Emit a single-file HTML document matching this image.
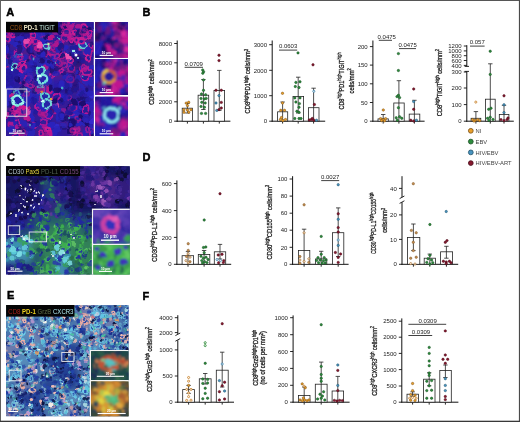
<!DOCTYPE html><html><head><meta charset="utf-8"><title>Figure</title><style>html,body{margin:0;padding:0;background:#fff}svg{display:block}.ta{fill:#361e98;opacity:0.8}.tb{fill:#58208c;opacity:0.8}.tc{fill:#2a34b4;opacity:0.8}.td{fill:#2a20ac;opacity:0.8}.te{fill:#1e1064;opacity:0.8}.tf{fill:#20127a;opacity:0.65}.tg{fill:#2c1c98;stroke:#c81c94;stroke-width:1.9;opacity:0.85}.th{fill:#2a24bc;opacity:0.65}.ti{fill:#2a22b4;opacity:0.65}.tj{fill:#1c1070;opacity:1.0}.tk{fill:#2a22b4;opacity:1.0}.tl{fill:#1c1070;opacity:0.65}.tm{fill:#2a22b4;opacity:0.85}.tn{fill:#b81888;opacity:0.85}.to{fill:#2a24bc;opacity:0.85}.tp{fill:#a81890;opacity:0.85}.tq{fill:#20127a;opacity:0.85}.tr{fill:#1c1070;opacity:0.85}.ts{fill:#241a9c;opacity:0.85}.tt{fill:#241a9c;opacity:1.0}.tu{fill:#2a24bc;opacity:1.0}.tv{fill:#b81890;opacity:0.85}.tw{fill:#2c1c98;stroke:#b8189a;stroke-width:1.8;opacity:0.85}.tx{fill:#2c1c98;stroke:#b8189a;stroke-width:1.8;opacity:1.0}.ty{fill:#a81890;opacity:0.65}.tz{fill:#2a30b0;stroke:#60d4d0;stroke-width:1.6;opacity:1.0}.taa{fill:#a81890;opacity:1.0}.tab{fill:#241a9c;opacity:0.65}.tac{fill:#2c1c98;stroke:#b8189a;stroke-width:1.8;opacity:0.65}.tad{fill:#2c1c98;stroke:#c81c94;stroke-width:1.9;opacity:0.65}.tae{fill:#20127a;opacity:1.0}.taf{fill:#342cd0;opacity:1.0}.tag{fill:#241888;opacity:0.85}.tah{fill:#1a0e58;opacity:0.65}.tai{fill:#ec50b0;opacity:1.0}.taj{fill:#1a0e58;opacity:0.85}.tak{fill:#2c1c98;stroke:#c81c94;stroke-width:1.9;opacity:1.0}.tal{fill:#ec50b0;opacity:0.85}.tam{fill:none;stroke:#b01890;stroke-width:1.7;opacity:0.85}.tan{fill:#342cd0;opacity:0.65}.tao{fill:#2a30b0;stroke:#60d4d0;stroke-width:1.6;opacity:0.65}.tap{fill:#342cd0;opacity:0.85}.taq{fill:#241888;opacity:0.65}.tar{fill:none;stroke:#b01890;stroke-width:1.7;opacity:1.0}.tas{fill:#b81890;opacity:1.0}.tat{fill:#b81888;opacity:0.65}.tau{fill:#2420a8;stroke:#a01890;stroke-width:1.6;opacity:0.85}.tav{fill:#b81890;opacity:0.65}.taw{fill:#2420a8;stroke:#a01890;stroke-width:1.6;opacity:0.65}.tax{fill:#b81888;opacity:1.0}.tay{fill:none;stroke:#b01890;stroke-width:1.7;opacity:0.65}.taz{fill:#1a0e58;opacity:1.0}.tba{fill:#481078;opacity:0.85}.tbb{fill:#2420a8;stroke:#a01890;stroke-width:1.6;opacity:1.0}.tbc{fill:#241888;opacity:1.0}.tbd{fill:#1e1058;opacity:0.8}.tbe{fill:#281ea4;opacity:0.8}.tbf{fill:#901c8c;opacity:0.8}.tbg{fill:#600c50;opacity:0.65}.tbh{fill:#701880;opacity:1.0}.tbi{fill:#1a1060;opacity:0.85}.tbj{fill:#dc2aa0;opacity:0.65}.tbk{fill:#dc2aa0;opacity:1.0}.tbl{fill:#2a24b8;opacity:1.0}.tbm{fill:#2a24b8;opacity:0.85}.tbn{fill:#c01890;opacity:1.0}.tbo{fill:#c01890;opacity:0.65}.tbp{fill:#2a1a90;opacity:0.65}.tbq{fill:#2a24b8;opacity:0.65}.tbr{fill:#1a1060;opacity:1.0}.tbs{fill:#2a1a90;opacity:1.0}.tbt{fill:#701880;opacity:0.65}.tbu{fill:#701880;opacity:0.85}.tbv{fill:#1a1060;opacity:0.65}.tbw{fill:#c01890;opacity:0.85}.tbx{fill:#600c50;opacity:0.85}.tby{fill:#dc2aa0;opacity:0.85}.tbz{fill:#2a1a90;opacity:0.85}.tca{fill:#901880;opacity:1.0}.tcb{fill:#901880;opacity:0.65}.tcc{fill:#901880;opacity:0.85}.tcd{fill:#5028b0;opacity:1.0}.tce{fill:#5028b0;opacity:0.65}.tcf{fill:#181258;opacity:0.8}.tcg{fill:#34207e;opacity:0.8}.tch{fill:#1c1668;opacity:0.8}.tci{fill:#24487c;opacity:0.8}.tcj{fill:#202088;opacity:0.8}.tck{fill:#52298e;opacity:0.8}.tcl{fill:#286a68;opacity:0.8}.tcm{fill:#389850;opacity:0.8}.tcn{fill:#48a8b8;opacity:0.8}.tco{fill:#221a78;opacity:1.0}.tcp{fill:#2430a0;stroke:#48b858;stroke-width:1.3;opacity:0.85}.tcq{fill:#2428a0;opacity:1.0}.tcr{fill:#7038a8;opacity:0.65}.tcs{fill:#30805a;opacity:1.0}.tct{fill:#2230a0;opacity:0.85}.tcu{fill:#2a2088;opacity:0.85}.tcv{fill:#201870;opacity:1.0}.tcw{fill:#1c2a80;opacity:0.85}.tcx{fill:#0c0a34;opacity:0.85}.tcy{fill:#2428a0;opacity:0.85}.tcz{fill:#32208c;opacity:1.0}.tda{fill:#0c0a34;opacity:1.0}.tdb{fill:#6834a0;opacity:1.0}.tdc{fill:#3cac50;opacity:0.85}.tdd{fill:#2428a0;opacity:0.65}.tde{fill:#2a7850;opacity:1.0}.tdf{fill:#2224a0;opacity:1.0}.tdg{fill:#161050;opacity:1.0}.tdh{fill:#2838a8;opacity:0.65}.tdi{fill:#32208c;opacity:0.85}.tdj{fill:#32208c;opacity:0.65}.tdk{fill:#3890b0;opacity:0.85}.tdl{fill:#2a7048;opacity:0.85}.tdm{fill:#221a78;opacity:0.85}.tdn{fill:#161050;opacity:0.85}.tdo{fill:#2230a0;opacity:1.0}.tdp{fill:#3cac50;opacity:1.0}.tdq{fill:#201870;opacity:0.85}.tdr{fill:#3cac50;opacity:0.65}.tds{fill:#2a7850;opacity:0.65}.tdt{fill:#1c2a80;opacity:0.65}.tdu{fill:#1c1a80;opacity:0.65}.tdv{fill:#2224a0;opacity:0.85}.tdw{fill:#2a2088;opacity:0.65}.tdx{fill:#60c464;opacity:0.85}.tdy{fill:#2430a0;stroke:#48b858;stroke-width:1.3;opacity:0.65}.tdz{fill:#60c464;opacity:1.0}.tea{fill:#245070;opacity:1.0}.teb{fill:#245070;opacity:0.85}.tec{fill:#2a7048;opacity:1.0}.ted{fill:#4a2c98;opacity:0.85}.tee{fill:#2430a0;stroke:#48b858;stroke-width:1.3;opacity:1.0}.tef{fill:#2a7850;opacity:0.85}.teg{fill:#161050;opacity:0.65}.teh{fill:#2a7048;opacity:0.65}.tei{fill:#2224a0;opacity:0.65}.tej{fill:#f0e8d0}.tek{fill:#201870;opacity:0.65}.tel{fill:#2230a0;stroke:#3ca850;stroke-width:1.3;opacity:0.65}.tem{fill:#0c0a34;opacity:0.65}.ten{fill:#a860c0;opacity:0.85}.teo{fill:#2230a0;opacity:0.65}.tep{fill:#4a2c98;opacity:0.65}.teq{fill:#221a78;opacity:0.65}.ter{fill:#6834a0;opacity:0.85}.tes{fill:#2a2088;opacity:1.0}.tet{fill:#1c2a80;opacity:1.0}.teu{fill:#4a2c98;opacity:1.0}.tev{fill:#3890b0;opacity:0.65}.tew{fill:#1c5060;opacity:0.85}.tex{fill:#ffffff}.tey{fill:#245070;opacity:0.65}.tez{fill:#1c1a80;opacity:1.0}.tfa{fill:#2230a0;stroke:#3ca850;stroke-width:1.3;opacity:1.0}.tfb{fill:#30805a;opacity:0.85}.tfc{fill:#38a060;opacity:1.0}.tfd{fill:#2230a0;stroke:#3ca850;stroke-width:1.3;opacity:0.85}.tfe{fill:#1c5060;opacity:0.65}.tff{fill:#1c5060;opacity:1.0}.tfg{fill:#8444b0;opacity:0.85}.tfh{fill:#30805a;opacity:0.65}.tfi{fill:#2a3c98;opacity:0.65}.tfj{fill:#38a060;opacity:0.85}.tfk{fill:#1c1a80;opacity:0.85}.tfl{fill:#2a3c98;opacity:0.85}.tfm{fill:#58c8d8;opacity:1.0}.tfn{fill:#6834a0;opacity:0.65}.tfo{fill:#60c464;opacity:0.65}.tfp{fill:#2838a8;opacity:1.0}.tfq{fill:#38a060;opacity:0.65}.tfr{fill:#58c8d8;opacity:0.65}.tfs{fill:#58c8d8;opacity:0.85}.tft{fill:#8444b0;opacity:0.65}.tfu{fill:#7038a8;opacity:1.0}.tfv{fill:#2838a8;opacity:0.85}.tfw{fill:#a860c0;opacity:0.65}.tfx{fill:#80e0e0;opacity:1.0}.tfy{fill:#3890b0;opacity:1.0}.tfz{fill:#8444b0;opacity:1.0}.tga{fill:#2a3c98;opacity:1.0}.tgb{fill:#7038a8;opacity:0.85}.tgc{fill:#5c42b4;opacity:0.8}.tgd{fill:#4632a8;opacity:0.8}.tge{fill:#38806c;opacity:0.8}.tgf{fill:#4632a8;opacity:1.0}.tgg{fill:#6a48b8;opacity:0.85}.tgh{fill:#5a3cb4;opacity:0.65}.tgi{fill:#4632a8;opacity:0.85}.tgj{fill:#3050a0;opacity:0.65}.tgk{fill:#4632a8;opacity:0.65}.tgl{fill:#5a40b4;opacity:0.85}.tgm{fill:#5a40b4;opacity:0.65}.tgn{fill:#6a48b8;opacity:1.0}.tgo{fill:#5a3cb4;opacity:0.85}.tgp{fill:#38a050;opacity:1.0}.tgq{fill:#3428a0;opacity:1.0}.tgr{fill:#5a3cb4;opacity:1.0}.tgs{fill:#3428a0;opacity:0.85}.tgt{fill:#3050a0;opacity:1.0}.tgu{fill:#5a40b4;opacity:1.0}.tgv{fill:#6a48b8;opacity:0.65}.tgw{fill:#38a050;opacity:0.65}.tgx{fill:#3428a0;opacity:0.65}.tgy{fill:#38a050;opacity:0.85}.tgz{fill:#3050a0;opacity:0.85}.tha{fill:#46a854;opacity:0.8}.thb{fill:#60c860;opacity:1.0}.thc{fill:#60c860;opacity:0.65}.thd{fill:#2a7050;opacity:0.85}.the{fill:#48b450;opacity:1.0}.thf{fill:#48b450;opacity:0.65}.thg{fill:#48b450;opacity:0.85}.thh{fill:#60c860;opacity:0.85}.thi{fill:#2a7050;opacity:0.65}.thj{fill:#2a7050;opacity:1.0}.thk{fill:#3c9c4c;opacity:0.85}.thl{fill:#3c9c4c;opacity:1.0}.thm{fill:#3c9c4c;opacity:0.65}.thn{fill:#5080b0;opacity:0.8}.tho{fill:#8088b0;opacity:0.8}.thp{fill:#64a0c4;opacity:0.8}.thq{fill:#223c90;opacity:0.8}.thr{fill:#1c3088;opacity:1.0}.ths{fill:#1c3088;opacity:0.85}.tht{fill:#1a34a0;opacity:0.85}.thu{fill:#ecbcb4;opacity:0.65}.thv{fill:#2a50b0;stroke:#70cce8;stroke-width:1.3;opacity:0.65}.thw{fill:#a4d4e0;opacity:0.85}.thx{fill:#1c3088;opacity:0.65}.thy{fill:#5cb4d0;opacity:1.0}.thz{fill:#2444a8;opacity:0.85}.tia{fill:#dcc8c0;opacity:0.85}.tib{fill:#5cb4d0;opacity:0.65}.tic{fill:#a4d4e0;opacity:0.65}.tid{fill:#5cb4d0;opacity:0.85}.tie{fill:#0c1844;opacity:1.0}.tif{fill:#3858b0;stroke:#ecb0a8;stroke-width:1.3;opacity:0.85}.tig{fill:#a4d4e0;opacity:1.0}.tih{fill:#2a48a8;stroke:#6cbcd8;stroke-width:1.3;opacity:0.85}.tii{fill:#b898d0;opacity:0.85}.tij{fill:#e4a8a0;opacity:0.85}.tik{fill:#e4a8a0;opacity:0.65}.til{fill:#b898d0;opacity:1.0}.tim{fill:#1a34a0;opacity:1.0}.tin{fill:#2a48a8;stroke:#6cbcd8;stroke-width:1.3;opacity:0.65}.tio{fill:#1a34a0;opacity:0.65}.tip{fill:#48b8a0;opacity:0.65}.tiq{fill:#2a48a8;stroke:#6cbcd8;stroke-width:1.3;opacity:1.0}.tir{fill:#0c1844;opacity:0.65}.tis{fill:#f4ece8;opacity:0.85}.tit{fill:#60c4e4;opacity:1.0}.tiu{fill:#58b8d8;opacity:1.0}.tiv{fill:#ecbcb4;opacity:0.85}.tiw{fill:#ecbcb4;opacity:1.0}.tix{fill:#2444a8;opacity:1.0}.tiy{fill:#2444a8;opacity:0.65}.tiz{fill:#e49c5c;opacity:1.0}.tja{fill:#0c1844;opacity:0.85}.tjb{fill:#e4a8a0;opacity:1.0}.tjc{fill:#f4f4ec;opacity:1.0}.tjd{fill:#2a50b0;stroke:#70cce8;stroke-width:1.3;opacity:1.0}.tje{fill:#3050a8;stroke:#ecb0a8;stroke-width:1.3;opacity:0.85}.tjf{fill:#3858b0;stroke:#ecb0a8;stroke-width:1.3;opacity:1.0}.tjg{fill:#3050a8;stroke:#ecb0a8;stroke-width:1.3;opacity:0.65}.tjh{fill:#2a50b0;stroke:#70cce8;stroke-width:1.3;opacity:0.85}.tji{fill:#60c4e4;opacity:0.65}.tjj{fill:#ecb8b0;opacity:0.85}.tjk{fill:#b898d0;opacity:0.65}.tjl{fill:#98dce8;opacity:1.0}.tjm{fill:#f4f4ec;opacity:0.65}.tjn{fill:#142068;opacity:0.85}.tjo{fill:#142068;opacity:1.0}.tjp{fill:#4cc4a4;opacity:0.85}.tjq{fill:#58b8d8;opacity:0.65}.tjr{fill:#142068;opacity:0.65}.tjs{fill:#3858b0;stroke:#ecb0a8;stroke-width:1.3;opacity:0.65}.tjt{fill:#48b8a0;opacity:1.0}.tju{fill:#dcc8c0;opacity:0.65}.tjv{fill:#e49c5c;opacity:0.65}.tjw{fill:#c47080;opacity:0.65}.tjx{fill:#e49c5c;opacity:0.85}.tjy{fill:#98dce8;opacity:0.85}.tjz{fill:#48b8a0;opacity:0.85}.tka{fill:#58b8d8;opacity:0.85}.tkb{fill:#ecb8b0;opacity:0.65}.tkc{fill:#48b0d0;opacity:0.65}.tkd{fill:#4cc4a4;opacity:0.65}.tke{fill:#c47080;opacity:0.85}.tkf{fill:#60c4e4;opacity:0.85}.tkg{fill:#48b0d0;opacity:0.85}.tkh{fill:#ecb8b0;opacity:1.0}.tki{fill:#c47080;opacity:1.0}.tkj{fill:#f4f4ec;opacity:0.85}.tkk{fill:#3050a8;stroke:#ecb0a8;stroke-width:1.3;opacity:1.0}.tkl{fill:#f4ece8;opacity:1.0}.tkm{fill:#dcc8c0;opacity:1.0}.tkn{fill:#48b0d0;opacity:1.0}.tko{fill:#98dce8;opacity:0.65}.tkp{fill:#f4ece8;opacity:0.65}.tkq{fill:#4cc4a4;opacity:1.0}.tkr{fill:#1e4448;opacity:0.8}.tks{fill:#a05838;opacity:0.8}.tkt{fill:#50b0a8;opacity:0.8}.tku{fill:#386850;opacity:0.8}.tkv{fill:#1c2c58;opacity:1.0}.tkw{fill:#1c4848;opacity:1.0}.tkx{fill:#245050;opacity:0.65}.tky{fill:#a04030;opacity:1.0}.tkz{fill:#2c5c48;opacity:1.0}.tla{fill:#1c2c58;opacity:0.85}.tlb{fill:#3c6c4c;opacity:1.0}.tlc{fill:#1c4848;opacity:0.65}.tld{fill:#c85030;opacity:0.85}.tle{fill:#306050;opacity:1.0}.tlf{fill:#c85030;opacity:1.0}.tlg{fill:#e08050;opacity:0.65}.tlh{fill:#1c4848;opacity:0.85}.tli{fill:#c85030;opacity:0.65}.tlj{fill:#e08050;opacity:1.0}.tlk{fill:#68c890;opacity:0.85}.tll{fill:#50c0c0;opacity:0.85}.tlm{fill:#68c890;opacity:0.65}.tln{fill:#50c0c0;opacity:0.65}.tlo{fill:#e08050;opacity:0.85}.tlp{fill:#50c0c0;opacity:1.0}.tlq{fill:#3c6c4c;opacity:0.85}.tlr{fill:#68c890;opacity:1.0}.tls{fill:#245050;opacity:1.0}.tlt{fill:#1c2c58;opacity:0.65}.tlu{fill:#3890a0;opacity:0.85}.tlv{fill:#306050;opacity:0.65}.tlw{fill:#a04030;opacity:0.65}.tlx{fill:#285858;opacity:1.0}.tly{fill:#3c6c4c;opacity:0.65}.tlz{fill:#2c5c48;opacity:0.85}.tma{fill:#306050;opacity:0.85}.tmb{fill:#245050;opacity:0.85}.tmc{fill:#a04030;opacity:0.85}.tmd{fill:#285858;opacity:0.85}.tme{fill:#2c5c48;opacity:0.65}.tmf{fill:#444838;opacity:0.8}.tmg{fill:#c08030;opacity:0.8}.tmh{fill:#d8c840;opacity:0.8}.tmi{fill:#58b878;opacity:0.8}.tmj{fill:#b0c850;opacity:0.85}.tmk{fill:#e0a840;opacity:1.0}.tml{fill:#2c4058;opacity:1.0}.tmm{fill:#d08830;opacity:0.85}.tmn{fill:#a86030;opacity:0.85}.tmo{fill:#d08830;opacity:1.0}.tmp{fill:#2c4058;opacity:0.85}.tmq{fill:#e8d840;opacity:0.65}.tmr{fill:#a86030;opacity:0.65}.tms{fill:#d89830;opacity:0.85}.tmt{fill:#e0a840;opacity:0.65}.tmu{fill:#384838;opacity:1.0}.tmv{fill:#785830;opacity:0.85}.tmw{fill:#384838;opacity:0.65}.tmx{fill:#78d098;opacity:0.65}.tmy{fill:#788040;opacity:1.0}.tmz{fill:#d08830;opacity:0.65}.tna{fill:#2c4058;opacity:0.65}.tnb{fill:#c8c040;opacity:1.0}.tnc{fill:#48b880;opacity:1.0}.tnd{fill:#785830;opacity:0.65}.tne{fill:#e8d840;opacity:1.0}.tnf{fill:#788040;opacity:0.65}.tng{fill:#e0a840;opacity:0.85}.tnh{fill:#384838;opacity:0.85}.tni{fill:#a86030;opacity:1.0}.tnj{fill:#48b880;opacity:0.65}.tnk{fill:#e8d840;opacity:0.85}.tnl{fill:#d89830;opacity:1.0}.tnm{fill:#b0c850;opacity:0.65}.tnn{fill:#785830;opacity:1.0}.tno{fill:#b0c850;opacity:1.0}.tnp{fill:#788040;opacity:0.85}.tnq{fill:#d89830;opacity:0.65}.tnr{fill:#c8c040;opacity:0.65}.tns{fill:#78d098;opacity:1.0}.tnt{fill:#78d098;opacity:0.85}</style></head><body><svg width="520" height="422" viewBox="0 0 520 422">
<defs><filter id="cb" x="-20%" y="-20%" width="140%" height="140%"><feGaussianBlur stdDeviation="3"/></filter><filter id="blA" x="-10%" y="-10%" width="120%" height="120%"><feTurbulence type="fractalNoise" baseFrequency="0.08" numOctaves="2" seed="2" result="n"/><feDisplacementMap in="SourceGraphic" in2="n" scale="6" xChannelSelector="R" yChannelSelector="G" result="d"/><feGaussianBlur in="d" stdDeviation="0.75"/></filter><filter id="blA1" x="-10%" y="-10%" width="120%" height="120%"><feTurbulence type="fractalNoise" baseFrequency="0.12" numOctaves="2" seed="2" result="n"/><feDisplacementMap in="SourceGraphic" in2="n" scale="3" xChannelSelector="R" yChannelSelector="G" result="d"/><feGaussianBlur in="d" stdDeviation="0.8"/></filter><filter id="blA2" x="-10%" y="-10%" width="120%" height="120%"><feTurbulence type="fractalNoise" baseFrequency="0.12" numOctaves="2" seed="2" result="n"/><feDisplacementMap in="SourceGraphic" in2="n" scale="3" xChannelSelector="R" yChannelSelector="G" result="d"/><feGaussianBlur in="d" stdDeviation="0.8"/></filter><filter id="blA3" x="-10%" y="-10%" width="120%" height="120%"><feTurbulence type="fractalNoise" baseFrequency="0.12" numOctaves="2" seed="2" result="n"/><feDisplacementMap in="SourceGraphic" in2="n" scale="3" xChannelSelector="R" yChannelSelector="G" result="d"/><feGaussianBlur in="d" stdDeviation="0.8"/></filter><filter id="blC" x="-10%" y="-10%" width="120%" height="120%"><feTurbulence type="fractalNoise" baseFrequency="0.09" numOctaves="2" seed="5" result="n"/><feDisplacementMap in="SourceGraphic" in2="n" scale="5" xChannelSelector="R" yChannelSelector="G" result="d"/><feGaussianBlur in="d" stdDeviation="0.65"/></filter><filter id="blC1" x="-10%" y="-10%" width="120%" height="120%"><feTurbulence type="fractalNoise" baseFrequency="0.09" numOctaves="2" seed="2" result="n"/><feDisplacementMap in="SourceGraphic" in2="n" scale="5" xChannelSelector="R" yChannelSelector="G" result="d"/><feGaussianBlur in="d" stdDeviation="1.0"/></filter><filter id="blC2" x="-10%" y="-10%" width="120%" height="120%"><feTurbulence type="fractalNoise" baseFrequency="0.09" numOctaves="2" seed="2" result="n"/><feDisplacementMap in="SourceGraphic" in2="n" scale="5" xChannelSelector="R" yChannelSelector="G" result="d"/><feGaussianBlur in="d" stdDeviation="0.8"/></filter><filter id="blE" x="-10%" y="-10%" width="120%" height="120%"><feTurbulence type="fractalNoise" baseFrequency="0.1" numOctaves="2" seed="9" result="n"/><feDisplacementMap in="SourceGraphic" in2="n" scale="5" xChannelSelector="R" yChannelSelector="G" result="d"/><feGaussianBlur in="d" stdDeviation="0.62"/></filter><filter id="blE1" x="-10%" y="-10%" width="120%" height="120%"><feTurbulence type="fractalNoise" baseFrequency="0.09" numOctaves="2" seed="2" result="n"/><feDisplacementMap in="SourceGraphic" in2="n" scale="5" xChannelSelector="R" yChannelSelector="G" result="d"/><feGaussianBlur in="d" stdDeviation="1.0"/></filter><filter id="blE2" x="-10%" y="-10%" width="120%" height="120%"><feTurbulence type="fractalNoise" baseFrequency="0.09" numOctaves="2" seed="2" result="n"/><feDisplacementMap in="SourceGraphic" in2="n" scale="5" xChannelSelector="R" yChannelSelector="G" result="d"/><feGaussianBlur in="d" stdDeviation="1.0"/></filter></defs>
<rect x="0" y="0" width="520" height="422" fill="#fff"/>
<text x="6.3" y="15.8" font-size="11" font-family="Liberation Sans, Arial, sans-serif" text-anchor="start" fill="#000" font-weight="bold" stroke="#000" stroke-width="0.45">A</text>
<text x="142.6" y="15.8" font-size="11" font-family="Liberation Sans, Arial, sans-serif" text-anchor="start" fill="#000" font-weight="bold" stroke="#000" stroke-width="0.45">B</text>
<text x="6.9" y="160.5" font-size="11" font-family="Liberation Sans, Arial, sans-serif" text-anchor="start" fill="#000" font-weight="bold" stroke="#000" stroke-width="0.45">C</text>
<text x="142.6" y="161.2" font-size="11" font-family="Liberation Sans, Arial, sans-serif" text-anchor="start" fill="#000" font-weight="bold" stroke="#000" stroke-width="0.45">D</text>
<text x="6.9" y="298.7" font-size="11" font-family="Liberation Sans, Arial, sans-serif" text-anchor="start" fill="#000" font-weight="bold" stroke="#000" stroke-width="0.45">E</text>
<text x="142.6" y="299.8" font-size="11" font-family="Liberation Sans, Arial, sans-serif" text-anchor="start" fill="#000" font-weight="bold" stroke="#000" stroke-width="0.45">F</text>
<clipPath id="cpA"><rect x="6" y="22" width="87.6" height="114"/></clipPath>
<g clip-path="url(#cpA)"><rect x="6" y="22" width="87.6" height="114" fill="#261c94"/>
<g filter="url(#cb)">
<rect x="-2" y="14" width="103.6" height="130" fill="#261c94"/>
<rect class="ta" x="-2" y="14" width="19.4" height="19.9"/>
<rect class="ta" x="16.4" y="14" width="11.9" height="19.9"/>
<rect class="ta" x="27.4" y="14" width="11.9" height="19.9"/>
<rect class="ta" x="38.3" y="14" width="11.9" height="19.9"/>
<rect class="ta" x="49.3" y="14" width="11.9" height="19.9"/>
<rect class="tb" x="60.2" y="14" width="11.9" height="19.9"/>
<rect class="tb" x="71.2" y="14" width="11.9" height="19.9"/>
<rect class="ta" x="82.1" y="14" width="19.4" height="19.9"/>
<rect class="tb" x="-2" y="32.9" width="19.4" height="12.4"/>
<rect class="ta" x="16.4" y="32.9" width="11.9" height="12.4"/>
<rect class="tb" x="27.4" y="32.9" width="11.9" height="12.4"/>
<rect class="tc" x="38.3" y="32.9" width="11.9" height="12.4"/>
<rect class="ta" x="49.3" y="32.9" width="11.9" height="12.4"/>
<rect class="tb" x="60.2" y="32.9" width="11.9" height="12.4"/>
<rect class="tb" x="71.2" y="32.9" width="11.9" height="12.4"/>
<rect class="tb" x="82.1" y="32.9" width="19.4" height="12.4"/>
<rect class="ta" x="-2" y="44.3" width="19.4" height="12.4"/>
<rect class="tb" x="16.4" y="44.3" width="11.9" height="12.4"/>
<rect class="tb" x="27.4" y="44.3" width="11.9" height="12.4"/>
<rect class="tc" x="38.3" y="44.3" width="11.9" height="12.4"/>
<rect class="tb" x="49.3" y="44.3" width="11.9" height="12.4"/>
<rect class="ta" x="60.2" y="44.3" width="11.9" height="12.4"/>
<rect class="tc" x="71.2" y="44.3" width="11.9" height="12.4"/>
<rect class="tb" x="82.1" y="44.3" width="19.4" height="12.4"/>
<rect class="tc" x="-2" y="55.7" width="19.4" height="12.4"/>
<rect class="tb" x="16.4" y="55.7" width="11.9" height="12.4"/>
<rect class="td" x="27.4" y="55.7" width="11.9" height="12.4"/>
<rect class="tc" x="38.3" y="55.7" width="11.9" height="12.4"/>
<rect class="td" x="49.3" y="55.7" width="11.9" height="12.4"/>
<rect class="tb" x="60.2" y="55.7" width="11.9" height="12.4"/>
<rect class="te" x="71.2" y="55.7" width="11.9" height="12.4"/>
<rect class="ta" x="82.1" y="55.7" width="19.4" height="12.4"/>
<rect class="td" x="-2" y="67.1" width="19.4" height="12.4"/>
<rect class="td" x="16.4" y="67.1" width="11.9" height="12.4"/>
<rect class="ta" x="27.4" y="67.1" width="11.9" height="12.4"/>
<rect class="tc" x="38.3" y="67.1" width="11.9" height="12.4"/>
<rect class="tb" x="49.3" y="67.1" width="11.9" height="12.4"/>
<rect class="tb" x="60.2" y="67.1" width="11.9" height="12.4"/>
<rect class="tb" x="71.2" y="67.1" width="11.9" height="12.4"/>
<rect class="tb" x="82.1" y="67.1" width="19.4" height="12.4"/>
<rect class="td" x="-2" y="78.5" width="19.4" height="12.4"/>
<rect class="ta" x="16.4" y="78.5" width="11.9" height="12.4"/>
<rect class="tb" x="27.4" y="78.5" width="11.9" height="12.4"/>
<rect class="tc" x="38.3" y="78.5" width="11.9" height="12.4"/>
<rect class="td" x="49.3" y="78.5" width="11.9" height="12.4"/>
<rect class="td" x="60.2" y="78.5" width="11.9" height="12.4"/>
<rect class="tb" x="71.2" y="78.5" width="11.9" height="12.4"/>
<rect class="ta" x="82.1" y="78.5" width="19.4" height="12.4"/>
<rect class="tc" x="-2" y="89.9" width="19.4" height="12.4"/>
<rect class="tc" x="16.4" y="89.9" width="11.9" height="12.4"/>
<rect class="td" x="27.4" y="89.9" width="11.9" height="12.4"/>
<rect class="tc" x="38.3" y="89.9" width="11.9" height="12.4"/>
<rect class="ta" x="49.3" y="89.9" width="11.9" height="12.4"/>
<rect class="ta" x="60.2" y="89.9" width="11.9" height="12.4"/>
<rect class="ta" x="71.2" y="89.9" width="11.9" height="12.4"/>
<rect class="td" x="82.1" y="89.9" width="19.4" height="12.4"/>
<rect class="tb" x="-2" y="101.3" width="19.4" height="12.4"/>
<rect class="tb" x="16.4" y="101.3" width="11.9" height="12.4"/>
<rect class="ta" x="27.4" y="101.3" width="11.9" height="12.4"/>
<rect class="tc" x="38.3" y="101.3" width="11.9" height="12.4"/>
<rect class="tb" x="49.3" y="101.3" width="11.9" height="12.4"/>
<rect class="ta" x="60.2" y="101.3" width="11.9" height="12.4"/>
<rect class="td" x="71.2" y="101.3" width="11.9" height="12.4"/>
<rect class="ta" x="82.1" y="101.3" width="19.4" height="12.4"/>
<rect class="ta" x="-2" y="112.7" width="19.4" height="12.4"/>
<rect class="tb" x="16.4" y="112.7" width="11.9" height="12.4"/>
<rect class="ta" x="27.4" y="112.7" width="11.9" height="12.4"/>
<rect class="ta" x="38.3" y="112.7" width="11.9" height="12.4"/>
<rect class="ta" x="49.3" y="112.7" width="11.9" height="12.4"/>
<rect class="tb" x="60.2" y="112.7" width="11.9" height="12.4"/>
<rect class="td" x="71.2" y="112.7" width="11.9" height="12.4"/>
<rect class="td" x="82.1" y="112.7" width="19.4" height="12.4"/>
<rect class="ta" x="-2" y="124.1" width="19.4" height="19.9"/>
<rect class="tb" x="16.4" y="124.1" width="11.9" height="19.9"/>
<rect class="ta" x="27.4" y="124.1" width="11.9" height="19.9"/>
<rect class="tb" x="38.3" y="124.1" width="11.9" height="19.9"/>
<rect class="td" x="49.3" y="124.1" width="11.9" height="19.9"/>
<rect class="ta" x="60.2" y="124.1" width="11.9" height="19.9"/>
<rect class="tb" x="71.2" y="124.1" width="11.9" height="19.9"/>
<rect class="ta" x="82.1" y="124.1" width="19.4" height="19.9"/>
</g>
<g filter="url(#blA)">
<circle class="tf" cx="71.4" cy="41.8" r="3"/>
<circle class="tg" cx="72.6" cy="116.9" r="3.2"/>
<circle class="tf" cx="61.1" cy="63.7" r="2.1"/>
<circle class="th" cx="73.6" cy="119.3" r="2.6"/>
<circle class="ti" cx="81.7" cy="34" r="3"/>
<circle class="tj" cx="81.2" cy="122.6" r="2.3"/>
<circle class="tk" cx="83.6" cy="133.3" r="2.9"/>
<circle class="tl" cx="85.3" cy="101.6" r="2.9"/>
<circle class="tf" cx="27.9" cy="135.1" r="1.9"/>
<circle class="tm" cx="83" cy="90.9" r="2.5"/>
<circle class="tn" cx="7.1" cy="66.7" r="2"/>
<circle class="to" cx="61.1" cy="109.1" r="2.3"/>
<circle class="tp" cx="15.8" cy="38.4" r="2.5"/>
<circle class="tm" cx="23.4" cy="112.2" r="2.3"/>
<circle class="tq" cx="63.3" cy="58.5" r="2.1"/>
<circle class="tr" cx="82.2" cy="110.7" r="2.4"/>
<circle class="tr" cx="87" cy="125.3" r="3.6"/>
<circle class="ts" cx="49.3" cy="119.9" r="1.9"/>
<circle class="tt" cx="62.1" cy="111.9" r="3.2"/>
<circle class="tm" cx="81.3" cy="78.4" r="2.2"/>
<circle class="tr" cx="69.7" cy="91" r="1.9"/>
<circle class="tm" cx="70.8" cy="20.4" r="3.6"/>
<circle class="tt" cx="33.6" cy="123.1" r="2.9"/>
<circle class="tk" cx="68" cy="66" r="2.7"/>
<circle class="tu" cx="74.6" cy="55.5" r="3.1"/>
<circle class="tv" cx="89.3" cy="68.1" r="3.3"/>
<circle class="tt" cx="22.4" cy="91.4" r="1.9"/>
<circle class="tt" cx="18.3" cy="32.6" r="2.4"/>
<circle class="tw" cx="35.4" cy="124.9" r="3"/>
<circle class="tq" cx="71.9" cy="126.2" r="2.3"/>
<circle class="tx" cx="92.5" cy="133.6" r="3.7"/>
<circle class="tx" cx="17.5" cy="53.3" r="3.4"/>
<circle class="tu" cx="53" cy="89.8" r="3.2"/>
<circle class="ty" cx="86.7" cy="79.6" r="2"/>
<circle class="tr" cx="48.2" cy="124.6" r="3.5"/>
<circle class="tn" cx="41.9" cy="74.3" r="1.8"/>
<circle class="tu" cx="78.5" cy="102.7" r="2.3"/>
<circle class="th" cx="58.9" cy="38.9" r="1.9"/>
<circle class="ti" cx="60.9" cy="28.5" r="2.6"/>
<circle class="to" cx="18.4" cy="93.3" r="3.7"/>
<circle class="tu" cx="52.4" cy="88.4" r="2.6"/>
<circle class="tf" cx="56" cy="67.1" r="2"/>
<circle class="tz" cx="26.7" cy="89.8" r="3.2"/>
<circle class="tl" cx="40.3" cy="105.6" r="2"/>
<circle class="tr" cx="33.5" cy="123.5" r="3.3"/>
<circle class="ts" cx="19.8" cy="38" r="2"/>
<circle class="tj" cx="87.9" cy="29.8" r="2.1"/>
<circle class="tl" cx="15.8" cy="26.9" r="3.6"/>
<circle class="tl" cx="63.6" cy="128.5" r="2.4"/>
<circle class="taa" cx="54" cy="111.9" r="2.4"/>
<circle class="tt" cx="25.3" cy="25.1" r="3"/>
<circle class="tf" cx="72.2" cy="77.4" r="2.7"/>
<circle class="ts" cx="60.2" cy="89.5" r="2.5"/>
<circle class="to" cx="29.1" cy="79.6" r="3.2"/>
<circle class="tq" cx="26.9" cy="109.2" r="2.9"/>
<circle class="tt" cx="12.3" cy="125.6" r="3.8"/>
<circle class="tr" cx="85.5" cy="111.6" r="3.2"/>
<circle class="tab" cx="61.5" cy="90.6" r="2.5"/>
<circle class="tac" cx="43.9" cy="125.1" r="3.1"/>
<circle class="tac" cx="8.5" cy="57.1" r="2.6"/>
<circle class="ts" cx="9" cy="129.9" r="2.3"/>
<circle class="tg" cx="83.4" cy="75.2" r="3.2"/>
<circle class="tj" cx="81.9" cy="47.3" r="2.4"/>
<circle class="tu" cx="45.3" cy="41.6" r="3.9"/>
<circle class="tj" cx="38.7" cy="32.3" r="3.2"/>
<circle class="ti" cx="27.4" cy="116" r="2.6"/>
<circle class="tac" cx="90.8" cy="129.5" r="2.8"/>
<circle class="tab" cx="50.8" cy="134.3" r="2.3"/>
<circle class="tu" cx="51.5" cy="125.7" r="3.9"/>
<circle class="tu" cx="42.5" cy="52.5" r="2"/>
<circle class="tl" cx="9.8" cy="61.8" r="2.8"/>
<circle class="tad" cx="39.5" cy="50.8" r="3.1"/>
<circle class="tt" cx="11.1" cy="32.7" r="3.1"/>
<circle class="tr" cx="29.4" cy="21.6" r="2.7"/>
<circle class="tk" cx="37.8" cy="32.7" r="3.9"/>
<circle class="to" cx="61.6" cy="33.3" r="3.2"/>
<circle class="tt" cx="23.1" cy="67.8" r="3.9"/>
<circle class="tm" cx="94.5" cy="71.6" r="2.4"/>
<circle class="tae" cx="23" cy="131" r="3"/>
<circle class="taf" cx="74.3" cy="117.9" r="3.6"/>
<circle class="tr" cx="34.4" cy="66.3" r="2.5"/>
<circle class="tt" cx="46.2" cy="33.3" r="2.3"/>
<circle class="tu" cx="42.2" cy="100.1" r="3.7"/>
<circle class="to" cx="39.9" cy="80.4" r="3.6"/>
<circle class="tad" cx="50.2" cy="105.5" r="3.8"/>
<circle class="ts" cx="71.2" cy="113.4" r="2.5"/>
<circle class="tk" cx="57.7" cy="110.7" r="3.4"/>
<circle class="th" cx="4.5" cy="116.8" r="2.7"/>
<circle class="ts" cx="38.1" cy="55.3" r="2.6"/>
<circle class="tag" cx="73" cy="63.2" r="3.5"/>
<circle class="tg" cx="51.5" cy="57.3" r="3.7"/>
<circle class="tm" cx="78.6" cy="79.4" r="3.4"/>
<circle class="tu" cx="13.1" cy="69.5" r="2"/>
<circle class="to" cx="19.2" cy="102.2" r="3.7"/>
<circle class="tad" cx="70.7" cy="21.7" r="3.6"/>
<circle class="tl" cx="85.6" cy="28.6" r="2.3"/>
<circle class="tab" cx="38.6" cy="33.4" r="3.3"/>
<circle class="tu" cx="57.9" cy="117" r="3.2"/>
<circle class="tab" cx="72.6" cy="107.6" r="2.3"/>
<circle class="tk" cx="79.7" cy="32" r="2.8"/>
<circle class="tab" cx="89.9" cy="85" r="2.6"/>
<circle class="tt" cx="13" cy="33.8" r="3"/>
<circle class="ts" cx="39.8" cy="92.4" r="2.5"/>
<circle class="tr" cx="24.9" cy="86" r="2.8"/>
<circle class="th" cx="57.8" cy="115.4" r="2.7"/>
<circle class="tk" cx="93.6" cy="65.9" r="2.8"/>
<circle class="to" cx="41.8" cy="65.2" r="2.6"/>
<circle class="ts" cx="19.7" cy="21.4" r="1.9"/>
<circle class="to" cx="92.4" cy="118.9" r="2.9"/>
<circle class="to" cx="16.1" cy="44.8" r="3.8"/>
<circle class="ti" cx="26.6" cy="107.1" r="2"/>
<circle class="tu" cx="62.3" cy="46.5" r="1.9"/>
<circle class="th" cx="17.1" cy="97" r="3.7"/>
<circle class="tx" cx="17.6" cy="124.4" r="3"/>
<circle class="tk" cx="69.2" cy="121.2" r="2"/>
<circle class="tm" cx="22.5" cy="44" r="2.2"/>
<circle class="tr" cx="31.2" cy="55.3" r="3.3"/>
<circle class="to" cx="22.6" cy="95.9" r="2.5"/>
<circle class="th" cx="51.2" cy="123.9" r="2.1"/>
<circle class="tk" cx="85.8" cy="36.3" r="3.5"/>
<circle class="th" cx="13.4" cy="115.2" r="3.3"/>
<circle class="th" cx="30.9" cy="96.2" r="2.5"/>
<circle class="th" cx="23.1" cy="74.6" r="3"/>
<circle class="to" cx="20.9" cy="73.5" r="2"/>
<circle class="tah" cx="79" cy="61" r="1.8"/>
<circle class="tab" cx="40.1" cy="113.3" r="3.7"/>
<circle class="tu" cx="32.6" cy="62.9" r="3.3"/>
<circle class="tu" cx="29.5" cy="79.2" r="2.4"/>
<circle class="tu" cx="69.2" cy="132.1" r="3.4"/>
<circle class="tai" cx="18.9" cy="47.9" r="2.2"/>
<circle class="tad" cx="64.8" cy="37.6" r="3.8"/>
<circle class="th" cx="88" cy="103.9" r="3.8"/>
<circle class="tw" cx="71.4" cy="131.8" r="2.9"/>
<circle class="tl" cx="62" cy="28.3" r="1.9"/>
<circle class="tr" cx="19.3" cy="67.2" r="2.3"/>
<circle class="tj" cx="62.2" cy="26.7" r="3.7"/>
<circle class="ts" cx="50.8" cy="63" r="2.2"/>
<circle class="taj" cx="73.5" cy="55.9" r="3"/>
<circle class="tl" cx="38.6" cy="29.2" r="3.2"/>
<circle class="tv" cx="27.2" cy="109.1" r="3.5"/>
<circle class="tab" cx="84.7" cy="104.3" r="3.2"/>
<circle class="tk" cx="20.9" cy="59.6" r="3.8"/>
<circle class="tu" cx="92.7" cy="104.4" r="2.9"/>
<circle class="tt" cx="67.8" cy="81.1" r="2"/>
<circle class="tad" cx="20.3" cy="134.8" r="2.4"/>
<circle class="tk" cx="8.2" cy="34.6" r="2.5"/>
<circle class="to" cx="14.6" cy="119.6" r="2.1"/>
<circle class="th" cx="59.4" cy="40.9" r="2.6"/>
<circle class="tm" cx="77.6" cy="32.3" r="2.8"/>
<circle class="tu" cx="7.2" cy="98.1" r="3.8"/>
<circle class="tz" cx="38.5" cy="91" r="3.8"/>
<circle class="th" cx="48.9" cy="27.4" r="2.9"/>
<circle class="to" cx="28.8" cy="99.4" r="2.9"/>
<circle class="tad" cx="72.9" cy="119" r="3.9"/>
<circle class="tl" cx="60.4" cy="33" r="2.1"/>
<circle class="tab" cx="60.6" cy="88.1" r="2.5"/>
<circle class="tl" cx="39.6" cy="77.1" r="1.9"/>
<circle class="tl" cx="18" cy="42.1" r="3.7"/>
<circle class="to" cx="38.7" cy="54.6" r="2.4"/>
<circle class="to" cx="28.8" cy="123.3" r="3.6"/>
<circle class="th" cx="80" cy="93" r="2"/>
<circle class="tm" cx="42.5" cy="128.1" r="2"/>
<circle class="tae" cx="38.2" cy="52" r="2.7"/>
<circle class="tf" cx="71.3" cy="76.5" r="3.7"/>
<circle class="tt" cx="49.8" cy="68.5" r="2.7"/>
<circle class="tt" cx="28.6" cy="118.5" r="2.4"/>
<circle class="ts" cx="38.9" cy="44.9" r="3.4"/>
<circle class="tm" cx="9.2" cy="101.7" r="2.8"/>
<circle class="tac" cx="39.8" cy="112.8" r="2.1"/>
<circle class="tak" cx="83.6" cy="26.5" r="2.3"/>
<circle class="th" cx="38.3" cy="31.3" r="3"/>
<circle class="tab" cx="49.5" cy="116.6" r="1.8"/>
<circle class="tu" cx="76.2" cy="89.2" r="1.8"/>
<circle class="th" cx="63.8" cy="125" r="3.1"/>
<circle class="th" cx="85.5" cy="112.6" r="3.7"/>
<circle class="tu" cx="37.2" cy="77.5" r="3.6"/>
<circle class="tal" cx="56.5" cy="105.8" r="3.6"/>
<circle class="th" cx="41.4" cy="100.9" r="2"/>
<circle class="ti" cx="21.5" cy="48.2" r="3.4"/>
<circle class="tq" cx="12.1" cy="111.7" r="3.6"/>
<circle class="tam" cx="51.4" cy="104.2" r="2.3"/>
<circle class="tq" cx="70.6" cy="69.5" r="2.9"/>
<circle class="tab" cx="59.8" cy="91.4" r="3.3"/>
<circle class="tan" cx="84.3" cy="101.2" r="3.9"/>
<circle class="tf" cx="30.3" cy="50" r="3.5"/>
<circle class="to" cx="64.2" cy="110.5" r="1.9"/>
<circle class="tw" cx="42.4" cy="24.9" r="3.1"/>
<circle class="tu" cx="11.6" cy="68.2" r="2.1"/>
<circle class="to" cx="55.3" cy="97.6" r="3"/>
<circle class="tl" cx="51.3" cy="110.3" r="3"/>
<circle class="to" cx="55.5" cy="60.4" r="2.4"/>
<circle class="tm" cx="71.3" cy="21.6" r="2.5"/>
<circle class="tm" cx="20.5" cy="109.4" r="3"/>
<circle class="tr" cx="30.6" cy="25.3" r="3.9"/>
<circle class="tq" cx="52.7" cy="47.1" r="3.8"/>
<circle class="tab" cx="64.4" cy="96.5" r="3.3"/>
<circle class="tg" cx="86.3" cy="52.2" r="2"/>
<circle class="tr" cx="27.9" cy="60.7" r="2.1"/>
<circle class="tr" cx="71.8" cy="123" r="3.6"/>
<circle class="ti" cx="62.6" cy="29.5" r="1.9"/>
<circle class="tad" cx="93.9" cy="53.2" r="2.8"/>
<circle class="tab" cx="41.4" cy="57.3" r="3.3"/>
<circle class="to" cx="77.7" cy="116.5" r="3.5"/>
<circle class="tao" cx="41.7" cy="71.3" r="2.3"/>
<circle class="tu" cx="9.7" cy="103.4" r="2.9"/>
<circle class="tam" cx="78.6" cy="136.8" r="2.8"/>
<circle class="ts" cx="30.4" cy="24.2" r="3.9"/>
<circle class="tan" cx="80.8" cy="106.6" r="3.2"/>
<circle class="tr" cx="55.6" cy="26.4" r="3.1"/>
<circle class="tr" cx="36" cy="89" r="2.8"/>
<circle class="th" cx="42.3" cy="92.8" r="3.9"/>
<circle class="tf" cx="78.4" cy="73.2" r="2.9"/>
<circle class="tu" cx="55.3" cy="32" r="2.5"/>
<circle class="tae" cx="27.9" cy="85.4" r="3"/>
<circle class="to" cx="26.3" cy="124.1" r="3.6"/>
<circle class="tad" cx="19.5" cy="134" r="2.9"/>
<circle class="tap" cx="57.4" cy="126.4" r="3"/>
<circle class="tq" cx="74.5" cy="125.2" r="2.6"/>
<circle class="tt" cx="84.6" cy="99.4" r="2.1"/>
<circle class="ti" cx="59.3" cy="117.7" r="3.9"/>
<circle class="tx" cx="47.9" cy="114" r="3.6"/>
<circle class="tab" cx="59.6" cy="82.6" r="1.8"/>
<circle class="th" cx="84.5" cy="100.9" r="3"/>
<circle class="tm" cx="30.7" cy="50" r="2.9"/>
<circle class="tae" cx="67" cy="118.3" r="3.1"/>
<circle class="taq" cx="70.2" cy="59.5" r="3.6"/>
<circle class="tp" cx="56.4" cy="98.2" r="2.6"/>
<circle class="tt" cx="82.4" cy="93.3" r="2.1"/>
<circle class="to" cx="27.9" cy="45.2" r="3.8"/>
<circle class="tu" cx="35.1" cy="99.1" r="2.3"/>
<circle class="tab" cx="10.8" cy="72.3" r="3"/>
<circle class="tw" cx="30.2" cy="123.3" r="3.6"/>
<circle class="th" cx="50.3" cy="124.6" r="3.5"/>
<circle class="to" cx="69.2" cy="90.1" r="2"/>
<circle class="to" cx="58.1" cy="130.1" r="3.3"/>
<circle class="to" cx="69.7" cy="84.9" r="2.7"/>
<circle class="tu" cx="66.8" cy="47.6" r="2.8"/>
<circle class="tr" cx="57.1" cy="89.9" r="3.3"/>
<circle class="taa" cx="80.6" cy="102" r="2.1"/>
<circle class="tj" cx="70.6" cy="107.1" r="3.7"/>
<circle class="th" cx="63.5" cy="111.9" r="1.8"/>
<circle class="tt" cx="9.5" cy="78" r="3.7"/>
<circle class="taf" cx="91.9" cy="96.5" r="3"/>
<circle class="tam" cx="91.1" cy="48.4" r="2.9"/>
<circle class="ty" cx="64.4" cy="110.2" r="3.3"/>
<circle class="tq" cx="44" cy="134.7" r="2.4"/>
<circle class="tk" cx="12.3" cy="38.8" r="3.6"/>
<circle class="tx" cx="38.6" cy="105.5" r="2.6"/>
<circle class="tab" cx="57.4" cy="36.2" r="3.4"/>
<circle class="tar" cx="29.8" cy="43.1" r="2.5"/>
<circle class="tu" cx="92.1" cy="66.4" r="3"/>
<circle class="tas" cx="50.2" cy="134.3" r="3.3"/>
<circle class="ti" cx="38" cy="85.9" r="2.5"/>
<circle class="th" cx="50.9" cy="45.4" r="2.9"/>
<circle class="ts" cx="62.5" cy="84.8" r="3.3"/>
<circle class="th" cx="14.3" cy="124.7" r="2.2"/>
<circle class="tad" cx="39" cy="89.4" r="3.4"/>
<circle class="to" cx="41.4" cy="32.1" r="2.5"/>
<circle class="to" cx="82.9" cy="125" r="2.2"/>
<circle class="tr" cx="68.5" cy="90.7" r="3.7"/>
<circle class="tab" cx="15.5" cy="85.7" r="1.9"/>
<circle class="tao" cx="18.5" cy="55.5" r="2.8"/>
<circle class="tat" cx="42.5" cy="99.2" r="3.6"/>
<circle class="tf" cx="23.4" cy="135.4" r="3.6"/>
<circle class="tu" cx="75.2" cy="111.6" r="2.5"/>
<circle class="tx" cx="12.8" cy="33.9" r="3.5"/>
<circle class="th" cx="42.2" cy="119.4" r="2.8"/>
<circle class="tar" cx="37.7" cy="49.3" r="1.9"/>
<circle class="tf" cx="75.9" cy="83" r="3.6"/>
<circle class="tu" cx="78.5" cy="123.8" r="3.2"/>
<circle class="tl" cx="7.4" cy="48.3" r="2.5"/>
<circle class="tg" cx="40.2" cy="43.6" r="1.8"/>
<circle class="tr" cx="17.1" cy="36.4" r="2"/>
<circle class="tl" cx="6.2" cy="113" r="3.5"/>
<circle class="tak" cx="53.1" cy="73.1" r="2.8"/>
<circle class="taf" cx="92.8" cy="120.6" r="2.7"/>
<circle class="ts" cx="73.2" cy="57.8" r="2.3"/>
<circle class="tu" cx="40.4" cy="32.2" r="2.2"/>
<circle class="tab" cx="11.6" cy="60.9" r="3.2"/>
<circle class="tu" cx="27.5" cy="84.2" r="3.2"/>
<circle class="tm" cx="79.4" cy="77.9" r="1.8"/>
<circle class="to" cx="37" cy="93.9" r="2.7"/>
<circle class="tr" cx="71.7" cy="123.1" r="2.4"/>
<circle class="to" cx="86.3" cy="82.2" r="3.6"/>
<circle class="tm" cx="83.8" cy="43.5" r="2.5"/>
<circle class="tae" cx="75.2" cy="34.4" r="2.7"/>
<circle class="to" cx="49.6" cy="37.2" r="3.6"/>
<circle class="tk" cx="49.9" cy="79.1" r="2.5"/>
<circle class="tj" cx="14.3" cy="92.5" r="2.3"/>
<circle class="tam" cx="65.6" cy="32.2" r="3.6"/>
<circle class="tt" cx="50" cy="112.7" r="2.5"/>
<circle class="tau" cx="78.2" cy="119.7" r="2.2"/>
<circle class="th" cx="37.6" cy="137.7" r="2.7"/>
<circle class="tj" cx="92.7" cy="135.1" r="3.1"/>
<circle class="tam" cx="59.8" cy="42.5" r="3.5"/>
<circle class="tt" cx="10.4" cy="76.4" r="2.6"/>
<circle class="tg" cx="28.6" cy="43.8" r="3.4"/>
<circle class="tac" cx="69.6" cy="97.7" r="2.4"/>
<circle class="tu" cx="35" cy="29.7" r="3.1"/>
<circle class="tn" cx="46.6" cy="90.4" r="2"/>
<circle class="tak" cx="22.8" cy="63" r="2.3"/>
<circle class="to" cx="92.9" cy="82.5" r="3.8"/>
<circle class="tav" cx="16" cy="114.1" r="3.7"/>
<circle class="to" cx="90.4" cy="131.2" r="2.2"/>
<circle class="ts" cx="93.9" cy="55.2" r="2.4"/>
<circle class="taw" cx="26.4" cy="94.8" r="2.9"/>
<circle class="tx" cx="56.2" cy="20.8" r="2.2"/>
<circle class="tg" cx="27.7" cy="35.7" r="2.1"/>
<circle class="tg" cx="12.7" cy="35.6" r="1.8"/>
<circle class="tak" cx="74.9" cy="32.9" r="2"/>
<circle class="tad" cx="71.3" cy="31.8" r="1.9"/>
<circle class="th" cx="11" cy="53.9" r="2.5"/>
<circle class="tae" cx="62" cy="56.8" r="3.4"/>
<circle class="tk" cx="28.9" cy="80" r="2"/>
<circle class="tk" cx="21.6" cy="56.6" r="2.2"/>
<circle class="tad" cx="61.5" cy="32.1" r="2.2"/>
<circle class="tx" cx="16.1" cy="136" r="3.5"/>
<circle class="tk" cx="65.6" cy="75.7" r="3.1"/>
<circle class="tab" cx="88.5" cy="100.7" r="2.4"/>
<circle class="tax" cx="43.8" cy="34.6" r="1.9"/>
<circle class="ti" cx="17.9" cy="56" r="3.7"/>
<circle class="tf" cx="25.4" cy="113.7" r="2.4"/>
<circle class="th" cx="48.3" cy="91.2" r="2.7"/>
<circle class="tt" cx="27.3" cy="74.8" r="2.8"/>
<circle class="tab" cx="68.2" cy="96" r="3.6"/>
<circle class="tad" cx="31.3" cy="85.2" r="2.6"/>
<circle class="tae" cx="85.1" cy="34.8" r="2.9"/>
<circle class="tl" cx="25.5" cy="25.2" r="3.9"/>
<circle class="tae" cx="63" cy="118.1" r="2.8"/>
<circle class="tk" cx="91.5" cy="79.7" r="2.5"/>
<circle class="ts" cx="81.3" cy="54.8" r="1.9"/>
<circle class="tae" cx="12.2" cy="105.3" r="2.7"/>
<circle class="tad" cx="75.5" cy="130.7" r="1.8"/>
<circle class="tg" cx="40.7" cy="134.8" r="2.4"/>
<circle class="ts" cx="9.7" cy="85.6" r="3.2"/>
<circle class="ts" cx="61" cy="115.3" r="3.7"/>
<circle class="tx" cx="39.9" cy="33.6" r="2.8"/>
<circle class="ty" cx="26.8" cy="84.3" r="2.6"/>
<circle class="th" cx="63.5" cy="52.7" r="2.1"/>
<circle class="tu" cx="16.8" cy="45.7" r="3"/>
<circle class="tm" cx="19.8" cy="67.2" r="3.3"/>
<circle class="ts" cx="88.4" cy="59.1" r="2.3"/>
<circle class="ts" cx="79.8" cy="50.9" r="2"/>
<circle class="ty" cx="54.7" cy="31.5" r="3.8"/>
<circle class="tay" cx="11.4" cy="109.2" r="2"/>
<circle class="tk" cx="76.8" cy="73.4" r="1.8"/>
<circle class="taz" cx="76" cy="55.9" r="3"/>
<circle class="tr" cx="21.2" cy="89.9" r="3.5"/>
<circle class="tas" cx="83.5" cy="34.4" r="2.9"/>
<circle class="tak" cx="88.4" cy="57.8" r="2.7"/>
<circle class="tn" cx="48" cy="54.8" r="3.5"/>
<circle class="tu" cx="31.5" cy="117.8" r="2.2"/>
<circle class="tt" cx="88.5" cy="23.8" r="2"/>
<circle class="tz" cx="44" cy="96.9" r="1.8"/>
<circle class="tt" cx="61.1" cy="100.3" r="3.9"/>
<circle class="tx" cx="86.4" cy="77.6" r="3.8"/>
<circle class="ti" cx="54.3" cy="57.7" r="2.4"/>
<circle class="tu" cx="74.7" cy="51.8" r="2.8"/>
<circle class="ti" cx="33.3" cy="36.9" r="3.2"/>
<circle class="th" cx="46.9" cy="65.4" r="2.8"/>
<circle class="tm" cx="26.9" cy="135.6" r="3.3"/>
<circle class="th" cx="39.3" cy="37.6" r="2.9"/>
<circle class="to" cx="29.5" cy="131.4" r="3.9"/>
<circle class="tp" cx="59.4" cy="48.2" r="3.4"/>
<circle class="tk" cx="82" cy="87.4" r="2"/>
<circle class="tt" cx="49" cy="56.9" r="1.9"/>
<circle class="to" cx="37.7" cy="34.5" r="3.6"/>
<circle class="tt" cx="32.7" cy="69.6" r="2.6"/>
<circle class="tad" cx="70.6" cy="68.2" r="3.6"/>
<circle class="tw" cx="22.5" cy="26" r="3"/>
<circle class="tak" cx="71.3" cy="39.6" r="1.8"/>
<circle class="tf" cx="61.7" cy="113.8" r="2.2"/>
<circle class="tq" cx="71.2" cy="129.6" r="1.8"/>
<circle class="tu" cx="39.3" cy="29.3" r="2.8"/>
<circle class="to" cx="42" cy="32.6" r="3.1"/>
<circle class="tay" cx="22.6" cy="132.3" r="3"/>
<circle class="tk" cx="12" cy="43.2" r="3.6"/>
<circle class="tu" cx="24.9" cy="103.4" r="3.9"/>
<circle class="to" cx="39.9" cy="104.3" r="2.9"/>
<circle class="tau" cx="31.4" cy="57.9" r="2.9"/>
<circle class="tr" cx="87.5" cy="30.7" r="2.3"/>
<circle class="to" cx="61" cy="98" r="2.2"/>
<circle class="tk" cx="82.3" cy="41.9" r="2.5"/>
<circle class="tj" cx="47" cy="36.1" r="2.8"/>
<circle class="tab" cx="26.6" cy="25.8" r="2.4"/>
<circle class="tr" cx="43.9" cy="53" r="3.5"/>
<circle class="ts" cx="43.3" cy="98.5" r="2.6"/>
<circle class="tak" cx="87.8" cy="35.7" r="3.3"/>
<circle class="tr" cx="82.7" cy="97.6" r="2.2"/>
<circle class="to" cx="89.9" cy="124.7" r="1.9"/>
<circle class="tu" cx="5.6" cy="50" r="3.5"/>
<circle class="tab" cx="31.8" cy="61.9" r="2.7"/>
<circle class="tg" cx="19.6" cy="67.8" r="2.9"/>
<circle class="tl" cx="8.9" cy="56.2" r="2.8"/>
<circle class="tu" cx="42.5" cy="55.1" r="3.1"/>
<circle class="tba" cx="77.2" cy="56" r="3"/>
<circle class="th" cx="30.4" cy="71" r="2.2"/>
<circle class="tac" cx="7.7" cy="28.4" r="3.1"/>
<circle class="ti" cx="71.2" cy="89.4" r="1.9"/>
<circle class="tax" cx="50.7" cy="37.4" r="3"/>
<circle class="ti" cx="59.7" cy="27.1" r="2.9"/>
<circle class="tbb" cx="72.5" cy="107.5" r="3.2"/>
<circle class="tav" cx="18.4" cy="109" r="3.9"/>
<circle class="tu" cx="7.5" cy="69.3" r="3.1"/>
<circle class="tg" cx="46.8" cy="130.9" r="2.2"/>
<circle class="tt" cx="34.2" cy="100.7" r="3.1"/>
<circle class="tl" cx="14.3" cy="124.1" r="2.6"/>
<circle class="tae" cx="16.9" cy="32.4" r="3.7"/>
<circle class="tab" cx="40.3" cy="108.8" r="2.1"/>
<circle class="tg" cx="17.9" cy="108.6" r="2.2"/>
<circle class="to" cx="29.8" cy="115" r="3"/>
<circle class="th" cx="47.4" cy="114.2" r="2.7"/>
<circle class="tt" cx="29.3" cy="78.9" r="3.8"/>
<circle class="tam" cx="45.9" cy="129" r="2.3"/>
<circle class="tab" cx="11.3" cy="53" r="2.6"/>
<circle class="tab" cx="27.6" cy="127.2" r="3.3"/>
<circle class="tbc" cx="78.2" cy="58.4" r="3.1"/>
<circle class="tm" cx="68.1" cy="62.2" r="3"/>
<circle class="tag" cx="81.5" cy="60.2" r="2.7"/>
<circle class="tv" cx="81.6" cy="69.8" r="2.7"/>
<circle class="tl" cx="25" cy="34.1" r="3.9"/>
<circle class="to" cx="60.7" cy="95.5" r="1.8"/>
<circle class="tad" cx="27.8" cy="78.6" r="3.3"/>
<circle class="th" cx="88.3" cy="68.8" r="1.9"/>
<circle class="th" cx="49.3" cy="109.3" r="1.9"/>
<circle class="tae" cx="28.2" cy="120.3" r="2.3"/>
<circle class="tl" cx="16.1" cy="66.9" r="2.7"/>
<circle class="th" cx="33.2" cy="63.1" r="3.7"/>
<circle class="tq" cx="91.6" cy="71.8" r="3.4"/>
<circle class="tak" cx="48.5" cy="130.6" r="1.8"/>
<circle class="tae" cx="83.8" cy="28.6" r="2.1"/>
<circle class="tm" cx="56.6" cy="108.9" r="3.4"/>
<circle class="tl" cx="70.3" cy="113.4" r="2"/>
<circle class="th" cx="28.8" cy="113.3" r="3.2"/>
<circle class="to" cx="94.3" cy="106.4" r="3.5"/>
<circle class="tax" cx="49.4" cy="89.7" r="3.6"/>
<circle class="tad" cx="62.9" cy="64.9" r="2.4"/>
<circle class="tu" cx="9.5" cy="89" r="3.6"/>
<circle class="tab" cx="45.1" cy="59.9" r="3.1"/>
<circle class="tae" cx="52.5" cy="70.7" r="3.6"/>
<circle class="tk" cx="26.8" cy="100.7" r="3.5"/>
<circle class="tv" cx="78.9" cy="26.7" r="2.8"/>
<circle class="tab" cx="18.2" cy="99.6" r="2.9"/>
<circle class="tl" cx="59.4" cy="65.4" r="2"/>
<circle class="th" cx="44.4" cy="100" r="3.8"/>
<circle class="tl" cx="10.6" cy="103.5" r="3.6"/>
<circle class="tac" cx="44.4" cy="113" r="2"/>
<circle class="to" cx="14.4" cy="125.6" r="3.9"/>
<circle class="to" cx="49.1" cy="81.1" r="2.4"/>
<circle class="ti" cx="71.2" cy="67" r="2.7"/>
<circle class="tay" cx="71.1" cy="37.7" r="1.9"/>
<circle class="tab" cx="21.5" cy="68.9" r="3.2"/>
<circle class="tad" cx="52.2" cy="75.7" r="2.2"/>
<circle class="tt" cx="50.1" cy="44.4" r="3.7"/>
<circle class="tas" cx="50.7" cy="102.9" r="2.7"/>
<circle class="tt" cx="14.8" cy="89.5" r="2.2"/>
<circle class="tak" cx="28" cy="45.5" r="2.5"/>
<circle class="tg" cx="19.5" cy="56.9" r="2"/>
<circle class="tab" cx="18.4" cy="82.1" r="3.5"/>
<circle class="tam" cx="63.2" cy="56.2" r="3.5"/>
<circle class="tax" cx="40" cy="72.7" r="3.3"/>
<circle class="tt" cx="35.7" cy="112.5" r="2.8"/>
<circle class="tm" cx="88.3" cy="43.9" r="2"/>
<circle class="tae" cx="79.5" cy="33.4" r="3.2"/>
<circle class="tak" cx="79.7" cy="45.5" r="3.4"/>
<circle class="tal" cx="27.2" cy="42.3" r="2.9"/>
<circle class="tad" cx="51.4" cy="46.1" r="2.9"/>
<circle class="tu" cx="81.6" cy="68.8" r="2"/>
<circle class="tv" cx="12.9" cy="114.4" r="2.3"/>
<circle class="tg" cx="69.5" cy="60" r="3"/>
<circle class="tr" cx="87.2" cy="125" r="2.8"/>
<circle class="tj" cx="36.4" cy="77.7" r="2.3"/>
<circle class="tw" cx="38.8" cy="108.2" r="1.8"/>
<circle class="tk" cx="23.7" cy="123.3" r="3"/>
<circle class="ti" cx="79.2" cy="86.9" r="2.8"/>
<circle class="tg" cx="90.9" cy="45.8" r="2.2"/>
<circle class="to" cx="51.2" cy="66.7" r="2"/>
<circle class="tr" cx="86.7" cy="99.7" r="2.6"/>
<circle class="tj" cx="80.4" cy="117.4" r="2.1"/>
<circle class="tt" cx="9.9" cy="80.3" r="2.2"/>
<circle class="to" cx="54.2" cy="136.2" r="2.1"/>
<circle class="th" cx="68.7" cy="52.7" r="1.9"/>
<circle class="to" cx="21.4" cy="26.4" r="3.1"/>
<circle class="tl" cx="51.4" cy="61.3" r="2.5"/>
<circle class="tj" cx="82.2" cy="103.4" r="3.3"/>
<circle class="th" cx="31.7" cy="111.7" r="2.2"/>
<circle class="tj" cx="94.6" cy="28.9" r="1.9"/>
<circle class="ts" cx="41.3" cy="73.1" r="2.7"/>
<circle class="tv" cx="5.8" cy="114.6" r="3.9"/>
<circle class="tay" cx="5.3" cy="34.9" r="3.7"/>
<circle class="th" cx="64.5" cy="97.6" r="3.5"/>
<circle class="tac" cx="6.5" cy="34" r="1.8"/>
<circle class="tay" cx="74.8" cy="130" r="3"/>
<circle class="tr" cx="61" cy="100.2" r="2.4"/>
<circle class="th" cx="18.6" cy="103.2" r="3"/>
<circle class="tak" cx="32.2" cy="36.1" r="2.8"/>
<circle class="tao" cx="39.7" cy="86.6" r="2"/>
<circle class="tad" cx="67.6" cy="35" r="2.2"/>
<circle class="ts" cx="34.8" cy="63.8" r="1.9"/>
<circle class="tt" cx="17.7" cy="70.7" r="3.1"/>
<circle class="tab" cx="84.5" cy="77.6" r="2.5"/>
<circle class="to" cx="12.6" cy="120.3" r="2.7"/>
<circle class="tad" cx="40.1" cy="77.3" r="2.3"/>
<circle class="tz" cx="82.5" cy="44.8" r="3.6"/>
<circle class="tg" cx="18" cy="115.2" r="2.4"/>
<circle class="tg" cx="87" cy="71.3" r="3.8"/>
<circle class="tg" cx="15.9" cy="108.4" r="2.8"/>
<circle class="tq" cx="82.9" cy="34.7" r="2.8"/>
<circle class="tau" cx="58.8" cy="62" r="2.7"/>
<circle class="ts" cx="26.1" cy="36.1" r="3.2"/>
<circle class="th" cx="86.1" cy="119.7" r="2.9"/>
<circle class="to" cx="38.6" cy="30.4" r="3.8"/>
<circle class="th" cx="29.2" cy="76.7" r="3.2"/>
<circle class="tn" cx="37.4" cy="43.8" r="1.9"/>
<circle class="tf" cx="63.4" cy="72.6" r="2.9"/>
<circle class="tf" cx="72.9" cy="66.4" r="2"/>
<circle class="tap" cx="16.8" cy="91.8" r="2.9"/>
<circle class="tl" cx="18.4" cy="129.8" r="3.2"/>
<circle class="tk" cx="18.5" cy="38.8" r="2.8"/>
<circle class="th" cx="87.8" cy="99.9" r="2.6"/>
<circle class="tl" cx="34.2" cy="92.9" r="2.1"/>
<circle class="tm" cx="62" cy="117.4" r="2"/>
<circle class="tw" cx="43.4" cy="122.2" r="3.6"/>
<circle class="tj" cx="70.8" cy="126.2" r="3.1"/>
<circle class="tm" cx="62" cy="69.1" r="2.1"/>
<circle class="tr" cx="60" cy="51.2" r="2"/>
<circle class="taa" cx="10.5" cy="123.9" r="2.9"/>
<circle class="tv" cx="15.8" cy="127.1" r="2.2"/>
<circle class="tx" cx="55.9" cy="97.4" r="3.6"/>
<circle class="tab" cx="58.2" cy="37.5" r="1.9"/>
<circle class="tt" cx="37.5" cy="124" r="3.6"/>
<circle class="ts" cx="11.4" cy="24.1" r="3.4"/>
<circle class="tl" cx="87.9" cy="30.6" r="3"/>
<circle class="tab" cx="74.3" cy="54.2" r="2.4"/>
<circle class="to" cx="9.8" cy="128.6" r="3.3"/>
<circle class="tab" cx="71.1" cy="109" r="3.4"/>
<circle class="th" cx="86.9" cy="91.3" r="2.8"/>
<circle class="tam" cx="84.3" cy="68" r="2.3"/>
<circle class="tn" cx="44.7" cy="67.1" r="2.9"/>
<circle class="to" cx="91.6" cy="114.3" r="2.8"/>
<circle class="tg" cx="7.2" cy="40.1" r="2.8"/>
<circle class="tt" cx="75.2" cy="102.5" r="3"/>
<circle class="to" cx="15.2" cy="29.1" r="1.9"/>
<circle class="tab" cx="37.6" cy="83" r="2.9"/>
<circle class="tak" cx="81.8" cy="40.8" r="2.8"/>
<circle class="tal" cx="26.8" cy="111.6" r="3.9"/>
<circle class="tay" cx="16.2" cy="60.9" r="2.2"/>
<circle class="tj" cx="69.2" cy="131.9" r="3.2"/>
<circle class="th" cx="92.6" cy="108.8" r="3.6"/>
<circle class="tj" cx="13.5" cy="65.5" r="1.9"/>
<circle class="tk" cx="70.8" cy="124.5" r="2.1"/>
<circle class="tu" cx="49.8" cy="80.7" r="3.2"/>
<circle class="tar" cx="19.8" cy="65.7" r="2.3"/>
<circle class="to" cx="29.4" cy="89.9" r="2.3"/>
<circle class="tad" cx="23.9" cy="111.1" r="3.8"/>
<circle class="tx" cx="85.8" cy="109.6" r="3.8"/>
<circle class="to" cx="90.9" cy="125.3" r="2"/>
<circle class="th" cx="16.1" cy="59.4" r="3"/>
<circle class="tu" cx="48" cy="62.7" r="3.7"/>
<circle class="tu" cx="61.3" cy="115.9" r="2.9"/>
<circle class="ti" cx="28.4" cy="80.8" r="2.4"/>
<circle class="tt" cx="37.9" cy="77.4" r="1.9"/>
<circle class="tat" cx="38.9" cy="91.7" r="3.4"/>
<circle class="ts" cx="69" cy="112.2" r="2.9"/>
<circle class="tr" cx="24.2" cy="82" r="2.5"/>
<circle class="tv" cx="56.1" cy="43.6" r="2.7"/>
<circle class="tg" cx="60.4" cy="70.1" r="2.1"/>
<circle class="tj" cx="61" cy="30.6" r="3.7"/>
<circle class="tr" cx="48.8" cy="61.8" r="2.1"/>
<circle class="th" cx="7.7" cy="90.2" r="2.3"/>
<circle class="tak" cx="24.5" cy="68.7" r="2.9"/>
<circle class="tr" cx="79.1" cy="98.4" r="1.8"/>
<circle class="tj" cx="54.7" cy="101.1" r="2.8"/>
<circle class="tac" cx="87.1" cy="130.1" r="2.3"/>
<circle class="tt" cx="66.5" cy="85.9" r="3.2"/>
<circle class="to" cx="51.9" cy="124.6" r="3.6"/>
<circle class="ty" cx="19.7" cy="82.6" r="2.1"/>
<circle class="tar" cx="64.6" cy="34.5" r="2"/>
<circle class="tm" cx="55.6" cy="72" r="3.1"/>
<circle class="tt" cx="71.3" cy="91.7" r="2.8"/>
<circle class="tg" cx="35.5" cy="42.5" r="2.6"/>
<circle class="tad" cx="66.7" cy="32.4" r="3.5"/>
<circle class="tu" cx="55.3" cy="57" r="2.9"/>
<circle class="tr" cx="41.8" cy="60.6" r="3.2"/>
<circle class="tt" cx="94.8" cy="26.4" r="3"/>
<circle class="ts" cx="82.7" cy="61.9" r="2.3"/>
<circle class="tu" cx="90.3" cy="93.9" r="3.3"/>
<circle class="tar" cx="70" cy="77.4" r="2"/>
<circle class="to" cx="27.1" cy="72.1" r="2.7"/>
<circle class="tad" cx="72.6" cy="130.4" r="2.2"/>
<circle class="tx" cx="88.9" cy="34.6" r="2.3"/>
<circle class="tao" cx="16.5" cy="94.6" r="3.5"/>
<circle class="tr" cx="74.1" cy="122.1" r="2.8"/>
<circle class="tt" cx="74.6" cy="48.4" r="3.9"/>
<circle class="tv" cx="71.1" cy="26.6" r="3.6"/>
<circle class="tu" cx="60.6" cy="44.8" r="2.6"/>
<circle class="taw" cx="70.7" cy="79.4" r="3.1"/>
<circle class="ts" cx="31.7" cy="100.5" r="2.1"/>
<circle class="tam" cx="54.5" cy="47.7" r="3.2"/>
<circle class="tf" cx="75.4" cy="87.9" r="3.6"/>
<circle class="tq" cx="19.4" cy="48.6" r="3.1"/>
<circle class="tat" cx="45.7" cy="89.1" r="2.1"/>
<circle class="tay" cx="83.4" cy="32.2" r="3.1"/>
<circle class="tk" cx="24" cy="56.9" r="2.7"/>
<circle class="tr" cx="86.4" cy="89.7" r="2.2"/>
<circle class="tai" cx="68.2" cy="57.6" r="2.9"/>
<circle class="tai" cx="40.4" cy="45.5" r="3"/>
<circle class="to" cx="21.5" cy="38.9" r="3"/>
<circle class="tav" cx="44.6" cy="136.7" r="2.9"/>
<circle class="tad" cx="85.8" cy="37.2" r="2.6"/>
<circle class="ts" cx="8" cy="71.2" r="3.4"/>
<circle class="tk" cx="57.7" cy="48.6" r="3.7"/>
<circle class="tad" cx="57.1" cy="55.2" r="2.4"/>
<circle class="tj" cx="51.2" cy="87.2" r="2.6"/>
<circle class="to" cx="91.7" cy="65.2" r="2.1"/>
<circle class="tj" cx="74.2" cy="102.2" r="3.4"/>
<circle class="tm" cx="93" cy="79.7" r="3.1"/>
<circle class="tu" cx="7.2" cy="102.2" r="2"/>
<circle class="tu" cx="32.4" cy="31" r="2.4"/>
<circle class="tan" cx="18.1" cy="79.1" r="3.3"/>
<circle class="tl" cx="60.2" cy="45.9" r="3.9"/>
<circle class="tu" cx="55.3" cy="132.6" r="3.2"/>
<circle class="tq" cx="92.1" cy="44" r="2.6"/>
<circle class="tu" cx="62.1" cy="83.8" r="3.6"/>
<circle class="tu" cx="32.2" cy="124.3" r="3.6"/>
<circle class="ti" cx="55.7" cy="106.8" r="3.6"/>
<circle class="tl" cx="89" cy="113.7" r="2.1"/>
<circle class="tat" cx="41.2" cy="114.3" r="3.8"/>
<circle class="tu" cx="43.7" cy="106.8" r="3.4"/>
<circle class="tk" cx="87.5" cy="50.2" r="3.6"/>
<circle class="to" cx="66.7" cy="48.8" r="2.6"/>
<circle class="tas" cx="27.2" cy="117.8" r="2.7"/>
<circle class="tt" cx="29.7" cy="122.6" r="2.1"/>
<circle class="tam" cx="64.6" cy="26.1" r="2.4"/>
<circle class="tj" cx="16.9" cy="79.7" r="3.6"/>
<circle class="tg" cx="77" cy="40" r="2.5"/>
<circle class="ts" cx="11.4" cy="118" r="3.7"/>
<circle class="tf" cx="28.8" cy="50.3" r="2.7"/>
<circle class="tab" cx="15.1" cy="76.6" r="3.2"/>
<circle class="ti" cx="69.7" cy="77.4" r="3.6"/>
<circle cx="17.5" cy="100.5" r="5.0" fill="#2424a8" stroke="#78e4dc" stroke-width="2.6" opacity="1" stroke-dasharray="9 2 6 1.5" stroke-linecap="round"/><circle cx="17.5" cy="100.5" r="5.0" fill="none" stroke="#d8ffff" stroke-width="0.7" opacity="1" stroke-dasharray="6 4" stroke-linecap="round"/><circle cx="12.5" cy="107" r="2.2" fill="#d01890" opacity="1"/><circle cx="23" cy="108" r="2.4" fill="#d01890" opacity="1"/><circle cx="12" cy="95" r="2" fill="#c01888" opacity="1"/><circle cx="40.5" cy="71.5" r="3.8" fill="#2424a8" stroke="#6cdcd4" stroke-width="2.0" opacity="0.95" stroke-dasharray="6 3 4 2.5" stroke-linecap="round"/><circle cx="43" cy="80" r="4.2" fill="#2424a8" stroke="#84ece4" stroke-width="2.3" opacity="0.95" stroke-dasharray="7 2.5 5 3" stroke-linecap="round"/><circle cx="39.5" cy="76" r="1.6" fill="#d8ffff" opacity="1"/><circle cx="37.5" cy="68" r="1.5" fill="#60e0d8" opacity="1"/><circle cx="45" cy="84" r="1.5" fill="#60e0d8" opacity="1"/><circle cx="44.5" cy="96" r="3.6" fill="#2424a8" stroke="#64d8d4" stroke-width="1.9" opacity="0.95" stroke-dasharray="5 3 6 2.5" stroke-linecap="round"/><circle cx="48" cy="104.5" r="4.2" fill="#2424a8" stroke="#74e4dc" stroke-width="2.1" opacity="0.95" stroke-dasharray="8 3 4 2.5" stroke-linecap="round"/><circle cx="43" cy="101" r="1.4" fill="#d0fff8" opacity="1"/><circle cx="51" cy="99" r="1.3" fill="#e0a040" opacity="1"/><circle cx="40.5" cy="93" r="1.3" fill="#d08040" opacity="1"/><circle cx="47" cy="47" r="2.8" fill="none" stroke="#70e0d8" stroke-width="1.4" opacity="0.9"/><circle cx="49.5" cy="44" r="1.2" fill="#c0f0a0" opacity="1"/><circle cx="76" cy="54" r="1.5" fill="#ffffff" opacity="1"/><circle cx="74" cy="51" r="1.2" fill="#a0f0e8" opacity="1"/><circle cx="78" cy="57" r="1.1" fill="#d0fff0" opacity="1"/><circle cx="15" cy="65" r="2.6" fill="none" stroke="#60d8d8" stroke-width="1.3" opacity="0.9"/><circle cx="13" cy="69" r="1.2" fill="#c0fff0" opacity="1"/><circle cx="33" cy="60" r="1.4" fill="#50c8c8" opacity="0.8"/><circle cx="58" cy="38" r="1.2" fill="#50c8c8" opacity="0.8"/><circle cx="62" cy="88" r="1.5" fill="#50d0d0" opacity="0.8"/><circle cx="84" cy="77" r="1.3" fill="#60d0d0" opacity="0.7"/><circle cx="56" cy="62" r="1.2" fill="#40c0c8" opacity="0.7"/><circle cx="70" cy="118" r="1.3" fill="#40c0c8" opacity="0.6"/><circle cx="28" cy="124" r="1.2" fill="#60d0d0" opacity="0.6"/>
</g></g>
<rect x="6" y="21.8" width="52.1" height="10.6" fill="#050505"/>
<text x="9.9" y="30.0" font-size="6.6" font-family="Liberation Sans, Arial, sans-serif" text-anchor="start" fill="#fff" font-weight="normal" transform="translate(9.9,0) scale(0.92,1) translate(-9.9,0)"><tspan fill="#9a5418">CD8</tspan> <tspan fill="#f4ecc8" font-weight="bold">PD-1</tspan> <tspan fill="#c8ece0">TIGIT</tspan></text>
<rect x="6.6" y="89" width="20.2" height="27.2" fill="none" stroke="#eee" stroke-width="0.9"/>
<line x1="9.0" y1="133.2" x2="24.7" y2="133.2" stroke="#fff" stroke-width="1.1"/>
<text x="17.0" y="131.8" font-size="3.2" font-family="Liberation Sans, Arial, sans-serif" text-anchor="middle" fill="#fff" font-weight="bold" >10 µm</text>
<clipPath id="cpA1"><rect x="95.2" y="22" width="32.8" height="35.8"/></clipPath>
<g clip-path="url(#cpA1)"><rect x="95.2" y="22" width="32.8" height="35.8" fill="#2a1f9a"/>
<g filter="url(#cb)">
<rect x="87.2" y="14" width="48.8" height="51.8" fill="#2a1f9a"/>
<rect class="tbd" x="87.2" y="14" width="14" height="14.5"/>
<rect class="tbe" x="100.2" y="14" width="6.5" height="14.5"/>
<rect class="tbe" x="105.6" y="14" width="6.5" height="14.5"/>
<rect class="tbf" x="111.1" y="14" width="6.5" height="14.5"/>
<rect class="tbd" x="116.6" y="14" width="6.5" height="14.5"/>
<rect class="tbe" x="122" y="14" width="14" height="14.5"/>
<rect class="tbe" x="87.2" y="27.5" width="14" height="7"/>
<rect class="tbe" x="100.2" y="27.5" width="6.5" height="7"/>
<rect class="tbe" x="105.6" y="27.5" width="6.5" height="7"/>
<rect class="tbe" x="111.1" y="27.5" width="6.5" height="7"/>
<rect class="tbf" x="116.6" y="27.5" width="6.5" height="7"/>
<rect class="tbf" x="122" y="27.5" width="14" height="7"/>
<rect class="tbd" x="87.2" y="33.4" width="14" height="7"/>
<rect class="tbe" x="100.2" y="33.4" width="6.5" height="7"/>
<rect class="tbd" x="105.6" y="33.4" width="6.5" height="7"/>
<rect class="tbf" x="111.1" y="33.4" width="6.5" height="7"/>
<rect class="tbf" x="116.6" y="33.4" width="6.5" height="7"/>
<rect class="tbf" x="122" y="33.4" width="14" height="7"/>
<rect class="tbe" x="87.2" y="39.4" width="14" height="7"/>
<rect class="tbe" x="100.2" y="39.4" width="6.5" height="7"/>
<rect class="tbe" x="105.6" y="39.4" width="6.5" height="7"/>
<rect class="tbd" x="111.1" y="39.4" width="6.5" height="7"/>
<rect class="tbf" x="116.6" y="39.4" width="6.5" height="7"/>
<rect class="tbf" x="122" y="39.4" width="14" height="7"/>
<rect class="tbe" x="87.2" y="45.4" width="14" height="7"/>
<rect class="tbe" x="100.2" y="45.4" width="6.5" height="7"/>
<rect class="tbf" x="105.6" y="45.4" width="6.5" height="7"/>
<rect class="tbe" x="111.1" y="45.4" width="6.5" height="7"/>
<rect class="tbd" x="116.6" y="45.4" width="6.5" height="7"/>
<rect class="tbf" x="122" y="45.4" width="14" height="7"/>
<rect class="tbe" x="87.2" y="51.3" width="14" height="14.5"/>
<rect class="tbe" x="100.2" y="51.3" width="6.5" height="14.5"/>
<rect class="tbd" x="105.6" y="51.3" width="6.5" height="14.5"/>
<rect class="tbf" x="111.1" y="51.3" width="6.5" height="14.5"/>
<rect class="tbf" x="116.6" y="51.3" width="6.5" height="14.5"/>
<rect class="tbf" x="122" y="51.3" width="14" height="14.5"/>
</g>
<g filter="url(#blA1)">
<circle class="ts" cx="100.1" cy="45.9" r="3.2"/>
<circle class="to" cx="115.1" cy="31.6" r="3.4"/>
<circle class="tj" cx="102.3" cy="38.3" r="2"/>
<circle class="tr" cx="103.1" cy="40.1" r="2.8"/>
<circle class="tbg" cx="98.1" cy="39.7" r="3.4"/>
<circle class="tt" cx="94.8" cy="52.1" r="3.5"/>
<circle class="tbh" cx="128.4" cy="29.5" r="2.1"/>
<circle class="tab" cx="109.7" cy="33.1" r="3.1"/>
<circle class="tbi" cx="97.8" cy="37.4" r="2.7"/>
<circle class="tab" cx="110.9" cy="23.9" r="1.8"/>
<circle class="tl" cx="115" cy="45.8" r="2.6"/>
<circle class="tbj" cx="116.8" cy="46" r="3.5"/>
<circle class="to" cx="102" cy="23.9" r="2.1"/>
<circle class="ts" cx="111.1" cy="25.7" r="3.1"/>
<circle class="to" cx="96.6" cy="46" r="2.2"/>
<circle class="ts" cx="101.2" cy="31.9" r="2.4"/>
<circle class="tbk" cx="124.9" cy="36.1" r="3.5"/>
<circle class="tbh" cx="120.6" cy="29.8" r="1.8"/>
<circle class="tbk" cx="113.2" cy="23.9" r="3.2"/>
<circle class="ts" cx="104.2" cy="55.3" r="2"/>
<circle class="tbl" cx="126.4" cy="33.7" r="2"/>
<circle class="tbj" cx="127.5" cy="39.7" r="2.5"/>
<circle class="to" cx="111.1" cy="30.7" r="1.9"/>
<circle class="tbm" cx="119.7" cy="35.8" r="3.4"/>
<circle class="tu" cx="122.9" cy="24" r="2.6"/>
<circle class="ts" cx="117.8" cy="47.1" r="2.9"/>
<circle class="tbg" cx="95.9" cy="23.3" r="3.2"/>
<circle class="tbn" cx="124.3" cy="57.3" r="2.4"/>
<circle class="tbn" cx="123.9" cy="39.4" r="3.5"/>
<circle class="tu" cx="109.5" cy="31.9" r="3.2"/>
<circle class="th" cx="101.4" cy="40.4" r="1.9"/>
<circle class="tbk" cx="125.1" cy="48.6" r="2"/>
<circle class="tbo" cx="119.6" cy="28.3" r="2.7"/>
<circle class="tbp" cx="112.8" cy="44.2" r="2.1"/>
<circle class="tbq" cx="125.6" cy="46.2" r="3.3"/>
<circle class="tbn" cx="117.9" cy="38.5" r="3.3"/>
<circle class="th" cx="97.3" cy="58.5" r="3.5"/>
<circle class="tu" cx="101.3" cy="50.1" r="2.7"/>
<circle class="tbr" cx="97" cy="27.8" r="2"/>
<circle class="tbs" cx="122.8" cy="21.4" r="2.4"/>
<circle class="tu" cx="104.5" cy="31.6" r="2.8"/>
<circle class="ts" cx="98.3" cy="46" r="3.2"/>
<circle class="tbo" cx="123.3" cy="33.5" r="3.3"/>
<circle class="tbo" cx="105.8" cy="46.3" r="3"/>
<circle class="tbt" cx="128.4" cy="51.5" r="3.1"/>
<circle class="th" cx="105.3" cy="28.6" r="2.1"/>
<circle class="tbn" cx="121.5" cy="39.9" r="2.6"/>
<circle class="tbu" cx="111.2" cy="54.7" r="3.5"/>
<circle class="to" cx="105.2" cy="55" r="3"/>
<circle class="tbo" cx="113.9" cy="53.5" r="3.2"/>
<circle class="tu" cx="95.4" cy="43.9" r="2.2"/>
<circle class="tbm" cx="122.2" cy="51" r="2"/>
<circle class="tt" cx="117.7" cy="30.8" r="2.5"/>
<circle class="ts" cx="101.8" cy="29.3" r="3"/>
<circle class="ts" cx="99.4" cy="45.2" r="3.1"/>
<circle class="tbp" cx="106.1" cy="56.3" r="3.1"/>
<circle class="tbo" cx="124.8" cy="28.8" r="3.6"/>
<circle class="tbm" cx="121.8" cy="48.9" r="2.1"/>
<circle class="tab" cx="106.8" cy="55.2" r="1.8"/>
<circle class="tbv" cx="116.5" cy="49.4" r="3.4"/>
<circle class="tbh" cx="107.1" cy="28.4" r="2.4"/>
<circle class="tbo" cx="123.2" cy="39.1" r="3.2"/>
<circle class="tbu" cx="125.9" cy="29.1" r="2.7"/>
<circle class="ts" cx="101.3" cy="47.2" r="2"/>
<circle class="tbs" cx="111.2" cy="57.8" r="2.6"/>
<circle class="to" cx="116.4" cy="45.9" r="3.4"/>
<circle class="tl" cx="102" cy="46.3" r="2.4"/>
<circle class="tbp" cx="108.7" cy="38.3" r="3.4"/>
<circle class="tbo" cx="128.7" cy="56.9" r="3.5"/>
<circle class="tr" cx="112" cy="45.3" r="2.1"/>
<circle class="tbv" cx="120.6" cy="48.1" r="3.3"/>
<circle class="th" cx="100" cy="44.8" r="3.4"/>
<circle class="tbg" cx="119.2" cy="21.5" r="1.9"/>
<circle class="tbw" cx="122.5" cy="55.6" r="3"/>
<circle class="tbi" cx="111.8" cy="34.1" r="2.8"/>
<circle class="tbj" cx="124.8" cy="41.8" r="3.2"/>
<circle class="tbt" cx="108.4" cy="47" r="1.8"/>
<circle class="to" cx="102" cy="37.2" r="2.3"/>
<circle class="tbk" cx="126.5" cy="49.7" r="2.7"/>
<circle class="tl" cx="117.5" cy="33.7" r="3"/>
<circle class="tbk" cx="117.3" cy="37.9" r="3.4"/>
<circle class="to" cx="100.2" cy="48.3" r="3.2"/>
<circle class="tbw" cx="128.2" cy="31.3" r="3.4"/>
<circle class="tbr" cx="105.9" cy="54.1" r="3"/>
<circle class="tbt" cx="120.2" cy="38.2" r="2.3"/>
<circle class="tj" cx="105.6" cy="42.4" r="2.7"/>
<circle class="tbo" cx="112.1" cy="51.2" r="2.8"/>
<circle class="tbx" cx="96.3" cy="34.2" r="2.3"/>
<circle class="tbr" cx="116.3" cy="40.4" r="1.9"/>
<circle class="tu" cx="95.8" cy="53.2" r="3.2"/>
<circle class="tbj" cx="111.8" cy="37.8" r="2.1"/>
<circle class="tbr" cx="116.9" cy="26.4" r="3.2"/>
<circle class="tby" cx="123.1" cy="33.4" r="3.3"/>
<circle class="tbz" cx="107.5" cy="33.1" r="2.8"/>
<circle class="tl" cx="109.2" cy="39.9" r="3.2"/>
<circle class="tbh" cx="105.2" cy="56.1" r="3.4"/>
<circle class="to" cx="103.7" cy="26.4" r="3.5"/>
<circle class="tj" cx="97.2" cy="58.6" r="3.5"/>
<circle class="tr" cx="99.3" cy="32.2" r="2.5"/>
<circle class="th" cx="111.1" cy="24.8" r="2.7"/>
<circle class="tbu" cx="116.6" cy="33.9" r="3.6"/>
<circle class="tbs" cx="114.9" cy="44.1" r="3.4"/>
<circle class="tbv" cx="113" cy="42.6" r="3.1"/>
<circle class="tt" cx="111.3" cy="34.3" r="3"/>
<circle class="tbq" cx="116.6" cy="39.2" r="1.8"/>
<circle class="ts" cx="127.8" cy="28.7" r="2.7"/>
<circle class="tbz" cx="109.1" cy="36.3" r="1.9"/>
<circle class="tbs" cx="98.8" cy="26.9" r="3.5"/>
<circle class="tbv" cx="117.7" cy="51.3" r="2.7"/>
<circle class="tr" cx="105.5" cy="42.5" r="2.1"/>
<circle class="tbt" cx="122.6" cy="26.8" r="2.9"/>
<circle class="tbo" cx="126.3" cy="40.5" r="3.5"/>
<circle class="ts" cx="98" cy="31.3" r="1.9"/>
<circle class="tbt" cx="120.6" cy="51.8" r="3.1"/>
<circle class="tbw" cx="115.2" cy="28.5" r="2.2"/>
<circle class="tj" cx="123.7" cy="24.8" r="2"/>
<circle class="th" cx="99.5" cy="52.1" r="2.6"/>
<circle class="tbv" cx="98.8" cy="36.5" r="3.2"/>
<circle class="tbn" cx="107.9" cy="47.5" r="2.9"/>
<circle class="tbu" cx="120.8" cy="42.9" r="1.9"/>
<circle class="tbw" cx="120.8" cy="58.1" r="3.1"/>
<circle class="tj" cx="104.4" cy="32.8" r="2.4"/>
<circle class="tbu" cx="104.1" cy="38.4" r="3"/>
<circle class="th" cx="100.8" cy="25.9" r="1.8"/>
<circle class="tab" cx="106.4" cy="40.2" r="2.5"/>
<circle class="tby" cx="115" cy="52.8" r="2"/>
<circle class="tbv" cx="106.8" cy="53.3" r="2.9"/>
<circle class="tbg" cx="94.6" cy="24.7" r="3"/>
<circle class="tbp" cx="118.9" cy="51.2" r="3"/>
<circle class="tbu" cx="122.4" cy="48.1" r="2.3"/>
<circle class="tbh" cx="113.2" cy="25.8" r="2.4"/>
<circle class="tbu" cx="108.3" cy="31.9" r="2.7"/>
<circle class="tj" cx="108.7" cy="39.3" r="2.5"/>
<circle class="tbh" cx="116.5" cy="45.5" r="2.8"/>
<circle class="th" cx="102.5" cy="50.9" r="2.3"/>
<circle class="tbw" cx="120.2" cy="29.4" r="2.7"/>
<circle class="tu" cx="94.6" cy="44.6" r="2.1"/>
<circle class="tj" cx="103.9" cy="48.4" r="3"/>
<circle class="tbu" cx="100.3" cy="29.1" r="3.1"/>
<circle class="tbt" cx="121.3" cy="58.1" r="2.9"/>
<circle class="tbw" cx="109.2" cy="50.7" r="2"/>
<circle class="tbo" cx="116.3" cy="24" r="2.6"/>
<circle class="th" cx="103" cy="29.9" r="2.1"/>
<circle class="tbr" cx="121.1" cy="28.8" r="1.9"/>
</g></g>
<line x1="99.6" y1="55.4" x2="113.2" y2="55.4" stroke="#fff" stroke-width="1.1"/>
<text x="106.4" y="54.0" font-size="3.2" font-family="Liberation Sans, Arial, sans-serif" text-anchor="middle" fill="#fff" font-weight="bold" >10 µm</text>
<clipPath id="cpA2"><rect x="95.2" y="59" width="32.8" height="36"/></clipPath>
<g clip-path="url(#cpA2)"><rect x="95.2" y="59" width="32.8" height="36" fill="#2a1f9a"/>
<g filter="url(#cb)">
<rect x="87.2" y="51" width="48.8" height="52" fill="#2a1f9a"/>
<rect class="tbe" x="87.2" y="51" width="14" height="14.5"/>
<rect class="tbe" x="100.2" y="51" width="6.5" height="14.5"/>
<rect class="tbf" x="105.6" y="51" width="6.5" height="14.5"/>
<rect class="tbf" x="111.1" y="51" width="6.5" height="14.5"/>
<rect class="tbe" x="116.6" y="51" width="6.5" height="14.5"/>
<rect class="tbe" x="122" y="51" width="14" height="14.5"/>
<rect class="tbe" x="87.2" y="64.5" width="14" height="7"/>
<rect class="tbe" x="100.2" y="64.5" width="6.5" height="7"/>
<rect class="tbe" x="105.6" y="64.5" width="6.5" height="7"/>
<rect class="tbf" x="111.1" y="64.5" width="6.5" height="7"/>
<rect class="tbf" x="116.6" y="64.5" width="6.5" height="7"/>
<rect class="tbf" x="122" y="64.5" width="14" height="7"/>
<rect class="tbe" x="87.2" y="70.5" width="14" height="7"/>
<rect class="tbe" x="100.2" y="70.5" width="6.5" height="7"/>
<rect class="tbe" x="105.6" y="70.5" width="6.5" height="7"/>
<rect class="tbe" x="111.1" y="70.5" width="6.5" height="7"/>
<rect class="tbf" x="116.6" y="70.5" width="6.5" height="7"/>
<rect class="tbf" x="122" y="70.5" width="14" height="7"/>
<rect class="tbe" x="87.2" y="76.5" width="14" height="7"/>
<rect class="tbe" x="100.2" y="76.5" width="6.5" height="7"/>
<rect class="tbe" x="105.6" y="76.5" width="6.5" height="7"/>
<rect class="tbf" x="111.1" y="76.5" width="6.5" height="7"/>
<rect class="tbf" x="116.6" y="76.5" width="6.5" height="7"/>
<rect class="tbf" x="122" y="76.5" width="14" height="7"/>
<rect class="tbe" x="87.2" y="82.5" width="14" height="7"/>
<rect class="tbf" x="100.2" y="82.5" width="6.5" height="7"/>
<rect class="tbe" x="105.6" y="82.5" width="6.5" height="7"/>
<rect class="tbf" x="111.1" y="82.5" width="6.5" height="7"/>
<rect class="tbf" x="116.6" y="82.5" width="6.5" height="7"/>
<rect class="tbe" x="122" y="82.5" width="14" height="7"/>
<rect class="tbe" x="87.2" y="88.5" width="14" height="14.5"/>
<rect class="tbe" x="100.2" y="88.5" width="6.5" height="14.5"/>
<rect class="tbf" x="105.6" y="88.5" width="6.5" height="14.5"/>
<rect class="tbf" x="111.1" y="88.5" width="6.5" height="14.5"/>
<rect class="tbf" x="116.6" y="88.5" width="6.5" height="14.5"/>
<rect class="tbe" x="122" y="88.5" width="14" height="14.5"/>
</g>
<g filter="url(#blA2)">
<circle class="tbw" cx="114.5" cy="90.8" r="2.9"/>
<circle class="tt" cx="100" cy="64.5" r="2.3"/>
<circle class="tj" cx="123.2" cy="93.4" r="3.2"/>
<circle class="ts" cx="95.9" cy="89.8" r="2.1"/>
<circle class="tr" cx="98.5" cy="65.6" r="2.4"/>
<circle class="tbw" cx="115.2" cy="89.7" r="3.6"/>
<circle class="tbn" cx="128.5" cy="69.6" r="3"/>
<circle class="tj" cx="107" cy="69.9" r="2.4"/>
<circle class="tbn" cx="122.5" cy="69.6" r="2.5"/>
<circle class="tbo" cx="117.4" cy="69" r="1.9"/>
<circle class="tu" cx="116.1" cy="77.2" r="3.5"/>
<circle class="tbn" cx="126.9" cy="83.1" r="1.8"/>
<circle class="tbl" cx="115.2" cy="77.1" r="3.5"/>
<circle class="tbt" cx="121.4" cy="88.7" r="3.4"/>
<circle class="tbn" cx="112.2" cy="79.5" r="3.6"/>
<circle class="th" cx="128.4" cy="60.4" r="2.6"/>
<circle class="tl" cx="124.1" cy="92.9" r="2"/>
<circle class="tj" cx="110.8" cy="71.5" r="2.4"/>
<circle class="tu" cx="104.3" cy="69.6" r="3.3"/>
<circle class="tbn" cx="107.2" cy="94.2" r="2.9"/>
<circle class="tbn" cx="116.7" cy="81.3" r="2.6"/>
<circle class="tl" cx="104.8" cy="64" r="3.2"/>
<circle class="tu" cx="126.5" cy="87.3" r="3.6"/>
<circle class="tab" cx="105.8" cy="85.5" r="3.3"/>
<circle class="tbu" cx="128.1" cy="76.9" r="2"/>
<circle class="tbn" cx="105.1" cy="85.3" r="2.8"/>
<circle class="tbk" cx="109.8" cy="60" r="2.4"/>
<circle class="to" cx="117" cy="76.8" r="2.3"/>
<circle class="tt" cx="97" cy="65.2" r="2.9"/>
<circle class="tbw" cx="111.3" cy="68.2" r="2.7"/>
<circle class="tr" cx="111.1" cy="73.8" r="3.4"/>
<circle class="tbm" cx="113.3" cy="89.5" r="2.6"/>
<circle class="to" cx="115" cy="75.4" r="3.2"/>
<circle class="tab" cx="98.4" cy="87.2" r="2.9"/>
<circle class="tt" cx="103.8" cy="78.2" r="2.5"/>
<circle class="tca" cx="100.5" cy="95.1" r="3"/>
<circle class="tl" cx="125.8" cy="89.7" r="2.1"/>
<circle class="th" cx="98.5" cy="75.1" r="3"/>
<circle class="tj" cx="101.4" cy="73.4" r="2.3"/>
<circle class="ts" cx="100.1" cy="70.3" r="1.9"/>
<circle class="tbw" cx="104.4" cy="83.5" r="3"/>
<circle class="tbt" cx="123.2" cy="72.7" r="3.3"/>
<circle class="tu" cx="99.9" cy="76.2" r="2.9"/>
<circle class="ts" cx="116.4" cy="59.1" r="2.4"/>
<circle class="tbq" cx="119" cy="72.2" r="3.5"/>
<circle class="to" cx="107.3" cy="71.4" r="3.3"/>
<circle class="tbo" cx="111.6" cy="62.2" r="3"/>
<circle class="tbj" cx="114.8" cy="71.2" r="2.1"/>
<circle class="tbw" cx="120" cy="90" r="2.1"/>
<circle class="th" cx="97.1" cy="81" r="3.3"/>
<circle class="ts" cx="118.2" cy="61.8" r="2.1"/>
<circle class="tcb" cx="115.2" cy="76.1" r="2"/>
<circle class="tbn" cx="118.1" cy="76.1" r="2.4"/>
<circle class="tbn" cx="117.1" cy="94.5" r="2.5"/>
<circle class="tbh" cx="116.4" cy="95.2" r="2.8"/>
<circle class="tbj" cx="116.4" cy="62.1" r="3.1"/>
<circle class="tu" cx="95.1" cy="92.1" r="2.2"/>
<circle class="tbn" cx="116.4" cy="81.9" r="3.2"/>
<circle class="tu" cx="95.1" cy="82.3" r="2.4"/>
<circle class="tcc" cx="118.6" cy="62.1" r="3.5"/>
<circle class="tcc" cx="105.5" cy="65.2" r="3.4"/>
<circle class="tbm" cx="116.5" cy="58.8" r="3.4"/>
<circle class="tab" cx="97.8" cy="86.6" r="3.5"/>
<circle class="tbo" cx="109.8" cy="88.2" r="2.8"/>
<circle class="th" cx="104.1" cy="93.2" r="2.2"/>
<circle class="ts" cx="111.6" cy="83.4" r="3"/>
<circle class="tbj" cx="120.8" cy="86.5" r="3.5"/>
<circle class="tt" cx="109.4" cy="78.8" r="3"/>
<circle class="th" cx="124.4" cy="62.8" r="2.5"/>
<circle class="tl" cx="104.3" cy="66.2" r="3"/>
<circle class="tbq" cx="117" cy="74.8" r="2.1"/>
<circle class="tcb" cx="111.1" cy="74.6" r="3.3"/>
<circle class="tcc" cx="103.4" cy="78" r="3.5"/>
<circle class="to" cx="109.1" cy="89.9" r="2.1"/>
<circle class="ts" cx="106.9" cy="82.8" r="2.3"/>
<circle class="th" cx="104.7" cy="74.9" r="2"/>
<circle class="tbo" cx="120.3" cy="89.9" r="2.8"/>
<circle class="tbw" cx="112.2" cy="92.4" r="3.4"/>
<circle class="tr" cx="98.2" cy="83.8" r="2.5"/>
<circle class="tl" cx="98.4" cy="63.6" r="3"/>
<circle class="tbn" cx="114.9" cy="83" r="3"/>
<circle class="to" cx="100.4" cy="64.6" r="3.5"/>
<circle class="tr" cx="127.8" cy="95" r="2.5"/>
<circle class="tbk" cx="123.3" cy="71.1" r="3.5"/>
<circle class="ts" cx="106.8" cy="73.1" r="2.8"/>
<circle class="tbo" cx="115.6" cy="67.2" r="3.1"/>
<circle class="tbn" cx="125.6" cy="79.1" r="2.3"/>
<circle class="ts" cx="101.2" cy="89.9" r="3.2"/>
<circle class="tbt" cx="125.1" cy="69.7" r="2.1"/>
<circle class="tbl" cx="117.4" cy="78.3" r="2.4"/>
<circle class="tbt" cx="121.3" cy="69.1" r="2.5"/>
<circle class="tt" cx="123.1" cy="89.7" r="3.5"/>
<circle class="tby" cx="115.2" cy="61" r="2.3"/>
<circle class="tab" cx="100.1" cy="63.8" r="2.8"/>
<circle class="to" cx="107.5" cy="77.3" r="3.1"/>
<circle class="th" cx="99.1" cy="69.7" r="2.7"/>
<circle class="tcb" cx="128.5" cy="89.3" r="3"/>
<circle class="tbu" cx="126.1" cy="73.7" r="2.8"/>
<circle class="tbn" cx="119.2" cy="84.9" r="2.5"/>
<circle class="th" cx="111.9" cy="72.1" r="1.9"/>
<circle class="tbu" cx="120.2" cy="64.1" r="2.5"/>
<circle class="tt" cx="106.4" cy="73.2" r="3.4"/>
<circle class="tl" cx="99.7" cy="77.9" r="3"/>
<circle class="tr" cx="103" cy="66.3" r="1.9"/>
<circle class="tbw" cx="121.2" cy="82.6" r="2"/>
<circle class="to" cx="105.8" cy="60.7" r="3.2"/>
<circle class="tu" cx="108.4" cy="71.3" r="2"/>
<circle class="tbw" cx="111" cy="86.3" r="3.2"/>
<circle class="th" cx="100.8" cy="70.2" r="1.8"/>
<circle class="tbt" cx="121.8" cy="76.1" r="2"/>
<circle class="tab" cx="102.4" cy="90.9" r="2.8"/>
<circle class="tbn" cx="121.8" cy="73.9" r="3.6"/>
<circle class="tbt" cx="120" cy="64.2" r="2.8"/>
<circle class="tj" cx="109.3" cy="78.1" r="2.4"/>
<circle class="tca" cx="98.2" cy="94" r="2"/>
<circle class="tbw" cx="118.9" cy="83.2" r="3.5"/>
<circle class="tab" cx="124.4" cy="92.5" r="2.2"/>
<circle class="ts" cx="106.9" cy="81.8" r="2"/>
<circle class="tbl" cx="108" cy="59.8" r="3.3"/>
<circle class="tbo" cx="126.2" cy="77.2" r="1.8"/>
<circle class="th" cx="101.9" cy="81.5" r="2.8"/>
<circle class="tbq" cx="123.5" cy="77.8" r="3.2"/>
<circle class="th" cx="97.8" cy="81" r="1.8"/>
<circle class="tbm" cx="121.6" cy="91.3" r="2.6"/>
<circle class="tbn" cx="105.4" cy="64.2" r="2.4"/>
<circle class="tbm" cx="102.5" cy="84.9" r="2.5"/>
<circle class="tt" cx="126.2" cy="61.7" r="2.1"/>
<circle class="tby" cx="112.6" cy="89.3" r="3.4"/>
<circle class="tl" cx="104" cy="59.7" r="2.4"/>
<circle class="tbh" cx="116" cy="68.1" r="3.2"/>
<circle class="tl" cx="97" cy="82" r="3.2"/>
<circle class="tbt" cx="123.3" cy="67.3" r="3"/>
<circle class="tab" cx="117.6" cy="63.4" r="3.1"/>
<circle class="tl" cx="105.9" cy="91.4" r="3"/>
<circle class="tu" cx="95.1" cy="79.6" r="3.6"/>
<circle class="tbw" cx="115.4" cy="82.6" r="2.3"/>
<circle class="to" cx="102.4" cy="75.5" r="3"/>
<circle class="tl" cx="103.5" cy="63.1" r="3.2"/>
<circle class="tj" cx="108.7" cy="87.1" r="3.3"/>
<circle class="tbt" cx="111.2" cy="61.4" r="2.5"/>
<circle class="tr" cx="126" cy="62.5" r="2.5"/>
<circle class="tbo" cx="116.1" cy="88.5" r="2.8"/>
<circle class="tbn" cx="108.1" cy="90.8" r="2.3"/>
<circle class="tbu" cx="100.1" cy="84.6" r="3"/>
<circle cx="109" cy="76.5" r="6.2" fill="#261c98" stroke="#d89030" stroke-width="3.0" opacity="1"/><path d="M109 70.3 A6.2 6.2 0 0 1 114.8 79" fill="none" stroke="#cc5440" stroke-width="3.0"/><path d="M103.2 74 A6.2 6.2 0 0 1 108 70.4" fill="none" stroke="#e8c040" stroke-width="2.6"/><circle cx="104.5" cy="82.5" r="1.8" fill="#70d0b0" opacity="0.9"/>
</g></g>
<line x1="99.6" y1="92.6" x2="113.2" y2="92.6" stroke="#fff" stroke-width="1.1"/>
<text x="106.4" y="91.2" font-size="3.2" font-family="Liberation Sans, Arial, sans-serif" text-anchor="middle" fill="#fff" font-weight="bold" >10 µm</text>
<clipPath id="cpA3"><rect x="95.2" y="96.8" width="32.8" height="39.2"/></clipPath>
<g clip-path="url(#cpA3)"><rect x="95.2" y="96.8" width="32.8" height="39.2" fill="#2a1f9a"/>
<g filter="url(#cb)">
<rect x="87.2" y="88.8" width="48.8" height="55.2" fill="#2a1f9a"/>
<rect class="tbe" x="87.2" y="88.8" width="14" height="15"/>
<rect class="tbe" x="100.2" y="88.8" width="6.5" height="15"/>
<rect class="tbe" x="105.6" y="88.8" width="6.5" height="15"/>
<rect class="tbe" x="111.1" y="88.8" width="6.5" height="15"/>
<rect class="tbf" x="116.6" y="88.8" width="6.5" height="15"/>
<rect class="tbf" x="122" y="88.8" width="14" height="15"/>
<rect class="tbf" x="87.2" y="102.8" width="14" height="7.5"/>
<rect class="tbe" x="100.2" y="102.8" width="6.5" height="7.5"/>
<rect class="tbe" x="105.6" y="102.8" width="6.5" height="7.5"/>
<rect class="tbe" x="111.1" y="102.8" width="6.5" height="7.5"/>
<rect class="tbe" x="116.6" y="102.8" width="6.5" height="7.5"/>
<rect class="tbf" x="122" y="102.8" width="14" height="7.5"/>
<rect class="tbf" x="87.2" y="109.4" width="14" height="7.5"/>
<rect class="tbe" x="100.2" y="109.4" width="6.5" height="7.5"/>
<rect class="tbe" x="105.6" y="109.4" width="6.5" height="7.5"/>
<rect class="tbe" x="111.1" y="109.4" width="6.5" height="7.5"/>
<rect class="tbe" x="116.6" y="109.4" width="6.5" height="7.5"/>
<rect class="tbe" x="122" y="109.4" width="14" height="7.5"/>
<rect class="tbf" x="87.2" y="115.9" width="14" height="7.5"/>
<rect class="tbf" x="100.2" y="115.9" width="6.5" height="7.5"/>
<rect class="tbe" x="105.6" y="115.9" width="6.5" height="7.5"/>
<rect class="tbe" x="111.1" y="115.9" width="6.5" height="7.5"/>
<rect class="tbe" x="116.6" y="115.9" width="6.5" height="7.5"/>
<rect class="tbf" x="122" y="115.9" width="14" height="7.5"/>
<rect class="tbe" x="87.2" y="122.4" width="14" height="7.5"/>
<rect class="tbf" x="100.2" y="122.4" width="6.5" height="7.5"/>
<rect class="tbe" x="105.6" y="122.4" width="6.5" height="7.5"/>
<rect class="tbe" x="111.1" y="122.4" width="6.5" height="7.5"/>
<rect class="tbf" x="116.6" y="122.4" width="6.5" height="7.5"/>
<rect class="tbf" x="122" y="122.4" width="14" height="7.5"/>
<rect class="tbe" x="87.2" y="129" width="14" height="15"/>
<rect class="tbe" x="100.2" y="129" width="6.5" height="15"/>
<rect class="tbe" x="105.6" y="129" width="6.5" height="15"/>
<rect class="tbf" x="111.1" y="129" width="6.5" height="15"/>
<rect class="tbf" x="116.6" y="129" width="6.5" height="15"/>
<rect class="tbf" x="122" y="129" width="14" height="15"/>
</g>
<g filter="url(#blA3)">
<circle class="tcd" cx="107.7" cy="106.5" r="2.9"/>
<circle class="tu" cx="117.5" cy="111.8" r="2.3"/>
<circle class="tl" cx="116.5" cy="110.4" r="2.3"/>
<circle class="ts" cx="110.4" cy="109.1" r="2.6"/>
<circle class="tt" cx="112.1" cy="118.6" r="1.9"/>
<circle class="tbt" cx="126.7" cy="117.4" r="2.7"/>
<circle class="tbo" cx="121.7" cy="97.1" r="2.5"/>
<circle class="tcd" cx="107.7" cy="130.1" r="3.1"/>
<circle class="tbt" cx="116.5" cy="132" r="3.2"/>
<circle class="th" cx="120" cy="110.9" r="2.1"/>
<circle class="to" cx="110.9" cy="99.7" r="2"/>
<circle class="to" cx="106.8" cy="136.8" r="1.9"/>
<circle class="tbn" cx="119.5" cy="135.3" r="2.2"/>
<circle class="tab" cx="107.7" cy="98.8" r="3.2"/>
<circle class="tbo" cx="100.3" cy="110.1" r="2.6"/>
<circle class="th" cx="108.5" cy="134.5" r="2"/>
<circle class="ts" cx="111.7" cy="97.9" r="3.4"/>
<circle class="tl" cx="94.8" cy="130.1" r="3"/>
<circle class="tbn" cx="113.5" cy="135" r="3.2"/>
<circle class="tab" cx="111.8" cy="116.7" r="3.1"/>
<circle class="tbh" cx="124.5" cy="123.2" r="1.9"/>
<circle class="to" cx="117.9" cy="125.8" r="2.1"/>
<circle class="tby" cx="126.2" cy="126.4" r="3.2"/>
<circle class="tbl" cx="124" cy="106.8" r="3.2"/>
<circle class="tbt" cx="115.9" cy="135.6" r="2.6"/>
<circle class="tbo" cx="127.2" cy="103.6" r="2.9"/>
<circle class="to" cx="109.9" cy="124.4" r="3.5"/>
<circle class="th" cx="126.2" cy="112.3" r="1.9"/>
<circle class="th" cx="117.7" cy="107.9" r="2.8"/>
<circle class="to" cx="110.2" cy="121.3" r="1.9"/>
<circle class="th" cx="121.9" cy="108.5" r="3.1"/>
<circle class="tbt" cx="119.2" cy="98.9" r="3.5"/>
<circle class="ts" cx="112.3" cy="96.8" r="3.2"/>
<circle class="tbo" cx="95.1" cy="105.3" r="3.3"/>
<circle class="tab" cx="110" cy="124.5" r="2.5"/>
<circle class="tce" cx="113.6" cy="105.8" r="3.1"/>
<circle class="tbw" cx="117.3" cy="101.4" r="3.3"/>
<circle class="tbu" cx="96.7" cy="115.7" r="2.2"/>
<circle class="tbo" cx="125.5" cy="106.8" r="2.6"/>
<circle class="tab" cx="114.7" cy="124.7" r="3.3"/>
<circle class="tt" cx="98.5" cy="96.3" r="1.9"/>
<circle class="tj" cx="95" cy="99.4" r="2"/>
<circle class="tab" cx="112.3" cy="110.5" r="2.2"/>
<circle class="th" cx="101.3" cy="136.7" r="3.3"/>
<circle class="tu" cx="122.1" cy="104.1" r="2.3"/>
<circle class="tbw" cx="120.7" cy="129.3" r="2.3"/>
<circle class="th" cx="101.1" cy="123.6" r="3.1"/>
<circle class="tbh" cx="118.7" cy="130.8" r="2.9"/>
<circle class="tu" cx="118.4" cy="120.2" r="1.9"/>
<circle class="ts" cx="117" cy="117.3" r="3.1"/>
<circle class="tbw" cx="100.6" cy="121.1" r="2.2"/>
<circle class="tbt" cx="127.3" cy="123.9" r="3"/>
<circle class="tu" cx="105.9" cy="98.3" r="2"/>
<circle class="tbt" cx="95.2" cy="106.5" r="2.7"/>
<circle class="tbn" cx="95.7" cy="117.7" r="2.5"/>
<circle class="tu" cx="116.1" cy="106.4" r="3.2"/>
<circle class="to" cx="104.6" cy="136.3" r="1.9"/>
<circle class="tab" cx="104.9" cy="117.3" r="2.6"/>
<circle class="tbo" cx="98.7" cy="103.6" r="2.4"/>
<circle class="tbu" cx="114.1" cy="131.7" r="2.1"/>
<circle class="tby" cx="101.6" cy="124.2" r="2.1"/>
<circle class="ts" cx="116.1" cy="125.5" r="2.7"/>
<circle class="tj" cx="107.8" cy="107.8" r="2"/>
<circle class="tt" cx="127.5" cy="112.6" r="3.3"/>
<circle class="tbw" cx="100.5" cy="122.4" r="2.9"/>
<circle class="ts" cx="101.1" cy="127.7" r="3.1"/>
<circle class="th" cx="98.5" cy="103.5" r="2"/>
<circle class="ts" cx="97.2" cy="130.4" r="2.4"/>
<circle class="tt" cx="122.9" cy="114.2" r="2.2"/>
<circle class="tt" cx="119.8" cy="117.2" r="2.2"/>
<circle class="tt" cx="105.9" cy="98.4" r="2.4"/>
<circle class="tbu" cx="121.8" cy="119.3" r="3.5"/>
<circle class="tbo" cx="122.1" cy="104" r="2"/>
<circle class="tr" cx="105.8" cy="126.2" r="2.8"/>
<circle class="tbl" cx="127.8" cy="103.9" r="3.1"/>
<circle class="tu" cx="104.4" cy="112" r="2"/>
<circle class="tbu" cx="116.8" cy="129.9" r="2.8"/>
<circle class="tab" cx="117.2" cy="116.2" r="3.1"/>
<circle class="tbw" cx="128.5" cy="131.8" r="2.6"/>
<circle class="tbj" cx="97.1" cy="119.5" r="2.2"/>
<circle class="tbk" cx="99.8" cy="116.6" r="2.9"/>
<circle class="tbj" cx="95.8" cy="111.2" r="3.3"/>
<circle class="tbo" cx="125.4" cy="123.5" r="3.3"/>
<circle class="th" cx="102" cy="107.8" r="3.3"/>
<circle class="tj" cx="109.8" cy="121.7" r="2.1"/>
<circle class="tr" cx="96.7" cy="97.1" r="1.9"/>
<circle class="tl" cx="101.1" cy="100.8" r="2.5"/>
<circle class="tbn" cx="119.1" cy="98.2" r="2.6"/>
<circle class="tbt" cx="99.3" cy="116.3" r="2.3"/>
<circle class="tbt" cx="116.5" cy="128" r="2.7"/>
<circle class="tbn" cx="121.1" cy="136.3" r="3.1"/>
<circle class="tbk" cx="123.4" cy="135.8" r="3.2"/>
<circle class="tbj" cx="123.1" cy="104.2" r="2"/>
<circle class="tab" cx="98.1" cy="133.4" r="2.2"/>
<circle class="th" cx="101.7" cy="136" r="2.9"/>
<circle class="tt" cx="111" cy="107.4" r="3"/>
<circle class="tbt" cx="101.3" cy="122.6" r="2.5"/>
<circle class="tab" cx="110.9" cy="117.3" r="3.4"/>
<circle class="tbo" cx="127.4" cy="99.2" r="2"/>
<circle class="tbo" cx="105.9" cy="124.3" r="3"/>
<circle class="tt" cx="102.4" cy="104.2" r="2.7"/>
<circle class="tr" cx="116.8" cy="117.4" r="2.2"/>
<circle class="tt" cx="120.7" cy="117.1" r="2.4"/>
<circle class="to" cx="108.3" cy="124.3" r="3.1"/>
<circle class="ts" cx="126.2" cy="116.4" r="1.9"/>
<circle class="tbn" cx="123.5" cy="122.9" r="2.7"/>
<circle class="tt" cx="116.1" cy="126.2" r="2.4"/>
<circle class="th" cx="104" cy="99.7" r="3.2"/>
<circle class="tj" cx="117.5" cy="99.8" r="1.9"/>
<circle class="to" cx="97.8" cy="130.5" r="3.5"/>
<circle class="tbu" cx="128.4" cy="129" r="2"/>
<circle class="tbm" cx="106.2" cy="122.1" r="3.2"/>
<circle class="tr" cx="118.6" cy="107" r="1.9"/>
<circle class="tu" cx="115.6" cy="119.6" r="3.2"/>
<circle class="tbl" cx="102" cy="117.4" r="2.8"/>
<circle class="tt" cx="114.3" cy="118.7" r="3"/>
<circle class="tbl" cx="123" cy="135.3" r="3.3"/>
<circle class="tbt" cx="126.7" cy="129.1" r="2"/>
<circle class="tu" cx="102.9" cy="110.7" r="2"/>
<circle class="ts" cx="103.9" cy="101.1" r="2.8"/>
<circle class="to" cx="112.2" cy="109.8" r="1.9"/>
<circle class="to" cx="108.3" cy="104" r="2.8"/>
<circle class="tu" cx="109.4" cy="122.3" r="3"/>
<circle class="tt" cx="108.7" cy="104" r="2.4"/>
<circle class="tj" cx="105.6" cy="110.7" r="3.3"/>
<circle class="tab" cx="106.6" cy="112.3" r="3.6"/>
<circle class="tbl" cx="100.9" cy="121.6" r="1.9"/>
<circle class="th" cx="96.6" cy="129.1" r="3.2"/>
<circle class="th" cx="98.2" cy="136.9" r="2.4"/>
<circle class="th" cx="102.4" cy="131.9" r="2.3"/>
<circle class="tr" cx="116.5" cy="109.6" r="1.9"/>
<circle class="tab" cx="121" cy="109.3" r="3.3"/>
<circle class="tu" cx="123.9" cy="110.7" r="2.2"/>
<circle class="ts" cx="114.9" cy="101.6" r="3.1"/>
<circle class="tbn" cx="95.8" cy="110.4" r="3"/>
<circle class="tce" cx="109" cy="111.4" r="2"/>
<circle class="th" cx="108.8" cy="136.2" r="2.9"/>
<circle class="tbl" cx="106.1" cy="128.8" r="3.4"/>
<circle class="tr" cx="110.7" cy="115.8" r="3"/>
<circle class="tbn" cx="116.3" cy="99.4" r="2.8"/>
<circle class="tbt" cx="112.8" cy="131.5" r="2"/>
<circle class="tbo" cx="120.8" cy="125.6" r="3.3"/>
<circle class="tr" cx="119.6" cy="116.4" r="2.2"/>
<circle class="ts" cx="105.6" cy="104.1" r="3.1"/>
<circle cx="111.5" cy="115" r="7.2" fill="#2a24b0" stroke="#70e0e8" stroke-width="2.8" opacity="1"/><circle cx="111.5" cy="115" r="7.2" fill="none" stroke="#d0ffff" stroke-width="0.8" opacity="1"/><circle cx="104" cy="108" r="1.8" fill="#60c8d8" opacity="0.8"/><circle cx="119.5" cy="108.5" r="1.6" fill="#90e8f0" opacity="0.9"/>
</g></g>
<line x1="99.6" y1="133.8" x2="113.2" y2="133.8" stroke="#fff" stroke-width="1.1"/>
<text x="106.4" y="132.4" font-size="3.2" font-family="Liberation Sans, Arial, sans-serif" text-anchor="middle" fill="#fff" font-weight="bold" >10 µm</text>
<clipPath id="cpC"><rect x="6.1" y="166.2" width="123.7" height="108.4"/></clipPath>
<g clip-path="url(#cpC)"><rect x="6.1" y="166.2" width="123.7" height="108.4" fill="#201a78"/>
<g filter="url(#cb)">
<rect x="-1.9000000000000004" y="158.2" width="139.7" height="124.4" fill="#201a78"/>
<rect class="tcf" x="-1.9" y="158.2" width="20.9" height="20.5"/>
<rect class="tcf" x="18" y="158.2" width="13.4" height="20.5"/>
<rect class="tcf" x="30.3" y="158.2" width="13.4" height="20.5"/>
<rect class="tcf" x="42.7" y="158.2" width="13.4" height="20.5"/>
<rect class="tcf" x="55.1" y="158.2" width="13.4" height="20.5"/>
<rect class="tcf" x="67.5" y="158.2" width="13.4" height="20.5"/>
<rect class="tcg" x="79.8" y="158.2" width="13.4" height="20.5"/>
<rect class="tcg" x="92.2" y="158.2" width="13.4" height="20.5"/>
<rect class="tcf" x="104.6" y="158.2" width="13.4" height="20.5"/>
<rect class="tcf" x="116.9" y="158.2" width="20.9" height="20.5"/>
<rect class="tcf" x="-1.9" y="177.7" width="20.9" height="13"/>
<rect class="tch" x="18" y="177.7" width="13.4" height="13"/>
<rect class="tch" x="30.3" y="177.7" width="13.4" height="13"/>
<rect class="tci" x="42.7" y="177.7" width="13.4" height="13"/>
<rect class="tcj" x="55.1" y="177.7" width="13.4" height="13"/>
<rect class="tcf" x="67.5" y="177.7" width="13.4" height="13"/>
<rect class="tcg" x="79.8" y="177.7" width="13.4" height="13"/>
<rect class="tck" x="92.2" y="177.7" width="13.4" height="13"/>
<rect class="tck" x="104.6" y="177.7" width="13.4" height="13"/>
<rect class="tcg" x="116.9" y="177.7" width="20.9" height="13"/>
<rect class="tcf" x="-1.9" y="189.8" width="20.9" height="13"/>
<rect class="tch" x="18" y="189.8" width="13.4" height="13"/>
<rect class="tch" x="30.3" y="189.8" width="13.4" height="13"/>
<rect class="tci" x="42.7" y="189.8" width="13.4" height="13"/>
<rect class="tcg" x="55.1" y="189.8" width="13.4" height="13"/>
<rect class="tcf" x="67.5" y="189.8" width="13.4" height="13"/>
<rect class="tcg" x="79.8" y="189.8" width="13.4" height="13"/>
<rect class="tck" x="92.2" y="189.8" width="13.4" height="13"/>
<rect class="tck" x="104.6" y="189.8" width="13.4" height="13"/>
<rect class="tcg" x="116.9" y="189.8" width="20.9" height="13"/>
<rect class="tcf" x="-1.9" y="201.8" width="20.9" height="13"/>
<rect class="tch" x="18" y="201.8" width="13.4" height="13"/>
<rect class="tcj" x="30.3" y="201.8" width="13.4" height="13"/>
<rect class="tcg" x="42.7" y="201.8" width="13.4" height="13"/>
<rect class="tci" x="55.1" y="201.8" width="13.4" height="13"/>
<rect class="tcf" x="67.5" y="201.8" width="13.4" height="13"/>
<rect class="tcf" x="79.8" y="201.8" width="13.4" height="13"/>
<rect class="tcf" x="92.2" y="201.8" width="13.4" height="13"/>
<rect class="tcg" x="104.6" y="201.8" width="13.4" height="13"/>
<rect class="tcf" x="116.9" y="201.8" width="20.9" height="13"/>
<rect class="tcj" x="-1.9" y="213.9" width="20.9" height="13"/>
<rect class="tcj" x="18" y="213.9" width="13.4" height="13"/>
<rect class="tci" x="30.3" y="213.9" width="13.4" height="13"/>
<rect class="tcl" x="42.7" y="213.9" width="13.4" height="13"/>
<rect class="tcl" x="55.1" y="213.9" width="13.4" height="13"/>
<rect class="tci" x="67.5" y="213.9" width="13.4" height="13"/>
<rect class="tci" x="79.8" y="213.9" width="13.4" height="13"/>
<rect class="tcj" x="92.2" y="213.9" width="13.4" height="13"/>
<rect class="tcf" x="104.6" y="213.9" width="13.4" height="13"/>
<rect class="tcf" x="116.9" y="213.9" width="20.9" height="13"/>
<rect class="tcj" x="-1.9" y="225.9" width="20.9" height="13"/>
<rect class="tci" x="18" y="225.9" width="13.4" height="13"/>
<rect class="tcl" x="30.3" y="225.9" width="13.4" height="13"/>
<rect class="tcm" x="42.7" y="225.9" width="13.4" height="13"/>
<rect class="tcm" x="55.1" y="225.9" width="13.4" height="13"/>
<rect class="tcm" x="67.5" y="225.9" width="13.4" height="13"/>
<rect class="tcl" x="79.8" y="225.9" width="13.4" height="13"/>
<rect class="tcl" x="92.2" y="225.9" width="13.4" height="13"/>
<rect class="tci" x="104.6" y="225.9" width="13.4" height="13"/>
<rect class="tcj" x="116.9" y="225.9" width="20.9" height="13"/>
<rect class="tcn" x="-1.9" y="238" width="20.9" height="13"/>
<rect class="tcn" x="18" y="238" width="13.4" height="13"/>
<rect class="tcm" x="30.3" y="238" width="13.4" height="13"/>
<rect class="tcm" x="42.7" y="238" width="13.4" height="13"/>
<rect class="tcm" x="55.1" y="238" width="13.4" height="13"/>
<rect class="tcm" x="67.5" y="238" width="13.4" height="13"/>
<rect class="tcm" x="79.8" y="238" width="13.4" height="13"/>
<rect class="tcm" x="92.2" y="238" width="13.4" height="13"/>
<rect class="tcl" x="104.6" y="238" width="13.4" height="13"/>
<rect class="tcm" x="116.9" y="238" width="20.9" height="13"/>
<rect class="tcn" x="-1.9" y="250" width="20.9" height="13"/>
<rect class="tcn" x="18" y="250" width="13.4" height="13"/>
<rect class="tcl" x="30.3" y="250" width="13.4" height="13"/>
<rect class="tcm" x="42.7" y="250" width="13.4" height="13"/>
<rect class="tcn" x="55.1" y="250" width="13.4" height="13"/>
<rect class="tcm" x="67.5" y="250" width="13.4" height="13"/>
<rect class="tcm" x="79.8" y="250" width="13.4" height="13"/>
<rect class="tcm" x="92.2" y="250" width="13.4" height="13"/>
<rect class="tcm" x="104.6" y="250" width="13.4" height="13"/>
<rect class="tcm" x="116.9" y="250" width="20.9" height="13"/>
<rect class="tcj" x="-1.9" y="262.1" width="20.9" height="20.5"/>
<rect class="tci" x="18" y="262.1" width="13.4" height="20.5"/>
<rect class="tcl" x="30.3" y="262.1" width="13.4" height="20.5"/>
<rect class="tcm" x="42.7" y="262.1" width="13.4" height="20.5"/>
<rect class="tcn" x="55.1" y="262.1" width="13.4" height="20.5"/>
<rect class="tcl" x="67.5" y="262.1" width="13.4" height="20.5"/>
<rect class="tcm" x="79.8" y="262.1" width="13.4" height="20.5"/>
<rect class="tcm" x="92.2" y="262.1" width="13.4" height="20.5"/>
<rect class="tcm" x="104.6" y="262.1" width="13.4" height="20.5"/>
<rect class="tcm" x="116.9" y="262.1" width="20.9" height="20.5"/>
</g>
<g filter="url(#blC)">
<circle class="tco" cx="56.8" cy="192.1" r="1.6"/>
<circle class="tcp" cx="91.1" cy="261.2" r="1.9"/>
<circle class="tcq" cx="78.8" cy="217.1" r="1.3"/>
<circle class="tcr" cx="51.2" cy="214.1" r="1.9"/>
<circle class="tcs" cx="43.6" cy="201.8" r="2"/>
<circle class="tct" cx="31.4" cy="273.1" r="2.7"/>
<circle class="tcu" cx="107.2" cy="212.6" r="1.7"/>
<circle class="tcv" cx="19.8" cy="174.6" r="1.5"/>
<circle class="tcw" cx="80.4" cy="225.8" r="2.2"/>
<circle class="tcx" cx="38.9" cy="168.8" r="1.5"/>
<circle class="tcy" cx="74.8" cy="227.9" r="2.3"/>
<circle class="tcz" cx="64.7" cy="192.8" r="2"/>
<circle class="tda" cx="31.8" cy="188.3" r="1.7"/>
<circle class="tda" cx="125.9" cy="175.4" r="2.8"/>
<circle class="tcy" cx="50.7" cy="199.5" r="2.3"/>
<circle class="tco" cx="88.5" cy="175.6" r="2.6"/>
<circle class="tdb" cx="97.3" cy="199.5" r="2.7"/>
<circle class="tcz" cx="106" cy="196.9" r="1.6"/>
<circle class="tdc" cx="85.2" cy="251.6" r="1.7"/>
<circle class="tdd" cx="88.5" cy="225.6" r="1.5"/>
<circle class="tde" cx="106.6" cy="245.3" r="2.1"/>
<circle class="tdf" cx="21.8" cy="222.6" r="1.4"/>
<circle class="tdg" cx="8.6" cy="274.8" r="1.8"/>
<circle class="tdh" cx="16.9" cy="249.5" r="1.6"/>
<circle class="tdg" cx="92.5" cy="202.7" r="2.3"/>
<circle class="tdi" cx="109.6" cy="182" r="1.3"/>
<circle class="tdj" cx="118.2" cy="201.9" r="2.7"/>
<circle class="tdk" cx="16" cy="237.6" r="2"/>
<circle class="tdl" cx="56.9" cy="227.8" r="1.5"/>
<circle class="tdm" cx="58.5" cy="199.7" r="1.3"/>
<circle class="tdn" cx="17.1" cy="202.9" r="1.4"/>
<circle class="tdo" cx="59.1" cy="226.9" r="1.4"/>
<circle class="tdd" cx="17.4" cy="237.9" r="2.7"/>
<circle class="tdp" cx="61.7" cy="243.6" r="2.3"/>
<circle class="tdq" cx="107.8" cy="217.2" r="2.2"/>
<circle class="tdr" cx="95.5" cy="266" r="2.1"/>
<circle class="tds" cx="63.1" cy="227.2" r="2.5"/>
<circle class="tcx" cx="9.1" cy="165.8" r="2.3"/>
<circle class="tdt" cx="40.9" cy="264.2" r="1.4"/>
<circle class="tdu" cx="97.6" cy="226.8" r="2.1"/>
<circle class="tdq" cx="31.9" cy="196.1" r="1.9"/>
<circle class="tdv" cx="19.3" cy="213.7" r="1.8"/>
<circle class="tcz" cx="105.2" cy="183.4" r="1.8"/>
<circle class="tdw" cx="130.8" cy="201.6" r="2.7"/>
<circle class="tdx" cx="34.6" cy="252.1" r="2.1"/>
<circle class="tdd" cx="58.8" cy="208.3" r="2.4"/>
<circle class="tdy" cx="106.6" cy="256.4" r="2"/>
<circle class="tdc" cx="94.5" cy="267.1" r="2"/>
<circle class="tdg" cx="38.1" cy="198.7" r="1.4"/>
<circle class="tdz" cx="45.5" cy="231.7" r="2.7"/>
<circle class="tea" cx="88.7" cy="213" r="1.2"/>
<circle class="tco" cx="98.6" cy="195" r="1.8"/>
<circle class="teb" cx="44.6" cy="183.1" r="2.8"/>
<circle class="tec" cx="100.7" cy="261" r="1.9"/>
<circle class="tcp" cx="72.8" cy="227.1" r="1.5"/>
<circle class="tdp" cx="65.3" cy="244.9" r="2.5"/>
<circle class="tdp" cx="41.8" cy="228.2" r="1.5"/>
<circle class="ted" cx="86.2" cy="194.2" r="1.3"/>
<circle class="tdz" cx="55.9" cy="226.7" r="2.4"/>
<circle class="tdb" cx="116.7" cy="200.4" r="1.5"/>
<circle class="tcp" cx="74.8" cy="237.5" r="2.7"/>
<circle class="tdq" cx="34" cy="164.9" r="1.3"/>
<circle class="tdo" cx="87.1" cy="236.8" r="1.4"/>
<circle class="tdc" cx="78.8" cy="253.1" r="2.6"/>
<circle class="tcp" cx="47.9" cy="260.8" r="1.9"/>
<circle class="tee" cx="76.7" cy="257.9" r="1.8"/>
<circle class="tef" cx="90.9" cy="233.2" r="2.6"/>
<circle class="teg" cx="15.6" cy="169.3" r="1.7"/>
<circle class="teg" cx="73.1" cy="202.4" r="2.4"/>
<circle class="teg" cx="41.6" cy="174.8" r="1.2"/>
<circle class="tdq" cx="115.9" cy="216" r="1.5"/>
<circle class="tcq" cx="20.3" cy="227.4" r="1.9"/>
<circle class="tdl" cx="118.4" cy="261.2" r="2.2"/>
<circle class="teh" cx="79.1" cy="258.9" r="2.5"/>
<circle class="teg" cx="18.9" cy="194.6" r="1.9"/>
<circle class="tdn" cx="120.3" cy="238.9" r="1.8"/>
<circle class="tei" cx="13.3" cy="228.4" r="2.4"/>
<circle class="tdc" cx="93.2" cy="245.6" r="1.9"/>
<circle class="tef" cx="39.2" cy="269.6" r="1.4"/>
<circle class="tej" cx="30" cy="185" r="0.9"/>
<circle class="tcu" cx="53.2" cy="166.4" r="1.7"/>
<circle class="tdg" cx="18" cy="275.9" r="2.1"/>
<circle class="tek" cx="77.2" cy="179.2" r="2.7"/>
<circle class="tcx" cx="17.8" cy="174.2" r="1.6"/>
<circle class="tdn" cx="81" cy="166.3" r="1.8"/>
<circle class="tcx" cx="78.5" cy="202.8" r="1.8"/>
<circle class="tdt" cx="77.7" cy="269.9" r="2.7"/>
<circle class="tel" cx="66.9" cy="263.9" r="2.4"/>
<circle class="tdi" cx="80.7" cy="183.9" r="1.7"/>
<circle class="tdu" cx="91.8" cy="225.7" r="2.1"/>
<circle class="tcr" cx="94.1" cy="177.5" r="2.7"/>
<circle class="tec" cx="81.7" cy="243.4" r="2.3"/>
<circle class="tdv" cx="66.9" cy="177.7" r="2.3"/>
<circle class="tdg" cx="30.7" cy="181.4" r="2.2"/>
<circle class="tek" cx="29.8" cy="213.8" r="2.1"/>
<circle class="tem" cx="20" cy="170.6" r="2.2"/>
<circle class="ten" cx="103.7" cy="201.4" r="2.8"/>
<circle class="tcx" cx="106.5" cy="167.3" r="1.7"/>
<circle class="tdl" cx="112" cy="263.4" r="2.3"/>
<circle class="teo" cx="54" cy="213.7" r="1.9"/>
<circle class="tco" cx="125.7" cy="179.4" r="1.3"/>
<circle class="tep" cx="98.9" cy="175.1" r="1.3"/>
<circle class="tds" cx="94.1" cy="231.9" r="2.3"/>
<circle class="tdy" cx="69.4" cy="241.3" r="2"/>
<circle class="tdn" cx="75" cy="177.8" r="1.8"/>
<circle class="teq" cx="116.4" cy="203.6" r="2.6"/>
<circle class="tel" cx="35.4" cy="272" r="1.8"/>
<circle class="ter" cx="93.4" cy="182.9" r="2"/>
<circle class="tdh" cx="31.9" cy="251.4" r="1.4"/>
<circle class="tes" cx="22.1" cy="188.1" r="1.3"/>
<circle class="tef" cx="42.9" cy="230" r="2.1"/>
<circle class="tec" cx="127.3" cy="257.5" r="1.8"/>
<circle class="teg" cx="70.1" cy="193.6" r="2"/>
<circle class="tec" cx="88.8" cy="275.7" r="2.7"/>
<circle class="tet" cx="41.6" cy="252.6" r="1.4"/>
<circle class="tei" cx="33.8" cy="208.5" r="2.1"/>
<circle class="teu" cx="131.3" cy="190.5" r="1.6"/>
<circle class="tev" cx="12.9" cy="245.4" r="2.2"/>
<circle class="tdq" cx="55.5" cy="170.4" r="1.7"/>
<circle class="tcz" cx="94.3" cy="167.8" r="2.1"/>
<circle class="tew" cx="31.5" cy="252.1" r="2.5"/>
<circle class="tdr" cx="91.8" cy="238.5" r="1.9"/>
<circle class="tcy" cx="69.8" cy="208.2" r="1.3"/>
<circle class="tdp" cx="80.6" cy="237.1" r="2"/>
<circle class="tdt" cx="104.7" cy="239.7" r="1.4"/>
<circle class="tdg" cx="131" cy="215.1" r="2.7"/>
<circle class="tex" cx="21.5" cy="187.8" r="1"/>
<circle class="teo" cx="119" cy="260.1" r="2.7"/>
<circle class="tct" cx="35.3" cy="275" r="2.2"/>
<circle class="tem" cx="5" cy="178" r="2.7"/>
<circle class="tea" cx="26.5" cy="238.6" r="2.2"/>
<circle class="tdt" cx="100" cy="237" r="1.3"/>
<circle class="tdr" cx="81.5" cy="241.3" r="1.6"/>
<circle class="tet" cx="32.1" cy="252.8" r="1.9"/>
<circle class="tey" cx="28.9" cy="235.9" r="2.5"/>
<circle class="tez" cx="4.7" cy="240" r="1.7"/>
<circle class="tcr" cx="108" cy="205.2" r="1.9"/>
<circle class="tcq" cx="19.3" cy="227.3" r="1.8"/>
<circle class="tcv" cx="81.5" cy="210.2" r="2"/>
<circle class="tee" cx="46.4" cy="236.2" r="2.3"/>
<circle class="tez" cx="118.5" cy="238.3" r="2.3"/>
<circle class="tem" cx="32.5" cy="213.3" r="2.3"/>
<circle class="tei" cx="117.1" cy="234.4" r="2.4"/>
<circle class="tct" cx="40.6" cy="255.2" r="1.6"/>
<circle class="tds" cx="104.7" cy="248.4" r="1.3"/>
<circle class="tdv" cx="16.1" cy="266.6" r="1.9"/>
<circle class="tdu" cx="4.6" cy="224.5" r="1.3"/>
<circle class="ted" cx="46.7" cy="202.4" r="2"/>
<circle class="tdn" cx="128.4" cy="214.8" r="1.2"/>
<circle class="tda" cx="73.2" cy="173.1" r="2.1"/>
<circle class="tei" cx="14.1" cy="213.6" r="1.7"/>
<circle class="tcq" cx="45.9" cy="191" r="2"/>
<circle class="tcq" cx="82.9" cy="221.5" r="2"/>
<circle class="tdn" cx="90.3" cy="205.9" r="1.5"/>
<circle class="teo" cx="59.9" cy="238.9" r="1.2"/>
<circle class="tdn" cx="130.4" cy="234" r="2.7"/>
<circle class="tec" cx="99.6" cy="260.2" r="2"/>
<circle class="tfa" cx="117.4" cy="236.7" r="2.4"/>
<circle class="tdf" cx="42" cy="208.4" r="2.1"/>
<circle class="teq" cx="106.8" cy="195.4" r="2.4"/>
<circle class="tee" cx="74.1" cy="234.7" r="1.8"/>
<circle class="tew" cx="53.8" cy="244" r="1.7"/>
<circle class="teo" cx="34.3" cy="264.3" r="2"/>
<circle class="teg" cx="67.7" cy="186.2" r="2.2"/>
<circle class="tct" cx="120.1" cy="250" r="1.3"/>
<circle class="tcy" cx="104.2" cy="235.4" r="1.7"/>
<circle class="tfb" cx="28.7" cy="236.9" r="2.7"/>
<circle class="tdn" cx="19.1" cy="227.8" r="2.3"/>
<circle class="ted" cx="68.1" cy="197.3" r="2.3"/>
<circle class="tdq" cx="7.3" cy="177" r="2.2"/>
<circle class="tde" cx="33.4" cy="257.9" r="1.6"/>
<circle class="tfc" cx="29.8" cy="248.8" r="1.9"/>
<circle class="tcr" cx="103.1" cy="174" r="2"/>
<circle class="tcp" cx="66.8" cy="257.3" r="2.4"/>
<circle class="tec" cx="45.4" cy="270.6" r="1.2"/>
<circle class="tcp" cx="81.8" cy="272.3" r="1.5"/>
<circle class="tdy" cx="116.9" cy="240.2" r="1.5"/>
<circle class="tem" cx="106.1" cy="171.5" r="1.8"/>
<circle class="tdi" cx="128.6" cy="195.6" r="2.6"/>
<circle class="tdg" cx="93.8" cy="208.8" r="2"/>
<circle class="tfb" cx="41.6" cy="184" r="1.7"/>
<circle class="tef" cx="42.9" cy="257.4" r="2.3"/>
<circle class="tda" cx="91.4" cy="202.1" r="1.5"/>
<circle class="tfd" cx="112.6" cy="246.8" r="1.3"/>
<circle class="tco" cx="92.9" cy="170.7" r="1.2"/>
<circle class="tek" cx="14" cy="178.2" r="1.9"/>
<circle class="tfe" cx="112.2" cy="243.1" r="1.5"/>
<circle class="tff" cx="77" cy="249.4" r="1.9"/>
<circle class="tcx" cx="121.7" cy="201.5" r="1.4"/>
<circle class="tdr" cx="104.2" cy="267.7" r="2.4"/>
<circle class="tdx" cx="123.2" cy="250.4" r="1.5"/>
<circle class="tdq" cx="71.1" cy="215.5" r="2.7"/>
<circle class="tey" cx="69.4" cy="222.9" r="1.9"/>
<circle class="tdl" cx="86.2" cy="270.8" r="1.6"/>
<circle class="tdu" cx="53.8" cy="177.9" r="1.8"/>
<circle class="teh" cx="130.8" cy="261.8" r="2.3"/>
<circle class="tfg" cx="104.9" cy="203.9" r="2.7"/>
<circle class="tdc" cx="46" cy="270.6" r="2.7"/>
<circle class="teh" cx="53.2" cy="251.1" r="1.4"/>
<circle class="teg" cx="16.5" cy="220.8" r="1.3"/>
<circle class="tdi" cx="126.8" cy="191.1" r="1.3"/>
<circle class="tfh" cx="44.8" cy="180.1" r="2.2"/>
<circle class="tdd" cx="76.6" cy="223" r="2.2"/>
<circle class="tek" cx="72.6" cy="189.5" r="1.3"/>
<circle class="tdg" cx="109.2" cy="227.4" r="2"/>
<circle class="tfi" cx="116.7" cy="228.5" r="1.7"/>
<circle class="teg" cx="79" cy="190.4" r="2.3"/>
<circle class="ted" cx="109.2" cy="215.5" r="1.8"/>
<circle class="tcv" cx="106" cy="208.4" r="1.8"/>
<circle class="tdg" cx="120.7" cy="201.2" r="2.3"/>
<circle class="tdg" cx="76.6" cy="176.6" r="2.3"/>
<circle class="teg" cx="41.4" cy="196.6" r="1.8"/>
<circle class="tcz" cx="82.7" cy="190.3" r="2.4"/>
<circle class="tco" cx="94.3" cy="180" r="1.4"/>
<circle class="tfj" cx="63.6" cy="257.3" r="1.9"/>
<circle class="tde" cx="61.7" cy="224.9" r="2.5"/>
<circle class="tej" cx="18.9" cy="195.6" r="0.8"/>
<circle class="tec" cx="89.5" cy="251.1" r="2.4"/>
<circle class="tdr" cx="83.3" cy="254.5" r="1.7"/>
<circle class="tcp" cx="69.7" cy="225.6" r="1.6"/>
<circle class="tex" cx="32" cy="205.1" r="0.7"/>
<circle class="tdy" cx="104.5" cy="262.5" r="1.6"/>
<circle class="tcx" cx="119.1" cy="226.9" r="1.3"/>
<circle class="tdt" cx="103.8" cy="248.2" r="2.1"/>
<circle class="tdy" cx="43.5" cy="241.5" r="1.8"/>
<circle class="tez" cx="22" cy="225.8" r="2.3"/>
<circle class="tda" cx="71.6" cy="194.7" r="2.3"/>
<circle class="tdu" cx="4.4" cy="231" r="1.4"/>
<circle class="tfc" cx="20.4" cy="264" r="1.7"/>
<circle class="tdg" cx="30.2" cy="165.1" r="2"/>
<circle class="tcv" cx="6" cy="195.3" r="2.1"/>
<circle class="tem" cx="69.9" cy="204.6" r="2.1"/>
<circle class="tdh" cx="26.3" cy="247.6" r="1.4"/>
<circle class="tde" cx="77.8" cy="265.1" r="1.5"/>
<circle class="tcy" cx="43.3" cy="200.6" r="2.5"/>
<circle class="tdr" cx="69.5" cy="242.7" r="2.3"/>
<circle class="tcz" cx="86.9" cy="166.1" r="1.2"/>
<circle class="tdu" cx="122.8" cy="230.2" r="2.5"/>
<circle class="teu" cx="108.6" cy="206" r="2.4"/>
<circle class="tdn" cx="34.8" cy="192.8" r="1.5"/>
<circle class="tds" cx="35.4" cy="250.3" r="2.7"/>
<circle class="teh" cx="54.1" cy="271.4" r="2"/>
<circle class="teu" cx="57.1" cy="215" r="2.2"/>
<circle class="tde" cx="43.3" cy="229" r="2"/>
<circle class="tdc" cx="93.3" cy="251.9" r="2"/>
<circle class="tdn" cx="19" cy="190.2" r="1.3"/>
<circle class="tep" cx="104.6" cy="214.6" r="1.6"/>
<circle class="tdn" cx="83.2" cy="204.5" r="2"/>
<circle class="tef" cx="104.8" cy="248.8" r="2.4"/>
<circle class="tfb" cx="89.6" cy="223.4" r="1.8"/>
<circle class="tcu" cx="71.3" cy="202.7" r="1.4"/>
<circle class="tdu" cx="66.6" cy="182.5" r="2"/>
<circle class="tfk" cx="7" cy="271.2" r="1.5"/>
<circle class="tde" cx="29" cy="224.6" r="1.7"/>
<circle class="teg" cx="74.2" cy="165" r="1.9"/>
<circle class="tcq" cx="24.4" cy="266.5" r="2.3"/>
<circle class="tec" cx="100.6" cy="250.2" r="1.5"/>
<circle class="tdi" cx="93.1" cy="193.5" r="2"/>
<circle class="tdo" cx="86.1" cy="227.8" r="1.9"/>
<circle class="tem" cx="22.6" cy="209.8" r="1.8"/>
<circle class="tdy" cx="103" cy="269" r="1.4"/>
<circle class="tdq" cx="67.1" cy="168.7" r="2.3"/>
<circle class="tfl" cx="16.4" cy="273.8" r="1.3"/>
<circle class="tdr" cx="56.2" cy="229.8" r="2.8"/>
<circle class="tdh" cx="63.1" cy="255.1" r="2"/>
<circle class="tcq" cx="43.3" cy="196.2" r="2.7"/>
<circle class="teu" cx="79.2" cy="199.7" r="1.3"/>
<circle class="tda" cx="128.2" cy="205.8" r="1.8"/>
<circle class="tfm" cx="56.7" cy="256.9" r="2.4"/>
<circle class="tfc" cx="68.3" cy="257" r="1.3"/>
<circle class="teb" cx="42.9" cy="227.9" r="1.6"/>
<circle class="tct" cx="110.9" cy="253.2" r="2"/>
<circle class="tfn" cx="100.8" cy="201.4" r="1.5"/>
<circle class="tes" cx="89.5" cy="206.2" r="2.3"/>
<circle class="tcv" cx="18.9" cy="193.5" r="1.3"/>
<circle class="tem" cx="40.3" cy="168.4" r="2.2"/>
<circle class="tep" cx="85.6" cy="185.2" r="1.7"/>
<circle class="tco" cx="54.2" cy="202.2" r="1.8"/>
<circle class="tde" cx="74.9" cy="276.3" r="1.6"/>
<circle class="tct" cx="60.5" cy="234" r="1.9"/>
<circle class="tem" cx="27.5" cy="199.7" r="2.2"/>
<circle class="tem" cx="20" cy="168.4" r="1.7"/>
<circle class="tdd" cx="31.5" cy="226.3" r="1.6"/>
<circle class="tcs" cx="43.9" cy="222.7" r="1.9"/>
<circle class="tff" cx="117.5" cy="271" r="2.3"/>
<circle class="tdy" cx="54.9" cy="252.1" r="2.5"/>
<circle class="tdp" cx="44.5" cy="245" r="1.2"/>
<circle class="tfo" cx="88.8" cy="249.2" r="1.4"/>
<circle class="tel" cx="70.8" cy="270.4" r="1.7"/>
<circle class="teo" cx="126" cy="256" r="2.4"/>
<circle class="tey" cx="116.7" cy="225.1" r="1.8"/>
<circle class="tdi" cx="106.5" cy="189.9" r="1.3"/>
<circle class="tdc" cx="115.8" cy="253.2" r="2.6"/>
<circle class="tdy" cx="117.5" cy="267.6" r="2.4"/>
<circle class="tdz" cx="48.7" cy="257.8" r="1.2"/>
<circle class="tcz" cx="110.1" cy="188.6" r="1.8"/>
<circle class="tdv" cx="65.2" cy="185.9" r="1.5"/>
<circle class="tep" cx="82.8" cy="197.4" r="1.8"/>
<circle class="tea" cx="22.6" cy="276.3" r="1.8"/>
<circle class="tdj" cx="93.5" cy="192.4" r="1.4"/>
<circle class="tfc" cx="31.5" cy="250.4" r="2.7"/>
<circle class="tel" cx="45.4" cy="215.7" r="1.6"/>
<circle class="tfp" cx="6.1" cy="246.6" r="1.9"/>
<circle class="tfa" cx="101.3" cy="235.1" r="1.5"/>
<circle class="tdg" cx="129.7" cy="203.4" r="1.7"/>
<circle class="tdb" cx="93.6" cy="184.6" r="2.1"/>
<circle class="tdm" cx="63.8" cy="197.3" r="2.8"/>
<circle class="tdx" cx="73.9" cy="244.1" r="2.3"/>
<circle class="tdr" cx="121.6" cy="264.6" r="2.1"/>
<circle class="tdq" cx="35.8" cy="187.6" r="2.7"/>
<circle class="tfq" cx="10" cy="251" r="2"/>
<circle class="teh" cx="38.8" cy="248.1" r="1.8"/>
<circle class="tee" cx="43.4" cy="246" r="2.5"/>
<circle class="tdn" cx="118.3" cy="173.3" r="2.1"/>
<circle class="tez" cx="49.1" cy="180.5" r="2.7"/>
<circle class="teu" cx="89.1" cy="186" r="1.7"/>
<circle class="teu" cx="119.6" cy="192.6" r="1.3"/>
<circle class="tcw" cx="66.5" cy="274.4" r="2.4"/>
<circle class="tdg" cx="118.6" cy="225" r="1.5"/>
<circle class="tey" cx="47.6" cy="202" r="1.7"/>
<circle class="tek" cx="101.3" cy="209" r="2.3"/>
<circle class="tcv" cx="10.8" cy="207.7" r="2.7"/>
<circle class="tdf" cx="31.9" cy="217" r="2.3"/>
<circle class="teg" cx="105.8" cy="215.6" r="1.8"/>
<circle class="tcx" cx="19.2" cy="180.1" r="2"/>
<circle class="tfr" cx="23.6" cy="252.4" r="1.5"/>
<circle class="tef" cx="36.1" cy="266.8" r="2.4"/>
<circle class="tdi" cx="45.5" cy="206.3" r="2"/>
<circle class="tdp" cx="54.9" cy="233.2" r="2.3"/>
<circle class="tdn" cx="4.6" cy="268.2" r="2.2"/>
<circle class="tfs" cx="4.7" cy="244.2" r="2.6"/>
<circle class="tcx" cx="7.4" cy="216.1" r="2.4"/>
<circle class="tdn" cx="110.3" cy="223.8" r="2.5"/>
<circle class="tdq" cx="25.5" cy="192.3" r="2.7"/>
<circle class="tfq" cx="67.1" cy="255.2" r="2"/>
<circle class="tdl" cx="93.4" cy="255.2" r="1.3"/>
<circle class="teg" cx="30" cy="200.8" r="1.9"/>
<circle class="tdq" cx="130.8" cy="171" r="2.2"/>
<circle class="tff" cx="36.2" cy="238" r="1.6"/>
<circle class="teo" cx="118.2" cy="269.8" r="1.8"/>
<circle class="tek" cx="53.9" cy="174.7" r="2.6"/>
<circle class="tcv" cx="17.8" cy="167.7" r="1.2"/>
<circle class="tdq" cx="119.5" cy="203.9" r="2.8"/>
<circle class="tdp" cx="44.9" cy="258.5" r="1.2"/>
<circle class="tei" cx="64.3" cy="180.2" r="2"/>
<circle class="ted" cx="50.2" cy="206.8" r="1.4"/>
<circle class="tfd" cx="38.5" cy="263" r="1.6"/>
<circle class="tft" cx="108.1" cy="191.7" r="1.4"/>
<circle class="tdy" cx="95.6" cy="261" r="2"/>
<circle class="tdg" cx="16.6" cy="203.7" r="1.6"/>
<circle class="tei" cx="6.3" cy="230.6" r="1.9"/>
<circle class="teh" cx="102.3" cy="261.9" r="2.2"/>
<circle class="tfu" cx="55.7" cy="202.7" r="1.6"/>
<circle class="tec" cx="130.6" cy="246.4" r="1.7"/>
<circle class="tdq" cx="45" cy="201.6" r="2.6"/>
<circle class="tes" cx="55.5" cy="171.8" r="2.5"/>
<circle class="tfc" cx="18.6" cy="245.3" r="1.5"/>
<circle class="tdj" cx="54.8" cy="195.7" r="2.7"/>
<circle class="tdu" cx="100.4" cy="224.5" r="2.1"/>
<circle class="tek" cx="34.8" cy="182.2" r="1.8"/>
<circle class="tda" cx="51.6" cy="179.9" r="2.4"/>
<circle class="tef" cx="36" cy="233.7" r="2.7"/>
<circle class="tco" cx="84.8" cy="198.2" r="2.8"/>
<circle class="tdq" cx="108.6" cy="174.7" r="2.1"/>
<circle class="tdm" cx="115.8" cy="202.4" r="1.3"/>
<circle class="tek" cx="30.1" cy="188.5" r="2.4"/>
<circle class="tdn" cx="105.4" cy="175.1" r="1.4"/>
<circle class="tfp" cx="5" cy="256.2" r="2.4"/>
<circle class="tee" cx="58.4" cy="231.8" r="2.5"/>
<circle class="tek" cx="32.5" cy="176.4" r="1.8"/>
<circle class="tew" cx="115" cy="260.8" r="1.8"/>
<circle class="tdy" cx="80" cy="247.4" r="1.3"/>
<circle class="tem" cx="67.8" cy="188.8" r="1.5"/>
<circle class="teo" cx="56.5" cy="255.8" r="2"/>
<circle class="tcq" cx="39.6" cy="219.9" r="2.3"/>
<circle class="tdy" cx="106" cy="266.2" r="1.3"/>
<circle class="tdf" cx="28.9" cy="227.2" r="2.1"/>
<circle class="tcy" cx="87.8" cy="220.6" r="1.8"/>
<circle class="tfb" cx="39.4" cy="224.3" r="1.9"/>
<circle class="tey" cx="84.3" cy="220.1" r="2.3"/>
<circle class="tdm" cx="98.6" cy="192" r="2.6"/>
<circle class="tfv" cx="10.3" cy="247.5" r="2.7"/>
<circle class="tdn" cx="32" cy="196.5" r="1.5"/>
<circle class="tez" cx="18.4" cy="234.9" r="2.2"/>
<circle class="tdi" cx="66.1" cy="198.3" r="1.9"/>
<circle class="tdg" cx="21.7" cy="218.2" r="2.1"/>
<circle class="tdg" cx="10" cy="178.9" r="1.4"/>
<circle class="tda" cx="116.7" cy="201.7" r="2.8"/>
<circle class="tfb" cx="51.7" cy="184.6" r="2.5"/>
<circle class="tdn" cx="10.7" cy="225.5" r="1.2"/>
<circle class="tcv" cx="13.6" cy="199.8" r="1.3"/>
<circle class="tey" cx="109.4" cy="230.2" r="1.3"/>
<circle class="tdq" cx="102.1" cy="209.8" r="1.7"/>
<circle class="tfv" cx="56" cy="262.8" r="2.5"/>
<circle class="tef" cx="45.1" cy="222.3" r="1.4"/>
<circle class="tcp" cx="119.3" cy="273.2" r="1.7"/>
<circle class="tda" cx="106.5" cy="215.8" r="2.1"/>
<circle class="tfs" cx="24.5" cy="253.2" r="1.6"/>
<circle class="tct" cx="86" cy="232.3" r="2"/>
<circle class="tdy" cx="95.9" cy="239.8" r="1.9"/>
<circle class="tdr" cx="83.3" cy="238.6" r="2.4"/>
<circle class="tda" cx="27.2" cy="181.6" r="1.7"/>
<circle class="tdf" cx="118.8" cy="237.2" r="1.7"/>
<circle class="tff" cx="65" cy="233" r="2.7"/>
<circle class="tda" cx="122.3" cy="172.5" r="1.4"/>
<circle class="tdq" cx="84.1" cy="203" r="2"/>
<circle class="teg" cx="17.6" cy="176.9" r="2.1"/>
<circle class="tdw" cx="8.4" cy="191.7" r="1.3"/>
<circle class="tdu" cx="47.4" cy="202.3" r="2.1"/>
<circle class="tdp" cx="116" cy="258.5" r="2.6"/>
<circle class="teh" cx="49.3" cy="251.4" r="1.9"/>
<circle class="tfm" cx="13.4" cy="252.2" r="2.2"/>
<circle class="tem" cx="61.7" cy="169.3" r="2.8"/>
<circle class="tdd" cx="16.7" cy="276.1" r="2.4"/>
<circle class="tdm" cx="111.6" cy="178.5" r="2.1"/>
<circle class="tda" cx="67.5" cy="179" r="1.4"/>
<circle class="teg" cx="58.7" cy="176.8" r="1.4"/>
<circle class="tcq" cx="110.2" cy="231.8" r="1.8"/>
<circle class="tdu" cx="29.9" cy="203.9" r="2.1"/>
<circle class="tfq" cx="20" cy="262.9" r="2.2"/>
<circle class="tds" cx="75.9" cy="266.5" r="1.8"/>
<circle class="tex" cx="29.9" cy="179.3" r="1.1"/>
<circle class="tdu" cx="24.6" cy="216.8" r="2.2"/>
<circle class="tfj" cx="20.6" cy="239.3" r="1.8"/>
<circle class="tdp" cx="92.3" cy="244.9" r="2.2"/>
<circle class="tcq" cx="47" cy="176.5" r="1.3"/>
<circle class="tdp" cx="47.8" cy="268.3" r="1.7"/>
<circle class="teg" cx="16.3" cy="269.6" r="1.9"/>
<circle class="tdl" cx="76.2" cy="262.1" r="1.6"/>
<circle class="teq" cx="108.2" cy="184.2" r="2.8"/>
<circle class="tcs" cx="72.7" cy="217.3" r="1.9"/>
<circle class="tdu" cx="105.9" cy="228.2" r="2.7"/>
<circle class="tfv" cx="61.7" cy="255.2" r="2.1"/>
<circle class="tcu" cx="35.7" cy="192.3" r="2.5"/>
<circle class="tfa" cx="39.2" cy="225.6" r="1.6"/>
<circle class="tdn" cx="68.3" cy="179.7" r="2.3"/>
<circle class="tdp" cx="56.6" cy="270.7" r="2.2"/>
<circle class="tem" cx="87.5" cy="215.8" r="1.9"/>
<circle class="tdp" cx="42.5" cy="237.3" r="2.4"/>
<circle class="tdg" cx="81.6" cy="201.4" r="2.2"/>
<circle class="tco" cx="86.8" cy="170.7" r="2.1"/>
<circle class="tfk" cx="120.3" cy="224.9" r="1.7"/>
<circle class="tda" cx="35.3" cy="181.7" r="2.3"/>
<circle class="ter" cx="103.2" cy="192.6" r="2.7"/>
<circle class="teo" cx="86.2" cy="227.9" r="2.4"/>
<circle class="tcv" cx="27.1" cy="196.5" r="1.6"/>
<circle class="tfw" cx="103.4" cy="187.7" r="1.8"/>
<circle class="tdg" cx="70.8" cy="195" r="2.3"/>
<circle class="tee" cx="129.8" cy="263.8" r="1.7"/>
<circle class="tcv" cx="11.3" cy="177.6" r="2.2"/>
<circle class="tds" cx="45" cy="223.7" r="2.6"/>
<circle class="ted" cx="117.5" cy="187.3" r="2.4"/>
<circle class="tdi" cx="127.5" cy="195.3" r="2.5"/>
<circle class="tdg" cx="7.3" cy="180.8" r="2.7"/>
<circle class="tff" cx="117.6" cy="267.1" r="2.2"/>
<circle class="tdq" cx="80.4" cy="164.5" r="2.2"/>
<circle class="teb" cx="36.9" cy="220.1" r="2.5"/>
<circle class="tcv" cx="9.5" cy="198" r="2.5"/>
<circle class="tds" cx="84" cy="234.5" r="2.2"/>
<circle class="tdr" cx="98.6" cy="239.9" r="1.8"/>
<circle class="tfk" cx="23.6" cy="266.6" r="2.7"/>
<circle class="tfi" cx="64.9" cy="177.7" r="2.1"/>
<circle class="tfr" cx="68.2" cy="248.8" r="1.9"/>
<circle class="tds" cx="43.7" cy="269.1" r="2.4"/>
<circle class="tes" cx="11.5" cy="173.2" r="1.9"/>
<circle class="teg" cx="126.5" cy="227.8" r="2.6"/>
<circle class="tdu" cx="37.3" cy="209.7" r="2.5"/>
<circle class="tem" cx="36.4" cy="179.9" r="2.4"/>
<circle class="teg" cx="124.3" cy="220.6" r="2.6"/>
<circle class="tdy" cx="74.4" cy="233.2" r="1.5"/>
<circle class="tcv" cx="52.5" cy="171.6" r="2.1"/>
<circle class="tdm" cx="92.7" cy="178.2" r="1.7"/>
<circle class="tct" cx="56.8" cy="224.7" r="1.6"/>
<circle class="tfx" cx="30.6" cy="255.6" r="2.1"/>
<circle class="tdr" cx="93.8" cy="253.2" r="1.2"/>
<circle class="tdl" cx="59" cy="248.7" r="1.9"/>
<circle class="tdu" cx="11.7" cy="275.3" r="2.7"/>
<circle class="tcp" cx="123.2" cy="238.9" r="2"/>
<circle class="tfq" cx="66.8" cy="275.2" r="1.8"/>
<circle class="teo" cx="68.2" cy="216.5" r="2.8"/>
<circle class="tek" cx="8.5" cy="185.6" r="2.4"/>
<circle class="tdj" cx="117" cy="191.8" r="2"/>
<circle class="teg" cx="35.6" cy="168.3" r="1.7"/>
<circle class="tfk" cx="27.1" cy="266.8" r="2.5"/>
<circle class="tcv" cx="69.6" cy="178" r="1.3"/>
<circle class="tfp" cx="18.6" cy="248" r="1.9"/>
<circle class="tcv" cx="104.6" cy="210.1" r="2.4"/>
<circle class="tfe" cx="68.1" cy="268.8" r="1.8"/>
<circle class="teh" cx="46" cy="244.3" r="1.6"/>
<circle class="tee" cx="95.8" cy="263.7" r="1.6"/>
<circle class="ted" cx="120.1" cy="189.2" r="1.7"/>
<circle class="teb" cx="117.8" cy="226" r="2.6"/>
<circle class="tep" cx="85.1" cy="166.2" r="1.8"/>
<circle class="tcp" cx="103.6" cy="275.4" r="2.4"/>
<circle class="tdd" cx="17.4" cy="261.2" r="2.2"/>
<circle class="tcz" cx="92.3" cy="170.5" r="2.7"/>
<circle class="tco" cx="119.3" cy="187.9" r="1.8"/>
<circle class="tem" cx="122.8" cy="228.1" r="2.1"/>
<circle class="tee" cx="116" cy="242.4" r="2.6"/>
<circle class="tep" cx="120.2" cy="188.3" r="1.6"/>
<circle class="tdy" cx="36.4" cy="239.9" r="2.3"/>
<circle class="tdm" cx="88.3" cy="178.9" r="2.6"/>
<circle class="tda" cx="22.5" cy="186.7" r="1.7"/>
<circle class="tfe" cx="127.4" cy="245.8" r="2.2"/>
<circle class="tek" cx="73.1" cy="213" r="2"/>
<circle class="tdg" cx="121.6" cy="165.9" r="2.6"/>
<circle class="tdy" cx="48.3" cy="259.4" r="2.5"/>
<circle class="tdz" cx="82.4" cy="242.8" r="1.2"/>
<circle class="tdd" cx="33.1" cy="226.7" r="1.9"/>
<circle class="tcv" cx="10.4" cy="203" r="1.5"/>
<circle class="tea" cx="24.5" cy="267.6" r="1.4"/>
<circle class="tcz" cx="130" cy="176.7" r="2.3"/>
<circle class="tcu" cx="12.8" cy="205.5" r="2.8"/>
<circle class="tdy" cx="93.8" cy="262.9" r="1.3"/>
<circle class="tdc" cx="78.7" cy="226.5" r="1.9"/>
<circle class="tdq" cx="114.4" cy="217.6" r="1.7"/>
<circle class="tel" cx="36.4" cy="232" r="1.6"/>
<circle class="tdn" cx="14.5" cy="234.2" r="1.3"/>
<circle class="tdg" cx="14.3" cy="182.1" r="2.3"/>
<circle class="tdo" cx="67.2" cy="252.2" r="1.5"/>
<circle class="tdj" cx="115.7" cy="185.6" r="1.9"/>
<circle class="tdg" cx="8.5" cy="201" r="2.7"/>
<circle class="tff" cx="95.7" cy="245.3" r="2.6"/>
<circle class="tdl" cx="98.2" cy="264.3" r="1.2"/>
<circle class="tct" cx="60.3" cy="213.9" r="1.6"/>
<circle class="tdg" cx="91.8" cy="211" r="1.2"/>
<circle class="tdy" cx="117" cy="265.4" r="2.4"/>
<circle class="tcr" cx="81.8" cy="177.7" r="2"/>
<circle class="tcv" cx="118.5" cy="211.1" r="2.2"/>
<circle class="tfe" cx="94.1" cy="230.2" r="2.6"/>
<circle class="teh" cx="78.7" cy="274" r="1.9"/>
<circle class="tet" cx="59.1" cy="212.9" r="2.4"/>
<circle class="tdu" cx="64" cy="200.9" r="2.4"/>
<circle class="tdq" cx="17" cy="192.2" r="1.6"/>
<circle class="tef" cx="46.6" cy="213.4" r="2.1"/>
<circle class="tdp" cx="76.8" cy="250.9" r="1.3"/>
<circle class="tdp" cx="128.4" cy="263.5" r="1.6"/>
<circle class="tfo" cx="52.1" cy="236" r="2.1"/>
<circle class="tcz" cx="90.1" cy="168.2" r="2"/>
<circle class="tdu" cx="82.1" cy="215.6" r="1.3"/>
<circle class="tct" cx="31.2" cy="268.7" r="1.5"/>
<circle class="tcv" cx="20.2" cy="210.5" r="1.7"/>
<circle class="tef" cx="30.6" cy="275.2" r="2.2"/>
<circle class="teg" cx="31.8" cy="202.9" r="1.5"/>
<circle class="tfe" cx="79.5" cy="263.6" r="2.1"/>
<circle class="tdu" cx="11.7" cy="267.7" r="2.5"/>
<circle class="teb" cx="19.7" cy="229.9" r="2.6"/>
<circle class="tek" cx="21.7" cy="198.2" r="1.6"/>
<circle class="tdj" cx="128.3" cy="182.3" r="2.6"/>
<circle class="tfk" cx="37.2" cy="205.4" r="1.6"/>
<circle class="tek" cx="40.9" cy="182.2" r="1.4"/>
<circle class="tfq" cx="54.3" cy="266.7" r="2.4"/>
<circle class="teo" cx="49.3" cy="258.2" r="1.9"/>
<circle class="tcx" cx="121.8" cy="179.6" r="2.1"/>
<circle class="tfk" cx="14.5" cy="214.2" r="2.6"/>
<circle class="tfq" cx="65.3" cy="264.7" r="2.5"/>
<circle class="tcp" cx="80.1" cy="251.5" r="2.1"/>
<circle class="teg" cx="27.9" cy="203.5" r="2.4"/>
<circle class="tdg" cx="29.9" cy="176.6" r="2.7"/>
<circle class="tea" cx="80.3" cy="213.7" r="1.6"/>
<circle class="teg" cx="22.4" cy="207.8" r="2.3"/>
<circle class="tfj" cx="20.3" cy="240.5" r="2.2"/>
<circle class="tde" cx="38.7" cy="233.1" r="1.8"/>
<circle class="tdp" cx="79.4" cy="245" r="1.2"/>
<circle class="tdr" cx="106.9" cy="273.5" r="2.8"/>
<circle class="teo" cx="104.6" cy="275" r="1.2"/>
<circle class="tdo" cx="75.8" cy="226.6" r="2.2"/>
<circle class="tfs" cx="18" cy="254.5" r="2.5"/>
<circle class="teg" cx="19.6" cy="204" r="1.9"/>
<circle class="tfy" cx="55.5" cy="271.5" r="1.3"/>
<circle class="tdf" cx="68.3" cy="189.1" r="2.4"/>
<circle class="tdk" cx="32.5" cy="256.5" r="2.2"/>
<circle class="tdn" cx="4.9" cy="204.9" r="1.8"/>
<circle class="tdq" cx="79.4" cy="197.4" r="2.3"/>
<circle class="tdf" cx="40.9" cy="201.8" r="2.2"/>
<circle class="tdr" cx="55.5" cy="275.8" r="2.7"/>
<circle class="tez" cx="55.7" cy="182.7" r="2.7"/>
<circle class="tdi" cx="125.2" cy="197.5" r="1.3"/>
<circle class="teu" cx="97.5" cy="172.7" r="1.5"/>
<circle class="tcp" cx="52.2" cy="239.9" r="2.4"/>
<circle class="tek" cx="49.4" cy="168.2" r="1.6"/>
<circle class="tdi" cx="96.6" cy="177.2" r="2.3"/>
<circle class="tfq" cx="22.2" cy="262.6" r="2.2"/>
<circle class="tfr" cx="56.8" cy="268.6" r="2.3"/>
<circle class="tdq" cx="120.9" cy="227.6" r="1.4"/>
<circle class="tcy" cx="41.6" cy="226.2" r="2.7"/>
<circle class="teq" cx="103" cy="189.7" r="2.2"/>
<circle class="tfh" cx="59" cy="205.5" r="2.5"/>
<circle class="tcw" cx="91.3" cy="235.2" r="1.8"/>
<circle class="tep" cx="41.8" cy="202.3" r="2.7"/>
<circle class="tdp" cx="119.9" cy="251.6" r="1.3"/>
<circle class="tcy" cx="114.5" cy="238.3" r="2.1"/>
<circle class="tcw" cx="109.8" cy="238.1" r="1.8"/>
<circle class="tfb" cx="57.2" cy="209.8" r="2.7"/>
<circle class="teo" cx="29.8" cy="253.6" r="2.7"/>
<circle class="tdj" cx="81.2" cy="189.5" r="2.6"/>
<circle class="tcv" cx="32.3" cy="216.1" r="2.5"/>
<circle class="teh" cx="123.9" cy="249.3" r="2.5"/>
<circle class="tdn" cx="78.5" cy="205.6" r="2.5"/>
<circle class="tdi" cx="109.1" cy="211.8" r="1.8"/>
<circle class="tfz" cx="113.3" cy="195.5" r="1.3"/>
<circle class="tdg" cx="43.9" cy="179.7" r="2"/>
<circle class="tdp" cx="101.9" cy="249.3" r="2.7"/>
<circle class="ted" cx="47.6" cy="205.2" r="2.1"/>
<circle class="tdf" cx="14.6" cy="234.1" r="1.2"/>
<circle class="tdm" cx="91.3" cy="179.3" r="2.7"/>
<circle class="tdj" cx="89.8" cy="191.1" r="1.2"/>
<circle class="tdn" cx="52.3" cy="167.6" r="2.6"/>
<circle class="tdu" cx="8.3" cy="235.5" r="2.7"/>
<circle class="teh" cx="86.3" cy="261.9" r="1.4"/>
<circle class="tdq" cx="18" cy="206.2" r="2.4"/>
<circle class="teo" cx="103" cy="234.7" r="2.4"/>
<circle class="tdp" cx="42.2" cy="245.9" r="2.5"/>
<circle class="tek" cx="124.9" cy="215.3" r="2.6"/>
<circle class="tei" cx="19.8" cy="228.4" r="2.7"/>
<circle class="tfc" cx="13.1" cy="259.1" r="1.3"/>
<circle class="tdy" cx="101.7" cy="263.1" r="2.1"/>
<circle class="tdg" cx="26.1" cy="216.6" r="2"/>
<circle class="tec" cx="106.1" cy="238.6" r="2.5"/>
<circle class="tdp" cx="61.9" cy="225.5" r="2.2"/>
<circle class="tda" cx="107.8" cy="215.6" r="2.5"/>
<circle class="teb" cx="56.1" cy="180.3" r="2.2"/>
<circle class="tdg" cx="118.9" cy="201.1" r="1.3"/>
<circle class="tdq" cx="17.9" cy="177.7" r="2"/>
<circle class="tga" cx="18.4" cy="224.2" r="2.2"/>
<circle class="ted" cx="91" cy="164.8" r="1.6"/>
<circle class="tdp" cx="125.8" cy="267.5" r="1.3"/>
<circle class="tdy" cx="63.4" cy="249.3" r="2"/>
<circle class="tez" cx="46.1" cy="199" r="1.5"/>
<circle class="tee" cx="108.6" cy="273.3" r="2.6"/>
<circle class="tfj" cx="67" cy="263.3" r="1.6"/>
<circle class="tct" cx="44.9" cy="243.7" r="2.3"/>
<circle class="tdn" cx="13.9" cy="211.4" r="1.4"/>
<circle class="tdl" cx="86.2" cy="241.1" r="1.3"/>
<circle class="tdg" cx="65.2" cy="167.2" r="1.8"/>
<circle class="tdq" cx="41.8" cy="173.8" r="1.6"/>
<circle class="teg" cx="61.8" cy="180" r="2.6"/>
<circle class="tek" cx="111.5" cy="171.1" r="1.2"/>
<circle class="teg" cx="96" cy="225.3" r="2.6"/>
<circle class="tfs" cx="19.4" cy="248.3" r="1.3"/>
<circle class="tcx" cx="81.5" cy="206.1" r="2.3"/>
<circle class="tdg" cx="91.3" cy="225.4" r="1.5"/>
<circle class="tdw" cx="16.9" cy="170.8" r="1.4"/>
<circle class="tcr" cx="59.9" cy="193.8" r="1.2"/>
<circle class="teb" cx="72.5" cy="226.5" r="2.5"/>
<circle class="tdn" cx="7.7" cy="178.9" r="1.8"/>
<circle class="tdx" cx="84.9" cy="250.2" r="1.8"/>
<circle class="tev" cx="10" cy="251.3" r="1.5"/>
<circle class="tem" cx="124.1" cy="214.3" r="2.5"/>
<circle class="tdv" cx="58.7" cy="177.6" r="1.9"/>
<circle class="tct" cx="29.9" cy="252.1" r="1.8"/>
<circle class="tdr" cx="82.8" cy="268.9" r="2.4"/>
<circle class="tfk" cx="20" cy="235.1" r="1.8"/>
<circle class="tfm" cx="10.4" cy="250.1" r="2.1"/>
<circle class="tfq" cx="8.9" cy="254.5" r="2.4"/>
<circle class="tda" cx="67.9" cy="188.5" r="2.6"/>
<circle class="tfv" cx="58.9" cy="263.5" r="2"/>
<circle class="tdq" cx="116.4" cy="169.3" r="2.1"/>
<circle class="tdg" cx="78.8" cy="166.6" r="2"/>
<circle class="teg" cx="26.7" cy="169.3" r="2.2"/>
<circle class="tcs" cx="50.1" cy="190.6" r="1.6"/>
<circle class="tfh" cx="94.3" cy="214.7" r="1.7"/>
<circle class="tec" cx="53.4" cy="250.8" r="1.7"/>
<circle class="tcz" cx="117.4" cy="200.7" r="1.2"/>
<circle class="teo" cx="82.4" cy="263.6" r="1.5"/>
<circle class="tec" cx="42.6" cy="249.5" r="1.3"/>
<circle class="tdy" cx="103.6" cy="256" r="2.1"/>
<circle class="tcv" cx="30.5" cy="166.6" r="1.7"/>
<circle class="tdi" cx="47.1" cy="215.4" r="2"/>
<circle class="tdz" cx="131.5" cy="275" r="2.8"/>
<circle class="tdg" cx="34.1" cy="180" r="2.1"/>
<circle class="tdp" cx="80.6" cy="260.5" r="1.7"/>
<circle class="tde" cx="78.8" cy="276" r="2.2"/>
<circle class="tcx" cx="125.9" cy="228" r="2.6"/>
<circle class="tde" cx="114.9" cy="245.5" r="1.5"/>
<circle class="tcz" cx="104.7" cy="193.7" r="1.5"/>
<circle class="tda" cx="27.5" cy="207.6" r="1.8"/>
<circle class="tdo" cx="84.5" cy="253.8" r="2.8"/>
<circle class="tdz" cx="46.4" cy="237.7" r="2.1"/>
<circle class="tek" cx="67.3" cy="178.6" r="2.3"/>
<circle class="tfd" cx="112.5" cy="240.5" r="2.7"/>
<circle class="tdw" cx="123.3" cy="168.6" r="2.3"/>
<circle class="tfj" cx="19.5" cy="239.2" r="1.4"/>
<circle class="tdn" cx="115.8" cy="168.2" r="1.5"/>
<circle class="tdg" cx="56.9" cy="177.3" r="2.3"/>
<circle class="tdg" cx="4.7" cy="177" r="1.6"/>
<circle class="tfa" cx="42.4" cy="214.1" r="1.3"/>
<circle class="tdx" cx="95.5" cy="243.4" r="2.8"/>
<circle class="tcs" cx="56.5" cy="201.8" r="1.4"/>
<circle class="tcv" cx="41.9" cy="177.6" r="1.3"/>
<circle class="tep" cx="131" cy="192.2" r="1.9"/>
<circle class="tdi" cx="98.4" cy="182.9" r="2.3"/>
<circle class="tdg" cx="70.1" cy="199.7" r="1.7"/>
<circle class="tdz" cx="86.9" cy="267.7" r="1.8"/>
<circle class="tcv" cx="117.3" cy="168.1" r="2"/>
<circle class="tcq" cx="79.6" cy="218.7" r="2.3"/>
<circle class="tdu" cx="69.2" cy="211.4" r="1.5"/>
<circle class="tfx" cx="26" cy="238.7" r="2.7"/>
<circle class="tdv" cx="105.1" cy="215.3" r="2.1"/>
<circle class="tcx" cx="117.6" cy="178.2" r="2.4"/>
<circle class="tdj" cx="69.5" cy="188.5" r="2.6"/>
<circle class="tew" cx="115.1" cy="258.5" r="2.8"/>
<circle class="tdy" cx="69" cy="232.4" r="1.9"/>
<circle class="tdu" cx="30.7" cy="207" r="2.8"/>
<circle class="tcp" cx="49.4" cy="273.3" r="2.4"/>
<circle class="tcx" cx="5.3" cy="165" r="2.2"/>
<circle class="tdw" cx="15.2" cy="196.6" r="1.5"/>
<circle class="tdz" cx="101.4" cy="263" r="2.2"/>
<circle class="teo" cx="31.3" cy="230.9" r="1.4"/>
<circle class="tdw" cx="36.4" cy="194.6" r="1.8"/>
<circle class="tct" cx="110.7" cy="254.4" r="1.8"/>
<circle class="ted" cx="106" cy="202.9" r="2"/>
<circle class="tfk" cx="73.4" cy="218.5" r="2.8"/>
<circle class="tdp" cx="129.9" cy="249.5" r="1.5"/>
<circle class="tde" cx="39.9" cy="262" r="1.3"/>
<circle class="tdj" cx="88.5" cy="187.8" r="1.7"/>
<circle class="tfg" cx="101.6" cy="188.5" r="1.4"/>
<circle class="teg" cx="30.8" cy="201.4" r="2.2"/>
<circle class="tff" cx="105.3" cy="274.6" r="1.8"/>
<circle class="tey" cx="103.4" cy="236.6" r="2.4"/>
<circle class="tfp" cx="12.2" cy="242" r="2"/>
<circle class="tfk" cx="29.5" cy="269.1" r="2.8"/>
<circle class="tfe" cx="84.9" cy="254.3" r="2"/>
<circle class="tdl" cx="118.5" cy="247.9" r="2.3"/>
<circle class="tfu" cx="129.1" cy="198.6" r="2.5"/>
<circle class="tcy" cx="21.3" cy="229.1" r="1.5"/>
<circle class="tfm" cx="66.2" cy="260.7" r="2"/>
<circle class="tdi" cx="81.1" cy="179" r="2.7"/>
<circle class="tff" cx="47.9" cy="250.7" r="2.4"/>
<circle class="tcx" cx="31.4" cy="191.2" r="1.9"/>
<circle class="tfb" cx="52.8" cy="196.6" r="2.7"/>
<circle class="tfo" cx="98.7" cy="250.9" r="2.5"/>
<circle class="tdj" cx="114.3" cy="208.7" r="2.4"/>
<circle class="tdo" cx="48.3" cy="220" r="2.2"/>
<circle class="tcs" cx="30.9" cy="220" r="1.3"/>
<circle class="tfp" cx="60.6" cy="258.6" r="2.4"/>
<circle class="tfh" cx="43.7" cy="223.3" r="2.3"/>
<circle class="ter" cx="103" cy="182.1" r="2.2"/>
<circle class="teh" cx="104.5" cy="275.1" r="1.5"/>
<circle class="ted" cx="82.8" cy="171.8" r="1.9"/>
<circle class="tdv" cx="9.4" cy="221.7" r="2"/>
<circle class="tdg" cx="73.6" cy="174.6" r="2.4"/>
<circle class="tfi" cx="62.3" cy="178.8" r="1.2"/>
<circle class="tdg" cx="91.2" cy="215.3" r="1.8"/>
<circle class="tda" cx="82" cy="183.2" r="1.7"/>
<circle class="tfe" cx="69.7" cy="250.6" r="1.6"/>
<circle class="tdp" cx="42.3" cy="226.2" r="1.9"/>
<circle class="teg" cx="66.4" cy="183" r="1.3"/>
<circle class="tem" cx="81.3" cy="185.3" r="1.7"/>
<circle class="tfy" cx="67.3" cy="257" r="2.8"/>
<circle class="tff" cx="59.1" cy="230.9" r="2.4"/>
<circle class="tfi" cx="23.7" cy="213.9" r="1.6"/>
<circle class="tdi" cx="87.1" cy="201" r="2.6"/>
<circle class="tfy" cx="17.7" cy="244.7" r="2.7"/>
<circle class="tdp" cx="66.9" cy="247.7" r="2.3"/>
<circle class="tco" cx="81.9" cy="192.9" r="1.9"/>
<circle class="tdy" cx="93" cy="263.7" r="2"/>
<circle class="tfx" cx="12.9" cy="239.2" r="1.8"/>
<circle class="tdl" cx="53.8" cy="246.1" r="1.5"/>
<circle class="tdc" cx="48.2" cy="267.4" r="2.4"/>
<circle class="tcz" cx="113.3" cy="196.4" r="1.4"/>
<circle class="tfy" cx="7.9" cy="260.7" r="2"/>
<circle class="tdu" cx="118.8" cy="230.5" r="1.3"/>
<circle class="tdn" cx="29.9" cy="178.9" r="1.2"/>
<circle class="tdg" cx="104.7" cy="176.8" r="1.3"/>
<circle class="tdq" cx="75.6" cy="208.7" r="2.1"/>
<circle class="teo" cx="89.7" cy="263.7" r="2.6"/>
<circle class="tdp" cx="125.7" cy="252.3" r="2.5"/>
<circle class="teu" cx="92" cy="173.2" r="1.8"/>
<circle class="tcw" cx="99.9" cy="229" r="1.7"/>
<circle class="tdn" cx="108.2" cy="221.8" r="1.4"/>
<circle class="teg" cx="10.7" cy="177.6" r="2.7"/>
<circle class="tcp" cx="94.5" cy="240.5" r="1.8"/>
<circle class="tda" cx="82" cy="201.3" r="1.7"/>
<circle class="tez" cx="98.5" cy="213.5" r="2.3"/>
<circle class="tfo" cx="41.8" cy="271.6" r="2.5"/>
<circle class="tdn" cx="74.7" cy="176.8" r="2.7"/>
<circle class="tdo" cx="46.8" cy="227.6" r="2.6"/>
<circle class="tcv" cx="55.8" cy="178" r="2.5"/>
<circle class="teb" cx="71.6" cy="219.3" r="1.8"/>
<circle class="tek" cx="23.9" cy="179.4" r="2.1"/>
<circle class="tfe" cx="77.1" cy="236.7" r="2.6"/>
<circle class="tct" cx="62.6" cy="212.6" r="2.2"/>
<circle class="tdp" cx="75.7" cy="228.7" r="2.3"/>
<circle class="teg" cx="78.5" cy="196" r="2.6"/>
<circle class="tei" cx="96.5" cy="223.6" r="2.6"/>
<circle class="tee" cx="120.1" cy="252.2" r="1.5"/>
<circle class="tcv" cx="114.1" cy="215.5" r="2.6"/>
<circle class="teg" cx="23.3" cy="208.2" r="1.4"/>
<circle class="tfw" cx="109.3" cy="181.5" r="2.6"/>
<circle class="ted" cx="128.7" cy="191.5" r="1.9"/>
<circle class="tcp" cx="68.7" cy="245.8" r="2.1"/>
<circle class="tdg" cx="40.9" cy="179.1" r="2.7"/>
<circle class="tdn" cx="43.6" cy="210.9" r="2"/>
<circle class="tdb" cx="109.3" cy="198.6" r="2.2"/>
<circle class="tec" cx="97.3" cy="244.8" r="1.5"/>
<circle class="tdg" cx="94.3" cy="202.3" r="1.5"/>
<circle class="tep" cx="100.9" cy="169.8" r="2.2"/>
<circle class="tds" cx="84.5" cy="226.4" r="2.2"/>
<circle class="tek" cx="110.7" cy="220.9" r="2.5"/>
<circle class="tdg" cx="19.6" cy="187.9" r="1.4"/>
<circle class="tfz" cx="107.1" cy="181.1" r="1.3"/>
<circle class="tet" cx="99.2" cy="238.3" r="2.4"/>
<circle class="teg" cx="36.5" cy="200.8" r="2.7"/>
<circle class="teq" cx="88.1" cy="178.4" r="1.7"/>
<circle class="tfe" cx="97.4" cy="227.1" r="2.1"/>
<circle class="tfa" cx="42.9" cy="230.3" r="2.7"/>
<circle class="tgb" cx="113" cy="213" r="2.1"/>
<circle class="tdb" cx="105.4" cy="181.5" r="2.4"/>
<circle class="tec" cx="44.5" cy="237.2" r="1.5"/>
<circle class="tek" cx="92.6" cy="215.3" r="1.3"/>
<circle class="tdo" cx="78.9" cy="256.9" r="1.8"/>
<circle class="tfw" cx="116.2" cy="179.9" r="2.1"/>
<circle class="tej" cx="44" cy="194.1" r="1"/>
<circle class="teg" cx="91.4" cy="204.5" r="1.5"/>
<circle class="tdi" cx="87.2" cy="185.2" r="1.6"/>
<circle class="tfo" cx="44.8" cy="231.5" r="2"/>
<circle class="tdg" cx="38.4" cy="166.6" r="1.2"/>
<circle class="tff" cx="84.6" cy="233.5" r="1.5"/>
<circle class="teb" cx="53.1" cy="181.2" r="2.7"/>
<circle class="tdd" cx="67" cy="208" r="2.2"/>
<circle class="tdr" cx="131.1" cy="272.1" r="2.4"/>
<circle class="tda" cx="17" cy="190.8" r="2.2"/>
<circle class="tct" cx="47" cy="226.1" r="2.6"/>
<circle class="tea" cx="16.7" cy="266.3" r="2.8"/>
<circle class="tfp" cx="65.4" cy="271.6" r="2.3"/>
<circle class="tfq" cx="27.6" cy="254" r="2.1"/>
<circle class="teo" cx="104.6" cy="271.4" r="1.4"/>
<circle class="tfq" cx="57.9" cy="274.1" r="2.7"/>
<circle class="tda" cx="130.6" cy="222.8" r="2.8"/>
<circle class="tdv" cx="99.7" cy="222" r="2.2"/>
<circle class="tdu" cx="18.5" cy="223" r="2.4"/>
<circle class="tem" cx="28.5" cy="197.4" r="2.6"/>
<circle class="tdy" cx="41.6" cy="267.8" r="1.6"/>
<circle class="tdf" cx="128" cy="229.4" r="1.7"/>
<circle class="tdf" cx="19" cy="265.3" r="2.7"/>
<circle class="tdm" cx="94.1" cy="195.9" r="2.5"/>
<circle class="tdn" cx="66.6" cy="207.3" r="2.3"/>
<circle class="tdp" cx="111.4" cy="259.5" r="2.3"/>
<circle class="tem" cx="116.8" cy="173.7" r="1.3"/>
<circle class="tfc" cx="24.2" cy="243.5" r="2.7"/>
<circle class="tek" cx="5.6" cy="174.6" r="2.1"/>
<circle class="tdo" cx="42.2" cy="261.9" r="1.8"/>
<circle class="tfp" cx="27.2" cy="241.3" r="1.4"/>
<circle class="tdj" cx="89.5" cy="195" r="1.8"/>
<circle class="tcz" cx="88.3" cy="184.5" r="1.5"/>
<circle class="tem" cx="107.7" cy="166.2" r="1.5"/>
<circle class="tcr" cx="118.9" cy="215.4" r="2.6"/>
<circle class="tdy" cx="128.5" cy="254.8" r="2.5"/>
<circle class="teo" cx="80.7" cy="268.7" r="2.5"/>
<circle class="tdc" cx="99.5" cy="251.1" r="2.7"/>
<circle class="tdj" cx="104.9" cy="190.7" r="2.3"/>
<circle class="tdr" cx="84.7" cy="252.1" r="2.4"/>
<circle class="tfd" cx="45.7" cy="215.5" r="2.3"/>
<circle class="tez" cx="13.9" cy="225.8" r="1.5"/>
<circle class="tda" cx="10.3" cy="213.3" r="2.6"/>
<circle class="tcz" cx="46.6" cy="208.2" r="2.6"/>
<circle class="tcp" cx="119.4" cy="238.6" r="2.6"/>
<circle class="tec" cx="71.7" cy="258.8" r="2.2"/>
<circle class="tcu" cx="68.5" cy="186.3" r="2.4"/>
<circle class="tds" cx="61.1" cy="219.3" r="2"/>
<circle class="tff" cx="115.9" cy="242.9" r="2"/>
<circle class="tcv" cx="60.9" cy="174.3" r="2.5"/>
<circle class="tds" cx="48" cy="218.9" r="2"/>
<circle class="tfn" cx="95.8" cy="196.5" r="1.5"/>
<circle class="teb" cx="60.3" cy="215.7" r="2.1"/>
<circle class="teo" cx="100.4" cy="233.5" r="2"/>
<circle class="tdn" cx="119.1" cy="178.5" r="1.6"/>
<circle class="tfk" cx="54.3" cy="182.9" r="2.7"/>
<circle class="tdy" cx="60.8" cy="243.9" r="1.7"/>
<circle class="tee" cx="102.3" cy="272.3" r="2.8"/>
<circle class="tcq" cx="91.2" cy="220.3" r="2.6"/>
<circle class="tfa" cx="56.6" cy="228" r="1.5"/>
<circle class="tfm" cx="31" cy="240.8" r="2.7"/>
<circle class="tep" cx="116.7" cy="196.3" r="2.6"/>
<circle class="tek" cx="5.4" cy="190.6" r="2"/>
<circle class="tdx" cx="114.8" cy="267.4" r="1.4"/>
<circle class="tee" cx="56.5" cy="243.8" r="2.6"/>
<circle class="tey" cx="116.6" cy="230.6" r="2.5"/>
<circle class="tdr" cx="82.3" cy="243.7" r="2"/>
<circle class="tcp" cx="78.9" cy="236.9" r="1.6"/>
<circle class="teg" cx="59.4" cy="178.4" r="1.3"/>
<circle class="tff" cx="69.2" cy="236.7" r="2.4"/>
<circle class="tel" cx="67.4" cy="220.2" r="1.7"/>
<circle class="tem" cx="66.1" cy="168.6" r="2.5"/>
<circle class="tfb" cx="60.2" cy="205" r="1.3"/>
<circle class="tdv" cx="30.3" cy="226.4" r="2"/>
<circle class="tcs" cx="34" cy="215.5" r="2.4"/>
<circle class="tdz" cx="47.2" cy="236.7" r="2.2"/>
<circle class="tdu" cx="97.9" cy="225.3" r="2.2"/>
<circle class="tey" cx="28.6" cy="226.1" r="1.7"/>
<circle class="tem" cx="17.9" cy="210.2" r="1.3"/>
<circle class="ted" cx="131.5" cy="200" r="2.4"/>
<circle class="tey" cx="21.4" cy="261.6" r="2.7"/>
<circle class="tew" cx="38.7" cy="249.3" r="2.5"/>
<circle class="tcq" cx="80.8" cy="222.1" r="2"/>
<circle class="tcp" cx="47.7" cy="236.8" r="1.8"/>
<circle class="tdg" cx="32.4" cy="195.8" r="1.9"/>
<circle class="tdw" cx="16.6" cy="177.9" r="2.1"/>
<circle class="tdy" cx="61.5" cy="230.8" r="1.8"/>
<circle cx="22" cy="186" r="0.95" fill="#fff"/><circle cx="25.5" cy="188.5" r="0.95" fill="#fff"/><circle cx="28" cy="190.5" r="0.95" fill="#fff"/><circle cx="31" cy="189.5" r="0.95" fill="#fff"/><circle cx="35" cy="190.8" r="0.95" fill="#fff"/><circle cx="37.5" cy="192.8" r="0.95" fill="#fff"/><circle cx="40" cy="192" r="0.95" fill="#fff"/><circle cx="26" cy="195.5" r="0.95" fill="#fff"/><circle cx="23.5" cy="199" r="0.95" fill="#fff"/><circle cx="27" cy="201.5" r="0.95" fill="#fff"/><circle cx="21" cy="204" r="0.95" fill="#fff"/><circle cx="25" cy="207" r="0.95" fill="#fff"/><circle cx="30" cy="205.5" r="0.95" fill="#fff"/><circle cx="19" cy="210" r="0.95" fill="#fff"/><circle cx="23" cy="212.5" r="0.95" fill="#fff"/><circle cx="36" cy="196" r="0.95" fill="#fff"/><circle cx="32.5" cy="200" r="0.95" fill="#fff"/><circle cx="41" cy="199" r="0.95" fill="#fff"/><circle cx="34" cy="208" r="0.95" fill="#fff"/><circle cx="28" cy="214" r="0.95" fill="#fff"/><circle cx="38" cy="204" r="0.95" fill="#fff"/><circle cx="44" cy="195" r="0.95" fill="#fff"/><circle cx="17" cy="215" r="0.95" fill="#fff"/><circle cx="11" cy="213.5" r="0.95" fill="#fff"/><circle cx="97" cy="191" r="0.95" fill="#fff"/><circle cx="101" cy="197" r="0.95" fill="#fff"/><circle cx="95" cy="204" r="0.95" fill="#fff"/><circle cx="72" cy="236" r="0.95" fill="#fff"/><circle cx="75" cy="239" r="0.95" fill="#fff"/><circle cx="60" cy="243" r="0.95" fill="#fff"/><circle cx="52" cy="256" r="0.95" fill="#fff"/><circle cx="64" cy="253" r="0.95" fill="#fff"/><circle cx="23" cy="236" r="0.95" fill="#fff"/><circle cx="25" cy="239" r="0.95" fill="#fff"/><circle cx="58" cy="247" r="3" fill="#70d8e0" opacity="0.9"/><circle cx="62" cy="252" r="2.6" fill="#90e8e8" opacity="0.9"/><circle cx="54" cy="253" r="2.4" fill="#60c8d8" opacity="0.9"/><circle cx="66" cy="259" r="2.6" fill="#70d8e0" opacity="0.8"/><circle cx="70" cy="264" r="2.4" fill="#80e0e8" opacity="0.8"/><circle cx="13" cy="249" r="3.2" fill="#70d8e0" opacity="0.9"/><circle cx="19" cy="254" r="3" fill="#80e0e8" opacity="0.9"/><circle cx="12" cy="258" r="2.6" fill="#60c8d8" opacity="0.9"/><circle cx="24" cy="248" r="2.4" fill="#68d0e0" opacity="0.8"/><circle cx="100" cy="187" r="2.6" fill="#a860c0" opacity="0.8"/><circle cx="106" cy="191" r="2.4" fill="#9c54b8" opacity="0.8"/><circle cx="96" cy="197" r="2.2" fill="#9048b0" opacity="0.7"/><circle cx="110" cy="184" r="2" fill="#8c48b0" opacity="0.7"/>
</g></g>
<rect x="6.1" y="166.1" width="73.9" height="9.9" fill="#050505"/>
<text x="8.3" y="174.0" font-size="6.3" font-family="Liberation Sans, Arial, sans-serif" text-anchor="start" fill="#fff" font-weight="normal" textLength="70.4" lengthAdjust="spacingAndGlyphs"><tspan fill="#b8c8d0">CD30</tspan> <tspan fill="#e8d840">Pax5</tspan> <tspan fill="#506050">PD-L1</tspan> <tspan fill="#7a4a80">CD155</tspan></text>
<rect x="8.3" y="225.8" width="11.4" height="8.8" fill="none" stroke="#eee" stroke-width="0.9"/>
<rect x="29.2" y="232" width="17.4" height="9.8" fill="none" stroke="#eee" stroke-width="0.9"/>
<line x1="20.0" y1="236.0" x2="28.5" y2="239.5" stroke="#ddd" stroke-width="0.7"/>
<line x1="7.6" y1="271.2" x2="22.5" y2="271.2" stroke="#fff" stroke-width="1.1"/>
<text x="15.0" y="269.8" font-size="3.2" font-family="Liberation Sans, Arial, sans-serif" text-anchor="middle" fill="#fff" font-weight="bold" >50 µm</text>
<rect x="91.9" y="208.6" width="37.9" height="66" fill="#f4f4f4"/>
<clipPath id="cpC1"><rect x="93.3" y="209.9" width="36.5" height="33.7"/></clipPath>
<g clip-path="url(#cpC1)"><rect x="93.3" y="209.9" width="36.5" height="33.7" fill="#4030a8"/>
<g filter="url(#cb)">
<rect x="85.3" y="201.9" width="52.5" height="49.7" fill="#4030a8"/>
<rect class="tgc" x="85.3" y="201.9" width="14.6" height="13.3"/>
<rect class="tgc" x="98.9" y="201.9" width="7.1" height="13.3"/>
<rect class="tgc" x="105" y="201.9" width="7.1" height="13.3"/>
<rect class="tgc" x="111" y="201.9" width="7.1" height="13.3"/>
<rect class="tgc" x="117.1" y="201.9" width="7.1" height="13.3"/>
<rect class="tgc" x="123.2" y="201.9" width="14.6" height="13.3"/>
<rect class="tgc" x="85.3" y="214.2" width="14.6" height="5.8"/>
<rect class="tgc" x="98.9" y="214.2" width="7.1" height="5.8"/>
<rect class="tgc" x="105" y="214.2" width="7.1" height="5.8"/>
<rect class="tgc" x="111" y="214.2" width="7.1" height="5.8"/>
<rect class="tgc" x="117.1" y="214.2" width="7.1" height="5.8"/>
<rect class="tgd" x="123.2" y="214.2" width="14.6" height="5.8"/>
<rect class="tgd" x="85.3" y="219" width="14.6" height="5.8"/>
<rect class="tgc" x="98.9" y="219" width="7.1" height="5.8"/>
<rect class="tgd" x="105" y="219" width="7.1" height="5.8"/>
<rect class="tgd" x="111" y="219" width="7.1" height="5.8"/>
<rect class="tgc" x="117.1" y="219" width="7.1" height="5.8"/>
<rect class="tgd" x="123.2" y="219" width="14.6" height="5.8"/>
<rect class="tgd" x="85.3" y="223.8" width="14.6" height="5.8"/>
<rect class="tgd" x="98.9" y="223.8" width="7.1" height="5.8"/>
<rect class="tgd" x="105" y="223.8" width="7.1" height="5.8"/>
<rect class="tgd" x="111" y="223.8" width="7.1" height="5.8"/>
<rect class="tgd" x="117.1" y="223.8" width="7.1" height="5.8"/>
<rect class="tgd" x="123.2" y="223.8" width="14.6" height="5.8"/>
<rect class="tgd" x="85.3" y="228.7" width="14.6" height="5.8"/>
<rect class="tgd" x="98.9" y="228.7" width="7.1" height="5.8"/>
<rect class="tgd" x="105" y="228.7" width="7.1" height="5.8"/>
<rect class="tgd" x="111" y="228.7" width="7.1" height="5.8"/>
<rect class="tgd" x="117.1" y="228.7" width="7.1" height="5.8"/>
<rect class="tgd" x="123.2" y="228.7" width="14.6" height="5.8"/>
<rect class="tgd" x="85.3" y="233.5" width="14.6" height="5.8"/>
<rect class="tge" x="98.9" y="233.5" width="7.1" height="5.8"/>
<rect class="tgd" x="105" y="233.5" width="7.1" height="5.8"/>
<rect class="tgd" x="111" y="233.5" width="7.1" height="5.8"/>
<rect class="tgd" x="117.1" y="233.5" width="7.1" height="5.8"/>
<rect class="tge" x="123.2" y="233.5" width="14.6" height="5.8"/>
<rect class="tge" x="85.3" y="238.3" width="14.6" height="13.3"/>
<rect class="tge" x="98.9" y="238.3" width="7.1" height="13.3"/>
<rect class="tge" x="105" y="238.3" width="7.1" height="13.3"/>
<rect class="tgd" x="111" y="238.3" width="7.1" height="13.3"/>
<rect class="tge" x="117.1" y="238.3" width="7.1" height="13.3"/>
<rect class="tge" x="123.2" y="238.3" width="14.6" height="13.3"/>
</g>
<g filter="url(#blC1)">
<circle class="tgf" cx="114.7" cy="242.1" r="2"/>
<circle class="tgg" cx="96.1" cy="213.3" r="2"/>
<circle class="tgh" cx="106.9" cy="224.6" r="2.9"/>
<circle class="tgi" cx="111.1" cy="236.5" r="2.3"/>
<circle class="tgf" cx="126.7" cy="237.5" r="3.4"/>
<circle class="tgj" cx="92.6" cy="242.8" r="3.3"/>
<circle class="tgk" cx="117.8" cy="241.1" r="2.8"/>
<circle class="tgl" cx="111.4" cy="212.6" r="2.9"/>
<circle class="tgk" cx="101.8" cy="225.6" r="2.5"/>
<circle class="tgi" cx="112.1" cy="234.2" r="2"/>
<circle class="tgf" cx="94.6" cy="240.2" r="2.5"/>
<circle class="tgk" cx="97.6" cy="231.4" r="2.2"/>
<circle class="tgf" cx="99.1" cy="225.7" r="2"/>
<circle class="tgk" cx="117.5" cy="227.7" r="2.3"/>
<circle class="tgf" cx="107.9" cy="222.2" r="2.2"/>
<circle class="tgf" cx="117.7" cy="231.8" r="2.7"/>
<circle class="tgi" cx="98.6" cy="209.6" r="2.6"/>
<circle class="tgh" cx="114.2" cy="241.8" r="2.9"/>
<circle class="tgm" cx="104.4" cy="224.1" r="1.9"/>
<circle class="tgn" cx="105.9" cy="218.3" r="2.8"/>
<circle class="tgo" cx="113.8" cy="223.7" r="2.5"/>
<circle class="tgp" cx="123.3" cy="242.8" r="2.1"/>
<circle class="tgh" cx="101.5" cy="226.7" r="3.3"/>
<circle class="tgq" cx="123.2" cy="224.3" r="1.9"/>
<circle class="tgq" cx="98.6" cy="226.1" r="3.2"/>
<circle class="tgh" cx="103.1" cy="229.5" r="2.5"/>
<circle class="tgn" cx="96.8" cy="220.1" r="2.4"/>
<circle class="tgi" cx="109.7" cy="232.5" r="2.7"/>
<circle class="tgr" cx="108.1" cy="229" r="3.3"/>
<circle class="tgi" cx="110.8" cy="218.8" r="2.8"/>
<circle class="tgo" cx="124" cy="233.7" r="1.9"/>
<circle class="tgi" cx="124.1" cy="218.5" r="2.1"/>
<circle class="tgf" cx="108.8" cy="229.3" r="2.8"/>
<circle class="tgp" cx="124.4" cy="244" r="2.9"/>
<circle class="tgi" cx="129.1" cy="220.2" r="2.9"/>
<circle class="tgi" cx="94" cy="219.8" r="2.9"/>
<circle class="tgq" cx="113.7" cy="224.2" r="2.6"/>
<circle class="tgl" cx="112" cy="214" r="2.2"/>
<circle class="tgs" cx="103.8" cy="231.5" r="2.1"/>
<circle class="tgn" cx="104.8" cy="209.3" r="1.9"/>
<circle class="tgt" cx="108.1" cy="242.3" r="2.3"/>
<circle class="tgo" cx="116.9" cy="226.9" r="3.4"/>
<circle class="tgu" cx="114.3" cy="212.6" r="3"/>
<circle class="tgt" cx="123.3" cy="240.3" r="3.3"/>
<circle class="tgf" cx="124.2" cy="236.8" r="2.5"/>
<circle class="tgv" cx="96.2" cy="213.2" r="3.2"/>
<circle class="tgw" cx="99.1" cy="235.4" r="2.3"/>
<circle class="tgx" cx="105.5" cy="224.9" r="2"/>
<circle class="tgk" cx="116.8" cy="210.9" r="2.3"/>
<circle class="tgs" cx="111.6" cy="222.2" r="3"/>
<circle class="tgl" cx="109.6" cy="209.7" r="3.1"/>
<circle class="tgf" cx="124" cy="228.9" r="3.2"/>
<circle class="tgy" cx="108.5" cy="242.2" r="2.2"/>
<circle class="tgf" cx="115.7" cy="222.7" r="2.3"/>
<circle class="tgp" cx="98.8" cy="240.3" r="2.4"/>
<circle class="tgk" cx="93.4" cy="226.6" r="2.4"/>
<circle class="tgu" cx="129.9" cy="210.2" r="3.2"/>
<circle class="tgq" cx="124.4" cy="229.6" r="2.4"/>
<circle class="tgj" cx="120" cy="242.8" r="2"/>
<circle class="tgu" cx="114.1" cy="214.3" r="2.7"/>
<circle class="tgu" cx="106" cy="209.9" r="2"/>
<circle class="tgy" cx="100.8" cy="237.8" r="3.2"/>
<circle class="tgf" cx="111.6" cy="221.5" r="2.4"/>
<circle class="tgw" cx="102.8" cy="240.4" r="2.4"/>
<circle class="tgz" cx="124.9" cy="241.1" r="2.8"/>
<circle class="tgu" cx="106.9" cy="217.2" r="3.2"/>
<circle class="tgl" cx="111.4" cy="211.6" r="2.2"/>
<circle class="tgf" cx="121.6" cy="222.7" r="2"/>
<circle class="tgh" cx="117.3" cy="234.4" r="3"/>
<circle class="tgl" cx="121.4" cy="222.4" r="2.3"/>
<circle class="tgv" cx="103.2" cy="218.2" r="1.9"/>
<circle class="tgv" cx="124.6" cy="219.6" r="2.6"/>
<circle class="tgk" cx="110.2" cy="233.4" r="3.2"/>
<circle class="tgi" cx="114.6" cy="212.9" r="2.6"/>
<circle class="tgl" cx="120" cy="217.9" r="2.5"/>
<circle class="tgv" cx="101.6" cy="211.8" r="2.6"/>
<circle class="tgn" cx="117.2" cy="215.4" r="3"/>
<circle class="tgk" cx="98.5" cy="236.2" r="2"/>
<circle class="tgm" cx="128.2" cy="213.5" r="3.2"/>
<circle class="tgq" cx="97.2" cy="234.3" r="3.2"/>
<circle class="tgr" cx="111.2" cy="224.2" r="3.3"/>
<circle class="tgi" cx="123.3" cy="223.7" r="2.5"/>
<circle class="tgk" cx="108.2" cy="217.8" r="2.2"/>
<circle class="tgs" cx="109.2" cy="222.5" r="2.8"/>
<circle class="tgi" cx="99.5" cy="237.1" r="1.8"/>
<circle class="tgf" cx="103.6" cy="229.8" r="1.9"/>
<circle class="tgf" cx="120.6" cy="238.5" r="3.2"/>
<circle class="tgq" cx="122.8" cy="235.3" r="2.2"/>
<circle class="tgo" cx="124.3" cy="238.1" r="2.8"/>
<circle class="tgl" cx="103.7" cy="219.8" r="1.8"/>
<circle class="tgi" cx="111.2" cy="227.7" r="1.8"/>
<circle class="tgx" cx="96.7" cy="218.9" r="2.4"/>
<circle class="tgr" cx="95.9" cy="222.1" r="3.1"/>
<circle class="tgk" cx="102.9" cy="215.3" r="2.7"/>
<circle class="tgk" cx="127.9" cy="212" r="3"/>
<circle class="tgt" cx="92.4" cy="242.1" r="3.2"/>
<circle class="tgf" cx="126.7" cy="226.2" r="2.7"/>
<circle class="tgm" cx="120.7" cy="210.7" r="2.4"/>
<circle class="tgk" cx="127.7" cy="227.1" r="2.8"/>
<circle class="tgz" cx="110.6" cy="242" r="1.9"/>
<circle class="tgi" cx="121.3" cy="236.7" r="2.8"/>
<circle class="tgp" cx="110.8" cy="242.9" r="2.6"/>
<circle class="tgg" cx="119.3" cy="214.8" r="3.1"/>
<circle class="tgf" cx="111.6" cy="229.4" r="3.3"/>
<circle class="tgf" cx="99.5" cy="234" r="3.3"/>
<circle class="tgh" cx="112" cy="241.8" r="3.2"/>
<circle class="tgo" cx="117.7" cy="231.7" r="2.6"/>
<circle class="tgk" cx="116.9" cy="211.2" r="3.1"/>
<circle class="tgf" cx="130.2" cy="224" r="3.3"/>
<circle class="tgq" cx="94.3" cy="226.9" r="2.6"/>
<circle class="tgx" cx="123.6" cy="220.4" r="3.4"/>
<circle class="tgk" cx="112.9" cy="226.8" r="1.9"/>
<circle class="tgv" cx="96.9" cy="210.4" r="3.1"/>
<circle class="tgf" cx="110.4" cy="234.7" r="3.4"/>
<circle class="tgg" cx="122.9" cy="212.3" r="2.4"/>
<circle class="tgf" cx="104.8" cy="224" r="1.8"/>
<circle class="tgu" cx="103.9" cy="214.9" r="2.3"/>
<circle class="tgt" cx="93.2" cy="244" r="2.2"/>
<circle class="tgl" cx="124.4" cy="212.1" r="2.7"/>
<circle class="tgi" cx="112.2" cy="237.1" r="1.9"/>
<circle class="tgs" cx="122.7" cy="228.8" r="2.3"/>
<circle class="tgj" cx="105.8" cy="239.4" r="2.5"/>
<circle class="tgo" cx="95.8" cy="233.6" r="3.4"/>
<circle class="tgf" cx="102.1" cy="226.9" r="2.1"/>
<circle class="tgn" cx="98.4" cy="216.6" r="3.2"/>
<circle class="tgu" cx="120" cy="217.9" r="3.1"/>
<circle class="tgx" cx="115.1" cy="229.9" r="3.4"/>
<circle class="tgh" cx="125.6" cy="234.2" r="2.5"/>
<circle class="tgi" cx="102.9" cy="238" r="3.3"/>
<circle class="tgl" cx="112.4" cy="217.4" r="1.9"/>
<circle class="tgh" cx="128.7" cy="219.4" r="1.9"/>
<circle class="tgk" cx="101.5" cy="226.9" r="3.3"/>
<circle class="tgg" cx="108.6" cy="214.2" r="1.8"/>
<circle class="tgw" cx="127.5" cy="238.1" r="3.1"/>
<circle class="tgk" cx="126.1" cy="240" r="2.9"/>
<circle class="tgf" cx="127.9" cy="219.1" r="2.7"/>
<circle class="tgm" cx="124.2" cy="219.1" r="3.1"/>
<circle class="tgi" cx="101.9" cy="240.8" r="2.8"/>
<circle class="tgf" cx="109.5" cy="232.6" r="2.6"/>
<circle class="tgq" cx="98" cy="220.5" r="2.6"/>
<circle class="tgk" cx="111.9" cy="235.9" r="1.9"/>
<circle class="tgk" cx="125.6" cy="218.6" r="2"/>
<circle class="tgf" cx="130.5" cy="217.3" r="3.1"/>
<circle class="tgf" cx="111.3" cy="229.5" r="3.3"/>
<circle class="tgj" cx="124.1" cy="242.9" r="2.8"/>
<circle class="tgv" cx="108.4" cy="214.3" r="2.5"/>
<circle class="tgi" cx="130.7" cy="229.1" r="2.9"/>
<circle class="tgl" cx="124.2" cy="222.6" r="2.8"/>
<circle class="tgk" cx="99.4" cy="238" r="1.9"/>
<circle class="tgp" cx="128.3" cy="237.4" r="3.3"/>
<circle class="tgx" cx="94.7" cy="221" r="3.2"/>
<circle class="tgv" cx="97.6" cy="210.1" r="2.1"/>
<circle class="tgk" cx="120.2" cy="233.8" r="1.9"/>
<circle class="tgf" cx="98" cy="219.6" r="3.2"/>
<circle class="tgo" cx="94.2" cy="239.1" r="3.2"/>
<circle class="tgk" cx="102.7" cy="230.9" r="2.1"/>
<circle class="tgs" cx="129.8" cy="231.2" r="2.5"/>
<circle class="tgk" cx="103.3" cy="224.9" r="3"/>
<circle class="tgk" cx="112.9" cy="212.2" r="2.6"/>
<circle class="tgo" cx="127.9" cy="222.8" r="2.6"/>
<circle class="tgi" cx="99.3" cy="224.1" r="2.7"/>
<circle class="tgf" cx="110.9" cy="232.2" r="2.6"/>
<circle class="tgx" cx="114.6" cy="241.9" r="1.9"/>
<circle class="tgk" cx="117.3" cy="229.5" r="3.1"/>
<circle class="tgx" cx="120.9" cy="224.7" r="3.2"/>
<circle class="tgx" cx="105" cy="234.1" r="2.9"/>
<circle class="tgi" cx="94.1" cy="230.8" r="2.8"/>
<circle class="tgx" cx="107.2" cy="219.2" r="2.9"/>
<circle cx="110.5" cy="224.5" r="7.6" fill="#3230bc" stroke="#c840a4" stroke-width="5.0" opacity="1"/><circle cx="115" cy="218.5" r="3.2" fill="#e460b8" opacity="0.85"/><circle cx="111" cy="217" r="2.6" fill="#dc54b0" opacity="0.8"/><circle cx="117.5" cy="225" r="2.6" fill="#d850ac" opacity="0.8"/>
</g></g>
<line x1="101.0" y1="240.2" x2="119.0" y2="240.2" stroke="#fff" stroke-width="1.4"/>
<text x="110.0" y="238.2" font-size="4.6" font-family="Liberation Sans, Arial, sans-serif" text-anchor="middle" fill="#fff" font-weight="bold" >10 µm</text>
<clipPath id="cpC2"><rect x="93.3" y="245" width="36.5" height="29.6"/></clipPath>
<g clip-path="url(#cpC2)"><rect x="93.3" y="245" width="36.5" height="29.6" fill="#3a9050"/>
<g filter="url(#cb)">
<rect x="85.3" y="237" width="52.5" height="45.6" fill="#3a9050"/>
<rect class="tha" x="85.3" y="237" width="14.6" height="14.4"/>
<rect class="tha" x="98.9" y="237" width="7.1" height="14.4"/>
<rect class="tha" x="105" y="237" width="7.1" height="14.4"/>
<rect class="tha" x="111" y="237" width="7.1" height="14.4"/>
<rect class="tha" x="117.1" y="237" width="7.1" height="14.4"/>
<rect class="tha" x="123.2" y="237" width="14.6" height="14.4"/>
<rect class="tha" x="85.3" y="250.4" width="14.6" height="6.9"/>
<rect class="tha" x="98.9" y="250.4" width="7.1" height="6.9"/>
<rect class="tha" x="105" y="250.4" width="7.1" height="6.9"/>
<rect class="tha" x="111" y="250.4" width="7.1" height="6.9"/>
<rect class="tha" x="117.1" y="250.4" width="7.1" height="6.9"/>
<rect class="tha" x="123.2" y="250.4" width="14.6" height="6.9"/>
<rect class="tha" x="85.3" y="256.3" width="14.6" height="6.9"/>
<rect class="tha" x="98.9" y="256.3" width="7.1" height="6.9"/>
<rect class="tha" x="105" y="256.3" width="7.1" height="6.9"/>
<rect class="tha" x="111" y="256.3" width="7.1" height="6.9"/>
<rect class="tha" x="117.1" y="256.3" width="7.1" height="6.9"/>
<rect class="tha" x="123.2" y="256.3" width="14.6" height="6.9"/>
<rect class="tha" x="85.3" y="262.3" width="14.6" height="6.9"/>
<rect class="tha" x="98.9" y="262.3" width="7.1" height="6.9"/>
<rect class="tha" x="105" y="262.3" width="7.1" height="6.9"/>
<rect class="tha" x="111" y="262.3" width="7.1" height="6.9"/>
<rect class="tha" x="117.1" y="262.3" width="7.1" height="6.9"/>
<rect class="tha" x="123.2" y="262.3" width="14.6" height="6.9"/>
<rect class="tha" x="85.3" y="268.2" width="14.6" height="14.4"/>
<rect class="tha" x="98.9" y="268.2" width="7.1" height="14.4"/>
<rect class="tha" x="105" y="268.2" width="7.1" height="14.4"/>
<rect class="tha" x="111" y="268.2" width="7.1" height="14.4"/>
<rect class="tha" x="117.1" y="268.2" width="7.1" height="14.4"/>
<rect class="tha" x="123.2" y="268.2" width="14.6" height="14.4"/>
</g>
<g filter="url(#blC2)">
<circle class="thb" cx="98.3" cy="271.5" r="2.6"/>
<circle class="thc" cx="106.9" cy="268.4" r="2.1"/>
<circle class="thd" cx="113.7" cy="270.1" r="2.5"/>
<circle class="the" cx="104.5" cy="263.1" r="3.1"/>
<circle class="thf" cx="95.5" cy="268.6" r="2.3"/>
<circle class="thg" cx="98.8" cy="267.4" r="3.2"/>
<circle class="the" cx="106.1" cy="253.1" r="2.6"/>
<circle class="thf" cx="117.2" cy="265.9" r="2.6"/>
<circle class="thh" cx="99.7" cy="267.8" r="2.6"/>
<circle class="the" cx="110.7" cy="267.4" r="2.9"/>
<circle class="thc" cx="118.5" cy="271.1" r="2.1"/>
<circle class="thi" cx="97.7" cy="250.8" r="2.1"/>
<circle class="thc" cx="102" cy="259.1" r="2.8"/>
<circle class="thf" cx="111.9" cy="258.2" r="3.2"/>
<circle class="thd" cx="124.4" cy="268.3" r="2.1"/>
<circle class="thj" cx="123" cy="258.7" r="2.8"/>
<circle class="thb" cx="107.9" cy="268.3" r="2.1"/>
<circle class="the" cx="112.2" cy="250.7" r="2.8"/>
<circle class="thi" cx="117.8" cy="266.7" r="2"/>
<circle class="the" cx="93.4" cy="257.3" r="2.6"/>
<circle class="the" cx="126.2" cy="257.4" r="3"/>
<circle class="thd" cx="129.1" cy="247" r="2"/>
<circle class="thf" cx="111.4" cy="253.2" r="2.3"/>
<circle class="thg" cx="126.1" cy="270.9" r="2.4"/>
<circle class="thi" cx="94.4" cy="249.4" r="3"/>
<circle class="thg" cx="117.3" cy="272.6" r="2.8"/>
<circle class="thb" cx="110.9" cy="248.6" r="2.1"/>
<circle class="thf" cx="100.2" cy="267" r="3"/>
<circle class="thb" cx="128" cy="254.7" r="3.2"/>
<circle class="thh" cx="112" cy="261.4" r="2.4"/>
<circle class="thg" cx="128.5" cy="265.8" r="2.7"/>
<circle class="thi" cx="97.8" cy="261.5" r="2.6"/>
<circle class="thh" cx="124" cy="250.4" r="3.1"/>
<circle class="thk" cx="99" cy="244.8" r="3"/>
<circle class="thl" cx="105.6" cy="254.1" r="2.5"/>
<circle class="the" cx="93.6" cy="250.4" r="2"/>
<circle class="thc" cx="109.7" cy="263.3" r="2.7"/>
<circle class="thd" cx="127.5" cy="247.4" r="2.4"/>
<circle class="thm" cx="124.1" cy="248.1" r="1.9"/>
<circle class="thf" cx="114.2" cy="250.1" r="2.2"/>
<circle class="thg" cx="104.1" cy="275.2" r="2.8"/>
<circle class="thf" cx="128.2" cy="250.6" r="2.6"/>
<circle class="thb" cx="125.6" cy="274.2" r="2.7"/>
<circle class="thm" cx="101.1" cy="261.1" r="2.8"/>
<circle class="thf" cx="119.4" cy="269.1" r="2.7"/>
<circle class="thf" cx="98.7" cy="264.9" r="3.1"/>
<circle class="thj" cx="110.1" cy="265.3" r="2.7"/>
<circle class="the" cx="127.5" cy="270.2" r="2.3"/>
<circle class="thm" cx="123.6" cy="262.1" r="2.4"/>
<circle class="thb" cx="120.2" cy="270.1" r="1.9"/>
<circle class="thg" cx="128.4" cy="260.8" r="2.3"/>
<circle class="thd" cx="107.2" cy="273.9" r="2.8"/>
<circle class="thb" cx="98.6" cy="272.3" r="2.1"/>
<circle class="the" cx="95.5" cy="250.3" r="2.3"/>
<circle class="the" cx="125.1" cy="267.8" r="2.9"/>
<circle class="the" cx="105.6" cy="262.2" r="2.8"/>
<circle class="thb" cx="106" cy="245.7" r="2.2"/>
<circle class="thh" cx="120" cy="251.2" r="3.1"/>
<circle class="thc" cx="110.1" cy="245.1" r="2.7"/>
<circle class="thf" cx="128.1" cy="268.2" r="2.8"/>
<circle class="the" cx="122.4" cy="256.4" r="3.1"/>
<circle class="the" cx="120.5" cy="262.4" r="2.8"/>
<circle class="thb" cx="117.9" cy="263.6" r="1.9"/>
<circle class="the" cx="99.4" cy="269" r="2.2"/>
<circle class="thm" cx="122.2" cy="251.6" r="2.7"/>
<circle class="thg" cx="104.8" cy="259.9" r="3"/>
<circle class="thf" cx="95.9" cy="257.7" r="1.9"/>
<circle class="thk" cx="104.6" cy="260" r="3"/>
<circle class="thk" cx="96.8" cy="265" r="2.6"/>
<circle class="thc" cx="106.8" cy="251" r="2.6"/>
<circle class="thg" cx="123" cy="250.8" r="2.5"/>
<circle class="thg" cx="104.9" cy="271" r="2.1"/>
<circle class="the" cx="115.4" cy="249.7" r="2.7"/>
<circle class="thg" cx="105.6" cy="269.3" r="3.2"/>
<circle class="the" cx="121.1" cy="251" r="2.4"/>
<circle class="thf" cx="124.6" cy="245" r="2.2"/>
<circle class="thh" cx="98.5" cy="265.7" r="2.9"/>
<circle class="thf" cx="108.7" cy="252.1" r="2.3"/>
<circle class="the" cx="110" cy="270.3" r="2.5"/>
<circle class="thd" cx="115.1" cy="264.1" r="3.1"/>
<circle class="thh" cx="126.7" cy="251.6" r="2.5"/>
<circle class="thj" cx="121.3" cy="269.1" r="2.9"/>
<circle class="thc" cx="117.5" cy="261.4" r="2.4"/>
<circle class="thd" cx="105.2" cy="266" r="1.8"/>
<circle class="thf" cx="106.9" cy="250.7" r="1.8"/>
<circle class="thl" cx="102" cy="248.8" r="2.4"/>
<circle class="thk" cx="114.3" cy="262.1" r="2.1"/>
<circle class="thf" cx="117" cy="261.5" r="2.2"/>
<circle class="thj" cx="95.9" cy="266" r="2.8"/>
<circle class="the" cx="111.7" cy="275.2" r="2"/>
<circle class="thi" cx="115.6" cy="256.4" r="2.2"/>
<circle class="thc" cx="93.1" cy="255.9" r="1.8"/>
<circle class="the" cx="111.5" cy="258.6" r="2.9"/>
<circle class="thk" cx="98.8" cy="251.9" r="2.1"/>
<circle class="thf" cx="99.7" cy="253.7" r="2.3"/>
<circle class="thh" cx="106.3" cy="250.4" r="2"/>
<circle class="thk" cx="119.7" cy="263.5" r="2.4"/>
<circle class="thg" cx="110.2" cy="251.3" r="2"/>
<circle class="thk" cx="96.4" cy="261.9" r="2.3"/>
<circle class="thm" cx="98.2" cy="256.7" r="3.1"/>
<circle class="thg" cx="118.2" cy="257.4" r="2"/>
<circle class="thk" cx="104.4" cy="251.4" r="2.2"/>
<circle class="thi" cx="115.9" cy="261.4" r="2.9"/>
<circle class="thh" cx="118.1" cy="250.8" r="2.2"/>
<circle class="thg" cx="115.7" cy="245.3" r="3"/>
<circle class="thl" cx="105.6" cy="248.3" r="2.7"/>
<circle class="thg" cx="118.5" cy="268.2" r="2.3"/>
<circle class="thj" cx="99.8" cy="256.9" r="3.1"/>
<circle class="thl" cx="127.2" cy="266.5" r="2.8"/>
<circle class="thc" cx="93.3" cy="270.6" r="2.7"/>
<circle class="thc" cx="129" cy="270.7" r="2.5"/>
<circle class="the" cx="121.2" cy="255.6" r="2.8"/>
<circle class="thf" cx="109.6" cy="263.7" r="2.4"/>
<circle class="thm" cx="104.5" cy="274.4" r="2.6"/>
<circle class="thh" cx="124.1" cy="257.3" r="1.9"/>
<circle class="thg" cx="117.5" cy="261" r="3"/>
<circle class="thf" cx="114.8" cy="263" r="3"/>
<circle class="thf" cx="105.8" cy="257.4" r="2.4"/>
<circle class="thl" cx="101" cy="245" r="2.9"/>
<circle class="thg" cx="98.3" cy="244.3" r="2.8"/>
<ellipse cx="103" cy="254" rx="4" ry="3.2" fill="#3230b8" opacity="0.95"/><ellipse cx="103" cy="254" rx="2.2" ry="1.8" fill="#4a34c0" opacity="0.9"/><ellipse cx="117.5" cy="252" rx="3.6" ry="3" fill="#3230b8" opacity="0.95"/><ellipse cx="117.5" cy="252" rx="2.0" ry="1.7" fill="#4a34c0" opacity="0.9"/><ellipse cx="110.5" cy="263.5" rx="3.8" ry="3.2" fill="#3230b8" opacity="0.95"/><ellipse cx="110.5" cy="263.5" rx="2.1" ry="1.8" fill="#4a34c0" opacity="0.9"/><ellipse cx="124" cy="262" rx="3.4" ry="3.6" fill="#3230b8" opacity="0.95"/><ellipse cx="124" cy="262" rx="1.9" ry="2.0" fill="#4a34c0" opacity="0.9"/><ellipse cx="98.5" cy="267.5" rx="3" ry="2.6" fill="#3230b8" opacity="0.95"/><ellipse cx="98.5" cy="267.5" rx="1.7" ry="1.4" fill="#4a34c0" opacity="0.9"/><ellipse cx="125" cy="248.5" rx="2.6" ry="2.2" fill="#3230b8" opacity="0.95"/><ellipse cx="125" cy="248.5" rx="1.4" ry="1.2" fill="#4a34c0" opacity="0.9"/><ellipse cx="97" cy="248" rx="2.4" ry="2" fill="#3230b8" opacity="0.95"/><ellipse cx="97" cy="248" rx="1.3" ry="1.1" fill="#4a34c0" opacity="0.9"/>
</g></g>
<line x1="99.0" y1="271.4" x2="112.0" y2="271.4" stroke="#fff" stroke-width="1.1"/>
<text x="105.5" y="270.0" font-size="3.2" font-family="Liberation Sans, Arial, sans-serif" text-anchor="middle" fill="#fff" font-weight="bold" >10 µm</text>
<clipPath id="cpE"><rect x="6.1" y="305.2" width="122.4" height="111"/></clipPath>
<g clip-path="url(#cpE)"><rect x="6.1" y="305.2" width="122.4" height="111" fill="#243c98"/>
<g filter="url(#cb)">
<rect x="-1.9000000000000004" y="297.2" width="138.4" height="127" fill="#243c98"/>
<rect class="thn" x="-1.9" y="297.2" width="20.7" height="20.8"/>
<rect class="thn" x="17.8" y="297.2" width="13.2" height="20.8"/>
<rect class="thn" x="30.1" y="297.2" width="13.2" height="20.8"/>
<rect class="thn" x="42.3" y="297.2" width="13.2" height="20.8"/>
<rect class="thn" x="54.6" y="297.2" width="13.2" height="20.8"/>
<rect class="thn" x="66.8" y="297.2" width="13.2" height="20.8"/>
<rect class="tho" x="79" y="297.2" width="13.2" height="20.8"/>
<rect class="thp" x="91.3" y="297.2" width="13.2" height="20.8"/>
<rect class="thn" x="103.5" y="297.2" width="13.2" height="20.8"/>
<rect class="thn" x="115.8" y="297.2" width="20.7" height="20.8"/>
<rect class="thp" x="-1.9" y="317" width="20.7" height="13.3"/>
<rect class="tho" x="17.8" y="317" width="13.2" height="13.3"/>
<rect class="thn" x="30.1" y="317" width="13.2" height="13.3"/>
<rect class="thp" x="42.3" y="317" width="13.2" height="13.3"/>
<rect class="thn" x="54.6" y="317" width="13.2" height="13.3"/>
<rect class="thn" x="66.8" y="317" width="13.2" height="13.3"/>
<rect class="tho" x="79" y="317" width="13.2" height="13.3"/>
<rect class="thp" x="91.3" y="317" width="13.2" height="13.3"/>
<rect class="tho" x="103.5" y="317" width="13.2" height="13.3"/>
<rect class="thn" x="115.8" y="317" width="20.7" height="13.3"/>
<rect class="thn" x="-1.9" y="329.4" width="20.7" height="13.3"/>
<rect class="thp" x="17.8" y="329.4" width="13.2" height="13.3"/>
<rect class="tho" x="30.1" y="329.4" width="13.2" height="13.3"/>
<rect class="thn" x="42.3" y="329.4" width="13.2" height="13.3"/>
<rect class="thn" x="54.6" y="329.4" width="13.2" height="13.3"/>
<rect class="thp" x="66.8" y="329.4" width="13.2" height="13.3"/>
<rect class="thn" x="79" y="329.4" width="13.2" height="13.3"/>
<rect class="tho" x="91.3" y="329.4" width="13.2" height="13.3"/>
<rect class="thn" x="103.5" y="329.4" width="13.2" height="13.3"/>
<rect class="thn" x="115.8" y="329.4" width="20.7" height="13.3"/>
<rect class="tho" x="-1.9" y="341.7" width="20.7" height="13.3"/>
<rect class="thn" x="17.8" y="341.7" width="13.2" height="13.3"/>
<rect class="thp" x="30.1" y="341.7" width="13.2" height="13.3"/>
<rect class="thn" x="42.3" y="341.7" width="13.2" height="13.3"/>
<rect class="thn" x="54.6" y="341.7" width="13.2" height="13.3"/>
<rect class="thq" x="66.8" y="341.7" width="13.2" height="13.3"/>
<rect class="thn" x="79" y="341.7" width="13.2" height="13.3"/>
<rect class="thp" x="91.3" y="341.7" width="13.2" height="13.3"/>
<rect class="thn" x="103.5" y="341.7" width="13.2" height="13.3"/>
<rect class="thn" x="115.8" y="341.7" width="20.7" height="13.3"/>
<rect class="thn" x="-1.9" y="354" width="20.7" height="13.3"/>
<rect class="thp" x="17.8" y="354" width="13.2" height="13.3"/>
<rect class="thn" x="30.1" y="354" width="13.2" height="13.3"/>
<rect class="thq" x="42.3" y="354" width="13.2" height="13.3"/>
<rect class="thq" x="54.6" y="354" width="13.2" height="13.3"/>
<rect class="thn" x="66.8" y="354" width="13.2" height="13.3"/>
<rect class="thn" x="79" y="354" width="13.2" height="13.3"/>
<rect class="tho" x="91.3" y="354" width="13.2" height="13.3"/>
<rect class="thn" x="103.5" y="354" width="13.2" height="13.3"/>
<rect class="thn" x="115.8" y="354" width="20.7" height="13.3"/>
<rect class="thp" x="-1.9" y="366.4" width="20.7" height="13.3"/>
<rect class="thn" x="17.8" y="366.4" width="13.2" height="13.3"/>
<rect class="thn" x="30.1" y="366.4" width="13.2" height="13.3"/>
<rect class="thn" x="42.3" y="366.4" width="13.2" height="13.3"/>
<rect class="thq" x="54.6" y="366.4" width="13.2" height="13.3"/>
<rect class="thq" x="66.8" y="366.4" width="13.2" height="13.3"/>
<rect class="thn" x="79" y="366.4" width="13.2" height="13.3"/>
<rect class="thn" x="91.3" y="366.4" width="13.2" height="13.3"/>
<rect class="thn" x="103.5" y="366.4" width="13.2" height="13.3"/>
<rect class="thn" x="115.8" y="366.4" width="20.7" height="13.3"/>
<rect class="thn" x="-1.9" y="378.7" width="20.7" height="13.3"/>
<rect class="tho" x="17.8" y="378.7" width="13.2" height="13.3"/>
<rect class="thn" x="30.1" y="378.7" width="13.2" height="13.3"/>
<rect class="thq" x="42.3" y="378.7" width="13.2" height="13.3"/>
<rect class="thn" x="54.6" y="378.7" width="13.2" height="13.3"/>
<rect class="thq" x="66.8" y="378.7" width="13.2" height="13.3"/>
<rect class="thp" x="79" y="378.7" width="13.2" height="13.3"/>
<rect class="thn" x="91.3" y="378.7" width="13.2" height="13.3"/>
<rect class="thn" x="103.5" y="378.7" width="13.2" height="13.3"/>
<rect class="thn" x="115.8" y="378.7" width="20.7" height="13.3"/>
<rect class="thn" x="-1.9" y="391" width="20.7" height="13.3"/>
<rect class="thq" x="17.8" y="391" width="13.2" height="13.3"/>
<rect class="thq" x="30.1" y="391" width="13.2" height="13.3"/>
<rect class="thn" x="42.3" y="391" width="13.2" height="13.3"/>
<rect class="thn" x="54.6" y="391" width="13.2" height="13.3"/>
<rect class="thp" x="66.8" y="391" width="13.2" height="13.3"/>
<rect class="thn" x="79" y="391" width="13.2" height="13.3"/>
<rect class="thn" x="91.3" y="391" width="13.2" height="13.3"/>
<rect class="thn" x="103.5" y="391" width="13.2" height="13.3"/>
<rect class="thn" x="115.8" y="391" width="20.7" height="13.3"/>
<rect class="tho" x="-1.9" y="403.4" width="20.7" height="20.8"/>
<rect class="thn" x="17.8" y="403.4" width="13.2" height="20.8"/>
<rect class="thq" x="30.1" y="403.4" width="13.2" height="20.8"/>
<rect class="thn" x="42.3" y="403.4" width="13.2" height="20.8"/>
<rect class="thp" x="54.6" y="403.4" width="13.2" height="20.8"/>
<rect class="tho" x="66.8" y="403.4" width="13.2" height="20.8"/>
<rect class="thn" x="79" y="403.4" width="13.2" height="20.8"/>
<rect class="thn" x="91.3" y="403.4" width="13.2" height="20.8"/>
<rect class="thn" x="103.5" y="403.4" width="13.2" height="20.8"/>
<rect class="thn" x="115.8" y="403.4" width="20.7" height="20.8"/>
</g>
<g filter="url(#blE)">
<circle class="thr" cx="48.7" cy="342.2" r="2"/>
<circle class="ths" cx="113.9" cy="308.8" r="1.3"/>
<circle class="tht" cx="108.9" cy="402.1" r="1.5"/>
<circle class="thu" cx="113.4" cy="313.5" r="1.6"/>
<circle class="thv" cx="11.1" cy="325.1" r="1.7"/>
<circle class="thw" cx="17.1" cy="311.6" r="1.2"/>
<circle class="thx" cx="105" cy="417" r="1.5"/>
<circle class="tht" cx="56.3" cy="392" r="1.6"/>
<circle class="thy" cx="116.4" cy="381.2" r="1.2"/>
<circle class="thz" cx="66.9" cy="391.3" r="1.8"/>
<circle class="ths" cx="80.9" cy="381.3" r="1.7"/>
<circle class="thw" cx="116.8" cy="334.7" r="1.1"/>
<circle class="tia" cx="94.9" cy="363" r="2"/>
<circle class="tib" cx="10" cy="393.3" r="1.5"/>
<circle class="tic" cx="58" cy="318.8" r="1.1"/>
<circle class="tid" cx="54.9" cy="391.9" r="1.1"/>
<circle class="thr" cx="13.6" cy="351.1" r="1.5"/>
<circle class="tie" cx="98.9" cy="304.4" r="1.1"/>
<circle class="tie" cx="27" cy="376.9" r="2.1"/>
<circle class="tif" cx="90.7" cy="376.8" r="2"/>
<circle class="tig" cx="69" cy="355.5" r="1.2"/>
<circle class="tih" cx="94.1" cy="411" r="1.7"/>
<circle class="tii" cx="88.1" cy="396.2" r="1.3"/>
<circle class="thz" cx="127.6" cy="350.4" r="1.5"/>
<circle class="tij" cx="33.8" cy="343.9" r="1.7"/>
<circle class="tik" cx="16.7" cy="379.4" r="0.9"/>
<circle class="til" cx="94.7" cy="389.5" r="1.4"/>
<circle class="tim" cx="41.5" cy="316.9" r="2"/>
<circle class="tin" cx="115.2" cy="342.3" r="1.5"/>
<circle class="tio" cx="121.2" cy="307.6" r="1.2"/>
<circle class="tip" cx="55.2" cy="305.3" r="1.1"/>
<circle class="tiq" cx="105.2" cy="316.1" r="1.9"/>
<circle class="tid" cx="88.7" cy="354.6" r="2"/>
<circle class="tir" cx="103.2" cy="319.1" r="1.2"/>
<circle class="tie" cx="120.4" cy="314.2" r="1.6"/>
<circle class="thz" cx="77.6" cy="384" r="1.6"/>
<circle class="tis" cx="52.6" cy="313.1" r="1.7"/>
<circle class="tit" cx="23.2" cy="353.2" r="1.5"/>
<circle class="tiq" cx="101" cy="389.7" r="1.4"/>
<circle class="tie" cx="108.6" cy="341.5" r="1.3"/>
<circle class="tic" cx="5.6" cy="340.6" r="1.5"/>
<circle class="tiu" cx="26.1" cy="392.6" r="2"/>
<circle class="thx" cx="45.3" cy="354.6" r="1.5"/>
<circle class="thy" cx="122.7" cy="381.8" r="1.1"/>
<circle class="tiv" cx="7.3" cy="365.6" r="2.1"/>
<circle class="tiw" cx="43.1" cy="303.8" r="1.6"/>
<circle class="ths" cx="14.1" cy="411.1" r="1.5"/>
<circle class="tiv" cx="30" cy="350" r="1.8"/>
<circle class="thx" cx="20.5" cy="318.7" r="1.8"/>
<circle class="tiq" cx="34.7" cy="312.7" r="1"/>
<circle class="thv" cx="78.7" cy="390.5" r="1.5"/>
<circle class="thx" cx="69.1" cy="349.2" r="1.1"/>
<circle class="tix" cx="42.5" cy="338.2" r="1.6"/>
<circle class="thu" cx="106.9" cy="411.1" r="2.1"/>
<circle class="tih" cx="106.2" cy="379.3" r="1.5"/>
<circle class="tit" cx="90.7" cy="352.8" r="1.1"/>
<circle class="tiy" cx="126.7" cy="325.9" r="1.6"/>
<circle class="tie" cx="79.5" cy="392.8" r="2"/>
<circle class="tiz" cx="54.7" cy="343.4" r="2"/>
<circle class="tja" cx="34.8" cy="348.2" r="1.8"/>
<circle class="tii" cx="115.9" cy="386.6" r="1.8"/>
<circle class="tjb" cx="18.1" cy="324.1" r="1.3"/>
<circle class="tiy" cx="17.8" cy="372.4" r="1.6"/>
<circle class="tiy" cx="97.8" cy="405.4" r="1.9"/>
<circle class="tja" cx="115.7" cy="385.2" r="1.5"/>
<circle class="tiy" cx="11.6" cy="412.7" r="2.1"/>
<circle class="tij" cx="113.1" cy="330.3" r="1.9"/>
<circle class="thr" cx="12.4" cy="362.1" r="1.9"/>
<circle class="thz" cx="67.2" cy="416.5" r="0.9"/>
<circle class="tit" cx="21.2" cy="368.4" r="1.2"/>
<circle class="tix" cx="65.3" cy="383.1" r="2.1"/>
<circle class="thr" cx="92.4" cy="384.4" r="1.2"/>
<circle class="tjc" cx="38.7" cy="349.3" r="1.5"/>
<circle class="tik" cx="103.6" cy="338.1" r="2"/>
<circle class="tjd" cx="95" cy="329" r="1.9"/>
<circle class="tjb" cx="27.1" cy="323.6" r="0.9"/>
<circle class="tis" cx="31.3" cy="411.7" r="1.2"/>
<circle class="thz" cx="15.7" cy="331.2" r="1.1"/>
<circle class="tiq" cx="104.2" cy="415.4" r="1.1"/>
<circle class="tje" cx="112.8" cy="316.1" r="1.4"/>
<circle class="thy" cx="124.4" cy="360" r="2"/>
<circle class="tjf" cx="60.5" cy="390.5" r="1.1"/>
<circle class="tiq" cx="66.6" cy="320.4" r="1.6"/>
<circle class="tjg" cx="98.2" cy="339.7" r="1"/>
<circle class="tjh" cx="11" cy="330.8" r="1.2"/>
<circle class="tji" cx="27.7" cy="368.1" r="1.8"/>
<circle class="thy" cx="63.2" cy="393.2" r="1.3"/>
<circle class="tjj" cx="23.8" cy="355.2" r="1.1"/>
<circle class="tiv" cx="126.5" cy="341.7" r="1.9"/>
<circle class="tjh" cx="90.6" cy="345.2" r="1.7"/>
<circle class="tib" cx="55.4" cy="343.9" r="1.9"/>
<circle class="tiq" cx="19" cy="385.6" r="1.3"/>
<circle class="thz" cx="67.1" cy="334.2" r="1.3"/>
<circle class="tjk" cx="89.7" cy="397.3" r="1"/>
<circle class="tjk" cx="35.6" cy="324.9" r="1.1"/>
<circle class="tht" cx="117.7" cy="402.3" r="1.3"/>
<circle class="thx" cx="24.7" cy="400.2" r="1.5"/>
<circle class="tjl" cx="27.2" cy="329" r="1.8"/>
<circle class="tjm" cx="53.8" cy="416.8" r="1.8"/>
<circle class="tjn" cx="61" cy="373.1" r="1.8"/>
<circle class="tif" cx="117.7" cy="353.4" r="1.4"/>
<circle class="thx" cx="53.1" cy="366" r="1.8"/>
<circle class="tjg" cx="17.9" cy="391.2" r="1.6"/>
<circle class="thr" cx="120.8" cy="365.9" r="1.3"/>
<circle class="tiq" cx="74.3" cy="331.6" r="1.1"/>
<circle class="tjf" cx="63.2" cy="396.4" r="2"/>
<circle class="tiy" cx="116" cy="332.3" r="1.3"/>
<circle class="tix" cx="84.7" cy="415" r="1.2"/>
<circle class="tjo" cx="34.6" cy="397.7" r="1.3"/>
<circle class="tiy" cx="43.4" cy="401" r="1"/>
<circle class="tic" cx="51.2" cy="374.9" r="1.1"/>
<circle class="tig" cx="92.2" cy="410.8" r="1.7"/>
<circle class="tid" cx="112.6" cy="373.9" r="1.8"/>
<circle class="tio" cx="114.9" cy="404" r="1.9"/>
<circle class="tiw" cx="118" cy="367.6" r="1.4"/>
<circle class="tir" cx="67.8" cy="318.5" r="1.4"/>
<circle class="thx" cx="56.1" cy="344.4" r="1.4"/>
<circle class="tht" cx="48.1" cy="390.7" r="1.9"/>
<circle class="tja" cx="110.3" cy="374.9" r="1.8"/>
<circle class="tix" cx="99.5" cy="319" r="1.6"/>
<circle class="tiy" cx="70.3" cy="387.5" r="1.2"/>
<circle class="tih" cx="103.4" cy="317" r="1.8"/>
<circle class="ths" cx="121.1" cy="388.5" r="0.9"/>
<circle class="tin" cx="54" cy="333" r="1.2"/>
<circle class="tjd" cx="55.9" cy="403.1" r="1.9"/>
<circle class="tij" cx="104.3" cy="319.7" r="2"/>
<circle class="tja" cx="50.8" cy="377.8" r="1.2"/>
<circle class="tit" cx="22.9" cy="339.8" r="1.8"/>
<circle class="tir" cx="59.2" cy="403.3" r="0.9"/>
<circle class="tjp" cx="71.4" cy="340.1" r="1.5"/>
<circle class="tjd" cx="81.3" cy="391" r="1.5"/>
<circle class="tjq" cx="38.6" cy="343.4" r="1.1"/>
<circle class="tib" cx="46" cy="333.8" r="1"/>
<circle class="tin" cx="116.3" cy="384.4" r="1.4"/>
<circle class="tjr" cx="68.7" cy="365.5" r="1.3"/>
<circle class="tjg" cx="16.3" cy="407.6" r="1.5"/>
<circle class="thr" cx="73.8" cy="361.7" r="1.8"/>
<circle class="tis" cx="22.6" cy="311.2" r="2.1"/>
<circle class="tiy" cx="69.4" cy="353.6" r="1.7"/>
<circle class="tix" cx="9.7" cy="344.9" r="1.7"/>
<circle class="tie" cx="60.1" cy="410.9" r="2"/>
<circle class="tjs" cx="47.4" cy="348.8" r="1"/>
<circle class="tiy" cx="19.5" cy="414.8" r="0.9"/>
<circle class="tit" cx="71.1" cy="393.1" r="1.1"/>
<circle class="thz" cx="118.5" cy="390.5" r="1.2"/>
<circle class="tja" cx="66.5" cy="355.9" r="1.4"/>
<circle class="tir" cx="115.3" cy="393.8" r="1.9"/>
<circle class="thu" cx="129.4" cy="403.7" r="1.9"/>
<circle class="ths" cx="78.2" cy="417.8" r="0.9"/>
<circle class="tiy" cx="112.2" cy="346.4" r="1.9"/>
<circle class="tix" cx="121.9" cy="332.4" r="1.3"/>
<circle class="thw" cx="108.7" cy="362.9" r="1.5"/>
<circle class="tiy" cx="66.7" cy="362.4" r="1.5"/>
<circle class="tjt" cx="117.9" cy="409.3" r="1.3"/>
<circle class="tju" cx="68.1" cy="416.5" r="1.6"/>
<circle class="ths" cx="118.5" cy="335.2" r="1.4"/>
<circle class="tja" cx="27.4" cy="406.4" r="1.1"/>
<circle class="tjk" cx="47.6" cy="346.7" r="2"/>
<circle class="tik" cx="22.7" cy="382.5" r="1.8"/>
<circle class="tif" cx="57.6" cy="389.6" r="1.7"/>
<circle class="thr" cx="110.7" cy="332.4" r="1.7"/>
<circle class="thy" cx="65.6" cy="404.4" r="2"/>
<circle class="tie" cx="112.2" cy="366.4" r="1.9"/>
<circle class="tjj" cx="105.7" cy="350.2" r="1"/>
<circle class="tjo" cx="55.4" cy="370.3" r="2"/>
<circle class="til" cx="123.7" cy="374" r="2"/>
<circle class="tit" cx="100.3" cy="342" r="1.3"/>
<circle class="tiy" cx="96.3" cy="367.8" r="1.5"/>
<circle class="tie" cx="123.6" cy="348.6" r="1.4"/>
<circle class="tix" cx="83.5" cy="320.1" r="1.1"/>
<circle class="tjv" cx="17.3" cy="409.9" r="1.7"/>
<circle class="tic" cx="65.5" cy="400.9" r="1.7"/>
<circle class="tjd" cx="69.7" cy="328.8" r="1.8"/>
<circle class="tjr" cx="36.1" cy="404" r="1.3"/>
<circle class="tit" cx="60.2" cy="413.5" r="1.3"/>
<circle class="tix" cx="70.3" cy="361.4" r="1.6"/>
<circle class="thu" cx="7.7" cy="360" r="1.9"/>
<circle class="tim" cx="58.3" cy="332.6" r="1.4"/>
<circle class="tjw" cx="97.6" cy="328.8" r="1.6"/>
<circle class="tja" cx="88.2" cy="397.8" r="1.8"/>
<circle class="tiy" cx="12.6" cy="384.6" r="1.2"/>
<circle class="tic" cx="115.7" cy="379.6" r="1.1"/>
<circle class="thx" cx="71.6" cy="379.7" r="1.8"/>
<circle class="tir" cx="28.6" cy="341.7" r="1"/>
<circle class="tix" cx="62" cy="354.8" r="2"/>
<circle class="thy" cx="65.6" cy="360.4" r="1.3"/>
<circle class="tig" cx="65.3" cy="318.1" r="2"/>
<circle class="tjx" cx="28.3" cy="366.8" r="1.9"/>
<circle class="tjb" cx="96.2" cy="359.3" r="1.7"/>
<circle class="tix" cx="113.5" cy="318.1" r="1.6"/>
<circle class="tiy" cx="103" cy="366" r="1.3"/>
<circle class="tjy" cx="91.6" cy="325.7" r="0.9"/>
<circle class="tiy" cx="62.8" cy="348.9" r="0.9"/>
<circle class="tie" cx="44.1" cy="315.7" r="1.8"/>
<circle class="thz" cx="66.7" cy="306.9" r="1.5"/>
<circle class="thz" cx="94" cy="317.2" r="1.7"/>
<circle class="tjv" cx="69.8" cy="320" r="1.8"/>
<circle class="tjz" cx="55.5" cy="376.2" r="1.9"/>
<circle class="tiy" cx="68.9" cy="328.2" r="1.1"/>
<circle class="tka" cx="19.3" cy="341.4" r="1"/>
<circle class="tix" cx="84.7" cy="375" r="1.8"/>
<circle class="tkb" cx="78.4" cy="390" r="1.2"/>
<circle class="tjo" cx="57.6" cy="372.6" r="1.8"/>
<circle class="tif" cx="103.3" cy="381.2" r="1.6"/>
<circle class="tio" cx="100.8" cy="417.8" r="1.6"/>
<circle class="tis" cx="35.7" cy="370.5" r="1.9"/>
<circle class="tix" cx="94.5" cy="397.6" r="1.4"/>
<circle class="thy" cx="128" cy="345.6" r="2"/>
<circle class="tjv" cx="34.5" cy="389.8" r="1.6"/>
<circle class="ths" cx="126.5" cy="348.6" r="1.6"/>
<circle class="tit" cx="5.6" cy="328.5" r="1.8"/>
<circle class="tix" cx="104.5" cy="377" r="1.5"/>
<circle class="tin" cx="116.9" cy="357.6" r="2.1"/>
<circle class="tix" cx="71.5" cy="414" r="1.7"/>
<circle class="tib" cx="83.7" cy="376.3" r="1.6"/>
<circle class="tim" cx="48.2" cy="406.5" r="1.6"/>
<circle class="tij" cx="16.4" cy="407.6" r="1"/>
<circle class="thx" cx="103" cy="369.9" r="1.4"/>
<circle class="tjh" cx="96.6" cy="323.1" r="1.7"/>
<circle class="thu" cx="31.5" cy="343.7" r="1.2"/>
<circle class="thu" cx="47" cy="330.1" r="1.5"/>
<circle class="tia" cx="14.5" cy="406.6" r="1.2"/>
<circle class="tjb" cx="111.2" cy="330.7" r="1.3"/>
<circle class="tkc" cx="31.5" cy="404.3" r="1"/>
<circle class="tjl" cx="5.5" cy="330" r="1.6"/>
<circle class="tjr" cx="54.4" cy="357.1" r="1.9"/>
<circle class="tig" cx="122.4" cy="370.9" r="1.3"/>
<circle class="tid" cx="49.8" cy="402.3" r="1.3"/>
<circle class="tip" cx="99.1" cy="384.1" r="1.7"/>
<circle class="tjf" cx="100.1" cy="383.9" r="1.8"/>
<circle class="tiy" cx="18.1" cy="406.5" r="1.8"/>
<circle class="tim" cx="51.9" cy="400.9" r="1.9"/>
<circle class="til" cx="41.5" cy="366.5" r="1.9"/>
<circle class="tid" cx="119.3" cy="346.1" r="1.7"/>
<circle class="tie" cx="43.1" cy="410.2" r="1.4"/>
<circle class="tic" cx="117.4" cy="366.7" r="1.7"/>
<circle class="ths" cx="105.3" cy="370.3" r="1.4"/>
<circle class="tin" cx="101.1" cy="406.7" r="1.9"/>
<circle class="thy" cx="68.8" cy="342.8" r="1.4"/>
<circle class="thy" cx="18.7" cy="405" r="1.2"/>
<circle class="tid" cx="58.4" cy="391.9" r="1.1"/>
<circle class="tjk" cx="25.9" cy="368.9" r="2"/>
<circle class="thz" cx="27" cy="377.4" r="1.4"/>
<circle class="tii" cx="103.4" cy="400.1" r="1.6"/>
<circle class="tig" cx="117.6" cy="309.2" r="1"/>
<circle class="til" cx="16.8" cy="355.1" r="1.8"/>
<circle class="tja" cx="90.6" cy="341.2" r="1.2"/>
<circle class="thz" cx="66.6" cy="342.7" r="1.8"/>
<circle class="tiy" cx="54.2" cy="383.2" r="1.8"/>
<circle class="tjl" cx="18.8" cy="361.6" r="1.9"/>
<circle class="tik" cx="94.8" cy="341.5" r="1.9"/>
<circle class="tjr" cx="52" cy="364.7" r="1.6"/>
<circle class="tjq" cx="34" cy="340.3" r="2"/>
<circle class="tif" cx="128.2" cy="335.8" r="1.9"/>
<circle class="tii" cx="47.8" cy="399.9" r="1.3"/>
<circle class="thy" cx="50.1" cy="355.9" r="1.8"/>
<circle class="tkd" cx="104.4" cy="316.8" r="2"/>
<circle class="tja" cx="129.2" cy="349" r="1.1"/>
<circle class="tiy" cx="106.7" cy="393" r="1.1"/>
<circle class="tja" cx="90.9" cy="395.6" r="1.8"/>
<circle class="tiy" cx="43.1" cy="392.4" r="2"/>
<circle class="tig" cx="106.7" cy="384.2" r="1"/>
<circle class="ths" cx="43.5" cy="392.9" r="1.2"/>
<circle class="tir" cx="33.9" cy="326.6" r="1.9"/>
<circle class="tix" cx="80.6" cy="384.9" r="1.5"/>
<circle class="tja" cx="43.7" cy="402.2" r="1.2"/>
<circle class="tiy" cx="7.4" cy="391.5" r="1.6"/>
<circle class="tiv" cx="116.2" cy="380.4" r="1.8"/>
<circle class="thx" cx="42.2" cy="383.5" r="1.2"/>
<circle class="tjz" cx="104.4" cy="372.6" r="2"/>
<circle class="tii" cx="61.8" cy="319" r="1.8"/>
<circle class="tir" cx="91.1" cy="415.2" r="1.9"/>
<circle class="thy" cx="9.3" cy="311.1" r="1.9"/>
<circle class="tio" cx="38.2" cy="363.5" r="1.1"/>
<circle class="tjy" cx="66.5" cy="411.4" r="1.8"/>
<circle class="thy" cx="99.3" cy="404.4" r="1.3"/>
<circle class="tjm" cx="85.5" cy="382.4" r="2"/>
<circle class="tin" cx="6.9" cy="318.2" r="1.4"/>
<circle class="tji" cx="17" cy="323.8" r="1.6"/>
<circle class="thw" cx="43.9" cy="390" r="1"/>
<circle class="tja" cx="122.3" cy="384.7" r="1.2"/>
<circle class="tin" cx="56.9" cy="412.3" r="1.8"/>
<circle class="tke" cx="4.9" cy="344" r="1"/>
<circle class="tja" cx="38.1" cy="354.6" r="1.4"/>
<circle class="tid" cx="10.2" cy="362.1" r="1"/>
<circle class="tkf" cx="92.3" cy="318.4" r="1.7"/>
<circle class="tig" cx="52" cy="413" r="1.5"/>
<circle class="tix" cx="74.8" cy="379.5" r="1.9"/>
<circle class="tiu" cx="80.9" cy="306.2" r="2.1"/>
<circle class="thr" cx="66.1" cy="375.9" r="1.1"/>
<circle class="tid" cx="75" cy="367.4" r="1.3"/>
<circle class="tic" cx="68.2" cy="328.6" r="1"/>
<circle class="tib" cx="5.1" cy="307.5" r="1.4"/>
<circle class="thr" cx="109.2" cy="400.2" r="1.7"/>
<circle class="tix" cx="95.9" cy="358.8" r="1.8"/>
<circle class="tix" cx="29.5" cy="398.7" r="1"/>
<circle class="tjn" cx="80.7" cy="389.4" r="1.6"/>
<circle class="tiy" cx="53.7" cy="407.2" r="2"/>
<circle class="thx" cx="41.1" cy="365.1" r="1.5"/>
<circle class="tkg" cx="66.6" cy="351" r="1.4"/>
<circle class="tkc" cx="55.6" cy="379.9" r="1"/>
<circle class="tid" cx="117.9" cy="376.4" r="1.7"/>
<circle class="tix" cx="80" cy="341.1" r="1.1"/>
<circle class="tiw" cx="104.1" cy="394" r="1.2"/>
<circle class="tht" cx="19.9" cy="390.7" r="1"/>
<circle class="thv" cx="95.4" cy="314.1" r="1.5"/>
<circle class="tjv" cx="61.7" cy="387" r="2.1"/>
<circle class="tin" cx="62.5" cy="334.2" r="1.7"/>
<circle class="tkd" cx="55.4" cy="403.3" r="1.6"/>
<circle class="tib" cx="82.6" cy="417.2" r="0.9"/>
<circle class="tjm" cx="66.5" cy="403.4" r="1"/>
<circle class="thz" cx="46.6" cy="345" r="1.5"/>
<circle class="thu" cx="31.6" cy="375.1" r="1.4"/>
<circle class="ths" cx="34.7" cy="328.6" r="1.1"/>
<circle class="tib" cx="68.6" cy="311.3" r="1.3"/>
<circle class="thy" cx="50.6" cy="353.5" r="1.5"/>
<circle class="thz" cx="79.2" cy="357" r="1.9"/>
<circle class="tjk" cx="19.6" cy="399.4" r="1.1"/>
<circle class="tih" cx="44.5" cy="318.4" r="2.1"/>
<circle class="tie" cx="19" cy="406" r="1"/>
<circle class="tia" cx="105.3" cy="337.1" r="1.2"/>
<circle class="tix" cx="103.4" cy="309.7" r="1.1"/>
<circle class="tic" cx="102.6" cy="394.6" r="2"/>
<circle class="tid" cx="55.6" cy="344.9" r="1.5"/>
<circle class="thz" cx="58.6" cy="317.5" r="1.2"/>
<circle class="tim" cx="36.1" cy="368.1" r="1"/>
<circle class="tjc" cx="44.2" cy="321.9" r="1.6"/>
<circle class="tix" cx="33.8" cy="360.5" r="1"/>
<circle class="tid" cx="82.7" cy="336.5" r="1.4"/>
<circle class="thz" cx="69.9" cy="352.6" r="1.9"/>
<circle class="thv" cx="83.4" cy="379" r="1.2"/>
<circle class="tji" cx="75.4" cy="391.1" r="1.1"/>
<circle class="thx" cx="21.5" cy="392.9" r="1"/>
<circle class="tim" cx="7.8" cy="402.7" r="1"/>
<circle class="thx" cx="43.9" cy="377.8" r="1.8"/>
<circle class="tib" cx="41.5" cy="307.1" r="1.2"/>
<circle class="tif" cx="124.3" cy="399.7" r="1.3"/>
<circle class="tiq" cx="32.8" cy="316.9" r="1.7"/>
<circle class="tiy" cx="107.3" cy="328.3" r="1"/>
<circle class="tix" cx="76.5" cy="327.6" r="1.7"/>
<circle class="thr" cx="37.1" cy="393.5" r="1.8"/>
<circle class="tie" cx="91.4" cy="338.2" r="1.3"/>
<circle class="tio" cx="4.5" cy="331" r="1.7"/>
<circle class="tir" cx="92.3" cy="414.8" r="1.5"/>
<circle class="tie" cx="16.2" cy="364.7" r="2"/>
<circle class="tin" cx="67.1" cy="344.6" r="1.8"/>
<circle class="tit" cx="19.4" cy="328.6" r="1"/>
<circle class="tie" cx="105.8" cy="411.5" r="1.4"/>
<circle class="tiy" cx="80.2" cy="342.3" r="1.9"/>
<circle class="tkg" cx="68.3" cy="365" r="2"/>
<circle class="tiy" cx="107.5" cy="362.4" r="2"/>
<circle class="tim" cx="81.2" cy="328.8" r="1.7"/>
<circle class="thx" cx="39.9" cy="407.6" r="1.9"/>
<circle class="tht" cx="36.1" cy="305.1" r="1.7"/>
<circle class="tig" cx="11.5" cy="332.7" r="1.2"/>
<circle class="thr" cx="43.6" cy="318.3" r="2"/>
<circle class="thz" cx="69.4" cy="327.1" r="1.2"/>
<circle class="tir" cx="78.2" cy="351.1" r="1.2"/>
<circle class="thz" cx="77.7" cy="307" r="0.9"/>
<circle class="tim" cx="91.7" cy="394.8" r="1.1"/>
<circle class="tjd" cx="91.2" cy="393.1" r="2"/>
<circle class="tih" cx="49.9" cy="403" r="2"/>
<circle class="thz" cx="89.8" cy="402.5" r="1.7"/>
<circle class="tiy" cx="52.6" cy="311.8" r="1.9"/>
<circle class="thw" cx="83.4" cy="396.5" r="1.4"/>
<circle class="tis" cx="128.7" cy="381" r="1.8"/>
<circle class="tjl" cx="62" cy="413" r="1.2"/>
<circle class="tis" cx="6.9" cy="314.4" r="1.5"/>
<circle class="tix" cx="27.7" cy="348.8" r="1.2"/>
<circle class="tih" cx="55.5" cy="397.5" r="1.9"/>
<circle class="tit" cx="5.9" cy="367.6" r="1.6"/>
<circle class="tjr" cx="33.8" cy="391.7" r="1.6"/>
<circle class="ths" cx="121.7" cy="411.6" r="1.5"/>
<circle class="tjd" cx="71.1" cy="333.4" r="1.2"/>
<circle class="tin" cx="53.9" cy="347.4" r="1.4"/>
<circle class="tid" cx="44.3" cy="370" r="1.4"/>
<circle class="tir" cx="110.4" cy="408.6" r="1.4"/>
<circle class="tja" cx="52.7" cy="328.3" r="1.9"/>
<circle class="thv" cx="55.3" cy="416.5" r="0.9"/>
<circle class="thr" cx="55.7" cy="368.5" r="1.3"/>
<circle class="thr" cx="80.9" cy="342.7" r="2"/>
<circle class="tiy" cx="54.1" cy="391.7" r="1.6"/>
<circle class="thx" cx="11.4" cy="413" r="1.6"/>
<circle class="tie" cx="61" cy="368.8" r="1.1"/>
<circle class="tii" cx="123.8" cy="405.4" r="1.6"/>
<circle class="tkh" cx="77.7" cy="389.3" r="1.7"/>
<circle class="tjg" cx="89.6" cy="306.3" r="1.8"/>
<circle class="tjt" cx="102.9" cy="354.3" r="1.7"/>
<circle class="tii" cx="79.2" cy="368.2" r="2"/>
<circle class="tib" cx="79.7" cy="390.6" r="1.5"/>
<circle class="tiy" cx="35.5" cy="353" r="0.9"/>
<circle class="tif" cx="109.7" cy="316" r="1.3"/>
<circle class="tiw" cx="116.9" cy="318.8" r="1.7"/>
<circle class="tki" cx="93.4" cy="316.4" r="1.6"/>
<circle class="tiq" cx="57.2" cy="347.5" r="1.9"/>
<circle class="tir" cx="126.8" cy="361.3" r="1.6"/>
<circle class="tjd" cx="32.9" cy="346.3" r="0.9"/>
<circle class="tjo" cx="36.2" cy="404.5" r="1.1"/>
<circle class="tis" cx="75" cy="319.3" r="1.2"/>
<circle class="thr" cx="75.7" cy="359.4" r="0.9"/>
<circle class="tic" cx="105.9" cy="376.5" r="1.2"/>
<circle class="tie" cx="114.5" cy="361.5" r="0.9"/>
<circle class="tjl" cx="93.8" cy="307.6" r="1.6"/>
<circle class="tjt" cx="67.7" cy="385.1" r="1.8"/>
<circle class="tiu" cx="72.2" cy="402.7" r="1.8"/>
<circle class="tix" cx="74.5" cy="392.7" r="1.3"/>
<circle class="tir" cx="55.3" cy="332.5" r="2"/>
<circle class="thx" cx="129.5" cy="318.5" r="1.2"/>
<circle class="tim" cx="56.9" cy="393.4" r="1.5"/>
<circle class="tjr" cx="55.7" cy="363.1" r="2"/>
<circle class="tjq" cx="10.5" cy="343.5" r="1.9"/>
<circle class="thr" cx="67" cy="378.3" r="1.5"/>
<circle class="thx" cx="61.5" cy="379.6" r="1.8"/>
<circle class="tjg" cx="23.7" cy="327" r="1"/>
<circle class="tjb" cx="21.5" cy="386.4" r="1.6"/>
<circle class="tjx" cx="123.5" cy="340.9" r="1.3"/>
<circle class="tiy" cx="54.3" cy="375.5" r="1.4"/>
<circle class="tju" cx="44.5" cy="331.9" r="2.1"/>
<circle class="thr" cx="73.6" cy="356" r="1.2"/>
<circle class="tiy" cx="38.1" cy="335" r="1.6"/>
<circle class="tkb" cx="32.7" cy="344.6" r="1.3"/>
<circle class="tix" cx="91.5" cy="335.3" r="1.6"/>
<circle class="tie" cx="127.8" cy="361.7" r="1.1"/>
<circle class="tiq" cx="118" cy="313.8" r="1.6"/>
<circle class="tix" cx="31.4" cy="329.2" r="1.5"/>
<circle class="tiw" cx="42.1" cy="308.3" r="2"/>
<circle class="tix" cx="54.3" cy="367.2" r="1"/>
<circle class="tit" cx="23.5" cy="331.3" r="1.1"/>
<circle class="tic" cx="13.7" cy="317.5" r="1.4"/>
<circle class="tii" cx="65.7" cy="315.8" r="2.1"/>
<circle class="tja" cx="65.9" cy="342.4" r="1.7"/>
<circle class="tir" cx="70.8" cy="380.7" r="1.6"/>
<circle class="tis" cx="12.2" cy="331.4" r="1.5"/>
<circle class="tif" cx="29.1" cy="323" r="1"/>
<circle class="tif" cx="90.7" cy="402.7" r="1.2"/>
<circle class="thy" cx="33.4" cy="383.3" r="1"/>
<circle class="tiw" cx="119.2" cy="384.3" r="1.6"/>
<circle class="tis" cx="60.9" cy="304" r="1.8"/>
<circle class="tjm" cx="94.9" cy="342" r="1.7"/>
<circle class="tjb" cx="94.6" cy="364.2" r="2.1"/>
<circle class="tih" cx="41.9" cy="379.6" r="1.9"/>
<circle class="tit" cx="37.5" cy="345.9" r="1.1"/>
<circle class="tjo" cx="62.7" cy="363.3" r="1.8"/>
<circle class="tib" cx="129.5" cy="335.7" r="1.2"/>
<circle class="tij" cx="21.4" cy="386.7" r="1.3"/>
<circle class="tja" cx="32.1" cy="409.3" r="1.7"/>
<circle class="tio" cx="109.8" cy="307.5" r="1.1"/>
<circle class="tim" cx="56.4" cy="348.2" r="0.9"/>
<circle class="thx" cx="83.8" cy="316.8" r="1.7"/>
<circle class="tja" cx="80.2" cy="370" r="0.9"/>
<circle class="tid" cx="102.1" cy="406.9" r="1.3"/>
<circle class="tix" cx="32.1" cy="366.5" r="1"/>
<circle class="til" cx="41.8" cy="354.5" r="1"/>
<circle class="tib" cx="90.9" cy="403.4" r="1.1"/>
<circle class="thr" cx="43.2" cy="369.8" r="1.1"/>
<circle class="tix" cx="114.1" cy="351.5" r="2"/>
<circle class="tja" cx="74.7" cy="327.2" r="1.9"/>
<circle class="tjf" cx="110.8" cy="341.4" r="1.7"/>
<circle class="tke" cx="9.4" cy="413.7" r="1.1"/>
<circle class="tin" cx="19.5" cy="332.5" r="1.5"/>
<circle class="tjb" cx="30.4" cy="342.9" r="1.3"/>
<circle class="tiu" cx="80.7" cy="316.7" r="1.6"/>
<circle class="tjr" cx="31.5" cy="392.9" r="1.5"/>
<circle class="tkf" cx="6.9" cy="380.7" r="1.8"/>
<circle class="tkj" cx="79.2" cy="398.9" r="0.9"/>
<circle class="tin" cx="38.6" cy="307.8" r="1.4"/>
<circle class="thx" cx="81.4" cy="326.8" r="1.2"/>
<circle class="tio" cx="70.7" cy="326.9" r="1"/>
<circle class="tiy" cx="124.3" cy="397.9" r="1.3"/>
<circle class="thy" cx="120.1" cy="398.4" r="1.4"/>
<circle class="tkk" cx="17.3" cy="346.1" r="1.4"/>
<circle class="tjf" cx="79.1" cy="325.9" r="1.8"/>
<circle class="thy" cx="25.8" cy="317" r="1.5"/>
<circle class="tjf" cx="104.1" cy="381.7" r="1.5"/>
<circle class="tjz" cx="82.7" cy="410.5" r="1.3"/>
<circle class="tja" cx="126.5" cy="336.8" r="1.7"/>
<circle class="tiq" cx="119.7" cy="347.1" r="1"/>
<circle class="tiy" cx="75.9" cy="381.5" r="1.7"/>
<circle class="tio" cx="70.1" cy="315.6" r="1.6"/>
<circle class="tik" cx="21.6" cy="383.9" r="1"/>
<circle class="tix" cx="30.8" cy="351.2" r="1.5"/>
<circle class="tic" cx="43.9" cy="388" r="1.9"/>
<circle class="tjn" cx="42.8" cy="400.4" r="2.1"/>
<circle class="tii" cx="35.3" cy="372.8" r="1.1"/>
<circle class="thx" cx="54.9" cy="381.8" r="1.7"/>
<circle class="thz" cx="67.9" cy="311.7" r="1.9"/>
<circle class="tjm" cx="85" cy="377.4" r="2"/>
<circle class="tiy" cx="17.2" cy="364.1" r="1"/>
<circle class="tin" cx="111.7" cy="415" r="1.3"/>
<circle class="tjb" cx="85.5" cy="324.4" r="1.6"/>
<circle class="tic" cx="114.6" cy="348.5" r="1.5"/>
<circle class="til" cx="8.8" cy="392.6" r="1.8"/>
<circle class="til" cx="80.1" cy="341.8" r="1.2"/>
<circle class="tjv" cx="7.7" cy="388.6" r="1.9"/>
<circle class="thx" cx="80.2" cy="392.7" r="1.7"/>
<circle class="tjo" cx="19.6" cy="395.2" r="2.1"/>
<circle class="tkf" cx="105.8" cy="321.1" r="1.6"/>
<circle class="tie" cx="65.5" cy="380.9" r="1.7"/>
<circle class="thw" cx="129.3" cy="329.2" r="1.8"/>
<circle class="tja" cx="43.3" cy="330.5" r="1.2"/>
<circle class="tkl" cx="90.4" cy="400.8" r="1.3"/>
<circle class="tib" cx="116.4" cy="340.7" r="1.7"/>
<circle class="til" cx="64" cy="400.3" r="1.3"/>
<circle class="tja" cx="64.5" cy="363" r="1.9"/>
<circle class="tjo" cx="25.2" cy="394" r="2"/>
<circle class="tim" cx="117.3" cy="351.8" r="1"/>
<circle class="tjs" cx="95" cy="376" r="1.2"/>
<circle class="thu" cx="86.1" cy="409.3" r="1.5"/>
<circle class="tie" cx="26.7" cy="383.7" r="1.5"/>
<circle class="tiv" cx="71.9" cy="354.6" r="1.2"/>
<circle class="thx" cx="29.1" cy="377.6" r="1.4"/>
<circle class="tid" cx="108.7" cy="330.8" r="1.3"/>
<circle class="tic" cx="43.9" cy="361.5" r="1"/>
<circle class="tht" cx="6.4" cy="392.9" r="1.9"/>
<circle class="tir" cx="53.8" cy="343.4" r="1.6"/>
<circle class="tja" cx="43.2" cy="303.9" r="1.9"/>
<circle class="tkj" cx="18.9" cy="327.9" r="1.5"/>
<circle class="tix" cx="115.4" cy="394.9" r="1.7"/>
<circle class="tjb" cx="74" cy="416.4" r="2"/>
<circle class="ths" cx="32.2" cy="400.3" r="2.1"/>
<circle class="tiq" cx="51.6" cy="335.3" r="1.1"/>
<circle class="tiy" cx="128.3" cy="332" r="1.8"/>
<circle class="tht" cx="17.2" cy="391.6" r="1.5"/>
<circle class="thr" cx="64.8" cy="366.1" r="1.9"/>
<circle class="tie" cx="117.3" cy="393.5" r="2.1"/>
<circle class="tiz" cx="40.7" cy="330.3" r="1.9"/>
<circle class="thv" cx="66.9" cy="331.5" r="1.7"/>
<circle class="tia" cx="89.6" cy="315" r="1.3"/>
<circle class="tib" cx="115.8" cy="323.7" r="2"/>
<circle class="thy" cx="8.3" cy="338.1" r="1.8"/>
<circle class="tix" cx="66.6" cy="350.7" r="1.7"/>
<circle class="tiy" cx="114.6" cy="406.3" r="1.1"/>
<circle class="tix" cx="129.9" cy="402.9" r="1.1"/>
<circle class="ths" cx="74.8" cy="354.9" r="1.4"/>
<circle class="tib" cx="9.8" cy="318.2" r="1.6"/>
<circle class="thr" cx="102" cy="328.4" r="1.2"/>
<circle class="tjd" cx="36.9" cy="352.1" r="2"/>
<circle class="thr" cx="78.8" cy="385.9" r="1.9"/>
<circle class="tir" cx="70.6" cy="316.1" r="1.1"/>
<circle class="tit" cx="13.3" cy="326" r="1.8"/>
<circle class="tja" cx="104.9" cy="399.3" r="2.1"/>
<circle class="tjo" cx="48.5" cy="378.9" r="0.9"/>
<circle class="tjh" cx="53.3" cy="411.8" r="1.4"/>
<circle class="tin" cx="115.3" cy="378.6" r="1.9"/>
<circle class="ths" cx="43.1" cy="362.5" r="1.3"/>
<circle class="thx" cx="20.4" cy="352" r="1.8"/>
<circle class="tjr" cx="69.2" cy="381.5" r="1.4"/>
<circle class="tix" cx="58.1" cy="392.9" r="1.8"/>
<circle class="tie" cx="44.8" cy="360.3" r="1.8"/>
<circle class="tkm" cx="86.5" cy="307.8" r="1.6"/>
<circle class="thz" cx="11.7" cy="360.8" r="2.1"/>
<circle class="tic" cx="99.8" cy="367.3" r="1"/>
<circle class="tik" cx="90.5" cy="320.1" r="2.1"/>
<circle class="tht" cx="118.1" cy="342.7" r="1.9"/>
<circle class="tii" cx="108.8" cy="365" r="1.3"/>
<circle class="tjn" cx="45.5" cy="360.9" r="1.1"/>
<circle class="tjf" cx="112.2" cy="340.9" r="1.7"/>
<circle class="tiv" cx="110.8" cy="377.3" r="0.9"/>
<circle class="thx" cx="116.6" cy="339.8" r="1.6"/>
<circle class="tig" cx="118.2" cy="374.4" r="1.7"/>
<circle class="tih" cx="90.7" cy="379.5" r="2"/>
<circle class="tix" cx="78.5" cy="320.7" r="2.1"/>
<circle class="thr" cx="41.4" cy="417.6" r="1"/>
<circle class="thy" cx="115.8" cy="356.1" r="1.2"/>
<circle class="tht" cx="110" cy="357.1" r="1.3"/>
<circle class="tid" cx="26" cy="348.7" r="1.7"/>
<circle class="tih" cx="54.6" cy="311.2" r="1.9"/>
<circle class="tim" cx="49.7" cy="404.7" r="0.9"/>
<circle class="tkl" cx="26.8" cy="349.1" r="1.5"/>
<circle class="tkn" cx="57.7" cy="366.6" r="1.3"/>
<circle class="thr" cx="65.9" cy="334.3" r="1.2"/>
<circle class="tjd" cx="27.5" cy="354.6" r="1.6"/>
<circle class="ths" cx="120.4" cy="332.6" r="1.6"/>
<circle class="tic" cx="26" cy="348.1" r="1.7"/>
<circle class="tix" cx="103.3" cy="375.8" r="1.7"/>
<circle class="thx" cx="77.6" cy="378.2" r="1"/>
<circle class="tih" cx="13.3" cy="343.6" r="1.6"/>
<circle class="tja" cx="104.8" cy="347.8" r="1"/>
<circle class="tiy" cx="80.7" cy="396.9" r="1.4"/>
<circle class="thz" cx="103.1" cy="391.2" r="2.1"/>
<circle class="tji" cx="100.7" cy="318.7" r="1.1"/>
<circle class="tjk" cx="118.4" cy="402.1" r="1.3"/>
<circle class="tir" cx="42.5" cy="330" r="1.1"/>
<circle class="tii" cx="128.8" cy="415.7" r="1.6"/>
<circle class="tif" cx="111.5" cy="414.1" r="1.4"/>
<circle class="tix" cx="76.4" cy="355.2" r="1.6"/>
<circle class="tir" cx="23.3" cy="352.2" r="1.7"/>
<circle class="tir" cx="67.3" cy="347.8" r="0.9"/>
<circle class="tja" cx="105.5" cy="304" r="1.9"/>
<circle class="tjt" cx="31.9" cy="414.1" r="1"/>
<circle class="tie" cx="39.7" cy="365" r="0.9"/>
<circle class="tip" cx="115.1" cy="398.9" r="2"/>
<circle class="tir" cx="110.6" cy="399.8" r="0.9"/>
<circle class="tjn" cx="30.9" cy="400.4" r="2"/>
<circle class="tir" cx="18.5" cy="378.6" r="1.5"/>
<circle class="tiw" cx="50.6" cy="370.9" r="0.9"/>
<circle class="tid" cx="92.6" cy="404.3" r="1.1"/>
<circle class="tie" cx="125.4" cy="321.9" r="1.5"/>
<circle class="tji" cx="95.8" cy="348.6" r="1.4"/>
<circle class="til" cx="80.8" cy="366.2" r="1.1"/>
<circle class="tkd" cx="19.5" cy="334.1" r="1.5"/>
<circle class="tis" cx="59.2" cy="313.6" r="1.3"/>
<circle class="tjb" cx="19.7" cy="405.9" r="1.7"/>
<circle class="tix" cx="124.1" cy="372.6" r="1.3"/>
<circle class="tjk" cx="79.9" cy="364.6" r="1.8"/>
<circle class="til" cx="90.6" cy="376.6" r="0.9"/>
<circle class="tib" cx="86.5" cy="369.5" r="1.7"/>
<circle class="tja" cx="105.5" cy="402.2" r="1.8"/>
<circle class="tij" cx="95.3" cy="330.6" r="2"/>
<circle class="tix" cx="34.3" cy="394.6" r="0.9"/>
<circle class="tic" cx="16.3" cy="386" r="1.4"/>
<circle class="tiy" cx="62.3" cy="353.6" r="1.5"/>
<circle class="tiw" cx="54.7" cy="393" r="1.6"/>
<circle class="tix" cx="44" cy="392.2" r="1.9"/>
<circle class="tii" cx="115.9" cy="326.1" r="2"/>
<circle class="tkf" cx="11.3" cy="378.7" r="2.1"/>
<circle class="tjn" cx="72" cy="379.9" r="1.2"/>
<circle class="tiq" cx="41.4" cy="318" r="1.3"/>
<circle class="tkf" cx="71.5" cy="329.7" r="1.6"/>
<circle class="tix" cx="108" cy="342.6" r="1.8"/>
<circle class="tij" cx="105.5" cy="356.4" r="1.1"/>
<circle class="tin" cx="16.5" cy="371.3" r="2.1"/>
<circle class="thw" cx="7.2" cy="380.4" r="1.9"/>
<circle class="tka" cx="27.4" cy="378.5" r="1.8"/>
<circle class="tko" cx="10.4" cy="370.9" r="1.4"/>
<circle class="thr" cx="99" cy="366" r="1.4"/>
<circle class="thu" cx="95.9" cy="391.1" r="1"/>
<circle class="tjh" cx="77.2" cy="333.3" r="1.1"/>
<circle class="tjx" cx="100.4" cy="371.9" r="1.6"/>
<circle class="tja" cx="53.8" cy="400.4" r="1.7"/>
<circle class="tka" cx="18.8" cy="407.5" r="1.1"/>
<circle class="tjz" cx="106.2" cy="343.4" r="1.2"/>
<circle class="thx" cx="19.3" cy="391" r="1.7"/>
<circle class="thz" cx="39.4" cy="306.3" r="1.9"/>
<circle class="tim" cx="74.6" cy="329.6" r="1.5"/>
<circle class="tko" cx="71.5" cy="400.9" r="1.6"/>
<circle class="thv" cx="46.2" cy="331.6" r="2"/>
<circle class="thx" cx="122.9" cy="317.9" r="1.4"/>
<circle class="tig" cx="41.6" cy="369.1" r="1.5"/>
<circle class="tir" cx="49.8" cy="315.8" r="2"/>
<circle class="tjx" cx="20" cy="342.2" r="1.1"/>
<circle class="tiq" cx="31.6" cy="406.4" r="1.1"/>
<circle class="ths" cx="64.6" cy="379.5" r="1.9"/>
<circle class="thz" cx="125.9" cy="362.8" r="1.7"/>
<circle class="tjy" cx="66.6" cy="399.9" r="1"/>
<circle class="tiq" cx="52.8" cy="315.2" r="1.5"/>
<circle class="tkp" cx="128.5" cy="390.9" r="1"/>
<circle class="tit" cx="27.8" cy="360.2" r="2"/>
<circle class="tih" cx="116.7" cy="351.5" r="1.2"/>
<circle class="tkf" cx="19.8" cy="321.5" r="1.2"/>
<circle class="tkp" cx="33.3" cy="384.8" r="2.1"/>
<circle class="tiv" cx="105.6" cy="377.5" r="2.1"/>
<circle class="thr" cx="30.2" cy="306.2" r="1.6"/>
<circle class="thz" cx="30.2" cy="348.4" r="1.8"/>
<circle class="thy" cx="55.5" cy="306.1" r="0.9"/>
<circle class="tkp" cx="116" cy="405" r="1.6"/>
<circle class="tix" cx="70.1" cy="359.3" r="1.8"/>
<circle class="tif" cx="18.6" cy="337.5" r="2.1"/>
<circle class="tiq" cx="24.4" cy="306.9" r="1.1"/>
<circle class="tid" cx="52.9" cy="313.8" r="1.4"/>
<circle class="tiv" cx="17.5" cy="369.4" r="1.8"/>
<circle class="tib" cx="107.3" cy="368.5" r="1.8"/>
<circle class="tin" cx="121" cy="404.4" r="1.6"/>
<circle class="ths" cx="102.3" cy="340.7" r="1.7"/>
<circle class="ths" cx="41.6" cy="354.3" r="1.2"/>
<circle class="tiy" cx="118.3" cy="375.5" r="1.9"/>
<circle class="thz" cx="31.1" cy="349.8" r="1.3"/>
<circle class="ths" cx="108.2" cy="350.1" r="2"/>
<circle class="tix" cx="70.5" cy="345.2" r="1.5"/>
<circle class="tid" cx="113.1" cy="316.7" r="1.5"/>
<circle class="tka" cx="66.2" cy="412.3" r="1.2"/>
<circle class="thv" cx="103.2" cy="315.9" r="1.5"/>
<circle class="tiy" cx="109.1" cy="390" r="1.1"/>
<circle class="tje" cx="96.5" cy="340.8" r="2.1"/>
<circle class="tio" cx="120" cy="310.1" r="1.3"/>
<circle class="tig" cx="90.3" cy="354.5" r="1.3"/>
<circle class="tim" cx="37" cy="360.5" r="1.9"/>
<circle class="ths" cx="20" cy="304.5" r="1.6"/>
<circle class="tih" cx="102.3" cy="370.4" r="2"/>
<circle class="tiy" cx="129.8" cy="364.5" r="2"/>
<circle class="tib" cx="92.9" cy="415.4" r="1.3"/>
<circle class="tki" cx="18.9" cy="320.5" r="1.1"/>
<circle class="thz" cx="49.1" cy="388.8" r="2"/>
<circle class="ths" cx="64.9" cy="366" r="1.9"/>
<circle class="tjn" cx="56" cy="368.6" r="1.6"/>
<circle class="tib" cx="44.5" cy="303.5" r="1.3"/>
<circle class="thu" cx="30.1" cy="327.1" r="1.8"/>
<circle class="ths" cx="115.4" cy="329.7" r="1.5"/>
<circle class="tji" cx="15.3" cy="318" r="1"/>
<circle class="tjr" cx="66" cy="365.9" r="1.7"/>
<circle class="thz" cx="98.7" cy="320" r="1.9"/>
<circle class="tin" cx="103" cy="368.1" r="0.9"/>
<circle class="til" cx="35.2" cy="364.8" r="1.3"/>
<circle class="tja" cx="46.7" cy="374.5" r="1.6"/>
<circle class="tiw" cx="67.8" cy="323.2" r="1.9"/>
<circle class="tkd" cx="54.8" cy="412.2" r="1.8"/>
<circle class="tjs" cx="98.6" cy="382.6" r="2.1"/>
<circle class="tjc" cx="23.1" cy="333.9" r="1.1"/>
<circle class="tiq" cx="19.8" cy="399" r="0.9"/>
<circle class="tix" cx="104.2" cy="368.3" r="1.5"/>
<circle class="tij" cx="13.5" cy="352.8" r="0.9"/>
<circle class="tio" cx="7.6" cy="358.2" r="2"/>
<circle class="tie" cx="71" cy="372.5" r="1.7"/>
<circle class="tjy" cx="103.1" cy="347.5" r="0.9"/>
<circle class="tjb" cx="89.3" cy="323.2" r="1.6"/>
<circle class="tiz" cx="119.9" cy="412.9" r="1.1"/>
<circle class="tix" cx="29.2" cy="411.9" r="1.4"/>
<circle class="thu" cx="41" cy="403.7" r="1.7"/>
<circle class="tih" cx="39.7" cy="314.8" r="1.4"/>
<circle class="tjd" cx="102.6" cy="311" r="1.8"/>
<circle class="tio" cx="6.2" cy="338.6" r="0.9"/>
<circle class="tid" cx="59.8" cy="390.7" r="1.2"/>
<circle class="tin" cx="67" cy="323.8" r="1.3"/>
<circle class="tib" cx="81.3" cy="364.8" r="1.6"/>
<circle class="tis" cx="88" cy="406.9" r="0.9"/>
<circle class="tjz" cx="10.3" cy="354.4" r="2"/>
<circle class="tji" cx="53.6" cy="322.9" r="1.1"/>
<circle class="tiy" cx="6.5" cy="354.1" r="1.9"/>
<circle class="tjq" cx="24.3" cy="316.2" r="1.9"/>
<circle class="tiq" cx="92.6" cy="386.7" r="1.1"/>
<circle class="tit" cx="22.3" cy="343.1" r="1.4"/>
<circle class="tja" cx="13.2" cy="354.6" r="2"/>
<circle class="tjr" cx="77.1" cy="386.8" r="1.5"/>
<circle class="thz" cx="33" cy="351.8" r="1.1"/>
<circle class="tir" cx="43" cy="326.5" r="1.7"/>
<circle class="thz" cx="22.4" cy="325.3" r="2"/>
<circle class="tiq" cx="106.7" cy="386.7" r="2.1"/>
<circle class="tkp" cx="111.3" cy="394.4" r="1.3"/>
<circle class="tih" cx="79.1" cy="400" r="1.6"/>
<circle class="tiw" cx="100.8" cy="378.1" r="1.6"/>
<circle class="thr" cx="56.1" cy="366.1" r="1.4"/>
<circle class="tjf" cx="34.2" cy="370.8" r="1"/>
<circle class="tid" cx="8.1" cy="378.8" r="1.6"/>
<circle class="tie" cx="128.4" cy="396.7" r="1.5"/>
<circle class="tiy" cx="55" cy="370.2" r="1.5"/>
<circle class="tib" cx="117.8" cy="365.8" r="1.9"/>
<circle class="tig" cx="8" cy="389.2" r="2"/>
<circle class="tit" cx="10" cy="379.7" r="1.8"/>
<circle class="tji" cx="29.7" cy="341.1" r="1.4"/>
<circle class="tkg" cx="46.7" cy="365.2" r="1.1"/>
<circle class="thr" cx="47.2" cy="354.4" r="1"/>
<circle class="tjf" cx="122.4" cy="336.1" r="1.9"/>
<circle class="tja" cx="8.8" cy="376.9" r="1.6"/>
<circle class="thy" cx="110.1" cy="340.6" r="1.8"/>
<circle class="tih" cx="60.8" cy="391.5" r="0.9"/>
<circle class="tie" cx="79.7" cy="377.2" r="1.7"/>
<circle class="tix" cx="68.1" cy="341" r="1.7"/>
<circle class="tja" cx="74" cy="353.9" r="2.1"/>
<circle class="tja" cx="71.5" cy="340.4" r="1.3"/>
<circle class="tjk" cx="116.8" cy="350.1" r="2.1"/>
<circle class="tin" cx="22.7" cy="309.8" r="1"/>
<circle class="thu" cx="86.1" cy="416.5" r="1.4"/>
<circle class="tja" cx="30.8" cy="394.6" r="1.2"/>
<circle class="tkq" cx="77.5" cy="403.1" r="1.2"/>
<circle class="tid" cx="92.8" cy="408.8" r="1.3"/>
<circle class="tih" cx="116.4" cy="391.3" r="1.9"/>
<circle class="til" cx="46.1" cy="397.8" r="1.6"/>
<circle class="tic" cx="128.9" cy="384.4" r="2.1"/>
<circle class="tim" cx="91.7" cy="357.1" r="1"/>
<circle class="tix" cx="73.8" cy="405.1" r="1.2"/>
<circle class="tjt" cx="115.4" cy="382" r="1.9"/>
<circle class="ths" cx="22.7" cy="408.8" r="1.9"/>
<circle class="thz" cx="6.9" cy="379" r="1.8"/>
<circle class="tju" cx="4.7" cy="344.6" r="1.2"/>
<circle class="tjb" cx="81.7" cy="322.2" r="2"/>
<circle class="tiq" cx="129.9" cy="314.3" r="1.1"/>
<circle class="tkl" cx="85.3" cy="343.9" r="1.8"/>
<circle class="tiq" cx="41.4" cy="365.2" r="1.1"/>
<circle class="tht" cx="80.3" cy="406.2" r="1.4"/>
<circle class="tiy" cx="51.7" cy="355.5" r="1"/>
<circle class="tiu" cx="97.2" cy="340.7" r="1.9"/>
<circle class="tio" cx="96.7" cy="401.6" r="1.9"/>
<circle class="tiy" cx="18.6" cy="304.9" r="0.9"/>
<circle class="tjk" cx="18.8" cy="379.6" r="1.6"/>
<circle class="tim" cx="54.8" cy="375.7" r="1.6"/>
<circle class="tjc" cx="21.6" cy="335.3" r="1.1"/>
<circle class="tiz" cx="31.6" cy="366.4" r="1.6"/>
<circle class="thr" cx="31.5" cy="309.3" r="1.2"/>
<circle class="tkf" cx="21.5" cy="360.6" r="0.9"/>
<circle class="tid" cx="30.9" cy="366" r="0.9"/>
<circle class="tin" cx="120.1" cy="328.6" r="1.9"/>
<circle class="tid" cx="57.1" cy="390.9" r="1.9"/>
<circle class="tiv" cx="19" cy="317.6" r="1.3"/>
<circle class="tja" cx="117.9" cy="330.7" r="1"/>
<circle class="tix" cx="22.5" cy="380.3" r="2"/>
<circle class="tib" cx="28.7" cy="410.3" r="1.8"/>
<circle class="tiq" cx="6.7" cy="316.5" r="2"/>
<circle class="tiq" cx="123.6" cy="316.2" r="1.7"/>
<circle class="tie" cx="43.1" cy="402.6" r="2"/>
<circle class="tjk" cx="129.9" cy="347.1" r="1.1"/>
<circle class="thw" cx="125.6" cy="405.8" r="1.6"/>
<circle class="tiy" cx="16.6" cy="327.3" r="1.9"/>
<circle class="tjb" cx="18.5" cy="331.4" r="1.8"/>
<circle class="thr" cx="39.9" cy="405.1" r="1.5"/>
<circle class="tiq" cx="61.5" cy="318.3" r="1"/>
<circle class="tjf" cx="105.4" cy="377.6" r="1.8"/>
<circle class="thr" cx="74.7" cy="408.7" r="1.5"/>
<circle class="thr" cx="55.2" cy="376" r="1.7"/>
<circle class="tju" cx="13.2" cy="352.9" r="1.3"/>
<circle class="thz" cx="101.7" cy="349.6" r="2"/>
<circle class="tiq" cx="119.3" cy="316.5" r="1.3"/>
<circle class="tit" cx="54.6" cy="417.4" r="1.1"/>
<circle class="tid" cx="93" cy="415.9" r="1.9"/>
<circle class="thy" cx="54.6" cy="348.2" r="2"/>
<circle class="tjz" cx="45.7" cy="305.9" r="1.6"/>
<circle class="tkq" cx="53.1" cy="327.8" r="1.5"/>
<circle class="tjy" cx="32.4" cy="336.6" r="1.8"/>
<circle class="thx" cx="8" cy="341.2" r="1.7"/>
<circle class="tin" cx="48.7" cy="404.4" r="1.2"/>
<circle class="tip" cx="13.1" cy="333.7" r="1.4"/>
<circle class="tid" cx="49.9" cy="411.2" r="0.9"/>
<circle class="thr" cx="41.7" cy="378.9" r="1.2"/>
<circle class="tkm" cx="103.8" cy="328.7" r="1.3"/>
<circle class="tin" cx="15.9" cy="309.8" r="1.7"/>
<circle class="tjt" cx="24.5" cy="318.5" r="1.7"/>
<circle class="tiq" cx="29.1" cy="330" r="2.1"/>
<circle class="thr" cx="29.7" cy="316.4" r="1.6"/>
<circle class="tkp" cx="55" cy="367.6" r="1.1"/>
<circle class="tjz" cx="47.3" cy="376.1" r="1.6"/>
<circle class="ths" cx="126.6" cy="317.1" r="2.1"/>
<circle class="tie" cx="32" cy="402.4" r="1.9"/>
<circle class="thu" cx="51.6" cy="328.6" r="2.1"/>
<circle class="tjk" cx="55.1" cy="346" r="1.8"/>
<circle class="tke" cx="75.9" cy="417.8" r="1.2"/>
<circle class="tko" cx="32.3" cy="360.2" r="1.3"/>
<circle class="tji" cx="44.4" cy="345.7" r="1.7"/>
<circle class="tko" cx="21.2" cy="333.5" r="1.9"/>
<circle class="tiy" cx="71.2" cy="411.4" r="1"/>
<circle class="tis" cx="14.5" cy="356.3" r="1.8"/>
<circle class="thu" cx="20.2" cy="379.9" r="1.7"/>
<circle class="tir" cx="53.7" cy="405.2" r="1"/>
<circle class="tiy" cx="53.2" cy="334.2" r="1.9"/>
<circle class="tjv" cx="44.1" cy="307" r="1.9"/>
<circle class="tja" cx="6.8" cy="304.5" r="1.8"/>
<circle class="tib" cx="31.6" cy="384.1" r="1.2"/>
<circle class="tim" cx="110.1" cy="329.8" r="1.9"/>
<circle class="tim" cx="115.5" cy="350.2" r="1"/>
<circle class="tjh" cx="79.8" cy="404.9" r="1.1"/>
<circle class="tka" cx="79.7" cy="318.6" r="1"/>
<circle class="tik" cx="105.7" cy="357.9" r="2"/>
<circle class="thr" cx="50.6" cy="380.1" r="1.6"/>
<circle class="tiy" cx="57.2" cy="381.8" r="1.5"/>
<circle class="tif" cx="44.3" cy="409.8" r="0.9"/>
<circle class="thr" cx="54.9" cy="391.6" r="1.3"/>
<circle class="tie" cx="107.7" cy="311" r="1.2"/>
<circle class="tht" cx="76.8" cy="331.6" r="1.3"/>
<circle class="tik" cx="91.7" cy="318" r="1.8"/>
<circle class="ths" cx="43.3" cy="399" r="1.5"/>
<circle class="tjk" cx="11.3" cy="389.8" r="1.9"/>
<circle class="tiy" cx="92.1" cy="334.3" r="1.7"/>
<circle class="thu" cx="108.8" cy="411.3" r="1.6"/>
<circle class="tiv" cx="95.2" cy="368.1" r="1.2"/>
<circle class="thz" cx="106.4" cy="328.2" r="1.7"/>
<circle class="tja" cx="72.6" cy="376.9" r="1.8"/>
<circle class="tjb" cx="23.3" cy="388.6" r="1.8"/>
<circle class="tix" cx="24.2" cy="375.2" r="1.2"/>
<circle class="tiv" cx="88.7" cy="355.7" r="1.6"/>
<circle class="thx" cx="71.5" cy="368.9" r="1.7"/>
<circle class="tid" cx="98.8" cy="394.5" r="1.9"/>
<circle class="thr" cx="49.5" cy="367.9" r="1.1"/>
<circle class="tjf" cx="112.2" cy="311.8" r="1.5"/>
<circle class="tiy" cx="125.7" cy="326.9" r="2.1"/>
<circle class="tjb" cx="32" cy="386" r="1.4"/>
<circle class="tka" cx="10.3" cy="410.4" r="1.1"/>
<circle class="tjo" cx="46.9" cy="379.8" r="1.6"/>
<circle class="thx" cx="111" cy="316.6" r="1.7"/>
<circle class="ths" cx="80" cy="392.3" r="0.9"/>
<circle class="thy" cx="113.9" cy="378.2" r="2.1"/>
<circle class="ths" cx="106" cy="371.2" r="1.1"/>
<circle class="tjp" cx="11.3" cy="368.3" r="1.7"/>
<circle class="tja" cx="92.6" cy="359.7" r="2.1"/>
<circle class="tji" cx="71.6" cy="400.3" r="1.3"/>
<circle class="tix" cx="91.3" cy="393.4" r="1.1"/>
<circle class="tko" cx="69.7" cy="336.9" r="1.2"/>
<circle class="tjk" cx="22" cy="415.1" r="1.7"/>
<circle class="tip" cx="104.3" cy="329" r="1.4"/>
<circle class="thx" cx="55.5" cy="364.4" r="1.2"/>
<circle class="tka" cx="99.8" cy="355.2" r="2.1"/>
<circle class="ths" cx="114.7" cy="335.7" r="2.1"/>
<circle class="tin" cx="67.9" cy="336.9" r="1.6"/>
<circle class="tjh" cx="18.5" cy="328.4" r="1.2"/>
<circle class="tkk" cx="23.6" cy="321.4" r="1.2"/>
<circle class="tja" cx="83.8" cy="367.7" r="1.2"/>
<circle class="thz" cx="73.1" cy="379.7" r="1.7"/>
<circle class="tim" cx="22.7" cy="308.3" r="1.3"/>
<circle class="tjf" cx="128.1" cy="416.6" r="2.1"/>
<circle class="thr" cx="19.8" cy="397.3" r="1.8"/>
<circle class="tim" cx="92.3" cy="405.3" r="1.7"/>
<circle class="thr" cx="118" cy="403.8" r="1.8"/>
<circle class="tjw" cx="93.1" cy="304" r="1.7"/>
<circle class="tko" cx="28.3" cy="366" r="1.6"/>
<circle class="tji" cx="67.7" cy="339.7" r="1.7"/>
<circle class="tie" cx="92.9" cy="337.1" r="1.1"/>
<circle class="tiz" cx="123.9" cy="404.9" r="1"/>
<circle class="thy" cx="90.7" cy="392.2" r="1.3"/>
<circle class="tir" cx="121.5" cy="372.4" r="1.6"/>
<circle class="tio" cx="116.2" cy="390.9" r="1.1"/>
<circle class="tkh" cx="60.6" cy="416.4" r="1.8"/>
<circle class="tiq" cx="96.2" cy="376.6" r="1"/>
<circle class="thr" cx="17.3" cy="381.7" r="1.8"/>
<circle class="tiu" cx="31" cy="327.8" r="1.3"/>
<circle class="tig" cx="66.7" cy="379.3" r="0.9"/>
<circle class="tja" cx="105.4" cy="370.2" r="2.1"/>
<circle class="tjo" cx="78.6" cy="380.7" r="1.1"/>
<circle class="tim" cx="92.9" cy="342.3" r="1.7"/>
<circle class="tja" cx="100.6" cy="307.4" r="1.5"/>
<circle class="tkb" cx="68.2" cy="379.3" r="1.4"/>
<circle class="tjh" cx="31.5" cy="339.2" r="1.8"/>
<circle class="tjx" cx="66.4" cy="359.1" r="1.6"/>
<circle class="tjl" cx="71.3" cy="338.3" r="1.5"/>
<circle class="thw" cx="129.4" cy="345.9" r="1.8"/>
<circle class="tid" cx="94.3" cy="411.1" r="2"/>
<circle class="tiv" cx="5.4" cy="362.9" r="1.8"/>
<circle class="tjf" cx="127.4" cy="367.6" r="1.2"/>
<circle class="tjt" cx="112.3" cy="353" r="2"/>
<circle class="tio" cx="79.8" cy="309.5" r="1.8"/>
<circle class="ths" cx="115.7" cy="309.4" r="1.9"/>
<circle class="tiz" cx="117.3" cy="320.4" r="1.5"/>
<circle class="thz" cx="21.7" cy="402.6" r="1.5"/>
<circle class="tic" cx="56.3" cy="417.5" r="1.5"/>
<circle class="thy" cx="36.4" cy="311.3" r="1.4"/>
<circle class="tht" cx="88.6" cy="375.5" r="1.7"/>
<circle class="ths" cx="56.3" cy="370.8" r="1.9"/>
<circle class="tid" cx="68.5" cy="331.6" r="2"/>
<circle class="tjx" cx="51.6" cy="345.9" r="1.4"/>
<circle class="tid" cx="12.3" cy="385.7" r="1.7"/>
<circle class="thr" cx="129" cy="342.2" r="1.1"/>
<circle class="tid" cx="83.8" cy="355.3" r="1.1"/>
<circle class="tjy" cx="85.9" cy="389.8" r="1.7"/>
<circle class="ths" cx="43.1" cy="329.8" r="1"/>
<circle class="tiy" cx="23.4" cy="366.2" r="1.7"/>
<circle class="tin" cx="46.6" cy="400.8" r="2"/>
<circle class="tii" cx="59.1" cy="342.4" r="1"/>
<circle class="tht" cx="59.1" cy="346.3" r="1.2"/>
<circle class="tjd" cx="23.9" cy="333.4" r="1.3"/>
<circle class="thu" cx="93.4" cy="351.4" r="1.2"/>
<circle class="tix" cx="81.3" cy="332.1" r="2"/>
<circle class="til" cx="119.9" cy="412.4" r="1.5"/>
<circle class="tin" cx="81.6" cy="351" r="1.9"/>
<circle class="tib" cx="67.9" cy="337" r="1.5"/>
<circle class="thr" cx="119.2" cy="352.4" r="1.8"/>
<circle class="til" cx="103.1" cy="350" r="1.1"/>
<circle class="tie" cx="84.5" cy="317.9" r="0.9"/>
<circle class="tin" cx="129" cy="332.3" r="1.7"/>
<circle class="tiy" cx="54.6" cy="352.9" r="1.5"/>
<circle class="tin" cx="22.3" cy="370.2" r="1"/>
<circle class="tkq" cx="88.6" cy="389.9" r="2"/>
<circle class="tib" cx="99.1" cy="397.3" r="1"/>
<circle class="tik" cx="71.3" cy="407.3" r="1.8"/>
<circle class="thz" cx="116.6" cy="353.6" r="2.1"/>
<circle class="tjt" cx="69.1" cy="307.1" r="1.5"/>
<circle class="tiy" cx="18.2" cy="415.9" r="1.1"/>
<circle class="tkh" cx="70.4" cy="351.4" r="2.1"/>
<circle class="tie" cx="114.5" cy="324.8" r="2"/>
<circle class="tix" cx="29" cy="328.3" r="2"/>
<circle class="tiq" cx="125.6" cy="383.9" r="1.4"/>
<circle class="ths" cx="115.7" cy="343.2" r="2"/>
<circle class="tko" cx="74.6" cy="396.6" r="0.9"/>
<circle class="tjj" cx="56.2" cy="417.9" r="1"/>
<circle class="tis" cx="65.1" cy="342.6" r="1.8"/>
<circle class="tjd" cx="42.7" cy="340.8" r="1.4"/>
<circle class="thu" cx="41.9" cy="320.6" r="1.5"/>
<circle class="tig" cx="115.7" cy="402.5" r="1.9"/>
<circle class="tjy" cx="54.9" cy="417.4" r="1.1"/>
<circle class="tjn" cx="80.9" cy="365.8" r="2"/>
<circle class="tic" cx="92.2" cy="396.7" r="1.5"/>
<circle class="tjh" cx="98.5" cy="326.2" r="1.9"/>
<circle class="tjf" cx="91.4" cy="358.3" r="1.5"/>
<circle class="tir" cx="49" cy="315.9" r="1.3"/>
<circle class="thu" cx="86.8" cy="328.8" r="1.2"/>
<circle class="tiy" cx="11.1" cy="322.3" r="1.2"/>
<circle class="tko" cx="51.3" cy="327.9" r="1"/>
<circle class="tie" cx="16.8" cy="399.1" r="1.8"/>
<circle class="tjh" cx="20.5" cy="336.1" r="1.2"/>
<circle class="tkh" cx="20.4" cy="334.2" r="2.1"/>
<circle class="tie" cx="56.6" cy="334.1" r="1.7"/>
<circle class="tjm" cx="31.7" cy="347.7" r="1"/>
<circle class="tji" cx="70.4" cy="341.2" r="2"/>
<circle class="tix" cx="98.7" cy="364.4" r="1.7"/>
<circle class="ths" cx="42.6" cy="378" r="2"/>
<circle class="tkd" cx="101.6" cy="322.7" r="1.6"/>
<circle class="ths" cx="56.8" cy="371.6" r="1"/>
<circle class="tib" cx="8.2" cy="394.8" r="1.6"/>
<circle class="tip" cx="6.5" cy="384.2" r="1.3"/>
<circle class="ths" cx="92.5" cy="305.6" r="1.7"/>
<circle class="thv" cx="96.8" cy="331.4" r="2"/>
<circle class="tjj" cx="9.9" cy="322" r="1.2"/>
<circle class="tip" cx="31.9" cy="308.3" r="1.5"/>
<circle class="tkf" cx="19.8" cy="375.2" r="1.6"/>
<circle class="tin" cx="123.3" cy="398.6" r="1.3"/>
<circle class="tie" cx="51.9" cy="341.6" r="0.9"/>
<circle class="tjh" cx="60.6" cy="413" r="1.8"/>
<circle class="til" cx="121.5" cy="353.5" r="1.1"/>
<circle class="tkp" cx="5.1" cy="365.7" r="1.8"/>
<circle class="tim" cx="29.1" cy="373.5" r="2"/>
<circle class="thw" cx="41.9" cy="320" r="1.7"/>
<circle class="thz" cx="92.6" cy="344.4" r="1.9"/>
<circle class="ths" cx="96.6" cy="416" r="1.1"/>
<circle class="tix" cx="110.5" cy="369.8" r="1.4"/>
<circle class="tjf" cx="23.2" cy="342.6" r="2.1"/>
<circle class="tix" cx="25" cy="380.5" r="2"/>
<circle class="tix" cx="28.1" cy="389.9" r="1.7"/>
<circle class="tjo" cx="22.7" cy="395.5" r="1.3"/>
<circle class="tir" cx="22.5" cy="386.3" r="1.4"/>
<circle class="thr" cx="31.1" cy="318.2" r="1.6"/>
<circle class="tju" cx="9.1" cy="343.2" r="1.8"/>
<circle class="ths" cx="28.8" cy="391.2" r="1.6"/>
<circle class="tim" cx="112.8" cy="399.6" r="2"/>
<circle class="tjz" cx="9.2" cy="395.7" r="1.6"/>
<circle class="thx" cx="126.6" cy="331" r="1.7"/>
<circle class="tit" cx="54.8" cy="327.6" r="1.1"/>
<circle class="tid" cx="53.4" cy="373.5" r="1.2"/>
<circle class="tka" cx="103.2" cy="342.2" r="1.6"/>
<circle class="tix" cx="51.9" cy="363.2" r="1.1"/>
<circle class="tja" cx="54.7" cy="388.7" r="0.9"/>
<circle class="tjt" cx="43.6" cy="417.3" r="1.1"/>
<circle class="tib" cx="99.8" cy="375.8" r="1.7"/>
<circle class="tiq" cx="126" cy="386.3" r="1.9"/>
<circle class="tiy" cx="78.4" cy="390.2" r="1.2"/>
<circle class="tjy" cx="32.1" cy="342" r="1"/>
<circle class="tiy" cx="98.5" cy="354.4" r="1"/>
<circle class="tht" cx="108.7" cy="409.2" r="1.4"/>
<circle class="thr" cx="125.4" cy="381.9" r="1.5"/>
<circle class="tic" cx="80.6" cy="415.9" r="1.4"/>
<circle class="ths" cx="128.4" cy="307.6" r="1.7"/>
<circle class="tiw" cx="127.9" cy="378.6" r="0.9"/>
<circle class="thu" cx="109" cy="391.3" r="2"/>
<circle class="tie" cx="63.2" cy="368.8" r="1"/>
<circle class="tiq" cx="102.8" cy="360.3" r="1.5"/>
<circle class="tir" cx="79.1" cy="413.2" r="1"/>
<circle class="ths" cx="43.6" cy="416" r="1.6"/>
<circle class="tjl" cx="78.7" cy="399.3" r="1.5"/>
<circle class="thr" cx="20.2" cy="347.2" r="1.4"/>
<circle class="tja" cx="99" cy="397.6" r="1.7"/>
<circle class="tiy" cx="17.7" cy="364.3" r="0.9"/>
<circle class="thz" cx="81.9" cy="331" r="1.4"/>
<circle class="tkq" cx="72.6" cy="335.6" r="1.4"/>
<circle class="tix" cx="16.6" cy="362.4" r="1.3"/>
<circle class="thz" cx="59.3" cy="345.7" r="1.9"/>
<circle class="tid" cx="69.7" cy="318" r="1"/>
<circle class="thx" cx="120.3" cy="399.3" r="2"/>
<circle class="tir" cx="75.6" cy="403.9" r="1.4"/>
<circle class="tiy" cx="44.2" cy="369.3" r="1.7"/>
<circle class="tic" cx="61.7" cy="341.9" r="1.2"/>
<circle class="tio" cx="46.6" cy="400.8" r="2"/>
<circle class="tjh" cx="90.2" cy="344.9" r="1"/>
<circle class="ths" cx="89.7" cy="402.2" r="1.4"/>
<circle class="tjf" cx="30.3" cy="352.2" r="1.6"/>
<circle class="tht" cx="92.8" cy="407.6" r="1.9"/>
<circle class="tjb" cx="104.4" cy="323.2" r="1.7"/>
<circle class="tix" cx="101.5" cy="334.3" r="1.9"/>
<circle class="tic" cx="60.7" cy="384.7" r="1.1"/>
<circle class="tim" cx="16.7" cy="314.3" r="0.9"/>
<circle class="tiy" cx="102.8" cy="358.6" r="1.2"/>
<circle class="ths" cx="24.3" cy="312.5" r="1"/>
<circle class="tir" cx="85.1" cy="410.4" r="1.3"/>
<circle class="tjh" cx="80.8" cy="398.4" r="1.5"/>
<circle class="tix" cx="31.4" cy="404.1" r="1"/>
<circle class="thr" cx="61.4" cy="377.5" r="1.8"/>
<circle class="tio" cx="30.6" cy="323.6" r="1"/>
<circle class="tip" cx="35.4" cy="384.3" r="1"/>
<circle class="tja" cx="40.5" cy="391" r="1.9"/>
<circle class="tjr" cx="80.5" cy="375.4" r="1.3"/>
<circle class="tjx" cx="41.6" cy="338.3" r="1.2"/>
<circle class="tja" cx="58.3" cy="357.3" r="1.1"/>
<circle class="tin" cx="119.4" cy="367.8" r="1"/>
<circle class="tkp" cx="41.9" cy="314.3" r="1.6"/>
<circle class="thw" cx="122.6" cy="343.9" r="1.4"/>
<circle class="tjd" cx="18" cy="371.1" r="1.4"/>
<circle class="tiq" cx="46.3" cy="353" r="1.9"/>
<circle class="thx" cx="106.6" cy="354.6" r="1.3"/>
<circle class="tjt" cx="120" cy="343.1" r="1.5"/>
<circle class="tjg" cx="29.3" cy="329.3" r="1.9"/>
<circle class="tia" cx="31.3" cy="317.7" r="1.8"/>
<circle class="tjs" cx="52.3" cy="406.2" r="1.6"/>
<circle class="ths" cx="67" cy="344.9" r="1.2"/>
<circle class="thz" cx="42.4" cy="353.6" r="1.9"/>
<circle class="tij" cx="42.2" cy="339" r="1.8"/>
<circle class="thv" cx="56.4" cy="328.9" r="1"/>
<circle class="thz" cx="71.7" cy="320.8" r="0.9"/>
<circle class="thz" cx="18.2" cy="343" r="1.9"/>
<circle class="tja" cx="43.6" cy="412.3" r="1.1"/>
<circle class="tib" cx="33.2" cy="360.3" r="1.9"/>
<circle class="tjw" cx="85" cy="314.5" r="1.1"/>
<circle class="tir" cx="4.9" cy="319.3" r="2"/>
<circle class="tja" cx="63.7" cy="319.5" r="1.8"/>
<circle class="tiq" cx="108.9" cy="364.8" r="1.5"/>
<circle class="thx" cx="111.2" cy="316.6" r="1.1"/>
<circle class="tji" cx="100.4" cy="342.1" r="1.3"/>
<circle class="tju" cx="26.7" cy="317.3" r="1.7"/>
<circle class="thx" cx="31.5" cy="402.2" r="1.1"/>
<circle class="tir" cx="6.6" cy="403.9" r="1.6"/>
<circle class="tix" cx="93.8" cy="398.9" r="1.1"/>
<circle class="tix" cx="76" cy="392.6" r="1.9"/>
<circle class="thz" cx="30" cy="382.9" r="1.1"/>
<circle class="ths" cx="17" cy="391.5" r="1.6"/>
<circle class="tka" cx="8.7" cy="406.4" r="1.9"/>
<circle class="tkf" cx="102.5" cy="350.3" r="2"/>
<circle class="thz" cx="75.2" cy="413.4" r="1.5"/>
<circle class="tir" cx="61.8" cy="395.5" r="1.9"/>
<circle class="til" cx="72.5" cy="363.4" r="1.7"/>
<circle class="tif" cx="76.6" cy="316.7" r="1.2"/>
<circle class="tju" cx="115.1" cy="326.8" r="2.1"/>
<circle class="tib" cx="34.1" cy="307.7" r="1.3"/>
<circle class="tja" cx="44.3" cy="355.5" r="1.1"/>
<circle class="tii" cx="107.4" cy="357.8" r="1.9"/>
<circle class="tij" cx="31.6" cy="391.7" r="1.4"/>
<circle class="thx" cx="113.5" cy="317.9" r="1.2"/>
<circle class="tjy" cx="79.8" cy="389.7" r="1.8"/>
<circle class="tji" cx="10.5" cy="321.8" r="1.1"/>
<circle class="tie" cx="65.8" cy="357.3" r="1.9"/>
<circle class="thz" cx="55.8" cy="357.9" r="0.9"/>
<circle class="thr" cx="123.1" cy="408.1" r="1.7"/>
<circle class="tka" cx="94.9" cy="334.5" r="2.1"/>
<circle class="tjb" cx="93.6" cy="322.3" r="1.6"/>
<circle class="thu" cx="92.1" cy="342.3" r="1.6"/>
<circle class="tir" cx="46.3" cy="334.2" r="1.6"/>
<circle class="tin" cx="112.5" cy="377.2" r="2"/>
<circle class="tiy" cx="66.7" cy="317.6" r="1.3"/>
<circle class="tkl" cx="43.3" cy="370.2" r="1"/>
<circle class="tit" cx="76.5" cy="340.6" r="1"/>
<circle class="tie" cx="103.3" cy="350.7" r="1.1"/>
<circle class="tif" cx="129.4" cy="338.5" r="2.1"/>
<circle class="thx" cx="116.6" cy="318" r="1.5"/>
<circle class="thv" cx="29.7" cy="361.3" r="1.4"/>
<circle class="tiq" cx="13.3" cy="338.5" r="1.6"/>
<circle class="tkp" cx="106.7" cy="410.5" r="1.6"/>
<circle class="tio" cx="85.9" cy="343.4" r="1.8"/>
<circle class="tid" cx="62.1" cy="391.1" r="1.3"/>
<circle class="tii" cx="43" cy="366.6" r="1.5"/>
<circle class="tiq" cx="104.7" cy="386.3" r="1.8"/>
<circle class="tio" cx="109.2" cy="332.8" r="1.6"/>
<circle class="tid" cx="115.7" cy="402.5" r="1.4"/>
<circle class="tkf" cx="93.6" cy="321.3" r="1.2"/>
<circle class="tir" cx="46.5" cy="349.9" r="1.9"/>
<circle class="tjz" cx="4.8" cy="366.9" r="1.4"/>
<circle class="tji" cx="79.8" cy="392.5" r="1.9"/>
<circle class="thz" cx="99.5" cy="401.1" r="1.7"/>
<circle class="ths" cx="122.2" cy="371.3" r="1.4"/>
<circle class="tix" cx="65.2" cy="318.3" r="1.6"/>
<circle class="tik" cx="92.1" cy="319.2" r="1.4"/>
<circle class="tjl" cx="18.6" cy="325.9" r="1"/>
<circle class="tix" cx="58.6" cy="383.2" r="1"/>
<circle class="tib" cx="109.1" cy="368" r="1"/>
<circle class="tkh" cx="40.9" cy="402" r="1.3"/>
<circle class="tir" cx="54.3" cy="319.5" r="2"/>
<circle class="tir" cx="43" cy="341.7" r="1.1"/>
<circle class="thy" cx="79.5" cy="307.6" r="1.5"/>
<circle class="tjt" cx="60.5" cy="333" r="1.3"/>
<circle class="tiv" cx="71.3" cy="305.6" r="2"/>
<circle class="thr" cx="44.1" cy="415.1" r="1.7"/>
<circle class="tis" cx="124" cy="380.2" r="1.5"/>
<circle class="thz" cx="69.3" cy="385.1" r="1.8"/>
<circle class="tiq" cx="66.6" cy="308.6" r="1.6"/>
<circle class="tic" cx="41.9" cy="303.9" r="1.7"/>
<circle class="tix" cx="19.3" cy="405.3" r="0.9"/>
<circle class="tih" cx="117.2" cy="382" r="1.2"/>
<circle class="tin" cx="64.3" cy="310" r="2"/>
<circle class="thx" cx="26.5" cy="402.8" r="1.8"/>
<circle class="tio" cx="29.3" cy="353.4" r="1.7"/>
<circle class="tkl" cx="84" cy="355.3" r="1.4"/>
<circle class="thx" cx="32.1" cy="384.5" r="1.4"/>
<circle class="tih" cx="26.3" cy="308.6" r="1"/>
<circle class="tjt" cx="5.5" cy="306.5" r="1.9"/>
<circle class="tjg" cx="4.6" cy="415.5" r="0.9"/>
<circle class="tir" cx="29.9" cy="310.3" r="2.1"/>
<circle class="tjo" cx="67.1" cy="352.3" r="1"/>
<circle class="tkl" cx="112" cy="410.2" r="1.3"/>
<circle class="thz" cx="73.7" cy="417.2" r="1.6"/>
<circle class="tih" cx="12.4" cy="395.5" r="1.8"/>
<circle class="thz" cx="130.1" cy="320.6" r="1.8"/>
<circle class="thr" cx="44.9" cy="396.3" r="1.1"/>
<circle class="tii" cx="11.5" cy="343.8" r="1.5"/>
<circle class="tkb" cx="5.2" cy="372" r="1.3"/>
<circle class="thr" cx="127.4" cy="405.5" r="1.6"/>
<circle class="tir" cx="19.9" cy="345.2" r="1.9"/>
<circle class="tiq" cx="64.7" cy="311.9" r="1.3"/>
<circle class="tiv" cx="88.4" cy="341.2" r="1.2"/>
<circle class="tie" cx="96.1" cy="403.6" r="1.2"/>
<circle class="tie" cx="128.6" cy="350.5" r="1.7"/>
<circle class="til" cx="127.7" cy="367.9" r="1.4"/>
<circle class="tkl" cx="28.3" cy="344.5" r="1.6"/>
<circle class="tjf" cx="13.4" cy="308.5" r="1"/>
<circle class="thu" cx="62.6" cy="348.5" r="1.7"/>
<circle class="tig" cx="36.5" cy="327" r="1.6"/>
<circle class="tht" cx="90.7" cy="355.8" r="1.2"/>
<circle class="tjp" cx="20.4" cy="333.9" r="1.4"/>
<circle class="tir" cx="93.5" cy="367.9" r="1.7"/>
<circle class="tik" cx="6.6" cy="350.4" r="1"/>
<circle class="tir" cx="79.1" cy="408.3" r="2"/>
<circle class="ths" cx="74.3" cy="375.5" r="2"/>
<circle class="thx" cx="70.7" cy="384.3" r="0.9"/>
<circle class="tkh" cx="77" cy="404.7" r="1.1"/>
<circle class="tij" cx="74.8" cy="411.5" r="1.5"/>
<circle class="tis" cx="94.7" cy="368.4" r="0.9"/>
<circle class="tih" cx="87.6" cy="341.3" r="1.7"/>
<circle class="tjk" cx="40.8" cy="314.1" r="1.7"/>
<circle class="tin" cx="96.7" cy="403.3" r="1.2"/>
<circle class="tiy" cx="88.2" cy="365.4" r="1.5"/>
<circle class="tir" cx="43.5" cy="416.3" r="1.9"/>
<circle class="tib" cx="107.2" cy="316.8" r="1.9"/>
<circle class="tjq" cx="109.1" cy="327.8" r="1.8"/>
<circle class="tjt" cx="103.9" cy="335.3" r="1.9"/>
<circle class="tjb" cx="9.6" cy="409.6" r="1.7"/>
<circle class="tiy" cx="30.9" cy="381" r="1.5"/>
<circle class="tjx" cx="56.5" cy="311.3" r="1.2"/>
<circle class="tih" cx="105" cy="341.2" r="2"/>
<circle class="tji" cx="7.1" cy="373.3" r="1.6"/>
<circle class="tix" cx="4.6" cy="356.1" r="1.6"/>
<circle class="tik" cx="73.3" cy="417.4" r="1.6"/>
<circle class="tjx" cx="38" cy="353.3" r="2"/>
<circle class="thz" cx="19.3" cy="400.2" r="1.2"/>
<circle class="tkn" cx="52.4" cy="388.6" r="1"/>
<circle class="tiv" cx="66.8" cy="342.7" r="1.6"/>
<circle class="tib" cx="44.5" cy="393.5" r="1.2"/>
<circle class="tjt" cx="102.6" cy="417.8" r="1.4"/>
<circle class="thz" cx="8.6" cy="394.8" r="1.4"/>
<circle class="tif" cx="51.7" cy="371.5" r="1.9"/>
<circle class="tih" cx="10.3" cy="340" r="1"/>
<circle class="tih" cx="80.8" cy="358.6" r="0.9"/>
<circle class="thz" cx="28.4" cy="360.2" r="1.6"/>
<circle class="tjq" cx="79.3" cy="318" r="1"/>
<circle class="tjs" cx="53.3" cy="342.5" r="1.1"/>
<circle class="thu" cx="97.4" cy="390.5" r="1.8"/>
<circle class="tkp" cx="106.9" cy="353.4" r="1.7"/>
<circle class="tid" cx="81.7" cy="358.4" r="1.4"/>
<circle class="tjx" cx="119.9" cy="306.2" r="1.4"/>
<circle class="tix" cx="55.2" cy="358.4" r="1.2"/>
<circle class="tij" cx="73.6" cy="414.7" r="1"/>
<circle class="tjd" cx="85.3" cy="391" r="2"/>
<circle class="ths" cx="30.7" cy="415.1" r="1.2"/>
<circle class="tix" cx="98" cy="316.1" r="1.7"/>
<circle class="tiw" cx="47.8" cy="356.2" r="1.6"/>
<circle class="tiw" cx="120.5" cy="368.2" r="1.8"/>
<circle class="tko" cx="45.5" cy="327.6" r="1.2"/>
<circle class="thz" cx="103.4" cy="407.9" r="2"/>
<circle class="thw" cx="78.2" cy="364.9" r="1.5"/>
<circle class="tiy" cx="29" cy="311.4" r="1.6"/>
<circle class="ths" cx="51.8" cy="387.4" r="1"/>
<circle class="tja" cx="54.7" cy="358.1" r="1.8"/>
<circle class="tin" cx="63.9" cy="330.4" r="1.4"/>
<circle class="tir" cx="33.1" cy="369.2" r="1.3"/>
<circle class="tja" cx="125.1" cy="378.3" r="1.5"/>
<circle class="thw" cx="20.1" cy="393.3" r="1.4"/>
<circle class="thx" cx="91.9" cy="358.2" r="1"/>
<circle class="ths" cx="86.8" cy="368.1" r="2"/>
<circle class="thr" cx="76" cy="380.4" r="1.8"/>
<circle class="tir" cx="41.9" cy="375.8" r="2.1"/>
<circle class="tjh" cx="96.5" cy="313.7" r="1.9"/>
<circle class="tie" cx="120" cy="357.5" r="1.8"/>
<circle class="tie" cx="90.3" cy="338" r="1.8"/>
<circle class="thy" cx="61.8" cy="322.7" r="1.2"/>
<circle class="tkm" cx="103" cy="330.2" r="1.2"/>
<circle class="ths" cx="105.6" cy="373.6" r="1.1"/>
<circle class="thz" cx="17.2" cy="334.5" r="1.8"/>
<circle class="tip" cx="15.4" cy="399" r="1.6"/>
<circle class="tif" cx="37" cy="382.5" r="1.2"/>
<circle class="tiw" cx="53.4" cy="386.4" r="1.4"/>
<circle class="tix" cx="73.8" cy="326.1" r="1.3"/>
<circle class="tiz" cx="91.3" cy="403.6" r="1.9"/>
<circle class="tiw" cx="108.1" cy="351.5" r="1.5"/>
<circle class="tiq" cx="55.6" cy="410.9" r="1.3"/>
<circle class="thy" cx="129.9" cy="416.2" r="1.4"/>
<circle class="tja" cx="47.7" cy="404.9" r="1.5"/>
<circle class="thz" cx="105.3" cy="345.7" r="1.6"/>
<circle class="thx" cx="25.3" cy="395.5" r="1.1"/>
<circle class="tju" cx="20.4" cy="330.1" r="1.7"/>
<circle class="thw" cx="113.1" cy="393.9" r="1.9"/>
<circle class="tiq" cx="61.5" cy="380.9" r="1.8"/>
<circle class="ths" cx="34.1" cy="339.8" r="1"/>
<circle class="thx" cx="45" cy="340.7" r="0.9"/>
<circle class="tis" cx="29.2" cy="405.8" r="1.7"/>
<circle class="tjh" cx="47.8" cy="328" r="1.4"/>
<circle class="tir" cx="100.1" cy="405.3" r="1.2"/>
<circle class="tin" cx="93.5" cy="378.4" r="2.1"/>
<circle class="tix" cx="17.5" cy="416.6" r="2"/>
<circle class="tin" cx="18.1" cy="313.7" r="1.1"/>
<circle class="tkf" cx="79.7" cy="380.6" r="1"/>
<circle class="thz" cx="95" cy="396.4" r="1.6"/>
<circle class="tiy" cx="64.8" cy="367.1" r="1.7"/>
<circle class="tiq" cx="89.3" cy="376.7" r="2"/>
<circle class="thx" cx="71.8" cy="370.3" r="2.1"/>
<circle class="tkp" cx="10.8" cy="331.5" r="1.5"/>
<circle class="thr" cx="68.4" cy="319.9" r="1.1"/>
<circle class="thz" cx="35.7" cy="410.5" r="2"/>
<circle class="tjz" cx="47.2" cy="374.3" r="1.1"/>
<circle class="thr" cx="113.8" cy="304.2" r="1.6"/>
<circle class="tjf" cx="82.8" cy="343.1" r="1.7"/>
<circle class="tiv" cx="109.6" cy="371.5" r="1.6"/>
<circle class="tjk" cx="116" cy="365.4" r="1.3"/>
<circle class="tip" cx="48.8" cy="412.8" r="0.9"/>
<circle class="tjh" cx="73.5" cy="394.7" r="1.7"/>
<circle class="tig" cx="65.8" cy="328.7" r="1"/>
<circle class="ths" cx="58.9" cy="347.7" r="1.9"/>
<circle class="tiy" cx="44.2" cy="380.3" r="1.5"/>
<circle class="tiq" cx="53.8" cy="330.8" r="1.7"/>
<circle class="thy" cx="88.2" cy="331" r="1.3"/>
<circle class="tib" cx="117.9" cy="312.9" r="1.6"/>
<circle class="thw" cx="101.3" cy="392.7" r="2.1"/>
<circle class="tjh" cx="49.8" cy="320.3" r="1.3"/>
<circle class="thu" cx="80.7" cy="354" r="1.6"/>
<circle class="tkl" cx="51.4" cy="404.4" r="2.1"/>
<circle class="thx" cx="28.3" cy="315.5" r="1.5"/>
<circle class="tht" cx="69.8" cy="314.2" r="1"/>
<circle class="thx" cx="68.9" cy="368.8" r="2.1"/>
<circle class="tjs" cx="30.1" cy="307.1" r="1.6"/>
<circle class="tkm" cx="30.3" cy="390.5" r="2.1"/>
<circle class="tid" cx="84" cy="354.3" r="1.9"/>
<circle class="tic" cx="20.1" cy="311.3" r="1.6"/>
<circle class="thu" cx="92.5" cy="400.3" r="1.1"/>
<circle class="tjv" cx="65.1" cy="402" r="1.1"/>
<circle class="tik" cx="92" cy="343.2" r="2.1"/>
<circle class="tix" cx="105.6" cy="323.4" r="1.4"/>
<circle class="tib" cx="47.1" cy="407.3" r="2.1"/>
<circle class="tja" cx="92.5" cy="412.2" r="1.9"/>
<circle class="thv" cx="19.1" cy="370.2" r="1.8"/>
<circle class="tjz" cx="63.2" cy="312.9" r="1.9"/>
<circle class="tje" cx="88.3" cy="320.1" r="1.2"/>
<circle class="ths" cx="50" cy="391.5" r="1.6"/>
<circle class="thu" cx="20.5" cy="318.7" r="1.7"/>
<circle class="thu" cx="105.7" cy="400.7" r="1.7"/>
<circle class="tiq" cx="106.2" cy="368.1" r="1.4"/>
<circle class="tij" cx="31.3" cy="343.7" r="0.9"/>
<circle class="tjq" cx="99.3" cy="360.2" r="0.9"/>
<circle class="tit" cx="29.5" cy="357" r="1"/>
<circle class="tix" cx="73.5" cy="371.8" r="1.8"/>
<circle class="tie" cx="119.5" cy="372.9" r="2.1"/>
<circle class="tkq" cx="93.9" cy="327.4" r="2"/>
<circle class="tka" cx="97.7" cy="368" r="1.4"/>
<circle class="thz" cx="32" cy="399" r="2"/>
<circle class="tij" cx="30.2" cy="336" r="1.4"/>
<circle class="tir" cx="22.8" cy="417.5" r="1.9"/>
<circle class="tht" cx="57.5" cy="335" r="1.9"/>
<circle class="tiy" cx="115.1" cy="354.5" r="1.2"/>
<circle class="thz" cx="18.2" cy="304.6" r="1.9"/>
<circle class="tjz" cx="92.3" cy="359.9" r="1.3"/>
<circle class="tiy" cx="4.7" cy="343.2" r="1.8"/>
<circle class="tib" cx="103.1" cy="415.5" r="1.4"/>
<circle class="tiy" cx="67.6" cy="303.4" r="1.4"/>
<circle class="tic" cx="29.1" cy="303.5" r="1"/>
<circle class="tjh" cx="32.3" cy="331.6" r="1.9"/>
<circle class="tii" cx="77.9" cy="325.6" r="1"/>
<circle class="thx" cx="80.7" cy="330.6" r="1.2"/>
<circle class="tkf" cx="16.4" cy="376.6" r="1.9"/>
<circle class="thz" cx="90.7" cy="317.9" r="0.9"/>
<circle class="tie" cx="80" cy="409.6" r="1.1"/>
<circle class="tiu" cx="111.6" cy="327.4" r="2"/>
<circle class="tji" cx="22.8" cy="335" r="1.5"/>
<circle class="tim" cx="41.6" cy="337" r="2.1"/>
<circle class="tkj" cx="52.8" cy="326" r="1.7"/>
<circle class="til" cx="28.3" cy="412.5" r="2.1"/>
<circle class="tjh" cx="92.1" cy="327.8" r="1.9"/>
<circle class="tjh" cx="19.7" cy="333.3" r="1.6"/>
<circle class="tja" cx="67.8" cy="353.4" r="0.9"/>
<circle class="tju" cx="105" cy="328.4" r="1"/>
<circle class="tjt" cx="54.6" cy="327.3" r="2"/>
<circle class="tif" cx="99.7" cy="379.3" r="1.8"/>
<circle class="tih" cx="30.8" cy="309.2" r="1.3"/>
<circle class="tii" cx="87" cy="352.3" r="1.7"/>
<circle class="tjc" cx="92.3" cy="392.3" r="1.5"/>
<circle class="thr" cx="94" cy="381.2" r="1"/>
<circle class="thr" cx="102.2" cy="413.8" r="1.9"/>
<circle class="thr" cx="124" cy="340.8" r="1.3"/>
<circle class="tiw" cx="97.9" cy="417.8" r="1.5"/>
<circle class="tja" cx="113.1" cy="388.9" r="1.3"/>
<circle class="tiy" cx="104.4" cy="325.7" r="1.9"/>
<circle class="tht" cx="19.5" cy="398.1" r="0.9"/>
<circle class="tib" cx="94.6" cy="386.2" r="1.1"/>
<circle class="tib" cx="107.7" cy="390.6" r="1.8"/>
<circle class="tit" cx="46.6" cy="331" r="1.5"/>
<circle class="tix" cx="83.8" cy="329.1" r="1.3"/>
<circle class="tiv" cx="42.2" cy="370.3" r="1.1"/>
<circle class="tiy" cx="65.7" cy="367.4" r="1.5"/>
<circle class="tim" cx="43.7" cy="381.6" r="1"/>
<circle class="thr" cx="69.6" cy="380.9" r="1.1"/>
<circle class="tjd" cx="29.8" cy="351.9" r="1.5"/>
<circle class="tig" cx="117.6" cy="378.9" r="1.9"/>
<circle class="tik" cx="10.2" cy="355.6" r="1.7"/>
<circle class="tja" cx="65.6" cy="353.4" r="2.1"/>
<circle class="thy" cx="114.8" cy="319" r="1.7"/>
<circle class="tjk" cx="33.8" cy="366.5" r="2"/>
<circle class="tic" cx="56.5" cy="341.8" r="1.3"/>
<circle class="ths" cx="42.2" cy="392.6" r="1.1"/>
<circle class="thr" cx="76.9" cy="308.2" r="1.9"/>
<circle class="thu" cx="105.2" cy="394.9" r="1.8"/>
<circle class="tjw" cx="83.3" cy="313.5" r="1.2"/>
<circle class="tjl" cx="86.3" cy="383.7" r="1.2"/>
<circle class="tjx" cx="108.3" cy="405" r="1.3"/>
<circle class="thu" cx="86.2" cy="373" r="1.4"/>
<circle class="tji" cx="92.8" cy="318.7" r="1.3"/>
<circle class="tjn" cx="41.8" cy="401.7" r="1.5"/>
<circle class="tiw" cx="52.1" cy="351.6" r="1.6"/>
<circle class="tja" cx="44.8" cy="367.2" r="2.1"/>
<circle class="tid" cx="124.6" cy="325.8" r="1.5"/>
<circle class="tjk" cx="84.8" cy="370.2" r="0.9"/>
<circle class="tja" cx="79.1" cy="309.9" r="1.9"/>
<circle class="thy" cx="56.7" cy="312.5" r="1.4"/>
<circle class="ths" cx="59.7" cy="388.4" r="1.3"/>
<circle class="tii" cx="48.6" cy="304" r="1.1"/>
<circle class="tiy" cx="29.2" cy="341.7" r="1.2"/>
<circle class="thx" cx="63.3" cy="310.7" r="1.2"/>
<circle class="tkb" cx="83.7" cy="388.5" r="1.2"/>
<circle class="thx" cx="107.7" cy="319.7" r="1.8"/>
<circle class="tif" cx="118.6" cy="401.6" r="1.5"/>
<circle class="tio" cx="56.4" cy="309.6" r="2"/>
<circle class="thy" cx="71.8" cy="313.4" r="1.2"/>
<circle class="tir" cx="56.2" cy="357.5" r="1.5"/>
<circle class="tim" cx="79.7" cy="361.3" r="1"/>
<circle class="thz" cx="84.3" cy="329.3" r="1.6"/>
<circle class="thz" cx="84.3" cy="308.6" r="1.4"/>
<circle class="tiy" cx="17.2" cy="372.1" r="1.1"/>
<circle class="tix" cx="62.4" cy="381.4" r="1"/>
<circle class="thx" cx="48.8" cy="381.1" r="1.7"/>
<circle class="tiz" cx="60.3" cy="327" r="1.9"/>
<circle class="tiv" cx="20.9" cy="312.8" r="1.4"/>
<circle class="tid" cx="11.6" cy="393.3" r="1.9"/>
<circle class="tiy" cx="48.7" cy="338.7" r="1.3"/>
<circle class="tiv" cx="53.3" cy="365.1" r="0.9"/>
<circle class="ths" cx="55.3" cy="362.8" r="1.6"/>
<circle class="tjo" cx="72.3" cy="367.4" r="1.2"/>
<circle class="tid" cx="39.8" cy="364.3" r="1.4"/>
<circle class="tht" cx="37.1" cy="319.4" r="0.9"/>
<circle class="tiy" cx="25.2" cy="391" r="1.2"/>
<circle class="thw" cx="124" cy="353.3" r="1.3"/>
<circle class="tiy" cx="19.4" cy="392.4" r="1.1"/>
<circle class="thz" cx="27.9" cy="343.4" r="1.8"/>
<circle class="thz" cx="31" cy="332.7" r="1.5"/>
<circle class="thz" cx="9.6" cy="412.6" r="1.4"/>
<circle class="tir" cx="87.9" cy="366.3" r="1.7"/>
<circle class="tiw" cx="64.3" cy="316.4" r="2.1"/>
<circle class="tjr" cx="38.3" cy="409.6" r="1.7"/>
<circle class="tkf" cx="75.5" cy="396.8" r="1.5"/>
<circle class="tht" cx="58.9" cy="403.1" r="2"/>
<circle class="tix" cx="110.2" cy="350.6" r="1.1"/>
<circle class="tkd" cx="62.9" cy="405.4" r="1.1"/>
<circle class="tim" cx="49.3" cy="332.8" r="1.2"/>
<circle class="tjx" cx="56.6" cy="336" r="1.1"/>
<circle class="tie" cx="66" cy="340.7" r="1.8"/>
<circle class="ths" cx="30.4" cy="397.9" r="2"/>
<circle class="tir" cx="115.3" cy="388.8" r="0.9"/>
<circle class="tie" cx="43.8" cy="403.4" r="1.8"/>
<circle class="tie" cx="15.8" cy="388.1" r="1.8"/>
<circle class="tir" cx="112.1" cy="413.4" r="1.1"/>
<circle class="tkf" cx="87.4" cy="388.3" r="2.1"/>
<circle class="thx" cx="32.5" cy="415.9" r="1.9"/>
<circle class="tjh" cx="92.7" cy="320" r="1"/>
<circle class="tju" cx="23.5" cy="317.8" r="2"/>
<circle class="tjh" cx="90.7" cy="384.5" r="1.6"/>
<circle class="tjs" cx="77.9" cy="362" r="1.1"/>
<circle class="tik" cx="91.2" cy="340" r="1.1"/>
<circle class="thx" cx="56.4" cy="366.8" r="1.1"/>
<circle class="tin" cx="59.9" cy="322.9" r="1.5"/>
<circle class="tjz" cx="83.6" cy="347.7" r="1.9"/>
<circle class="tiy" cx="7.8" cy="357.3" r="0.9"/>
<circle class="tkc" cx="56.6" cy="386.4" r="1.4"/>
<circle class="thy" cx="115.2" cy="391.3" r="1.2"/>
<circle class="tiq" cx="43" cy="309.3" r="1.9"/>
<circle class="thz" cx="37.4" cy="397.4" r="1.3"/>
<circle class="tid" cx="112" cy="343.7" r="1.8"/>
<circle class="tjj" cx="105" cy="346.3" r="1.7"/>
<circle class="tic" cx="115.2" cy="364" r="2"/>
<circle class="thx" cx="33.9" cy="375.7" r="1.7"/>
<circle class="tkk" cx="31.6" cy="330.4" r="1.4"/>
<circle class="tiy" cx="128.7" cy="355" r="2"/>
<circle class="tjn" cx="47.5" cy="357.9" r="1.1"/>
<circle class="tic" cx="31.1" cy="380.4" r="1.2"/>
<circle class="tjo" cx="21.1" cy="401.2" r="1.7"/>
<circle class="tii" cx="32.8" cy="320.6" r="2"/>
<circle class="tjk" cx="46.4" cy="399" r="1"/>
<circle class="tin" cx="43.7" cy="328.1" r="1.9"/>
<circle class="tji" cx="96.2" cy="331.3" r="1.7"/>
<circle class="tiw" cx="103.7" cy="377.6" r="1"/>
<circle class="tiu" cx="18.4" cy="417.2" r="1.5"/>
<circle class="tht" cx="28" cy="370.5" r="1.5"/>
<circle class="thy" cx="73.9" cy="309.4" r="1.6"/>
<circle class="thr" cx="92" cy="393.2" r="1.2"/>
<circle class="tjx" cx="124.9" cy="414.4" r="1.9"/>
<circle class="tig" cx="126.5" cy="309.6" r="1.9"/>
<circle class="tjt" cx="90.9" cy="406" r="1.5"/>
<circle class="thr" cx="37.6" cy="392.1" r="1.5"/>
<circle class="ths" cx="72" cy="358.3" r="1.5"/>
<circle class="tjt" cx="79.2" cy="323.4" r="1.1"/>
<circle class="tkk" cx="80.9" cy="307.2" r="1.2"/>
<circle class="tjz" cx="42.7" cy="341.8" r="1.6"/>
<circle class="tip" cx="117" cy="344" r="1.8"/>
<circle class="tii" cx="90.6" cy="372.2" r="1.9"/>
<circle class="tkl" cx="47" cy="376.3" r="1"/>
<circle class="tkm" cx="98.2" cy="365.4" r="1.4"/>
<circle class="tie" cx="94" cy="320" r="1.8"/>
<circle class="thw" cx="20" cy="352.6" r="1.5"/>
<circle class="tjy" cx="99.1" cy="305.7" r="1"/>
<circle class="tko" cx="89.2" cy="383.2" r="1.8"/>
<circle class="tii" cx="119.6" cy="365.7" r="1.3"/>
<circle class="tie" cx="90" cy="368.7" r="1.1"/>
<circle class="thu" cx="47.4" cy="340.7" r="1.2"/>
<circle class="tja" cx="90.4" cy="366.4" r="1.7"/>
<circle class="tir" cx="86.8" cy="339.6" r="1.2"/>
<circle class="tih" cx="15.4" cy="365" r="1.5"/>
<circle class="tko" cx="76.9" cy="328.8" r="1.6"/>
<circle class="tie" cx="66.8" cy="409.5" r="1.1"/>
<circle class="tkc" cx="56.9" cy="361.1" r="1"/>
<circle class="tid" cx="117.1" cy="381" r="0.9"/>
<circle class="tka" cx="90.5" cy="306.1" r="1.6"/>
<circle class="tja" cx="92" cy="356.1" r="1.3"/>
<circle class="thu" cx="64.5" cy="329.7" r="1.1"/>
<circle class="tiw" cx="121.3" cy="334" r="1"/>
<circle class="tir" cx="11.9" cy="397.3" r="1.2"/>
<circle class="thr" cx="6.7" cy="344.6" r="1.3"/>
<circle class="thz" cx="81.5" cy="342.3" r="1.5"/>
<circle class="tij" cx="9.4" cy="353.3" r="1.2"/>
<circle class="tiq" cx="55.1" cy="334.2" r="1.3"/>
<circle class="tib" cx="62" cy="390.3" r="1.7"/>
<circle class="ths" cx="32.5" cy="415.4" r="1.4"/>
<circle class="tju" cx="94.7" cy="360.4" r="1.8"/>
<circle class="tih" cx="85.4" cy="400.7" r="1.2"/>
<circle class="tiq" cx="16.5" cy="401.4" r="1.4"/>
<circle class="tjk" cx="128" cy="392.5" r="1.4"/>
<circle class="ths" cx="120" cy="347.5" r="1.7"/>
<circle class="tkf" cx="11.9" cy="378" r="1.1"/>
<circle class="tis" cx="122.3" cy="377.8" r="1.7"/>
<circle class="tka" cx="97.9" cy="338.8" r="1.8"/>
<circle class="thy" cx="87" cy="333.2" r="1.8"/>
<circle class="tix" cx="11.4" cy="367.8" r="1.8"/>
<circle class="tka" cx="42.3" cy="332.5" r="1.6"/>
<circle class="tkh" cx="40.7" cy="401.1" r="1.6"/>
<circle class="tib" cx="50.7" cy="335.3" r="1.7"/>
<circle class="tip" cx="126.2" cy="329.8" r="1.5"/>
<circle class="tin" cx="120" cy="324.2" r="1.1"/>
<circle class="tjy" cx="9.8" cy="327.1" r="1"/>
<circle class="tjc" cx="91.3" cy="318.7" r="1.5"/>
<circle class="tie" cx="10" cy="387.6" r="1.2"/>
<circle class="tkl" cx="102.5" cy="366.5" r="1.3"/>
<circle class="tim" cx="31.3" cy="375.6" r="1.8"/>
<circle class="thy" cx="33.1" cy="364.8" r="1.1"/>
<circle class="tja" cx="85.3" cy="398.7" r="1.7"/>
<circle class="tim" cx="116.6" cy="328.1" r="1.8"/>
<circle class="tkd" cx="53.8" cy="321.8" r="1.2"/>
<circle class="tja" cx="55.8" cy="357.5" r="1.7"/>
<circle class="tkf" cx="39.8" cy="355.7" r="1.9"/>
<circle class="tiu" cx="110.2" cy="316.5" r="2"/>
<circle class="tjl" cx="17.7" cy="318.1" r="1.4"/>
<circle class="thy" cx="4.9" cy="343.5" r="1.1"/>
<circle class="ths" cx="108.7" cy="379.4" r="1.7"/>
<circle class="tiv" cx="28.8" cy="374.7" r="1.3"/>
<circle class="thy" cx="44.8" cy="313" r="1.7"/>
<circle class="thz" cx="62.6" cy="325.7" r="2"/>
<circle class="thz" cx="72.2" cy="306.6" r="1.2"/>
<circle class="tif" cx="33.7" cy="391" r="1.9"/>
<circle class="tih" cx="83.8" cy="343.3" r="1.4"/>
<circle class="tim" cx="125.4" cy="354.5" r="1.4"/>
<circle class="thr" cx="32.7" cy="402" r="1.7"/>
<circle class="thx" cx="23.5" cy="331.6" r="1.5"/>
<circle class="tij" cx="86" cy="314.9" r="2"/>
<circle class="tht" cx="80.9" cy="332.7" r="1.8"/>
<circle class="tjd" cx="43.2" cy="341.7" r="1.4"/>
<circle class="tid" cx="44.3" cy="306.8" r="1.7"/>
<circle class="tiq" cx="125.3" cy="321.8" r="1.4"/>
<circle class="tjk" cx="128.2" cy="313" r="1.9"/>
<circle class="thx" cx="53.3" cy="370.6" r="1.8"/>
<circle class="tjk" cx="84.8" cy="408.8" r="1.6"/>
<circle class="tkp" cx="114.9" cy="336.9" r="1"/>
<circle class="tka" cx="34.3" cy="330.9" r="2"/>
<circle class="tiv" cx="55.8" cy="325.9" r="1.4"/>
<circle class="ths" cx="77.5" cy="350.5" r="1.7"/>
<circle class="ths" cx="97.7" cy="404.2" r="2"/>
<circle class="tjk" cx="14.4" cy="355.4" r="1.6"/>
<circle class="tih" cx="31.9" cy="378.3" r="2"/>
<circle class="thx" cx="112.3" cy="392.2" r="1.1"/>
<circle class="tjj" cx="74.2" cy="341.3" r="1.8"/>
<circle class="tif" cx="115.7" cy="414.4" r="1.2"/>
<circle class="tip" cx="76.3" cy="315.7" r="2.1"/>
<circle class="tic" cx="127.2" cy="407.1" r="1"/>
<circle class="tit" cx="79.4" cy="383.3" r="1.3"/>
<circle class="tiw" cx="18.3" cy="369.6" r="1"/>
<circle class="tja" cx="40.8" cy="377.7" r="1"/>
<circle class="tjj" cx="38.5" cy="414.8" r="1.7"/>
<circle class="tjm" cx="7.1" cy="320.2" r="1.1"/>
<circle class="tie" cx="8.1" cy="397" r="1"/>
<circle class="tjf" cx="73.6" cy="305.1" r="1.2"/>
<circle class="tjt" cx="99.3" cy="390.5" r="1.1"/>
<circle class="tjm" cx="96.3" cy="313.9" r="1.8"/>
<circle class="tii" cx="85.7" cy="343.1" r="1.4"/>
<circle class="tiv" cx="122.2" cy="313.1" r="1"/>
<circle class="tjt" cx="32.6" cy="384.9" r="1"/>
<circle class="tjl" cx="25.7" cy="353.1" r="1.4"/>
<circle class="thz" cx="88.3" cy="344.3" r="1.1"/>
<circle class="thz" cx="67" cy="340.8" r="1.9"/>
<circle class="tht" cx="31.4" cy="369.8" r="1.8"/>
<circle class="tkc" cx="70" cy="372.3" r="1.8"/>
<circle class="tjk" cx="66.7" cy="336.9" r="1"/>
<circle class="tji" cx="7.9" cy="319.9" r="1"/>
<circle class="tix" cx="47" cy="343.9" r="1.1"/>
<circle class="tix" cx="38.7" cy="414.1" r="1.6"/>
<circle class="tix" cx="58.9" cy="315.9" r="1.5"/>
<circle class="tii" cx="32.6" cy="368.6" r="1.7"/>
<circle class="tjh" cx="60.2" cy="409" r="1"/>
<circle class="tko" cx="100" cy="317.1" r="1.6"/>
<circle class="tji" cx="26.2" cy="354.3" r="1"/>
<circle class="tig" cx="63.7" cy="315.1" r="1"/>
<circle class="thr" cx="42.4" cy="331.1" r="2"/>
<circle class="tjb" cx="96" cy="333.1" r="1.8"/>
<circle class="tja" cx="92.3" cy="322.3" r="1.8"/>
<circle class="tjm" cx="50.2" cy="321.6" r="1.1"/>
<circle class="tih" cx="94.2" cy="382.5" r="1.1"/>
<circle class="thz" cx="30.3" cy="340.3" r="1.5"/>
<circle class="tin" cx="67.9" cy="395.2" r="1.9"/>
<circle class="tkp" cx="116.9" cy="342.7" r="1.1"/>
<circle class="tja" cx="90" cy="306.4" r="1.6"/>
<circle class="tii" cx="85.4" cy="360.4" r="1.7"/>
<circle class="tja" cx="6.1" cy="343.3" r="1.2"/>
<circle class="thy" cx="21.8" cy="353.8" r="1.1"/>
<circle class="tip" cx="118.6" cy="389.4" r="1.7"/>
<circle class="thy" cx="118.7" cy="389" r="1.4"/>
<circle class="tjg" cx="102.7" cy="329.9" r="1.2"/>
<circle class="tkf" cx="6.9" cy="369" r="2"/>
<circle class="tie" cx="66.8" cy="317.7" r="1.8"/>
<circle class="tji" cx="102.3" cy="309.4" r="2"/>
<circle class="tjr" cx="78.5" cy="346.3" r="1"/>
<circle class="tip" cx="21" cy="350.5" r="1.6"/>
<circle class="til" cx="48.8" cy="305.9" r="1.9"/>
<circle class="tim" cx="79.5" cy="365.8" r="1.8"/>
<circle class="thy" cx="117.5" cy="304.8" r="1.7"/>
<circle class="tjz" cx="19.4" cy="369.8" r="1.3"/>
<circle class="tiv" cx="55.6" cy="340.2" r="1.1"/>
<circle class="tja" cx="109" cy="415.9" r="1.3"/>
<circle class="thw" cx="8.9" cy="390.3" r="1.2"/>
<circle class="thx" cx="36.5" cy="377.9" r="2"/>
<circle class="tkc" cx="58.5" cy="367.1" r="0.9"/>
<circle class="tii" cx="92.6" cy="374.2" r="2"/>
<circle class="tip" cx="126.8" cy="412.1" r="2.1"/>
<circle class="thv" cx="15" cy="376.2" r="1.5"/>
<circle class="tkk" cx="83.9" cy="315.3" r="1.5"/>
<circle class="tka" cx="114.5" cy="330.8" r="1.9"/>
<circle class="tjd" cx="66.5" cy="337.9" r="1.6"/>
<circle class="tit" cx="56.5" cy="331" r="1.6"/>
<circle class="tiu" cx="43.6" cy="341.8" r="1.7"/>
<circle class="tit" cx="101.3" cy="315.9" r="2.1"/>
<circle class="thx" cx="50.9" cy="367" r="1.7"/>
<circle class="tkc" cx="30.6" cy="402.6" r="1"/>
<circle class="tin" cx="51.8" cy="368.9" r="2"/>
<circle class="thr" cx="78.7" cy="348" r="1.9"/>
<circle class="thu" cx="127.3" cy="371.9" r="1.8"/>
<circle class="tja" cx="102.5" cy="340.3" r="1.5"/>
<circle class="tid" cx="114.7" cy="355.4" r="1.3"/>
<circle class="tkh" cx="9.8" cy="318.9" r="1.1"/>
<circle class="tir" cx="103.9" cy="309.8" r="1.9"/>
<circle class="thz" cx="35.9" cy="387.4" r="1.4"/>
<circle class="tix" cx="25.7" cy="405.6" r="1.7"/>
<circle class="tiw" cx="128.4" cy="329.9" r="1.4"/>
<circle class="tio" cx="60.5" cy="402.2" r="1.9"/>
<circle class="tiy" cx="113.5" cy="346.1" r="1.1"/>
<circle class="tit" cx="92.7" cy="312.7" r="1.5"/>
<circle class="tja" cx="91.6" cy="362.4" r="1.9"/>
<circle class="tja" cx="44" cy="416.6" r="1.6"/>
<circle class="tjt" cx="109.3" cy="348" r="1.1"/>
<circle class="tja" cx="126.2" cy="326.5" r="1.5"/>
<circle class="tjj" cx="42.2" cy="351.7" r="1.1"/>
<circle class="tkp" cx="43.1" cy="375.8" r="1.4"/>
<circle class="tiq" cx="19.1" cy="310.2" r="1.8"/>
<circle class="tix" cx="32" cy="389.4" r="1.6"/>
<circle class="tiy" cx="106" cy="339" r="0.9"/>
<circle class="tih" cx="20.8" cy="405.8" r="1.6"/>
<circle class="tkq" cx="80.5" cy="387.8" r="1.2"/>
<circle class="thr" cx="75.3" cy="355.8" r="0.9"/>
<circle class="tix" cx="30.3" cy="353.8" r="1.3"/>
<circle class="tjh" cx="77.9" cy="335.2" r="1.1"/>
<circle class="tiv" cx="80" cy="376.3" r="1.8"/>
<circle class="thr" cx="90.1" cy="404.4" r="1.4"/>
<circle class="tko" cx="103.1" cy="328.1" r="1.3"/>
<circle class="tin" cx="125.9" cy="304.5" r="1.7"/>
<circle class="thr" cx="78.3" cy="412.1" r="0.9"/>
<circle class="tja" cx="14.7" cy="379.3" r="1.3"/>
<circle class="tix" cx="27.7" cy="320.3" r="1.8"/>
<circle class="tiy" cx="126.1" cy="327.2" r="1.4"/>
<circle class="thz" cx="89.6" cy="311.9" r="1.7"/>
<circle class="ths" cx="62.2" cy="357.5" r="1.2"/>
<circle class="thz" cx="87.6" cy="306.1" r="1"/>
<circle class="tjk" cx="50.2" cy="346.7" r="1.7"/>
<circle class="ths" cx="31.2" cy="394.8" r="0.9"/>
<circle class="tis" cx="61.8" cy="382.4" r="1"/>
<circle class="tja" cx="79.5" cy="376" r="2.1"/>
<circle class="tik" cx="110.6" cy="319" r="1.8"/>
<circle class="thz" cx="46.9" cy="325.4" r="1"/>
<circle class="tjw" cx="94.9" cy="357.2" r="1.7"/>
<circle class="tiq" cx="115.6" cy="407.6" r="1.2"/>
<circle class="tjk" cx="86.9" cy="343.8" r="1"/>
<circle class="tjk" cx="113.3" cy="392.8" r="1.3"/>
<circle class="tiy" cx="128.1" cy="406.5" r="1.6"/>
<circle class="thv" cx="105.7" cy="351.4" r="2.1"/>
<circle class="thr" cx="46.7" cy="391.1" r="1.8"/>
<circle class="tie" cx="116.2" cy="362.6" r="1.4"/>
<circle class="tia" cx="38.6" cy="335" r="1.1"/>
<circle class="ths" cx="47.5" cy="361.5" r="1.2"/>
<circle class="tir" cx="41.8" cy="406.9" r="1"/>
<circle class="ths" cx="102" cy="389.8" r="1.4"/>
<circle class="tip" cx="19.5" cy="312" r="1.7"/>
<circle class="tiy" cx="92.7" cy="342.5" r="1.5"/>
<circle class="tiw" cx="90.7" cy="378.3" r="1"/>
<circle class="tix" cx="90.5" cy="393.1" r="1.8"/>
<circle class="tjy" cx="67.6" cy="405.1" r="1.5"/>
<circle class="thx" cx="106.1" cy="337.1" r="1.8"/>
<circle class="tjs" cx="85.7" cy="359.1" r="1.3"/>
<circle class="tja" cx="129.9" cy="362.5" r="2"/>
<circle class="thz" cx="98" cy="382.7" r="1.5"/>
<circle class="tid" cx="17.6" cy="305.3" r="1.3"/>
<circle class="tim" cx="130.1" cy="340.1" r="1.2"/>
<circle class="thr" cx="125.1" cy="378.1" r="1.4"/>
<circle class="tiy" cx="127.9" cy="410.9" r="1.4"/>
<circle class="tkj" cx="59.7" cy="415.9" r="1.4"/>
<circle class="tir" cx="115" cy="413.5" r="1"/>
<circle class="tht" cx="102.7" cy="311.1" r="1.4"/>
<circle class="thu" cx="81.2" cy="335.9" r="1.6"/>
<circle class="tix" cx="128.3" cy="311.6" r="1.5"/>
<circle class="tja" cx="86.7" cy="356.3" r="1.1"/>
<circle class="tig" cx="85.6" cy="404.5" r="1.8"/>
<circle class="thz" cx="16.9" cy="353.2" r="2.1"/>
<circle class="tjz" cx="109" cy="361.1" r="1.3"/>
<circle class="til" cx="56.4" cy="326.8" r="1.6"/>
<circle class="thr" cx="50" cy="380.2" r="2"/>
<circle class="tja" cx="26.1" cy="355.2" r="2"/>
<circle class="thx" cx="105.3" cy="365.1" r="1.3"/>
<circle class="tib" cx="87.8" cy="372.3" r="1.3"/>
<circle class="tjz" cx="122.2" cy="412.4" r="1"/>
<circle class="tjd" cx="20.3" cy="366.6" r="1.1"/>
<circle class="til" cx="79.8" cy="363.4" r="2.1"/>
<circle class="tjk" cx="121.1" cy="390.2" r="2.1"/>
<circle class="tix" cx="35.8" cy="376.9" r="1.3"/>
<circle class="tip" cx="87.2" cy="362.6" r="1.1"/>
<circle class="tis" cx="123.6" cy="372" r="1.9"/>
<circle class="tie" cx="23.1" cy="380.3" r="1.3"/>
<circle class="tic" cx="17.2" cy="403.5" r="1.2"/>
<circle class="tkh" cx="90.1" cy="345.7" r="1.3"/>
<circle class="thv" cx="56.3" cy="330.8" r="1.1"/>
<circle class="tiy" cx="116.5" cy="415.4" r="2"/>
<circle class="thy" cx="90.2" cy="342.3" r="1.3"/>
<circle class="tic" cx="43.1" cy="390.4" r="1.5"/>
<circle class="tjo" cx="42.3" cy="390.1" r="1.3"/>
<circle class="tig" cx="123.5" cy="416.7" r="2"/>
<circle class="thx" cx="104.4" cy="327.3" r="1.7"/>
<circle class="tin" cx="106.4" cy="308.4" r="1"/>
<circle class="tjd" cx="5.6" cy="365" r="1.4"/>
<circle class="tiy" cx="42.3" cy="389.4" r="2"/>
<circle class="tit" cx="90.4" cy="348.8" r="2.1"/>
<circle class="tjg" cx="102.5" cy="358.7" r="1.1"/>
<circle class="tjw" cx="32.4" cy="334" r="1.6"/>
<circle class="tiy" cx="93.6" cy="354.5" r="2.1"/>
<circle class="tie" cx="129.1" cy="403.4" r="1.7"/>
<circle class="tis" cx="65.4" cy="330" r="1.8"/>
<circle class="tix" cx="120.8" cy="354.4" r="1.7"/>
<circle class="tic" cx="92" cy="392.9" r="1.3"/>
<circle class="tkh" cx="97.5" cy="345.6" r="1.1"/>
<circle class="tie" cx="28.6" cy="376" r="1"/>
<circle class="tjq" cx="18.1" cy="408.4" r="2"/>
<circle class="tkl" cx="94.4" cy="397.8" r="1.2"/>
<circle class="tkh" cx="31.4" cy="399.6" r="1.7"/>
<circle class="tiq" cx="13.8" cy="404.9" r="1.9"/>
<circle class="thy" cx="74.9" cy="330.6" r="1"/>
<circle class="thz" cx="45.6" cy="386.2" r="1.6"/>
<circle class="tjl" cx="62.1" cy="417.1" r="1.7"/>
<circle class="tja" cx="114.2" cy="305.7" r="1.4"/>
<circle class="tie" cx="79.9" cy="345.6" r="1.3"/>
<circle class="tjt" cx="81" cy="311.4" r="1.5"/>
<circle class="tjo" cx="80.2" cy="354" r="1.9"/>
<circle class="thw" cx="115.8" cy="401.7" r="1"/>
<circle class="thr" cx="63.8" cy="365.9" r="1.3"/>
<circle class="thx" cx="123.4" cy="383.6" r="1.7"/>
<circle class="tht" cx="13.9" cy="334.2" r="1.4"/>
<circle class="tix" cx="84.2" cy="320.9" r="2"/>
<circle class="tiy" cx="39.9" cy="329.5" r="1.5"/>
<circle class="tko" cx="30.2" cy="354.2" r="1.5"/>
<circle class="tim" cx="123.7" cy="407.8" r="1.8"/>
<circle class="tic" cx="32.2" cy="373.4" r="1.1"/>
<circle class="tij" cx="16.6" cy="329.6" r="1.7"/>
<circle class="tie" cx="52.5" cy="411.2" r="1"/>
<circle class="thz" cx="103.5" cy="377.9" r="2.1"/>
<circle class="tix" cx="78.8" cy="378.1" r="1.5"/>
<circle class="tiq" cx="117.8" cy="349" r="1"/>
<circle class="ths" cx="19.6" cy="367.2" r="1.2"/>
<circle class="tjz" cx="112.5" cy="407.9" r="1.6"/>
<circle class="tit" cx="8.9" cy="372.5" r="1.3"/>
<circle class="tin" cx="36" cy="325.7" r="1.6"/>
<circle class="tjt" cx="88.9" cy="366.6" r="1.4"/>
<circle class="tin" cx="84.3" cy="357.7" r="1.5"/>
<circle class="tib" cx="118.1" cy="385.6" r="1.6"/>
<circle class="tjh" cx="102.1" cy="347" r="1.7"/>
<circle class="tif" cx="26.8" cy="416" r="2"/>
<circle class="tix" cx="66.7" cy="365.3" r="1.9"/>
<circle class="tim" cx="15" cy="317.8" r="1.4"/>
<circle class="til" cx="10.5" cy="336.2" r="1.9"/>
<circle class="tih" cx="105.7" cy="340.5" r="1.6"/>
<circle class="tjd" cx="94.6" cy="309.4" r="1.7"/>
<circle class="ths" cx="83.4" cy="332.4" r="2.1"/>
<circle class="tjx" cx="50.3" cy="316.2" r="1.8"/>
<circle class="tiq" cx="61.1" cy="320.3" r="1.8"/>
<circle class="thr" cx="122.6" cy="402" r="1.1"/>
<circle class="tkb" cx="52.7" cy="319.2" r="1.8"/>
<circle class="tje" cx="83.1" cy="319.6" r="2"/>
<circle class="tik" cx="91.9" cy="319.3" r="1.2"/>
<circle class="tio" cx="47" cy="393.7" r="1.9"/>
<circle class="tim" cx="6.1" cy="364.2" r="1.2"/>
</g></g>
<rect x="6.1" y="305" width="68.4" height="11.6" fill="#050505"/>
<text x="8.3" y="313.6" font-size="6.5" font-family="Liberation Sans, Arial, sans-serif" text-anchor="start" fill="#fff" font-weight="normal" textLength="65.2" lengthAdjust="spacingAndGlyphs"><tspan fill="#a02018">CD8</tspan> <tspan fill="#f0d020" font-weight="bold">PD-1</tspan> <tspan fill="#607048">GrzB</tspan> <tspan fill="#b0e8f0">CXCR3</tspan></text>
<rect x="61.8" y="352.4" width="12.2" height="9" fill="none" stroke="#eee" stroke-width="0.9"/>
<rect x="9.2" y="370.2" width="11.8" height="10.6" fill="none" stroke="#eee" stroke-width="0.9"/>
<line x1="8.0" y1="411.5" x2="18.0" y2="411.5" stroke="#fff" stroke-width="1.0"/>
<text x="13.0" y="410.2" font-size="3.2" font-family="Liberation Sans, Arial, sans-serif" text-anchor="middle" fill="#fff" font-weight="bold" >50 µm</text>
<rect x="89.7" y="350" width="38.9" height="66.2" fill="#f4f4f4"/>
<clipPath id="cpE1"><rect x="91" y="351.3" width="37.5" height="28.6"/></clipPath>
<g clip-path="url(#cpE1)"><rect x="91" y="351.3" width="37.5" height="28.6" fill="#1c4848"/>
<g filter="url(#cb)">
<rect x="83" y="343.3" width="53.5" height="44.6" fill="#1c4848"/>
<rect class="tkr" x="83" y="343.3" width="13.9" height="13.3"/>
<rect class="tkr" x="95.9" y="343.3" width="6.4" height="13.3"/>
<rect class="tkr" x="101.2" y="343.3" width="6.4" height="13.3"/>
<rect class="tkr" x="106.6" y="343.3" width="6.4" height="13.3"/>
<rect class="tkr" x="111.9" y="343.3" width="6.4" height="13.3"/>
<rect class="tkr" x="117.3" y="343.3" width="6.4" height="13.3"/>
<rect class="tkr" x="122.6" y="343.3" width="13.9" height="13.3"/>
<rect class="tkr" x="83" y="355.6" width="13.9" height="5.8"/>
<rect class="tkr" x="95.9" y="355.6" width="6.4" height="5.8"/>
<rect class="tks" x="101.2" y="355.6" width="6.4" height="5.8"/>
<rect class="tks" x="106.6" y="355.6" width="6.4" height="5.8"/>
<rect class="tks" x="111.9" y="355.6" width="6.4" height="5.8"/>
<rect class="tks" x="117.3" y="355.6" width="6.4" height="5.8"/>
<rect class="tkr" x="122.6" y="355.6" width="13.9" height="5.8"/>
<rect class="tkr" x="83" y="360.3" width="13.9" height="5.8"/>
<rect class="tks" x="95.9" y="360.3" width="6.4" height="5.8"/>
<rect class="tkt" x="101.2" y="360.3" width="6.4" height="5.8"/>
<rect class="tkt" x="106.6" y="360.3" width="6.4" height="5.8"/>
<rect class="tkt" x="111.9" y="360.3" width="6.4" height="5.8"/>
<rect class="tks" x="117.3" y="360.3" width="6.4" height="5.8"/>
<rect class="tks" x="122.6" y="360.3" width="13.9" height="5.8"/>
<rect class="tkr" x="83" y="365.1" width="13.9" height="5.8"/>
<rect class="tks" x="95.9" y="365.1" width="6.4" height="5.8"/>
<rect class="tks" x="101.2" y="365.1" width="6.4" height="5.8"/>
<rect class="tkt" x="106.6" y="365.1" width="6.4" height="5.8"/>
<rect class="tks" x="111.9" y="365.1" width="6.4" height="5.8"/>
<rect class="tks" x="117.3" y="365.1" width="6.4" height="5.8"/>
<rect class="tku" x="122.6" y="365.1" width="13.9" height="5.8"/>
<rect class="tkr" x="83" y="369.9" width="13.9" height="5.8"/>
<rect class="tku" x="95.9" y="369.9" width="6.4" height="5.8"/>
<rect class="tkr" x="101.2" y="369.9" width="6.4" height="5.8"/>
<rect class="tks" x="106.6" y="369.9" width="6.4" height="5.8"/>
<rect class="tkr" x="111.9" y="369.9" width="6.4" height="5.8"/>
<rect class="tkr" x="117.3" y="369.9" width="6.4" height="5.8"/>
<rect class="tkr" x="122.6" y="369.9" width="13.9" height="5.8"/>
<rect class="tkr" x="83" y="374.6" width="13.9" height="13.3"/>
<rect class="tkr" x="95.9" y="374.6" width="6.4" height="13.3"/>
<rect class="tkr" x="101.2" y="374.6" width="6.4" height="13.3"/>
<rect class="tkr" x="106.6" y="374.6" width="6.4" height="13.3"/>
<rect class="tkr" x="111.9" y="374.6" width="6.4" height="13.3"/>
<rect class="tku" x="117.3" y="374.6" width="6.4" height="13.3"/>
<rect class="tkr" x="122.6" y="374.6" width="13.9" height="13.3"/>
</g>
<g filter="url(#blE1)">
<circle class="tkv" cx="96.3" cy="379.1" r="2.3"/>
<circle class="tkw" cx="101.2" cy="376.1" r="1.7"/>
<circle class="tkx" cx="93" cy="360.8" r="2.6"/>
<circle class="tky" cx="123.2" cy="360.7" r="2.6"/>
<circle class="tkz" cx="97.1" cy="378" r="1.6"/>
<circle class="tkw" cx="103.5" cy="379.1" r="1.7"/>
<circle class="tla" cx="111.6" cy="377.6" r="1.7"/>
<circle class="tkw" cx="123.9" cy="357.9" r="2.6"/>
<circle class="tlb" cx="120.8" cy="375.9" r="2.2"/>
<circle class="tlc" cx="98.9" cy="376.4" r="2.2"/>
<circle class="tkw" cx="91.7" cy="368.6" r="3"/>
<circle class="tld" cx="105.5" cy="357.3" r="1.9"/>
<circle class="tle" cx="118.1" cy="356.1" r="2.7"/>
<circle class="tlf" cx="127.7" cy="361.2" r="2"/>
<circle class="tlg" cx="120.7" cy="366" r="2.6"/>
<circle class="tkx" cx="107.4" cy="356.5" r="2.2"/>
<circle class="tlh" cx="116.5" cy="379.2" r="1.7"/>
<circle class="tkv" cx="124" cy="358.2" r="3"/>
<circle class="tli" cx="116.8" cy="368.1" r="2.7"/>
<circle class="tkw" cx="123.6" cy="372.8" r="2.9"/>
<circle class="tlj" cx="127.8" cy="363.1" r="2.3"/>
<circle class="tld" cx="112.7" cy="356.3" r="2.2"/>
<circle class="tlk" cx="115.3" cy="365.6" r="1.6"/>
<circle class="tll" cx="110.2" cy="366.2" r="2.2"/>
<circle class="tlf" cx="110.1" cy="358.1" r="1.9"/>
<circle class="tlm" cx="104.5" cy="365.7" r="2.4"/>
<circle class="tlh" cx="114.9" cy="375.9" r="2.5"/>
<circle class="tlc" cx="99.2" cy="377.6" r="1.9"/>
<circle class="tkz" cx="123.1" cy="356.3" r="2.4"/>
<circle class="tkw" cx="101.2" cy="360.5" r="1.7"/>
<circle class="tln" cx="101.7" cy="363" r="2.2"/>
<circle class="tlc" cx="96.9" cy="351.5" r="3"/>
<circle class="tla" cx="94" cy="357.6" r="2.3"/>
<circle class="tkz" cx="120.1" cy="373.6" r="2.3"/>
<circle class="tlo" cx="107.3" cy="374.9" r="2.3"/>
<circle class="tlp" cx="109.5" cy="365.2" r="1.9"/>
<circle class="tlh" cx="111.9" cy="356.6" r="1.8"/>
<circle class="tlq" cx="117.8" cy="377" r="2.4"/>
<circle class="tlr" cx="111.9" cy="360.3" r="2.4"/>
<circle class="tls" cx="126" cy="359.6" r="2.4"/>
<circle class="tle" cx="122.5" cy="358" r="1.9"/>
<circle class="tlt" cx="119.6" cy="355.2" r="2.3"/>
<circle class="tlu" cx="109.6" cy="370.8" r="1.6"/>
<circle class="tlv" cx="119.6" cy="366.7" r="2.5"/>
<circle class="tli" cx="123.3" cy="361.4" r="1.8"/>
<circle class="tlt" cx="94.2" cy="370" r="2.7"/>
<circle class="tlt" cx="95.3" cy="356" r="1.7"/>
<circle class="tkv" cx="106.6" cy="351.3" r="1.8"/>
<circle class="tlv" cx="116.4" cy="360.4" r="2.1"/>
<circle class="tlq" cx="117.1" cy="378.8" r="3"/>
<circle class="tla" cx="118.3" cy="371.2" r="2.3"/>
<circle class="tla" cx="126.6" cy="375.5" r="2.6"/>
<circle class="tlo" cx="115" cy="360.3" r="1.7"/>
<circle class="tlt" cx="116.8" cy="353.5" r="2.5"/>
<circle class="tls" cx="90.4" cy="370.7" r="2.1"/>
<circle class="tlc" cx="107.5" cy="354" r="2.1"/>
<circle class="tkx" cx="126.2" cy="378.2" r="2.6"/>
<circle class="tlh" cx="121" cy="375.8" r="2.1"/>
<circle class="tli" cx="101.5" cy="370.2" r="2"/>
<circle class="tlh" cx="114.3" cy="369.8" r="2.6"/>
<circle class="tlm" cx="110.7" cy="362" r="2.6"/>
<circle class="tlw" cx="108.4" cy="358.7" r="2.9"/>
<circle class="tkw" cx="126.7" cy="374.8" r="2.7"/>
<circle class="tlq" cx="127.5" cy="368.5" r="2.7"/>
<circle class="tlg" cx="115.7" cy="365.6" r="1.7"/>
<circle class="tkw" cx="96" cy="352.6" r="1.9"/>
<circle class="tlh" cx="102.1" cy="372.6" r="2.6"/>
<circle class="tlc" cx="103.7" cy="356.3" r="2.4"/>
<circle class="tlx" cx="97.8" cy="370.4" r="2.9"/>
<circle class="tkw" cx="104.3" cy="374.6" r="2.5"/>
<circle class="tlf" cx="113.5" cy="367.1" r="2.7"/>
<circle class="tlc" cx="96.3" cy="354.2" r="2"/>
<circle class="tly" cx="102.4" cy="370.3" r="2.5"/>
<circle class="tlh" cx="99.1" cy="352.3" r="2.6"/>
<circle class="tla" cx="101.6" cy="370.2" r="2.1"/>
<circle class="tkv" cx="93.1" cy="375.8" r="2.4"/>
<circle class="tld" cx="103" cy="355.5" r="1.7"/>
<circle class="tlo" cx="106.8" cy="370.8" r="1.9"/>
<circle class="tkz" cx="96.7" cy="379.7" r="2.2"/>
<circle class="tlt" cx="93.9" cy="357.5" r="2.3"/>
<circle class="tkz" cx="117.3" cy="354.4" r="1.6"/>
<circle class="tlt" cx="95.6" cy="357.3" r="1.8"/>
<circle class="tlc" cx="93.3" cy="365.1" r="2.9"/>
<circle class="tlc" cx="125.8" cy="359.4" r="2.7"/>
<circle class="tlz" cx="99.3" cy="350.8" r="2.3"/>
<circle class="tma" cx="101.5" cy="367.2" r="2.3"/>
<circle class="tky" cx="103" cy="357.3" r="2.4"/>
<circle class="tlv" cx="106.6" cy="372" r="2.3"/>
<circle class="tly" cx="125.9" cy="368.6" r="2.9"/>
<circle class="tlt" cx="115.3" cy="378.6" r="1.6"/>
<circle class="tlz" cx="122.9" cy="376.7" r="2.5"/>
<circle class="tmb" cx="112.2" cy="379.3" r="1.8"/>
<circle class="tmc" cx="112.5" cy="359.5" r="2.2"/>
<circle class="tlo" cx="119" cy="366" r="2.7"/>
<circle class="tkz" cx="97.2" cy="358.6" r="1.8"/>
<circle class="tlu" cx="112.6" cy="369.4" r="2.6"/>
<circle class="tls" cx="110.4" cy="376.5" r="1.8"/>
<circle class="tlx" cx="124.4" cy="365.9" r="1.6"/>
<circle class="tlt" cx="94.3" cy="369.1" r="2.3"/>
<circle class="tkw" cx="120.4" cy="351" r="2.7"/>
<circle class="tli" cx="123.5" cy="361.5" r="2.3"/>
<circle class="tma" cx="97.8" cy="365.4" r="2.5"/>
<circle class="tlo" cx="96" cy="365.2" r="2.9"/>
<circle class="tla" cx="95.3" cy="370.2" r="2.7"/>
<circle class="tkx" cx="124" cy="375.4" r="2.5"/>
<circle class="tln" cx="113.2" cy="362.3" r="1.8"/>
<circle class="tls" cx="103" cy="354.3" r="2.2"/>
<circle class="tle" cx="119.4" cy="366.3" r="2.5"/>
<circle class="tlg" cx="101.5" cy="367.1" r="2.3"/>
<circle class="tkw" cx="93.7" cy="361.7" r="2.2"/>
<circle class="tkx" cx="112.1" cy="351.2" r="2.4"/>
<circle class="tlz" cx="106.5" cy="378.7" r="2"/>
<circle class="tlf" cx="96.2" cy="365.9" r="1.8"/>
<circle class="tkw" cx="95.1" cy="361.7" r="1.8"/>
<circle class="tli" cx="107.6" cy="374.8" r="1.8"/>
<circle class="tld" cx="118.8" cy="360.9" r="1.9"/>
<circle class="tkw" cx="109.4" cy="351" r="2.7"/>
<circle class="tle" cx="100.7" cy="370.9" r="2.2"/>
<circle class="tlb" cx="127" cy="365.7" r="2.3"/>
<circle class="tls" cx="118.6" cy="355.8" r="1.9"/>
<circle class="tll" cx="107.4" cy="360.2" r="2"/>
<circle class="tlh" cx="97" cy="356.5" r="2.8"/>
<circle class="tlx" cx="100.5" cy="370.8" r="2.5"/>
<circle class="tlc" cx="103.9" cy="351.1" r="1.7"/>
<circle class="tlh" cx="92.8" cy="372.1" r="2.4"/>
<circle class="tkw" cx="90.4" cy="376.4" r="2"/>
<circle class="tlj" cx="122.5" cy="358.7" r="1.9"/>
<circle class="tlc" cx="103" cy="374.5" r="1.9"/>
<circle class="tlt" cx="128.2" cy="374.3" r="1.8"/>
<circle class="tls" cx="90.3" cy="357.7" r="1.8"/>
<circle class="tlc" cx="121.7" cy="374.1" r="2.6"/>
<circle class="tly" cx="123.8" cy="377.5" r="2.1"/>
<circle class="tlv" cx="118.4" cy="369.5" r="3"/>
<circle class="tlo" cx="109.5" cy="357.1" r="1.7"/>
<circle class="tmc" cx="102.2" cy="367" r="2.1"/>
<circle class="tlz" cx="101" cy="379.1" r="1.7"/>
<circle class="tlt" cx="118.4" cy="352.7" r="2.9"/>
<circle class="tkx" cx="113.6" cy="372.2" r="2.8"/>
<circle class="tkw" cx="124.6" cy="350.8" r="2"/>
<circle class="tll" cx="104.1" cy="362.5" r="2.5"/>
<circle class="tln" cx="113" cy="369.4" r="2.7"/>
<circle class="tkw" cx="124" cy="353.9" r="2.1"/>
<circle class="tlm" cx="117.1" cy="363.9" r="1.8"/>
<circle class="tla" cx="90.6" cy="374.5" r="2"/>
<circle class="tlh" cx="96" cy="365.5" r="2.3"/>
<circle class="tlh" cx="127.3" cy="379.2" r="2.7"/>
<circle class="tlo" cx="109.4" cy="371.4" r="2.9"/>
<circle class="tla" cx="107.2" cy="374.9" r="2.3"/>
<circle class="tmb" cx="104" cy="373.6" r="2.7"/>
<circle class="tmd" cx="100.1" cy="374.4" r="2.9"/>
<circle class="tky" cx="103.2" cy="361.4" r="2.6"/>
<circle class="tlo" cx="95.8" cy="362.2" r="1.8"/>
<circle class="tlf" cx="119.8" cy="358.8" r="2.2"/>
<circle class="tlu" cx="111.5" cy="362.4" r="2.7"/>
<circle class="tle" cx="120.3" cy="359.3" r="1.6"/>
<circle class="tla" cx="100.2" cy="358.6" r="1.7"/>
<circle class="tlh" cx="111.1" cy="350.9" r="2.8"/>
<circle class="tlf" cx="117.3" cy="366.7" r="1.8"/>
<circle class="tkz" cx="92.4" cy="354.3" r="2.6"/>
<circle class="tlr" cx="102.4" cy="360.8" r="2.9"/>
<circle class="tkx" cx="111.6" cy="376.4" r="2.7"/>
<circle class="tkz" cx="101.5" cy="354.2" r="2.7"/>
<circle class="tlc" cx="124.4" cy="369.7" r="2.7"/>
<circle class="tld" cx="102.2" cy="364.9" r="2.8"/>
<circle class="tlo" cx="125.4" cy="365.1" r="2.1"/>
<circle class="tkw" cx="122.5" cy="355.3" r="2.5"/>
<circle class="tle" cx="106.5" cy="368.3" r="2.4"/>
<circle class="tme" cx="116.1" cy="373.8" r="3"/>
<ellipse cx="108.5" cy="362.8" rx="9.5" ry="5.8" fill="none" stroke="#cc4c30" stroke-width="1.8" opacity="0.9"/><ellipse cx="109.5" cy="362" rx="4.8" ry="2.8" fill="#58c8c8" opacity="0.9"/>
</g></g>
<line x1="96.8" y1="376.3" x2="124.0" y2="376.3" stroke="#fff" stroke-width="1.1"/>
<text x="110.4" y="375.0" font-size="3.2" font-family="Liberation Sans, Arial, sans-serif" text-anchor="middle" fill="#fff" font-weight="bold" >20 µm</text>
<clipPath id="cpE2"><rect x="91" y="381.4" width="37.5" height="34.8"/></clipPath>
<g clip-path="url(#cpE2)"><rect x="91" y="381.4" width="37.5" height="34.8" fill="#807030"/>
<g filter="url(#cb)">
<rect x="83" y="373.4" width="53.5" height="50.8" fill="#807030"/>
<rect class="tmf" x="83" y="373.4" width="13.9" height="14.3"/>
<rect class="tmf" x="95.9" y="373.4" width="6.4" height="14.3"/>
<rect class="tmg" x="101.2" y="373.4" width="6.4" height="14.3"/>
<rect class="tmg" x="106.6" y="373.4" width="6.4" height="14.3"/>
<rect class="tmg" x="111.9" y="373.4" width="6.4" height="14.3"/>
<rect class="tmf" x="117.3" y="373.4" width="6.4" height="14.3"/>
<rect class="tmf" x="122.6" y="373.4" width="13.9" height="14.3"/>
<rect class="tmf" x="83" y="386.7" width="13.9" height="6.8"/>
<rect class="tmg" x="95.9" y="386.7" width="6.4" height="6.8"/>
<rect class="tmh" x="101.2" y="386.7" width="6.4" height="6.8"/>
<rect class="tmh" x="106.6" y="386.7" width="6.4" height="6.8"/>
<rect class="tmg" x="111.9" y="386.7" width="6.4" height="6.8"/>
<rect class="tmg" x="117.3" y="386.7" width="6.4" height="6.8"/>
<rect class="tmf" x="122.6" y="386.7" width="13.9" height="6.8"/>
<rect class="tmg" x="83" y="392.5" width="13.9" height="6.8"/>
<rect class="tmh" x="95.9" y="392.5" width="6.4" height="6.8"/>
<rect class="tmh" x="101.2" y="392.5" width="6.4" height="6.8"/>
<rect class="tmi" x="106.6" y="392.5" width="6.4" height="6.8"/>
<rect class="tmi" x="111.9" y="392.5" width="6.4" height="6.8"/>
<rect class="tmg" x="117.3" y="392.5" width="6.4" height="6.8"/>
<rect class="tmg" x="122.6" y="392.5" width="13.9" height="6.8"/>
<rect class="tmg" x="83" y="398.3" width="13.9" height="6.8"/>
<rect class="tmh" x="95.9" y="398.3" width="6.4" height="6.8"/>
<rect class="tmh" x="101.2" y="398.3" width="6.4" height="6.8"/>
<rect class="tmi" x="106.6" y="398.3" width="6.4" height="6.8"/>
<rect class="tmi" x="111.9" y="398.3" width="6.4" height="6.8"/>
<rect class="tmg" x="117.3" y="398.3" width="6.4" height="6.8"/>
<rect class="tmf" x="122.6" y="398.3" width="13.9" height="6.8"/>
<rect class="tmf" x="83" y="404.1" width="13.9" height="6.8"/>
<rect class="tmg" x="95.9" y="404.1" width="6.4" height="6.8"/>
<rect class="tmh" x="101.2" y="404.1" width="6.4" height="6.8"/>
<rect class="tmh" x="106.6" y="404.1" width="6.4" height="6.8"/>
<rect class="tmg" x="111.9" y="404.1" width="6.4" height="6.8"/>
<rect class="tmg" x="117.3" y="404.1" width="6.4" height="6.8"/>
<rect class="tmf" x="122.6" y="404.1" width="13.9" height="6.8"/>
<rect class="tmf" x="83" y="409.9" width="13.9" height="14.3"/>
<rect class="tmf" x="95.9" y="409.9" width="6.4" height="14.3"/>
<rect class="tmg" x="101.2" y="409.9" width="6.4" height="14.3"/>
<rect class="tmg" x="106.6" y="409.9" width="6.4" height="14.3"/>
<rect class="tmg" x="111.9" y="409.9" width="6.4" height="14.3"/>
<rect class="tmf" x="117.3" y="409.9" width="6.4" height="14.3"/>
<rect class="tmf" x="122.6" y="409.9" width="13.9" height="14.3"/>
</g>
<g filter="url(#blE2)">
<circle class="tmj" cx="102.3" cy="400.3" r="3"/>
<circle class="tmk" cx="106.2" cy="413.7" r="2.7"/>
<circle class="tml" cx="92.8" cy="383.2" r="2"/>
<circle class="tmm" cx="111.7" cy="410.6" r="1.7"/>
<circle class="tmn" cx="123.9" cy="409.4" r="2.7"/>
<circle class="tmo" cx="99.5" cy="410.6" r="3.1"/>
<circle class="tmp" cx="94.6" cy="383.8" r="1.9"/>
<circle class="tmq" cx="107.1" cy="408.4" r="1.9"/>
<circle class="tmr" cx="107.7" cy="414.6" r="2.9"/>
<circle class="tms" cx="107.2" cy="389.2" r="2.9"/>
<circle class="tml" cx="95.8" cy="388.4" r="1.9"/>
<circle class="tmt" cx="108.3" cy="411.3" r="2.1"/>
<circle class="tmr" cx="117.6" cy="412.5" r="2.3"/>
<circle class="tmu" cx="90.4" cy="409.8" r="2.8"/>
<circle class="tmr" cx="96.3" cy="393.6" r="2.8"/>
<circle class="tmv" cx="99.3" cy="385.6" r="2.5"/>
<circle class="tmw" cx="93.5" cy="390.5" r="2"/>
<circle class="tml" cx="126.3" cy="403.1" r="2"/>
<circle class="tmx" cx="111.8" cy="394.7" r="3.2"/>
<circle class="tmt" cx="116.1" cy="385.7" r="2"/>
<circle class="tmq" cx="106.4" cy="386.7" r="2.8"/>
<circle class="tmy" cx="107.6" cy="387.6" r="1.9"/>
<circle class="tml" cx="127" cy="387.2" r="3.2"/>
<circle class="tmm" cx="111.6" cy="410.2" r="3"/>
<circle class="tmz" cx="91.4" cy="393.8" r="2.7"/>
<circle class="tmo" cx="120.8" cy="387.2" r="2.4"/>
<circle class="tmy" cx="97" cy="403.1" r="3.2"/>
<circle class="tna" cx="97" cy="407.6" r="1.9"/>
<circle class="tnb" cx="108" cy="394.9" r="2.3"/>
<circle class="tnc" cx="114.4" cy="397.2" r="2.8"/>
<circle class="tmk" cx="96.9" cy="390.6" r="2.8"/>
<circle class="tnd" cx="100.6" cy="385" r="2.6"/>
<circle class="tne" cx="106.4" cy="406.5" r="2.5"/>
<circle class="tmw" cx="95.9" cy="412.2" r="2.3"/>
<circle class="tmu" cx="119.6" cy="386.5" r="3"/>
<circle class="tnb" cx="117.3" cy="393.4" r="2.2"/>
<circle class="tmo" cx="122.5" cy="387.2" r="2.4"/>
<circle class="tnf" cx="107.2" cy="384.6" r="2.3"/>
<circle class="tng" cx="92.4" cy="403.7" r="2.2"/>
<circle class="tnh" cx="127.6" cy="405.5" r="1.8"/>
<circle class="tni" cx="101.7" cy="386.4" r="2.9"/>
<circle class="tnb" cx="112.3" cy="399.3" r="2"/>
<circle class="tmu" cx="122.6" cy="415.5" r="3"/>
<circle class="tni" cx="118.4" cy="411.3" r="2.5"/>
<circle class="tmk" cx="106.4" cy="386.5" r="1.7"/>
<circle class="tnj" cx="115" cy="402.7" r="3"/>
<circle class="tmp" cx="123.2" cy="387.8" r="3.2"/>
<circle class="tnk" cx="110.2" cy="410.8" r="2.1"/>
<circle class="tnl" cx="104.7" cy="399" r="2.7"/>
<circle class="tmz" cx="90.6" cy="398.9" r="3"/>
<circle class="tmp" cx="123.7" cy="388.9" r="2"/>
<circle class="tmu" cx="123.2" cy="414.7" r="1.9"/>
<circle class="tnd" cx="128.1" cy="402.7" r="2.8"/>
<circle class="tmw" cx="122.9" cy="408" r="2.5"/>
<circle class="tmo" cx="109.3" cy="409.9" r="2.4"/>
<circle class="tmj" cx="108.7" cy="387.9" r="1.9"/>
<circle class="tmv" cx="127.8" cy="385.6" r="2.1"/>
<circle class="tmp" cx="123.3" cy="414.4" r="2.1"/>
<circle class="tmu" cx="125.3" cy="402.8" r="1.7"/>
<circle class="tng" cx="101.2" cy="382.6" r="2.9"/>
<circle class="tmn" cx="122.9" cy="397.2" r="3"/>
<circle class="tmt" cx="119.8" cy="397.7" r="2.2"/>
<circle class="tmp" cx="91" cy="414.2" r="3.1"/>
<circle class="tna" cx="122.9" cy="406.8" r="2.7"/>
<circle class="tna" cx="125.8" cy="409.3" r="2.7"/>
<circle class="tmt" cx="123.6" cy="392.3" r="3"/>
<circle class="tnm" cx="107" cy="405.5" r="1.8"/>
<circle class="tmo" cx="122.4" cy="405.7" r="1.9"/>
<circle class="tmw" cx="127.6" cy="413.2" r="2.2"/>
<circle class="tnc" cx="107.1" cy="399.5" r="1.6"/>
<circle class="tna" cx="119.4" cy="415.4" r="1.8"/>
<circle class="tnj" cx="111" cy="401.8" r="3.1"/>
<circle class="tmp" cx="122.5" cy="385.5" r="3.1"/>
<circle class="tmu" cx="93.4" cy="380.7" r="2.7"/>
<circle class="tmq" cx="99.7" cy="395" r="2.8"/>
<circle class="tms" cx="101.8" cy="387" r="1.9"/>
<circle class="tmq" cx="102.7" cy="401.9" r="2.6"/>
<circle class="tmu" cx="92.8" cy="414" r="2.2"/>
<circle class="tnn" cx="123.4" cy="399.5" r="2.5"/>
<circle class="tmz" cx="101.9" cy="386.1" r="2.2"/>
<circle class="tnk" cx="99.4" cy="399.5" r="2.4"/>
<circle class="tmu" cx="128.5" cy="416.1" r="2.6"/>
<circle class="tnj" cx="117.1" cy="394.7" r="2.3"/>
<circle class="tms" cx="105.9" cy="399.3" r="1.8"/>
<circle class="tmk" cx="121.8" cy="410.7" r="2.3"/>
<circle class="tmv" cx="125.7" cy="385.7" r="2.5"/>
<circle class="tmo" cx="121.4" cy="399.1" r="2.1"/>
<circle class="tmz" cx="96.7" cy="409.2" r="1.9"/>
<circle class="tmw" cx="118.7" cy="387.7" r="2.5"/>
<circle class="tmm" cx="99.7" cy="407.4" r="2.9"/>
<circle class="tmv" cx="122.7" cy="381.3" r="2.1"/>
<circle class="tms" cx="101.2" cy="404.8" r="1.9"/>
<circle class="tno" cx="98" cy="398.7" r="2.1"/>
<circle class="tmt" cx="122.9" cy="397.9" r="2.1"/>
<circle class="tmm" cx="101.6" cy="415.7" r="2.4"/>
<circle class="tnl" cx="100" cy="393.2" r="2.2"/>
<circle class="tml" cx="97.6" cy="414.6" r="2.1"/>
<circle class="tnk" cx="106.7" cy="388.7" r="2.9"/>
<circle class="tmp" cx="96.6" cy="387.7" r="1.7"/>
<circle class="tnh" cx="128.4" cy="413.2" r="3"/>
<circle class="tnl" cx="107.4" cy="398.2" r="2"/>
<circle class="tmz" cx="115.4" cy="383.7" r="3"/>
<circle class="tmj" cx="101.9" cy="393.2" r="3.2"/>
<circle class="tmj" cx="110.3" cy="407.5" r="1.9"/>
<circle class="tmw" cx="96.4" cy="393.8" r="2.2"/>
<circle class="tnp" cx="117.3" cy="390.7" r="2.5"/>
<circle class="tni" cx="120.8" cy="396.6" r="2.5"/>
<circle class="tmt" cx="90.4" cy="394.1" r="2.3"/>
<circle class="tmr" cx="116.4" cy="383.6" r="2.9"/>
<circle class="tmq" cx="101.8" cy="398" r="2.9"/>
<circle class="tnq" cx="100.6" cy="404.3" r="2.5"/>
<circle class="tne" cx="106.1" cy="393.6" r="2.7"/>
<circle class="tmu" cx="95.5" cy="415" r="2.7"/>
<circle class="tno" cx="106.2" cy="388" r="3.1"/>
<circle class="tmn" cx="119.7" cy="393.7" r="2.7"/>
<circle class="tnk" cx="103" cy="410.3" r="2.2"/>
<circle class="tmz" cx="106.7" cy="383.7" r="2.9"/>
<circle class="tna" cx="127.8" cy="390.6" r="1.8"/>
<circle class="tnr" cx="118.2" cy="392.3" r="2.8"/>
<circle class="tns" cx="112.9" cy="398.2" r="2.4"/>
<circle class="tnl" cx="105.2" cy="387.4" r="2.4"/>
<circle class="tnj" cx="116.5" cy="401.2" r="2.4"/>
<circle class="tne" cx="111.2" cy="410.6" r="2.5"/>
<circle class="tmx" cx="112.6" cy="398.2" r="1.9"/>
<circle class="tmz" cx="112.3" cy="413.2" r="3.2"/>
<circle class="tmr" cx="111.7" cy="404.7" r="1.7"/>
<circle class="tmn" cx="114.8" cy="386.4" r="2"/>
<circle class="tnd" cx="128.7" cy="393.4" r="2.1"/>
<circle class="tmz" cx="119.9" cy="406.1" r="1.8"/>
<circle class="tng" cx="111.9" cy="387.7" r="3.2"/>
<circle class="tnt" cx="111.4" cy="393.3" r="2.6"/>
<circle class="tmp" cx="100.1" cy="385.2" r="2.2"/>
<circle class="tmq" cx="101.8" cy="403.6" r="2.4"/>
<circle class="tmt" cx="117.3" cy="387.7" r="1.9"/>
<circle class="tmw" cx="92.1" cy="392.1" r="1.7"/>
<circle class="tml" cx="94.5" cy="412" r="2.1"/>
<circle class="tmt" cx="96.1" cy="398.3" r="2.1"/>
<circle class="tmk" cx="122.9" cy="404.1" r="1.7"/>
<circle class="tmo" cx="100.9" cy="407.1" r="2.2"/>
<circle class="tnq" cx="100.2" cy="396.7" r="1.9"/>
<circle class="tmw" cx="90.6" cy="405.7" r="1.8"/>
<circle class="tmn" cx="97.3" cy="393.7" r="1.7"/>
<circle class="tnp" cx="116.7" cy="406.7" r="2.5"/>
<circle class="tnp" cx="122" cy="387.4" r="2.8"/>
<circle class="tnc" cx="106.7" cy="397.2" r="2.1"/>
<circle class="tmo" cx="117.9" cy="383.9" r="3"/>
<circle class="tna" cx="102.3" cy="382.7" r="2.5"/>
<circle class="tmm" cx="114.2" cy="393.5" r="2.1"/>
<circle class="tmu" cx="119.4" cy="411.7" r="2.9"/>
<circle class="tmm" cx="123.1" cy="402.1" r="2.1"/>
<circle class="tmp" cx="100.3" cy="413.6" r="1.8"/>
<circle class="tnh" cx="101.1" cy="411.2" r="1.8"/>
<circle class="tmn" cx="124.8" cy="399.1" r="2.7"/>
<circle class="tnp" cx="117" cy="412" r="2.1"/>
<circle class="tmn" cx="116" cy="406.7" r="2.1"/>
<circle class="tmn" cx="128" cy="398.9" r="2.5"/>
<circle class="tmo" cx="113.8" cy="416.3" r="2.9"/>
<circle class="tnl" cx="110.8" cy="391.9" r="2.1"/>
<circle class="tnh" cx="124.2" cy="388" r="1.7"/>
<circle class="tmo" cx="98.3" cy="391.5" r="1.7"/>
<circle class="tmk" cx="119.3" cy="404.9" r="3"/>
<circle class="tnj" cx="111.7" cy="398.4" r="3.2"/>
<circle class="tmt" cx="126.5" cy="398.3" r="2"/>
<circle class="tmp" cx="95.6" cy="404.9" r="2.8"/>
<circle class="tni" cx="90.7" cy="392.7" r="2.8"/>
<circle class="tnl" cx="107.2" cy="406.3" r="3"/>
<circle class="tmz" cx="99.8" cy="386.6" r="2.8"/>
<circle class="tmt" cx="102.2" cy="410.3" r="2"/>
</g></g>
<line x1="97.6" y1="413.5" x2="125.7" y2="413.5" stroke="#fff" stroke-width="1.1"/>
<text x="111.6" y="412.2" font-size="3.2" font-family="Liberation Sans, Arial, sans-serif" text-anchor="middle" fill="#fff" font-weight="bold" >20 µm</text>
<line x1="177.2" y1="40.5" x2="177.2" y2="121.7" stroke="#111" stroke-width="1.0"/>
<line x1="176.7" y1="121.2" x2="230.4" y2="121.2" stroke="#111" stroke-width="1.0"/>
<line x1="174.2" y1="43.5" x2="177.2" y2="43.5" stroke="#111" stroke-width="0.9"/>
<text x="172.0" y="45.6" font-size="6.0" font-family="Liberation Sans, Arial, sans-serif" text-anchor="end" fill="#1a1a1a" font-weight="normal" >8000</text>
<line x1="174.2" y1="62.8" x2="177.2" y2="62.8" stroke="#111" stroke-width="0.9"/>
<text x="172.0" y="65.0" font-size="6.0" font-family="Liberation Sans, Arial, sans-serif" text-anchor="end" fill="#1a1a1a" font-weight="normal" >6000</text>
<line x1="174.2" y1="82.2" x2="177.2" y2="82.2" stroke="#111" stroke-width="0.9"/>
<text x="172.0" y="84.4" font-size="6.0" font-family="Liberation Sans, Arial, sans-serif" text-anchor="end" fill="#1a1a1a" font-weight="normal" >4000</text>
<line x1="174.2" y1="101.8" x2="177.2" y2="101.8" stroke="#111" stroke-width="0.9"/>
<text x="172.0" y="104.0" font-size="6.0" font-family="Liberation Sans, Arial, sans-serif" text-anchor="end" fill="#1a1a1a" font-weight="normal" >2000</text>
<line x1="174.2" y1="121.2" x2="177.2" y2="121.2" stroke="#111" stroke-width="0.9"/>
<text x="172.0" y="123.4" font-size="6.0" font-family="Liberation Sans, Arial, sans-serif" text-anchor="end" fill="#1a1a1a" font-weight="normal" >0</text>
<line x1="187.4" y1="121.2" x2="187.4" y2="123.6" stroke="#111" stroke-width="0.9"/>
<line x1="203.4" y1="121.2" x2="203.4" y2="123.6" stroke="#111" stroke-width="0.9"/>
<line x1="219.3" y1="121.2" x2="219.3" y2="123.6" stroke="#111" stroke-width="0.9"/>
<rect x="182.2" y="108.2" width="10.4" height="13.0" fill="#fff" stroke="#222" stroke-width="0.8"/>
<rect x="198.1" y="95.2" width="10.6" height="26.0" fill="#fff" stroke="#222" stroke-width="0.8"/>
<rect x="214.0" y="90.4" width="10.6" height="30.8" fill="#fff" stroke="#222" stroke-width="0.8"/>
<line x1="187.4" y1="103.5" x2="187.4" y2="113.0" stroke="#222" stroke-width="0.8"/>
<line x1="185.2" y1="103.5" x2="189.6" y2="103.5" stroke="#222" stroke-width="0.8"/>
<line x1="185.2" y1="113.0" x2="189.6" y2="113.0" stroke="#222" stroke-width="0.8"/>
<line x1="203.4" y1="79.6" x2="203.4" y2="109.5" stroke="#222" stroke-width="0.8"/>
<line x1="201.2" y1="79.6" x2="205.6" y2="79.6" stroke="#222" stroke-width="0.8"/>
<line x1="201.2" y1="109.5" x2="205.6" y2="109.5" stroke="#222" stroke-width="0.8"/>
<line x1="219.3" y1="70.4" x2="219.3" y2="110.4" stroke="#222" stroke-width="0.8"/>
<line x1="217.1" y1="70.4" x2="221.5" y2="70.4" stroke="#222" stroke-width="0.8"/>
<line x1="217.1" y1="110.4" x2="221.5" y2="110.4" stroke="#222" stroke-width="0.8"/>
<circle cx="186.2" cy="103.1" r="1.20" fill="#E8A02C" stroke="#7a4c10" stroke-width="0.5"/>
<circle cx="188.7" cy="102.3" r="1.20" fill="#E8A02C" stroke="#7a4c10" stroke-width="0.5"/>
<circle cx="187.5" cy="105.6" r="1.20" fill="#E8A02C" stroke="#7a4c10" stroke-width="0.5"/>
<circle cx="183.8" cy="109.7" r="1.20" fill="#E8A02C" stroke="#7a4c10" stroke-width="0.5"/>
<circle cx="187.4" cy="109.9" r="1.20" fill="#E8A02C" stroke="#7a4c10" stroke-width="0.5"/>
<circle cx="191.0" cy="109.7" r="1.20" fill="#E8A02C" stroke="#7a4c10" stroke-width="0.5"/>
<circle cx="184.0" cy="112.3" r="1.20" fill="#E8A02C" stroke="#7a4c10" stroke-width="0.5"/>
<circle cx="188.8" cy="112.3" r="1.20" fill="#E8A02C" stroke="#7a4c10" stroke-width="0.5"/>
<circle cx="202.7" cy="70.0" r="1.20" fill="#2C8C3C" stroke="#184c22" stroke-width="0.5"/>
<circle cx="203.6" cy="71.8" r="1.20" fill="#2C8C3C" stroke="#184c22" stroke-width="0.5"/>
<circle cx="202.8" cy="73.2" r="1.20" fill="#2C8C3C" stroke="#184c22" stroke-width="0.5"/>
<circle cx="203.5" cy="79.9" r="1.20" fill="#2C8C3C" stroke="#184c22" stroke-width="0.5"/>
<circle cx="203.5" cy="90.3" r="1.20" fill="#2C8C3C" stroke="#184c22" stroke-width="0.5"/>
<circle cx="201.5" cy="94.0" r="1.20" fill="#2C8C3C" stroke="#184c22" stroke-width="0.5"/>
<circle cx="205.6" cy="94.8" r="1.20" fill="#2C8C3C" stroke="#184c22" stroke-width="0.5"/>
<circle cx="201.0" cy="98.4" r="1.20" fill="#2C8C3C" stroke="#184c22" stroke-width="0.5"/>
<circle cx="204.3" cy="99.0" r="1.20" fill="#2C8C3C" stroke="#184c22" stroke-width="0.5"/>
<circle cx="206.2" cy="98.4" r="1.20" fill="#2C8C3C" stroke="#184c22" stroke-width="0.5"/>
<circle cx="201.8" cy="102.3" r="1.20" fill="#2C8C3C" stroke="#184c22" stroke-width="0.5"/>
<circle cx="205.2" cy="103.0" r="1.20" fill="#2C8C3C" stroke="#184c22" stroke-width="0.5"/>
<circle cx="201.0" cy="106.4" r="1.20" fill="#2C8C3C" stroke="#184c22" stroke-width="0.5"/>
<circle cx="204.4" cy="107.2" r="1.20" fill="#2C8C3C" stroke="#184c22" stroke-width="0.5"/>
<circle cx="201.5" cy="113.4" r="1.20" fill="#2C8C3C" stroke="#184c22" stroke-width="0.5"/>
<circle cx="205.6" cy="113.4" r="1.20" fill="#2C8C3C" stroke="#184c22" stroke-width="0.5"/>
<circle cx="219.0" cy="55.2" r="1.20" fill="#86182E" stroke="#480a18" stroke-width="0.5"/>
<circle cx="219.0" cy="60.6" r="1.20" fill="#86182E" stroke="#480a18" stroke-width="0.5"/>
<circle cx="216.0" cy="90.2" r="1.20" fill="#86182E" stroke="#480a18" stroke-width="0.5"/>
<circle cx="221.3" cy="90.2" r="1.20" fill="#86182E" stroke="#480a18" stroke-width="0.5"/>
<circle cx="219.0" cy="95.6" r="1.20" fill="#4894C0" stroke="#205068" stroke-width="0.5"/>
<circle cx="216.0" cy="103.0" r="1.20" fill="#4894C0" stroke="#205068" stroke-width="0.5"/>
<circle cx="221.3" cy="102.4" r="1.20" fill="#86182E" stroke="#480a18" stroke-width="0.5"/>
<circle cx="216.8" cy="110.4" r="1.20" fill="#4894C0" stroke="#205068" stroke-width="0.5"/>
<circle cx="221.3" cy="108.0" r="1.20" fill="#86182E" stroke="#480a18" stroke-width="0.5"/>
<circle cx="219.0" cy="109.6" r="1.20" fill="#86182E" stroke="#480a18" stroke-width="0.5"/>
<line x1="184.6" y1="67.3" x2="203.0" y2="67.3" stroke="#111" stroke-width="0.8"/>
<text x="193.8" y="65.5" font-size="6.0" font-family="Liberation Sans, Arial, sans-serif" text-anchor="middle" fill="#222" font-weight="normal" >0.0709</text>
<text transform="translate(154.2,104.8) rotate(-90)" x="0" y="0" font-size="7.5" font-family="Liberation Sans, Arial, sans-serif" fill="#1a1a1a" stroke="#1a1a1a" stroke-width="0.3" textLength="45.6" lengthAdjust="spacingAndGlyphs"><tspan dy="0">CD8</tspan><tspan dy="-2.7" font-size="5.1">high</tspan><tspan dy="2.7"> cells/mm</tspan><tspan dy="-2.7" font-size="5.1">2</tspan></text>
<line x1="272.2" y1="40.5" x2="272.2" y2="121.7" stroke="#111" stroke-width="1.0"/>
<line x1="271.7" y1="121.2" x2="325.2" y2="121.2" stroke="#111" stroke-width="1.0"/>
<line x1="269.2" y1="44.7" x2="272.2" y2="44.7" stroke="#111" stroke-width="0.9"/>
<text x="267.0" y="46.9" font-size="6.0" font-family="Liberation Sans, Arial, sans-serif" text-anchor="end" fill="#1a1a1a" font-weight="normal" >3000</text>
<line x1="269.2" y1="70.3" x2="272.2" y2="70.3" stroke="#111" stroke-width="0.9"/>
<text x="267.0" y="72.5" font-size="6.0" font-family="Liberation Sans, Arial, sans-serif" text-anchor="end" fill="#1a1a1a" font-weight="normal" >2000</text>
<line x1="269.2" y1="95.7" x2="272.2" y2="95.7" stroke="#111" stroke-width="0.9"/>
<text x="267.0" y="97.9" font-size="6.0" font-family="Liberation Sans, Arial, sans-serif" text-anchor="end" fill="#1a1a1a" font-weight="normal" >1000</text>
<line x1="269.2" y1="121.2" x2="272.2" y2="121.2" stroke="#111" stroke-width="0.9"/>
<text x="267.0" y="123.4" font-size="6.0" font-family="Liberation Sans, Arial, sans-serif" text-anchor="end" fill="#1a1a1a" font-weight="normal" >0</text>
<line x1="282.6" y1="121.2" x2="282.6" y2="123.6" stroke="#111" stroke-width="0.9"/>
<line x1="298.2" y1="121.2" x2="298.2" y2="123.6" stroke="#111" stroke-width="0.9"/>
<line x1="313.6" y1="121.2" x2="313.6" y2="123.6" stroke="#111" stroke-width="0.9"/>
<rect x="277.6" y="111.8" width="10.1" height="9.4" fill="#fff" stroke="#222" stroke-width="0.8"/>
<rect x="293.0" y="96.4" width="10.6" height="24.8" fill="#fff" stroke="#222" stroke-width="0.8"/>
<rect x="308.5" y="107.7" width="10.5" height="13.5" fill="#fff" stroke="#222" stroke-width="0.8"/>
<line x1="282.6" y1="102.0" x2="282.6" y2="121.2" stroke="#222" stroke-width="0.8"/>
<line x1="280.4" y1="102.0" x2="284.8" y2="102.0" stroke="#222" stroke-width="0.8"/>
<line x1="298.2" y1="77.2" x2="298.2" y2="113.0" stroke="#222" stroke-width="0.8"/>
<line x1="296.0" y1="77.2" x2="300.4" y2="77.2" stroke="#222" stroke-width="0.8"/>
<line x1="296.0" y1="113.0" x2="300.4" y2="113.0" stroke="#222" stroke-width="0.8"/>
<line x1="313.6" y1="88.2" x2="313.6" y2="121.2" stroke="#222" stroke-width="0.8"/>
<line x1="311.4" y1="88.2" x2="315.8" y2="88.2" stroke="#222" stroke-width="0.8"/>
<circle cx="282.5" cy="93.3" r="1.20" fill="#E8A02C" stroke="#7a4c10" stroke-width="0.5"/>
<circle cx="282.5" cy="103.0" r="1.20" fill="#E8A02C" stroke="#7a4c10" stroke-width="0.5"/>
<circle cx="280.8" cy="110.3" r="1.20" fill="#E8A02C" stroke="#7a4c10" stroke-width="0.5"/>
<circle cx="284.5" cy="110.3" r="1.20" fill="#E8A02C" stroke="#7a4c10" stroke-width="0.5"/>
<circle cx="280.4" cy="119.5" r="1.20" fill="#E8A02C" stroke="#7a4c10" stroke-width="0.5"/>
<circle cx="282.9" cy="120.5" r="1.20" fill="#E8A02C" stroke="#7a4c10" stroke-width="0.5"/>
<circle cx="285.5" cy="119.5" r="1.20" fill="#E8A02C" stroke="#7a4c10" stroke-width="0.5"/>
<circle cx="281.5" cy="117.5" r="1.20" fill="#E8A02C" stroke="#7a4c10" stroke-width="0.5"/>
<circle cx="298.0" cy="52.9" r="1.20" fill="#2C8C3C" stroke="#184c22" stroke-width="0.5"/>
<circle cx="295.9" cy="82.4" r="1.20" fill="#2C8C3C" stroke="#184c22" stroke-width="0.5"/>
<circle cx="300.0" cy="81.8" r="1.20" fill="#2C8C3C" stroke="#184c22" stroke-width="0.5"/>
<circle cx="295.3" cy="86.5" r="1.20" fill="#2C8C3C" stroke="#184c22" stroke-width="0.5"/>
<circle cx="299.0" cy="87.5" r="1.20" fill="#2C8C3C" stroke="#184c22" stroke-width="0.5"/>
<circle cx="294.8" cy="97.9" r="1.20" fill="#2C8C3C" stroke="#184c22" stroke-width="0.5"/>
<circle cx="300.0" cy="97.9" r="1.20" fill="#2C8C3C" stroke="#184c22" stroke-width="0.5"/>
<circle cx="295.9" cy="102.0" r="1.20" fill="#2C8C3C" stroke="#184c22" stroke-width="0.5"/>
<circle cx="299.4" cy="103.6" r="1.20" fill="#2C8C3C" stroke="#184c22" stroke-width="0.5"/>
<circle cx="299.0" cy="107.2" r="1.20" fill="#2C8C3C" stroke="#184c22" stroke-width="0.5"/>
<circle cx="296.9" cy="111.3" r="1.20" fill="#2C8C3C" stroke="#184c22" stroke-width="0.5"/>
<circle cx="299.0" cy="112.3" r="1.20" fill="#2C8C3C" stroke="#184c22" stroke-width="0.5"/>
<circle cx="294.8" cy="118.5" r="1.20" fill="#2C8C3C" stroke="#184c22" stroke-width="0.5"/>
<circle cx="299.0" cy="118.5" r="1.20" fill="#2C8C3C" stroke="#184c22" stroke-width="0.5"/>
<circle cx="301.0" cy="118.5" r="1.20" fill="#2C8C3C" stroke="#184c22" stroke-width="0.5"/>
<circle cx="313.0" cy="64.8" r="1.20" fill="#86182E" stroke="#480a18" stroke-width="0.5"/>
<circle cx="313.8" cy="91.3" r="1.05" fill="#fff8f0" stroke="#3C84B0" stroke-width="0.85"/>
<circle cx="314.4" cy="104.5" r="1.20" fill="#86182E" stroke="#480a18" stroke-width="0.5"/>
<circle cx="309.3" cy="120.0" r="1.20" fill="#86182E" stroke="#480a18" stroke-width="0.5"/>
<circle cx="311.4" cy="119.5" r="1.20" fill="#86182E" stroke="#480a18" stroke-width="0.5"/>
<circle cx="313.8" cy="120.2" r="1.20" fill="#86182E" stroke="#480a18" stroke-width="0.5"/>
<circle cx="316.5" cy="120.2" r="1.20" fill="#4894C0" stroke="#205068" stroke-width="0.5"/>
<circle cx="312.4" cy="118.5" r="1.20" fill="#86182E" stroke="#480a18" stroke-width="0.5"/>
<line x1="279.0" y1="50.1" x2="297.2" y2="50.1" stroke="#111" stroke-width="0.8"/>
<text x="288.1" y="48.3" font-size="6.0" font-family="Liberation Sans, Arial, sans-serif" text-anchor="middle" fill="#222" font-weight="normal" >0.0603</text>
<text transform="translate(250.3,113.5) rotate(-90)" x="0" y="0" font-size="7.5" font-family="Liberation Sans, Arial, sans-serif" fill="#1a1a1a" stroke="#1a1a1a" stroke-width="0.3" textLength="64.6" lengthAdjust="spacingAndGlyphs"><tspan dy="0">CD8</tspan><tspan dy="-2.7" font-size="5.1">high</tspan><tspan dy="2.7">PD1</tspan><tspan dy="-2.7" font-size="5.1">high</tspan><tspan dy="2.7"> cells/mm</tspan><tspan dy="-2.7" font-size="5.1">2</tspan></text>
<line x1="372.9" y1="40.5" x2="372.9" y2="121.7" stroke="#111" stroke-width="1.0"/>
<line x1="372.4" y1="121.2" x2="424.6" y2="121.2" stroke="#111" stroke-width="1.0"/>
<line x1="369.9" y1="46.6" x2="372.9" y2="46.6" stroke="#111" stroke-width="0.9"/>
<text x="367.7" y="48.8" font-size="6.0" font-family="Liberation Sans, Arial, sans-serif" text-anchor="end" fill="#1a1a1a" font-weight="normal" >200</text>
<line x1="369.9" y1="65.1" x2="372.9" y2="65.1" stroke="#111" stroke-width="0.9"/>
<text x="367.7" y="67.2" font-size="6.0" font-family="Liberation Sans, Arial, sans-serif" text-anchor="end" fill="#1a1a1a" font-weight="normal" >150</text>
<line x1="369.9" y1="83.8" x2="372.9" y2="83.8" stroke="#111" stroke-width="0.9"/>
<text x="367.7" y="86.0" font-size="6.0" font-family="Liberation Sans, Arial, sans-serif" text-anchor="end" fill="#1a1a1a" font-weight="normal" >100</text>
<line x1="369.9" y1="102.5" x2="372.9" y2="102.5" stroke="#111" stroke-width="0.9"/>
<text x="367.7" y="104.7" font-size="6.0" font-family="Liberation Sans, Arial, sans-serif" text-anchor="end" fill="#1a1a1a" font-weight="normal" >50</text>
<line x1="369.9" y1="121.2" x2="372.9" y2="121.2" stroke="#111" stroke-width="0.9"/>
<text x="367.7" y="123.4" font-size="6.0" font-family="Liberation Sans, Arial, sans-serif" text-anchor="end" fill="#1a1a1a" font-weight="normal" >0</text>
<line x1="383.2" y1="121.2" x2="383.2" y2="123.6" stroke="#111" stroke-width="0.9"/>
<line x1="398.9" y1="121.2" x2="398.9" y2="123.6" stroke="#111" stroke-width="0.9"/>
<line x1="414.4" y1="121.2" x2="414.4" y2="123.6" stroke="#111" stroke-width="0.9"/>
<rect x="378.0" y="118.9" width="10.3" height="2.3" fill="#fff" stroke="#222" stroke-width="0.8"/>
<rect x="393.8" y="103.0" width="10.4" height="18.2" fill="#fff" stroke="#222" stroke-width="0.8"/>
<rect x="409.2" y="114.1" width="10.6" height="7.1" fill="#fff" stroke="#222" stroke-width="0.8"/>
<line x1="383.2" y1="114.5" x2="383.2" y2="121.2" stroke="#222" stroke-width="0.8"/>
<line x1="381.0" y1="114.5" x2="385.4" y2="114.5" stroke="#222" stroke-width="0.8"/>
<line x1="398.9" y1="80.7" x2="398.9" y2="121.2" stroke="#222" stroke-width="0.8"/>
<line x1="396.7" y1="80.7" x2="401.1" y2="80.7" stroke="#222" stroke-width="0.8"/>
<line x1="414.4" y1="100.3" x2="414.4" y2="121.2" stroke="#222" stroke-width="0.8"/>
<line x1="412.2" y1="100.3" x2="416.6" y2="100.3" stroke="#222" stroke-width="0.8"/>
<circle cx="383.3" cy="110.0" r="1.20" fill="#E8A02C" stroke="#7a4c10" stroke-width="0.5"/>
<circle cx="380.6" cy="118.6" r="1.20" fill="#E8A02C" stroke="#7a4c10" stroke-width="0.5"/>
<circle cx="383.0" cy="119.6" r="1.20" fill="#E8A02C" stroke="#7a4c10" stroke-width="0.5"/>
<circle cx="385.6" cy="118.6" r="1.20" fill="#E8A02C" stroke="#7a4c10" stroke-width="0.5"/>
<circle cx="381.6" cy="120.6" r="1.20" fill="#E8A02C" stroke="#7a4c10" stroke-width="0.5"/>
<circle cx="384.6" cy="120.8" r="1.20" fill="#E8A02C" stroke="#7a4c10" stroke-width="0.5"/>
<circle cx="398.4" cy="53.6" r="1.20" fill="#2C8C3C" stroke="#184c22" stroke-width="0.5"/>
<circle cx="398.4" cy="70.5" r="1.20" fill="#2C8C3C" stroke="#184c22" stroke-width="0.5"/>
<circle cx="398.4" cy="95.3" r="1.20" fill="#2C8C3C" stroke="#184c22" stroke-width="0.5"/>
<circle cx="397.0" cy="96.6" r="1.20" fill="#2C8C3C" stroke="#184c22" stroke-width="0.5"/>
<circle cx="399.6" cy="97.6" r="1.20" fill="#2C8C3C" stroke="#184c22" stroke-width="0.5"/>
<circle cx="398.4" cy="107.7" r="1.20" fill="#2C8C3C" stroke="#184c22" stroke-width="0.5"/>
<circle cx="396.2" cy="117.8" r="1.20" fill="#2C8C3C" stroke="#184c22" stroke-width="0.5"/>
<circle cx="399.6" cy="116.8" r="1.20" fill="#2C8C3C" stroke="#184c22" stroke-width="0.5"/>
<circle cx="401.8" cy="118.3" r="1.20" fill="#2C8C3C" stroke="#184c22" stroke-width="0.5"/>
<circle cx="397.3" cy="120.2" r="1.20" fill="#2C8C3C" stroke="#184c22" stroke-width="0.5"/>
<circle cx="413.7" cy="89.0" r="1.20" fill="#86182E" stroke="#480a18" stroke-width="0.5"/>
<circle cx="413.7" cy="101.6" r="1.20" fill="#4894C0" stroke="#205068" stroke-width="0.5"/>
<circle cx="413.7" cy="109.3" r="1.20" fill="#86182E" stroke="#480a18" stroke-width="0.5"/>
<circle cx="410.8" cy="120.2" r="1.20" fill="#86182E" stroke="#480a18" stroke-width="0.5"/>
<circle cx="413.7" cy="121.0" r="1.20" fill="#86182E" stroke="#480a18" stroke-width="0.5"/>
<circle cx="416.4" cy="120.2" r="1.20" fill="#4894C0" stroke="#205068" stroke-width="0.5"/>
<line x1="378.8" y1="40.3" x2="392.0" y2="40.3" stroke="#111" stroke-width="0.8"/>
<text x="386.8" y="38.5" font-size="6.0" font-family="Liberation Sans, Arial, sans-serif" text-anchor="middle" fill="#222" font-weight="normal" >0.0475</text>
<line x1="399.0" y1="48.6" x2="416.0" y2="48.6" stroke="#111" stroke-width="0.8"/>
<text x="407.6" y="46.8" font-size="6.0" font-family="Liberation Sans, Arial, sans-serif" text-anchor="middle" fill="#222" font-weight="normal" >0.0475</text>
<text transform="translate(343.7,109.6) rotate(-90)" x="0" y="0" font-size="7.5" font-family="Liberation Sans, Arial, sans-serif" fill="#1a1a1a" stroke="#1a1a1a" stroke-width="0.3" textLength="57.1" lengthAdjust="spacingAndGlyphs"><tspan dy="0">CD8</tspan><tspan dy="-2.7" font-size="5.1">high</tspan><tspan dy="2.7">PD1</tspan><tspan dy="-2.7" font-size="5.1">high</tspan><tspan dy="2.7">TIGIT</tspan><tspan dy="-2.7" font-size="5.1">high</tspan></text>
<text transform="translate(353.8,93.4) rotate(-90)" x="0" y="0" font-size="7.5" font-family="Liberation Sans, Arial, sans-serif" fill="#1a1a1a" stroke="#1a1a1a" stroke-width="0.3" textLength="25.2" lengthAdjust="spacingAndGlyphs"><tspan dy="0">cells/mm</tspan><tspan dy="-2.7" font-size="5.1">2</tspan></text>
<line x1="466.8" y1="45.2" x2="466.8" y2="66.4" stroke="#111" stroke-width="1.0"/>
<line x1="466.8" y1="71.4" x2="466.8" y2="121.7" stroke="#111" stroke-width="1.0"/>
<line x1="466.3" y1="121.2" x2="513.8" y2="121.2" stroke="#111" stroke-width="1.0"/>
<line x1="464.6" y1="66.4" x2="469.0" y2="66.4" stroke="#111" stroke-width="0.9"/>
<line x1="464.6" y1="71.4" x2="469.0" y2="71.4" stroke="#111" stroke-width="0.9"/>
<line x1="463.8" y1="46.0" x2="466.8" y2="46.0" stroke="#111" stroke-width="0.9"/>
<text x="461.6" y="48.1" font-size="6.0" font-family="Liberation Sans, Arial, sans-serif" text-anchor="end" fill="#1a1a1a" font-weight="normal" >1200</text>
<line x1="463.8" y1="50.9" x2="466.8" y2="50.9" stroke="#111" stroke-width="0.9"/>
<text x="461.6" y="53.0" font-size="6.0" font-family="Liberation Sans, Arial, sans-serif" text-anchor="end" fill="#1a1a1a" font-weight="normal" >1000</text>
<line x1="463.8" y1="55.7" x2="466.8" y2="55.7" stroke="#111" stroke-width="0.9"/>
<text x="461.6" y="57.9" font-size="6.0" font-family="Liberation Sans, Arial, sans-serif" text-anchor="end" fill="#1a1a1a" font-weight="normal" >800</text>
<line x1="463.8" y1="60.5" x2="466.8" y2="60.5" stroke="#111" stroke-width="0.9"/>
<text x="461.6" y="62.6" font-size="6.0" font-family="Liberation Sans, Arial, sans-serif" text-anchor="end" fill="#1a1a1a" font-weight="normal" >600</text>
<line x1="463.8" y1="65.4" x2="466.8" y2="65.4" stroke="#111" stroke-width="0.9"/>
<text x="461.6" y="67.6" font-size="6.0" font-family="Liberation Sans, Arial, sans-serif" text-anchor="end" fill="#1a1a1a" font-weight="normal" >400</text>
<line x1="463.8" y1="72.0" x2="466.8" y2="72.0" stroke="#111" stroke-width="0.9"/>
<text x="461.6" y="74.2" font-size="6.0" font-family="Liberation Sans, Arial, sans-serif" text-anchor="end" fill="#1a1a1a" font-weight="normal" >300</text>
<line x1="463.8" y1="88.0" x2="466.8" y2="88.0" stroke="#111" stroke-width="0.9"/>
<text x="461.6" y="90.2" font-size="6.0" font-family="Liberation Sans, Arial, sans-serif" text-anchor="end" fill="#1a1a1a" font-weight="normal" >200</text>
<line x1="463.8" y1="104.6" x2="466.8" y2="104.6" stroke="#111" stroke-width="0.9"/>
<text x="461.6" y="106.8" font-size="6.0" font-family="Liberation Sans, Arial, sans-serif" text-anchor="end" fill="#1a1a1a" font-weight="normal" >100</text>
<line x1="463.8" y1="121.2" x2="466.8" y2="121.2" stroke="#111" stroke-width="0.9"/>
<text x="461.6" y="123.4" font-size="6.0" font-family="Liberation Sans, Arial, sans-serif" text-anchor="end" fill="#1a1a1a" font-weight="normal" >0</text>
<line x1="475.9" y1="121.2" x2="475.9" y2="123.6" stroke="#111" stroke-width="0.9"/>
<line x1="490.3" y1="121.2" x2="490.3" y2="123.6" stroke="#111" stroke-width="0.9"/>
<line x1="504.0" y1="121.2" x2="504.0" y2="123.6" stroke="#111" stroke-width="0.9"/>
<rect x="471.1" y="118.3" width="9.7" height="2.9" fill="#fff" stroke="#222" stroke-width="0.8"/>
<rect x="485.4" y="99.2" width="9.8" height="22.0" fill="#fff" stroke="#222" stroke-width="0.8"/>
<rect x="499.3" y="114.4" width="9.6" height="6.8" fill="#fff" stroke="#222" stroke-width="0.8"/>
<line x1="475.9" y1="111.6" x2="475.9" y2="121.2" stroke="#222" stroke-width="0.8"/>
<line x1="473.7" y1="111.6" x2="478.1" y2="111.6" stroke="#222" stroke-width="0.8"/>
<line x1="490.3" y1="63.8" x2="490.3" y2="121.2" stroke="#222" stroke-width="0.8"/>
<line x1="488.1" y1="63.8" x2="492.5" y2="63.8" stroke="#222" stroke-width="0.8"/>
<line x1="504.0" y1="105.3" x2="504.0" y2="121.2" stroke="#222" stroke-width="0.8"/>
<line x1="501.8" y1="105.3" x2="506.2" y2="105.3" stroke="#222" stroke-width="0.8"/>
<circle cx="475.8" cy="102.1" r="1.05" fill="#fff8f0" stroke="#C8822C" stroke-width="0.85"/>
<circle cx="472.6" cy="119.6" r="1.20" fill="#E8A02C" stroke="#7a4c10" stroke-width="0.5"/>
<circle cx="475.2" cy="120.4" r="1.20" fill="#E8A02C" stroke="#7a4c10" stroke-width="0.5"/>
<circle cx="477.8" cy="119.6" r="1.20" fill="#E8A02C" stroke="#7a4c10" stroke-width="0.5"/>
<circle cx="479.6" cy="120.6" r="1.20" fill="#E8A02C" stroke="#7a4c10" stroke-width="0.5"/>
<circle cx="474.0" cy="121.0" r="1.20" fill="#E8A02C" stroke="#7a4c10" stroke-width="0.5"/>
<circle cx="490.2" cy="51.2" r="1.20" fill="#2C8C3C" stroke="#184c22" stroke-width="0.5"/>
<circle cx="490.2" cy="74.4" r="1.20" fill="#2C8C3C" stroke="#184c22" stroke-width="0.5"/>
<circle cx="488.7" cy="109.3" r="1.20" fill="#2C8C3C" stroke="#184c22" stroke-width="0.5"/>
<circle cx="491.0" cy="108.2" r="1.20" fill="#2C8C3C" stroke="#184c22" stroke-width="0.5"/>
<circle cx="487.6" cy="118.3" r="1.20" fill="#2C8C3C" stroke="#184c22" stroke-width="0.5"/>
<circle cx="490.2" cy="117.2" r="1.20" fill="#2C8C3C" stroke="#184c22" stroke-width="0.5"/>
<circle cx="493.0" cy="119.4" r="1.20" fill="#2C8C3C" stroke="#184c22" stroke-width="0.5"/>
<circle cx="489.0" cy="120.4" r="1.20" fill="#2C8C3C" stroke="#184c22" stroke-width="0.5"/>
<circle cx="504.0" cy="95.8" r="1.20" fill="#86182E" stroke="#480a18" stroke-width="0.5"/>
<circle cx="504.0" cy="104.8" r="1.20" fill="#4894C0" stroke="#205068" stroke-width="0.5"/>
<circle cx="504.0" cy="112.6" r="1.20" fill="#4894C0" stroke="#205068" stroke-width="0.5"/>
<circle cx="501.0" cy="119.6" r="1.20" fill="#86182E" stroke="#480a18" stroke-width="0.5"/>
<circle cx="504.0" cy="120.6" r="1.20" fill="#86182E" stroke="#480a18" stroke-width="0.5"/>
<circle cx="507.0" cy="119.6" r="1.20" fill="#86182E" stroke="#480a18" stroke-width="0.5"/>
<circle cx="508.0" cy="118.0" r="1.20" fill="#86182E" stroke="#480a18" stroke-width="0.5"/>
<line x1="470.0" y1="46.1" x2="484.6" y2="46.1" stroke="#111" stroke-width="0.8"/>
<text x="477.3" y="44.3" font-size="6.0" font-family="Liberation Sans, Arial, sans-serif" text-anchor="middle" fill="#222" font-weight="normal" >0.057</text>
<text transform="translate(441.5,116.2) rotate(-90)" x="0" y="0" font-size="7.5" font-family="Liberation Sans, Arial, sans-serif" fill="#1a1a1a" stroke="#1a1a1a" stroke-width="0.3" textLength="67.2" lengthAdjust="spacingAndGlyphs"><tspan dy="0">CD8</tspan><tspan dy="-2.7" font-size="5.1">high</tspan><tspan dy="2.7">TIGIT</tspan><tspan dy="-2.7" font-size="5.1">high</tspan><tspan dy="2.7"> cells/mm</tspan><tspan dy="-2.7" font-size="5.1">2</tspan></text>
<circle cx="470.8" cy="130.8" r="2.4" fill="#E8A02C" stroke="#7a4c10" stroke-width="0.8"/>
<text x="475.6" y="132.9" font-size="5.8" font-family="Liberation Sans, Arial, sans-serif" text-anchor="start" fill="#444" font-weight="normal" >NI</text>
<circle cx="470.8" cy="141.6" r="2.4" fill="#2C8C3C" stroke="#184c22" stroke-width="0.8"/>
<text x="475.6" y="143.7" font-size="5.8" font-family="Liberation Sans, Arial, sans-serif" text-anchor="start" fill="#444" font-weight="normal" >EBV</text>
<circle cx="470.8" cy="152.4" r="2.4" fill="#4894C0" stroke="#205068" stroke-width="0.8"/>
<text x="475.6" y="154.5" font-size="5.8" font-family="Liberation Sans, Arial, sans-serif" text-anchor="start" fill="#444" font-weight="normal" >HIV/EBV</text>
<circle cx="470.8" cy="163.1" r="2.4" fill="#86182E" stroke="#480a18" stroke-width="0.8"/>
<text x="475.6" y="165.2" font-size="5.8" font-family="Liberation Sans, Arial, sans-serif" text-anchor="start" fill="#444" font-weight="normal" >HIV/EBV-ART</text>
<line x1="176.9" y1="180.4" x2="176.9" y2="264.8" stroke="#111" stroke-width="1.0"/>
<line x1="176.4" y1="264.3" x2="231.2" y2="264.3" stroke="#111" stroke-width="1.0"/>
<line x1="173.9" y1="183.6" x2="176.9" y2="183.6" stroke="#111" stroke-width="0.9"/>
<text x="171.7" y="185.8" font-size="6.0" font-family="Liberation Sans, Arial, sans-serif" text-anchor="end" fill="#1a1a1a" font-weight="normal" >600</text>
<line x1="173.9" y1="210.6" x2="176.9" y2="210.6" stroke="#111" stroke-width="0.9"/>
<text x="171.7" y="212.8" font-size="6.0" font-family="Liberation Sans, Arial, sans-serif" text-anchor="end" fill="#1a1a1a" font-weight="normal" >400</text>
<line x1="173.9" y1="237.4" x2="176.9" y2="237.4" stroke="#111" stroke-width="0.9"/>
<text x="171.7" y="239.6" font-size="6.0" font-family="Liberation Sans, Arial, sans-serif" text-anchor="end" fill="#1a1a1a" font-weight="normal" >200</text>
<line x1="173.9" y1="264.3" x2="176.9" y2="264.3" stroke="#111" stroke-width="0.9"/>
<text x="171.7" y="266.4" font-size="6.0" font-family="Liberation Sans, Arial, sans-serif" text-anchor="end" fill="#1a1a1a" font-weight="normal" >0</text>
<line x1="188.0" y1="264.3" x2="188.0" y2="266.7" stroke="#111" stroke-width="0.9"/>
<line x1="204.1" y1="264.3" x2="204.1" y2="266.7" stroke="#111" stroke-width="0.9"/>
<line x1="220.0" y1="264.3" x2="220.0" y2="266.7" stroke="#111" stroke-width="0.9"/>
<rect x="182.1" y="255.7" width="11.5" height="8.6" fill="#fff" stroke="#222" stroke-width="0.8"/>
<rect x="198.3" y="254.5" width="11.5" height="9.8" fill="#fff" stroke="#222" stroke-width="0.8"/>
<rect x="214.3" y="251.8" width="11.4" height="12.5" fill="#fff" stroke="#222" stroke-width="0.8"/>
<line x1="188.0" y1="251.6" x2="188.0" y2="264.3" stroke="#222" stroke-width="0.8"/>
<line x1="185.8" y1="251.6" x2="190.2" y2="251.6" stroke="#222" stroke-width="0.8"/>
<line x1="204.1" y1="250.5" x2="204.1" y2="264.3" stroke="#222" stroke-width="0.8"/>
<line x1="201.9" y1="250.5" x2="206.3" y2="250.5" stroke="#222" stroke-width="0.8"/>
<line x1="220.0" y1="244.4" x2="220.0" y2="259.0" stroke="#222" stroke-width="0.8"/>
<line x1="217.8" y1="244.4" x2="222.2" y2="244.4" stroke="#222" stroke-width="0.8"/>
<line x1="217.8" y1="259.0" x2="222.2" y2="259.0" stroke="#222" stroke-width="0.8"/>
<circle cx="188.2" cy="243.7" r="1.20" fill="#C48E50" stroke="#7a5428" stroke-width="0.5"/>
<circle cx="188.2" cy="250.4" r="1.20" fill="#C48E50" stroke="#7a5428" stroke-width="0.5"/>
<circle cx="188.2" cy="253.8" r="1.05" fill="#fff8f0" stroke="#B07C40" stroke-width="0.85"/>
<circle cx="186.6" cy="256.5" r="1.20" fill="#C48E50" stroke="#7a5428" stroke-width="0.5"/>
<circle cx="190.0" cy="257.2" r="1.05" fill="#fff8f0" stroke="#B07C40" stroke-width="0.85"/>
<circle cx="186.0" cy="260.6" r="1.05" fill="#fff8f0" stroke="#B07C40" stroke-width="0.85"/>
<circle cx="190.0" cy="261.7" r="1.20" fill="#C48E50" stroke="#7a5428" stroke-width="0.5"/>
<circle cx="188.2" cy="262.8" r="1.05" fill="#fff8f0" stroke="#B07C40" stroke-width="0.85"/>
<circle cx="204.2" cy="220.0" r="1.20" fill="#2C8C3C" stroke="#184c22" stroke-width="0.5"/>
<circle cx="203.5" cy="247.5" r="1.20" fill="#2C8C3C" stroke="#184c22" stroke-width="0.5"/>
<circle cx="205.8" cy="247.0" r="1.20" fill="#2C8C3C" stroke="#184c22" stroke-width="0.5"/>
<circle cx="204.2" cy="252.7" r="1.20" fill="#2C8C3C" stroke="#184c22" stroke-width="0.5"/>
<circle cx="201.0" cy="256.2" r="1.20" fill="#2C8C3C" stroke="#184c22" stroke-width="0.5"/>
<circle cx="203.4" cy="258.2" r="1.20" fill="#2C8C3C" stroke="#184c22" stroke-width="0.5"/>
<circle cx="206.0" cy="257.2" r="1.20" fill="#2C8C3C" stroke="#184c22" stroke-width="0.5"/>
<circle cx="208.0" cy="259.5" r="1.20" fill="#2C8C3C" stroke="#184c22" stroke-width="0.5"/>
<circle cx="201.8" cy="260.6" r="1.20" fill="#2C8C3C" stroke="#184c22" stroke-width="0.5"/>
<circle cx="204.6" cy="261.8" r="1.20" fill="#2C8C3C" stroke="#184c22" stroke-width="0.5"/>
<circle cx="207.0" cy="262.6" r="1.20" fill="#2C8C3C" stroke="#184c22" stroke-width="0.5"/>
<circle cx="202.6" cy="263.0" r="1.20" fill="#2C8C3C" stroke="#184c22" stroke-width="0.5"/>
<circle cx="220.0" cy="193.7" r="1.20" fill="#86182E" stroke="#480a18" stroke-width="0.5"/>
<circle cx="218.2" cy="255.0" r="1.20" fill="#86182E" stroke="#480a18" stroke-width="0.5"/>
<circle cx="222.0" cy="254.3" r="1.20" fill="#86182E" stroke="#480a18" stroke-width="0.5"/>
<circle cx="217.0" cy="259.5" r="1.05" fill="#fff8f0" stroke="#3C84B0" stroke-width="0.85"/>
<circle cx="220.4" cy="260.6" r="1.05" fill="#fff8f0" stroke="#3C84B0" stroke-width="0.85"/>
<circle cx="223.8" cy="260.6" r="1.20" fill="#86182E" stroke="#480a18" stroke-width="0.5"/>
<circle cx="223.4" cy="262.6" r="1.20" fill="#86182E" stroke="#480a18" stroke-width="0.5"/>
<circle cx="218.6" cy="262.8" r="1.20" fill="#86182E" stroke="#480a18" stroke-width="0.5"/>
<text transform="translate(156.9,261.7) rotate(-90)" x="0" y="0" font-size="7.5" font-family="Liberation Sans, Arial, sans-serif" fill="#1a1a1a" stroke="#1a1a1a" stroke-width="0.3" textLength="73.7" lengthAdjust="spacingAndGlyphs"><tspan dy="0">CD30</tspan><tspan dy="-2.7" font-size="5.1">high</tspan><tspan dy="2.7">PD-L1</tspan><tspan dy="-2.7" font-size="5.1">high</tspan><tspan dy="2.7"> cells/mm</tspan><tspan dy="-2.7" font-size="5.1">2</tspan></text>
<line x1="292.6" y1="176.2" x2="292.6" y2="264.8" stroke="#111" stroke-width="1.0"/>
<line x1="292.1" y1="264.3" x2="348.6" y2="264.3" stroke="#111" stroke-width="1.0"/>
<line x1="289.6" y1="179.0" x2="292.6" y2="179.0" stroke="#111" stroke-width="0.9"/>
<text x="287.4" y="181.2" font-size="6.0" font-family="Liberation Sans, Arial, sans-serif" text-anchor="end" fill="#1a1a1a" font-weight="normal" >100</text>
<line x1="289.6" y1="196.1" x2="292.6" y2="196.1" stroke="#111" stroke-width="0.9"/>
<text x="287.4" y="198.2" font-size="6.0" font-family="Liberation Sans, Arial, sans-serif" text-anchor="end" fill="#1a1a1a" font-weight="normal" >80</text>
<line x1="289.6" y1="213.2" x2="292.6" y2="213.2" stroke="#111" stroke-width="0.9"/>
<text x="287.4" y="215.3" font-size="6.0" font-family="Liberation Sans, Arial, sans-serif" text-anchor="end" fill="#1a1a1a" font-weight="normal" >60</text>
<line x1="289.6" y1="230.2" x2="292.6" y2="230.2" stroke="#111" stroke-width="0.9"/>
<text x="287.4" y="232.3" font-size="6.0" font-family="Liberation Sans, Arial, sans-serif" text-anchor="end" fill="#1a1a1a" font-weight="normal" >40</text>
<line x1="289.6" y1="247.3" x2="292.6" y2="247.3" stroke="#111" stroke-width="0.9"/>
<text x="287.4" y="249.5" font-size="6.0" font-family="Liberation Sans, Arial, sans-serif" text-anchor="end" fill="#1a1a1a" font-weight="normal" >20</text>
<line x1="289.6" y1="264.3" x2="292.6" y2="264.3" stroke="#111" stroke-width="0.9"/>
<text x="287.4" y="266.4" font-size="6.0" font-family="Liberation Sans, Arial, sans-serif" text-anchor="end" fill="#1a1a1a" font-weight="normal" >0</text>
<line x1="304.1" y1="264.3" x2="304.1" y2="266.7" stroke="#111" stroke-width="0.9"/>
<line x1="321.2" y1="264.3" x2="321.2" y2="266.7" stroke="#111" stroke-width="0.9"/>
<line x1="338.2" y1="264.3" x2="338.2" y2="266.7" stroke="#111" stroke-width="0.9"/>
<rect x="298.4" y="250.5" width="11.4" height="13.8" fill="#fff" stroke="#222" stroke-width="0.8"/>
<rect x="315.6" y="258.9" width="11.2" height="5.4" fill="#fff" stroke="#222" stroke-width="0.8"/>
<rect x="332.5" y="232.7" width="11.3" height="31.6" fill="#fff" stroke="#222" stroke-width="0.8"/>
<line x1="304.1" y1="229.2" x2="304.1" y2="264.3" stroke="#222" stroke-width="0.8"/>
<line x1="301.9" y1="229.2" x2="306.3" y2="229.2" stroke="#222" stroke-width="0.8"/>
<line x1="321.2" y1="251.3" x2="321.2" y2="264.3" stroke="#222" stroke-width="0.8"/>
<line x1="319.0" y1="251.3" x2="323.4" y2="251.3" stroke="#222" stroke-width="0.8"/>
<line x1="338.2" y1="207.9" x2="338.2" y2="256.5" stroke="#222" stroke-width="0.8"/>
<line x1="336.0" y1="207.9" x2="340.4" y2="207.9" stroke="#222" stroke-width="0.8"/>
<line x1="336.0" y1="256.5" x2="340.4" y2="256.5" stroke="#222" stroke-width="0.8"/>
<circle cx="304.1" cy="204.8" r="1.20" fill="#C48E50" stroke="#7a5428" stroke-width="0.5"/>
<circle cx="304.1" cy="232.8" r="1.05" fill="#fff8f0" stroke="#B07C40" stroke-width="0.85"/>
<circle cx="299.9" cy="256.5" r="1.20" fill="#C48E50" stroke="#7a5428" stroke-width="0.5"/>
<circle cx="299.9" cy="260.0" r="1.05" fill="#fff8f0" stroke="#B07C40" stroke-width="0.85"/>
<circle cx="299.9" cy="263.2" r="1.20" fill="#C48E50" stroke="#7a5428" stroke-width="0.5"/>
<circle cx="304.1" cy="261.4" r="1.05" fill="#fff8f0" stroke="#B07C40" stroke-width="0.85"/>
<circle cx="308.8" cy="258.8" r="1.05" fill="#fff8f0" stroke="#B07C40" stroke-width="0.85"/>
<circle cx="308.8" cy="262.4" r="1.20" fill="#C48E50" stroke="#7a5428" stroke-width="0.5"/>
<circle cx="321.2" cy="236.4" r="1.20" fill="#2C8C3C" stroke="#184c22" stroke-width="0.5"/>
<circle cx="321.2" cy="254.2" r="1.20" fill="#2C8C3C" stroke="#184c22" stroke-width="0.5"/>
<circle cx="318.0" cy="257.6" r="1.20" fill="#2C8C3C" stroke="#184c22" stroke-width="0.5"/>
<circle cx="324.2" cy="257.6" r="1.20" fill="#2C8C3C" stroke="#184c22" stroke-width="0.5"/>
<circle cx="316.6" cy="260.4" r="1.20" fill="#2C8C3C" stroke="#184c22" stroke-width="0.5"/>
<circle cx="320.2" cy="260.0" r="1.20" fill="#2C8C3C" stroke="#184c22" stroke-width="0.5"/>
<circle cx="323.4" cy="260.8" r="1.20" fill="#2C8C3C" stroke="#184c22" stroke-width="0.5"/>
<circle cx="326.0" cy="260.0" r="1.20" fill="#2C8C3C" stroke="#184c22" stroke-width="0.5"/>
<circle cx="318.6" cy="262.8" r="1.20" fill="#2C8C3C" stroke="#184c22" stroke-width="0.5"/>
<circle cx="322.2" cy="263.2" r="1.20" fill="#2C8C3C" stroke="#184c22" stroke-width="0.5"/>
<circle cx="325.2" cy="263.0" r="1.20" fill="#2C8C3C" stroke="#184c22" stroke-width="0.5"/>
<circle cx="338.2" cy="184.7" r="1.20" fill="#4894C0" stroke="#205068" stroke-width="0.5"/>
<circle cx="338.2" cy="213.8" r="1.20" fill="#86182E" stroke="#480a18" stroke-width="0.5"/>
<circle cx="338.2" cy="219.3" r="1.20" fill="#4894C0" stroke="#205068" stroke-width="0.5"/>
<circle cx="338.2" cy="227.6" r="1.20" fill="#86182E" stroke="#480a18" stroke-width="0.5"/>
<circle cx="338.2" cy="232.0" r="1.20" fill="#86182E" stroke="#480a18" stroke-width="0.5"/>
<circle cx="338.2" cy="240.0" r="1.05" fill="#fff8f0" stroke="#3C84B0" stroke-width="0.85"/>
<circle cx="338.2" cy="245.4" r="1.20" fill="#4894C0" stroke="#205068" stroke-width="0.5"/>
<circle cx="335.4" cy="252.5" r="1.20" fill="#86182E" stroke="#480a18" stroke-width="0.5"/>
<circle cx="340.6" cy="254.0" r="1.20" fill="#86182E" stroke="#480a18" stroke-width="0.5"/>
<circle cx="338.2" cy="257.4" r="1.20" fill="#86182E" stroke="#480a18" stroke-width="0.5"/>
<circle cx="338.2" cy="262.4" r="1.20" fill="#86182E" stroke="#480a18" stroke-width="0.5"/>
<line x1="321.2" y1="180.6" x2="339.2" y2="180.6" stroke="#111" stroke-width="0.8"/>
<text x="330.2" y="178.8" font-size="6.0" font-family="Liberation Sans, Arial, sans-serif" text-anchor="middle" fill="#222" font-weight="normal" >0.0027</text>
<text transform="translate(272.0,259.6) rotate(-90)" x="0" y="0" font-size="7.5" font-family="Liberation Sans, Arial, sans-serif" fill="#1a1a1a" stroke="#1a1a1a" stroke-width="0.3" textLength="74.9" lengthAdjust="spacingAndGlyphs"><tspan dy="0">CD30</tspan><tspan dy="-2.7" font-size="5.1">high</tspan><tspan dy="2.7">CD155</tspan><tspan dy="-2.7" font-size="5.1">high</tspan><tspan dy="2.7"> cells/mm</tspan><tspan dy="-2.7" font-size="5.1">2</tspan></text>
<line x1="402.0" y1="176.2" x2="402.0" y2="197.2" stroke="#111" stroke-width="1.0"/>
<line x1="402.0" y1="202.2" x2="402.0" y2="264.8" stroke="#111" stroke-width="1.0"/>
<line x1="401.5" y1="264.3" x2="458.2" y2="264.3" stroke="#111" stroke-width="1.0"/>
<line x1="399.6" y1="198.6" x2="404.4" y2="196.0" stroke="#111" stroke-width="0.9"/>
<line x1="399.6" y1="203.4" x2="404.4" y2="200.8" stroke="#111" stroke-width="0.9"/>
<line x1="399.0" y1="188.4" x2="402.0" y2="188.4" stroke="#111" stroke-width="0.9"/>
<text x="396.8" y="190.6" font-size="6.0" font-family="Liberation Sans, Arial, sans-serif" text-anchor="end" fill="#1a1a1a" font-weight="normal" >40</text>
<line x1="399.0" y1="214.9" x2="402.0" y2="214.9" stroke="#111" stroke-width="0.9"/>
<text x="396.8" y="217.1" font-size="6.0" font-family="Liberation Sans, Arial, sans-serif" text-anchor="end" fill="#1a1a1a" font-weight="normal" >20</text>
<line x1="399.0" y1="239.4" x2="402.0" y2="239.4" stroke="#111" stroke-width="0.9"/>
<text x="396.8" y="241.6" font-size="6.0" font-family="Liberation Sans, Arial, sans-serif" text-anchor="end" fill="#1a1a1a" font-weight="normal" >10</text>
<line x1="399.0" y1="264.3" x2="402.0" y2="264.3" stroke="#111" stroke-width="0.9"/>
<text x="396.8" y="266.4" font-size="6.0" font-family="Liberation Sans, Arial, sans-serif" text-anchor="end" fill="#1a1a1a" font-weight="normal" >0</text>
<line x1="413.4" y1="264.3" x2="413.4" y2="266.7" stroke="#111" stroke-width="0.9"/>
<line x1="429.8" y1="264.3" x2="429.8" y2="266.7" stroke="#111" stroke-width="0.9"/>
<line x1="446.4" y1="264.3" x2="446.4" y2="266.7" stroke="#111" stroke-width="0.9"/>
<rect x="407.5" y="237.4" width="12.3" height="26.9" fill="#fff" stroke="#222" stroke-width="0.8"/>
<rect x="424.2" y="258.2" width="11.2" height="6.1" fill="#fff" stroke="#222" stroke-width="0.8"/>
<rect x="440.6" y="251.8" width="12.0" height="12.5" fill="#fff" stroke="#222" stroke-width="0.8"/>
<line x1="413.4" y1="224.0" x2="413.4" y2="250.6" stroke="#222" stroke-width="0.8"/>
<line x1="411.2" y1="224.0" x2="415.6" y2="224.0" stroke="#222" stroke-width="0.8"/>
<line x1="411.2" y1="250.6" x2="415.6" y2="250.6" stroke="#222" stroke-width="0.8"/>
<line x1="429.8" y1="254.1" x2="429.8" y2="264.3" stroke="#222" stroke-width="0.8"/>
<line x1="427.6" y1="254.1" x2="432.0" y2="254.1" stroke="#222" stroke-width="0.8"/>
<line x1="446.4" y1="246.3" x2="446.4" y2="258.2" stroke="#222" stroke-width="0.8"/>
<line x1="444.2" y1="246.3" x2="448.6" y2="246.3" stroke="#222" stroke-width="0.8"/>
<line x1="444.2" y1="258.2" x2="448.6" y2="258.2" stroke="#222" stroke-width="0.8"/>
<circle cx="413.3" cy="183.7" r="1.20" fill="#C48E50" stroke="#7a5428" stroke-width="0.5"/>
<circle cx="411.4" cy="230.4" r="1.20" fill="#C48E50" stroke="#7a5428" stroke-width="0.5"/>
<circle cx="416.2" cy="232.8" r="1.20" fill="#C48E50" stroke="#7a5428" stroke-width="0.5"/>
<circle cx="413.3" cy="242.3" r="1.20" fill="#C48E50" stroke="#7a5428" stroke-width="0.5"/>
<circle cx="413.3" cy="250.6" r="1.20" fill="#C48E50" stroke="#7a5428" stroke-width="0.5"/>
<circle cx="410.7" cy="258.2" r="1.20" fill="#C48E50" stroke="#7a5428" stroke-width="0.5"/>
<circle cx="416.2" cy="257.2" r="1.20" fill="#C48E50" stroke="#7a5428" stroke-width="0.5"/>
<circle cx="410.7" cy="263.6" r="1.05" fill="#fff8f0" stroke="#B07C40" stroke-width="0.85"/>
<circle cx="415.0" cy="264.0" r="1.05" fill="#fff8f0" stroke="#B07C40" stroke-width="0.85"/>
<circle cx="429.9" cy="224.5" r="1.20" fill="#2C8C3C" stroke="#184c22" stroke-width="0.5"/>
<circle cx="429.9" cy="255.3" r="1.20" fill="#2C8C3C" stroke="#184c22" stroke-width="0.5"/>
<circle cx="428.0" cy="258.8" r="1.20" fill="#2C8C3C" stroke="#184c22" stroke-width="0.5"/>
<circle cx="431.6" cy="260.0" r="1.20" fill="#2C8C3C" stroke="#184c22" stroke-width="0.5"/>
<circle cx="426.8" cy="262.4" r="1.20" fill="#2C8C3C" stroke="#184c22" stroke-width="0.5"/>
<circle cx="432.8" cy="262.8" r="1.20" fill="#2C8C3C" stroke="#184c22" stroke-width="0.5"/>
<circle cx="429.9" cy="264.0" r="1.20" fill="#2C8C3C" stroke="#184c22" stroke-width="0.5"/>
<circle cx="446.2" cy="211.5" r="1.20" fill="#4894C0" stroke="#205068" stroke-width="0.5"/>
<circle cx="447.0" cy="240.6" r="1.20" fill="#86182E" stroke="#480a18" stroke-width="0.5"/>
<circle cx="445.3" cy="242.3" r="1.20" fill="#86182E" stroke="#480a18" stroke-width="0.5"/>
<circle cx="443.4" cy="261.2" r="1.20" fill="#86182E" stroke="#480a18" stroke-width="0.5"/>
<circle cx="446.2" cy="262.0" r="1.20" fill="#86182E" stroke="#480a18" stroke-width="0.5"/>
<circle cx="449.4" cy="261.2" r="1.20" fill="#86182E" stroke="#480a18" stroke-width="0.5"/>
<circle cx="446.2" cy="263.6" r="1.20" fill="#86182E" stroke="#480a18" stroke-width="0.5"/>
<circle cx="451.0" cy="262.8" r="1.20" fill="#86182E" stroke="#480a18" stroke-width="0.5"/>
<text transform="translate(376.0,254.1) rotate(-90)" x="0" y="0" font-size="7.5" font-family="Liberation Sans, Arial, sans-serif" fill="#1a1a1a" stroke="#1a1a1a" stroke-width="0.3" textLength="61.6" lengthAdjust="spacingAndGlyphs"><tspan dy="0">CD30</tspan><tspan dy="-2.7" font-size="5.1">high</tspan><tspan dy="2.7">PD-L1</tspan><tspan dy="-2.7" font-size="5.1">high</tspan><tspan dy="2.7">CD155</tspan><tspan dy="-2.7" font-size="5.1">high</tspan></text>
<text transform="translate(387.3,232.8) rotate(-90)" x="0" y="0" font-size="7.5" font-family="Liberation Sans, Arial, sans-serif" fill="#1a1a1a" stroke="#1a1a1a" stroke-width="0.3" textLength="24.9" lengthAdjust="spacingAndGlyphs"><tspan dy="0">cells/mm</tspan><tspan dy="-2.7" font-size="5.1">2</tspan></text>
<line x1="177.8" y1="315.2" x2="177.8" y2="334.0" stroke="#111" stroke-width="1.0"/>
<line x1="177.8" y1="340.2" x2="177.8" y2="402.6" stroke="#111" stroke-width="1.0"/>
<line x1="177.3" y1="402.2" x2="234.0" y2="402.2" stroke="#111" stroke-width="1.0"/>
<line x1="175.4" y1="335.6" x2="180.2" y2="333.0" stroke="#111" stroke-width="0.9"/>
<line x1="175.4" y1="341.2" x2="180.2" y2="338.6" stroke="#111" stroke-width="0.9"/>
<line x1="174.8" y1="317.7" x2="177.8" y2="317.7" stroke="#111" stroke-width="0.9"/>
<text x="172.6" y="319.8" font-size="6.0" font-family="Liberation Sans, Arial, sans-serif" text-anchor="end" fill="#1a1a1a" font-weight="normal" >4000</text>
<line x1="174.8" y1="332.6" x2="177.8" y2="332.6" stroke="#111" stroke-width="0.9"/>
<text x="172.6" y="334.8" font-size="6.0" font-family="Liberation Sans, Arial, sans-serif" text-anchor="end" fill="#1a1a1a" font-weight="normal" >2000</text>
<line x1="174.8" y1="349.9" x2="177.8" y2="349.9" stroke="#111" stroke-width="0.9"/>
<text x="172.6" y="352.0" font-size="6.0" font-family="Liberation Sans, Arial, sans-serif" text-anchor="end" fill="#1a1a1a" font-weight="normal" >1000</text>
<line x1="174.8" y1="376.0" x2="177.8" y2="376.0" stroke="#111" stroke-width="0.9"/>
<text x="172.6" y="378.1" font-size="6.0" font-family="Liberation Sans, Arial, sans-serif" text-anchor="end" fill="#1a1a1a" font-weight="normal" >500</text>
<line x1="174.8" y1="402.2" x2="177.8" y2="402.2" stroke="#111" stroke-width="0.9"/>
<text x="172.6" y="404.3" font-size="6.0" font-family="Liberation Sans, Arial, sans-serif" text-anchor="end" fill="#1a1a1a" font-weight="normal" >0</text>
<line x1="188.6" y1="402.2" x2="188.6" y2="404.6" stroke="#111" stroke-width="0.9"/>
<line x1="205.2" y1="402.2" x2="205.2" y2="404.6" stroke="#111" stroke-width="0.9"/>
<line x1="222.2" y1="402.2" x2="222.2" y2="404.6" stroke="#111" stroke-width="0.9"/>
<rect x="182.7" y="389.6" width="11.7" height="12.6" fill="#fff" stroke="#222" stroke-width="0.8"/>
<rect x="199.3" y="378.8" width="11.8" height="23.4" fill="#fff" stroke="#222" stroke-width="0.8"/>
<rect x="216.3" y="370.2" width="11.9" height="32.0" fill="#fff" stroke="#222" stroke-width="0.8"/>
<line x1="188.6" y1="385.4" x2="188.6" y2="393.4" stroke="#222" stroke-width="0.8"/>
<line x1="186.4" y1="385.4" x2="190.8" y2="385.4" stroke="#222" stroke-width="0.8"/>
<line x1="186.4" y1="393.4" x2="190.8" y2="393.4" stroke="#222" stroke-width="0.8"/>
<line x1="205.2" y1="373.5" x2="205.2" y2="384.0" stroke="#222" stroke-width="0.8"/>
<line x1="203.0" y1="373.5" x2="207.4" y2="373.5" stroke="#222" stroke-width="0.8"/>
<line x1="203.0" y1="384.0" x2="207.4" y2="384.0" stroke="#222" stroke-width="0.8"/>
<line x1="222.2" y1="352.2" x2="222.2" y2="387.0" stroke="#222" stroke-width="0.8"/>
<line x1="220.0" y1="352.2" x2="224.4" y2="352.2" stroke="#222" stroke-width="0.8"/>
<line x1="220.0" y1="387.0" x2="224.4" y2="387.0" stroke="#222" stroke-width="0.8"/>
<circle cx="188.6" cy="377.5" r="1.05" fill="#fff8f0" stroke="#C8822C" stroke-width="0.85"/>
<circle cx="188.6" cy="381.2" r="1.05" fill="#fff8f0" stroke="#C8822C" stroke-width="0.85"/>
<circle cx="188.6" cy="385.4" r="1.20" fill="#E8A02C" stroke="#7a4c10" stroke-width="0.5"/>
<circle cx="186.7" cy="389.4" r="1.05" fill="#fff8f0" stroke="#C8822C" stroke-width="0.85"/>
<circle cx="191.0" cy="389.4" r="1.05" fill="#fff8f0" stroke="#C8822C" stroke-width="0.85"/>
<circle cx="188.6" cy="393.0" r="1.05" fill="#fff8f0" stroke="#C8822C" stroke-width="0.85"/>
<circle cx="188.6" cy="396.6" r="1.05" fill="#fff8f0" stroke="#C8822C" stroke-width="0.85"/>
<circle cx="186.7" cy="400.4" r="1.05" fill="#fff8f0" stroke="#C8822C" stroke-width="0.85"/>
<circle cx="191.0" cy="400.2" r="1.05" fill="#fff8f0" stroke="#C8822C" stroke-width="0.85"/>
<circle cx="205.2" cy="342.7" r="1.05" fill="#fff8f0" stroke="#2C8C3C" stroke-width="0.85"/>
<circle cx="205.2" cy="345.6" r="1.05" fill="#fff8f0" stroke="#2C8C3C" stroke-width="0.85"/>
<circle cx="205.2" cy="363.3" r="1.20" fill="#2C8C3C" stroke="#184c22" stroke-width="0.5"/>
<circle cx="202.8" cy="379.0" r="1.20" fill="#2C8C3C" stroke="#184c22" stroke-width="0.5"/>
<circle cx="207.6" cy="379.4" r="1.20" fill="#2C8C3C" stroke="#184c22" stroke-width="0.5"/>
<circle cx="202.8" cy="383.4" r="1.20" fill="#2C8C3C" stroke="#184c22" stroke-width="0.5"/>
<circle cx="207.6" cy="383.0" r="1.20" fill="#2C8C3C" stroke="#184c22" stroke-width="0.5"/>
<circle cx="205.2" cy="388.2" r="1.20" fill="#2C8C3C" stroke="#184c22" stroke-width="0.5"/>
<circle cx="205.2" cy="393.4" r="1.20" fill="#2C8C3C" stroke="#184c22" stroke-width="0.5"/>
<circle cx="202.8" cy="398.8" r="1.20" fill="#2C8C3C" stroke="#184c22" stroke-width="0.5"/>
<circle cx="207.6" cy="398.2" r="1.20" fill="#2C8C3C" stroke="#184c22" stroke-width="0.5"/>
<circle cx="222.2" cy="323.7" r="1.20" fill="#86182E" stroke="#480a18" stroke-width="0.5"/>
<circle cx="222.2" cy="364.0" r="1.05" fill="#fff8f0" stroke="#3C84B0" stroke-width="0.85"/>
<circle cx="219.4" cy="380.6" r="1.20" fill="#4894C0" stroke="#205068" stroke-width="0.5"/>
<circle cx="224.6" cy="382.2" r="1.20" fill="#86182E" stroke="#480a18" stroke-width="0.5"/>
<circle cx="222.2" cy="385.8" r="1.20" fill="#86182E" stroke="#480a18" stroke-width="0.5"/>
<circle cx="219.4" cy="391.7" r="1.20" fill="#86182E" stroke="#480a18" stroke-width="0.5"/>
<circle cx="224.6" cy="391.0" r="1.20" fill="#4894C0" stroke="#205068" stroke-width="0.5"/>
<circle cx="219.4" cy="400.0" r="1.20" fill="#86182E" stroke="#480a18" stroke-width="0.5"/>
<circle cx="224.6" cy="399.0" r="1.20" fill="#86182E" stroke="#480a18" stroke-width="0.5"/>
<text transform="translate(151.9,391.8) rotate(-90)" x="0" y="0" font-size="7.5" font-family="Liberation Sans, Arial, sans-serif" fill="#1a1a1a" stroke="#1a1a1a" stroke-width="0.3" textLength="64.8" lengthAdjust="spacingAndGlyphs"><tspan dy="0">CD8</tspan><tspan dy="-2.7" font-size="5.1">high</tspan><tspan dy="2.7">GrzB</tspan><tspan dy="-2.7" font-size="5.1">high</tspan><tspan dy="2.7"> cells/mm</tspan><tspan dy="-2.7" font-size="5.1">2</tspan></text>
<line x1="293.1" y1="315.4" x2="293.1" y2="402.6" stroke="#111" stroke-width="1.0"/>
<line x1="292.6" y1="402.2" x2="349.6" y2="402.2" stroke="#111" stroke-width="1.0"/>
<line x1="290.1" y1="317.7" x2="293.1" y2="317.7" stroke="#111" stroke-width="0.9"/>
<text x="287.9" y="319.8" font-size="6.0" font-family="Liberation Sans, Arial, sans-serif" text-anchor="end" fill="#1a1a1a" font-weight="normal" >1000</text>
<line x1="290.1" y1="334.7" x2="293.1" y2="334.7" stroke="#111" stroke-width="0.9"/>
<text x="287.9" y="336.8" font-size="6.0" font-family="Liberation Sans, Arial, sans-serif" text-anchor="end" fill="#1a1a1a" font-weight="normal" >800</text>
<line x1="290.1" y1="351.5" x2="293.1" y2="351.5" stroke="#111" stroke-width="0.9"/>
<text x="287.9" y="353.6" font-size="6.0" font-family="Liberation Sans, Arial, sans-serif" text-anchor="end" fill="#1a1a1a" font-weight="normal" >600</text>
<line x1="290.1" y1="368.4" x2="293.1" y2="368.4" stroke="#111" stroke-width="0.9"/>
<text x="287.9" y="370.5" font-size="6.0" font-family="Liberation Sans, Arial, sans-serif" text-anchor="end" fill="#1a1a1a" font-weight="normal" >400</text>
<line x1="290.1" y1="385.3" x2="293.1" y2="385.3" stroke="#111" stroke-width="0.9"/>
<text x="287.9" y="387.4" font-size="6.0" font-family="Liberation Sans, Arial, sans-serif" text-anchor="end" fill="#1a1a1a" font-weight="normal" >200</text>
<line x1="290.1" y1="402.2" x2="293.1" y2="402.2" stroke="#111" stroke-width="0.9"/>
<text x="287.9" y="404.3" font-size="6.0" font-family="Liberation Sans, Arial, sans-serif" text-anchor="end" fill="#1a1a1a" font-weight="normal" >0</text>
<line x1="304.2" y1="402.2" x2="304.2" y2="404.6" stroke="#111" stroke-width="0.9"/>
<line x1="321.2" y1="402.2" x2="321.2" y2="404.6" stroke="#111" stroke-width="0.9"/>
<line x1="337.8" y1="402.2" x2="337.8" y2="404.6" stroke="#111" stroke-width="0.9"/>
<rect x="298.5" y="395.4" width="11.5" height="6.8" fill="#fff" stroke="#222" stroke-width="0.8"/>
<rect x="315.3" y="384.2" width="11.8" height="18.0" fill="#fff" stroke="#222" stroke-width="0.8"/>
<rect x="332.1" y="391.0" width="11.5" height="11.2" fill="#fff" stroke="#222" stroke-width="0.8"/>
<line x1="304.2" y1="387.0" x2="304.2" y2="402.2" stroke="#222" stroke-width="0.8"/>
<line x1="302.0" y1="387.0" x2="306.4" y2="387.0" stroke="#222" stroke-width="0.8"/>
<line x1="321.2" y1="362.1" x2="321.2" y2="402.2" stroke="#222" stroke-width="0.8"/>
<line x1="319.0" y1="362.1" x2="323.4" y2="362.1" stroke="#222" stroke-width="0.8"/>
<line x1="337.8" y1="376.4" x2="337.8" y2="402.2" stroke="#222" stroke-width="0.8"/>
<line x1="335.6" y1="376.4" x2="340.0" y2="376.4" stroke="#222" stroke-width="0.8"/>
<circle cx="302.2" cy="383.9" r="1.20" fill="#E8A02C" stroke="#7a4c10" stroke-width="0.5"/>
<circle cx="304.2" cy="386.3" r="1.05" fill="#fff8f0" stroke="#C8822C" stroke-width="0.85"/>
<circle cx="305.2" cy="387.8" r="1.20" fill="#E8A02C" stroke="#7a4c10" stroke-width="0.5"/>
<circle cx="300.0" cy="400.0" r="1.20" fill="#E8A02C" stroke="#7a4c10" stroke-width="0.5"/>
<circle cx="302.4" cy="400.8" r="1.20" fill="#E8A02C" stroke="#7a4c10" stroke-width="0.5"/>
<circle cx="304.6" cy="400.0" r="1.20" fill="#E8A02C" stroke="#7a4c10" stroke-width="0.5"/>
<circle cx="307.0" cy="400.8" r="1.20" fill="#E8A02C" stroke="#7a4c10" stroke-width="0.5"/>
<circle cx="309.0" cy="400.0" r="1.20" fill="#E8A02C" stroke="#7a4c10" stroke-width="0.5"/>
<circle cx="303.4" cy="398.0" r="1.20" fill="#E8A02C" stroke="#7a4c10" stroke-width="0.5"/>
<circle cx="321.2" cy="324.7" r="1.20" fill="#2C8C3C" stroke="#184c22" stroke-width="0.5"/>
<circle cx="321.2" cy="366.4" r="1.20" fill="#2C8C3C" stroke="#184c22" stroke-width="0.5"/>
<circle cx="321.2" cy="374.5" r="1.20" fill="#2C8C3C" stroke="#184c22" stroke-width="0.5"/>
<circle cx="321.2" cy="378.2" r="1.20" fill="#2C8C3C" stroke="#184c22" stroke-width="0.5"/>
<circle cx="321.2" cy="381.2" r="1.20" fill="#2C8C3C" stroke="#184c22" stroke-width="0.5"/>
<circle cx="323.6" cy="391.8" r="1.20" fill="#2C8C3C" stroke="#184c22" stroke-width="0.5"/>
<circle cx="320.0" cy="394.2" r="1.20" fill="#2C8C3C" stroke="#184c22" stroke-width="0.5"/>
<circle cx="317.6" cy="399.0" r="1.20" fill="#2C8C3C" stroke="#184c22" stroke-width="0.5"/>
<circle cx="321.2" cy="398.2" r="1.20" fill="#2C8C3C" stroke="#184c22" stroke-width="0.5"/>
<circle cx="324.8" cy="400.0" r="1.20" fill="#2C8C3C" stroke="#184c22" stroke-width="0.5"/>
<circle cx="322.4" cy="396.0" r="1.20" fill="#2C8C3C" stroke="#184c22" stroke-width="0.5"/>
<circle cx="337.8" cy="365.0" r="1.20" fill="#4894C0" stroke="#205068" stroke-width="0.5"/>
<circle cx="337.8" cy="370.4" r="1.20" fill="#86182E" stroke="#480a18" stroke-width="0.5"/>
<circle cx="337.8" cy="385.4" r="1.20" fill="#4894C0" stroke="#205068" stroke-width="0.5"/>
<circle cx="337.8" cy="390.6" r="1.20" fill="#86182E" stroke="#480a18" stroke-width="0.5"/>
<circle cx="334.4" cy="400.4" r="1.20" fill="#86182E" stroke="#480a18" stroke-width="0.5"/>
<circle cx="337.0" cy="401.0" r="1.20" fill="#86182E" stroke="#480a18" stroke-width="0.5"/>
<circle cx="339.6" cy="400.4" r="1.20" fill="#86182E" stroke="#480a18" stroke-width="0.5"/>
<circle cx="342.4" cy="400.6" r="1.20" fill="#86182E" stroke="#480a18" stroke-width="0.5"/>
<text transform="translate(258.2,385.8) rotate(-90)" x="0" y="0" font-size="6.6" font-family="Liberation Sans, Arial, sans-serif" fill="#1a1a1a" stroke="#1a1a1a" stroke-width="0.3" textLength="55.9" lengthAdjust="spacingAndGlyphs"><tspan dy="0">CD8</tspan><tspan dy="-2.7" font-size="4.5">high</tspan><tspan dy="2.7">GrzB</tspan><tspan dy="-2.7" font-size="4.5">high</tspan><tspan dy="2.7">PD1</tspan><tspan dy="-2.7" font-size="4.5">high</tspan></text>
<text transform="translate(265.4,384.6) rotate(-90)" x="0" y="0" font-size="6.6" font-family="Liberation Sans, Arial, sans-serif" fill="#1a1a1a" stroke="#1a1a1a" stroke-width="0.3" textLength="53.5" lengthAdjust="spacingAndGlyphs"><tspan dy="0">(no of cells per mm</tspan><tspan dy="-2.7" font-size="4.5">2</tspan><tspan dy="2.7">)</tspan></text>
<line x1="401.8" y1="318.4" x2="401.8" y2="402.6" stroke="#111" stroke-width="1.0"/>
<line x1="401.3" y1="402.2" x2="458.4" y2="402.2" stroke="#111" stroke-width="1.0"/>
<line x1="398.8" y1="321.2" x2="401.8" y2="321.2" stroke="#111" stroke-width="0.9"/>
<text x="396.6" y="323.3" font-size="6.0" font-family="Liberation Sans, Arial, sans-serif" text-anchor="end" fill="#1a1a1a" font-weight="normal" >2500</text>
<line x1="398.8" y1="337.2" x2="401.8" y2="337.2" stroke="#111" stroke-width="0.9"/>
<text x="396.6" y="339.3" font-size="6.0" font-family="Liberation Sans, Arial, sans-serif" text-anchor="end" fill="#1a1a1a" font-weight="normal" >2000</text>
<line x1="398.8" y1="353.4" x2="401.8" y2="353.4" stroke="#111" stroke-width="0.9"/>
<text x="396.6" y="355.5" font-size="6.0" font-family="Liberation Sans, Arial, sans-serif" text-anchor="end" fill="#1a1a1a" font-weight="normal" >1500</text>
<line x1="398.8" y1="369.6" x2="401.8" y2="369.6" stroke="#111" stroke-width="0.9"/>
<text x="396.6" y="371.8" font-size="6.0" font-family="Liberation Sans, Arial, sans-serif" text-anchor="end" fill="#1a1a1a" font-weight="normal" >1000</text>
<line x1="398.8" y1="386.0" x2="401.8" y2="386.0" stroke="#111" stroke-width="0.9"/>
<text x="396.6" y="388.1" font-size="6.0" font-family="Liberation Sans, Arial, sans-serif" text-anchor="end" fill="#1a1a1a" font-weight="normal" >500</text>
<line x1="398.8" y1="402.2" x2="401.8" y2="402.2" stroke="#111" stroke-width="0.9"/>
<text x="396.6" y="404.3" font-size="6.0" font-family="Liberation Sans, Arial, sans-serif" text-anchor="end" fill="#1a1a1a" font-weight="normal" >0</text>
<line x1="412.6" y1="402.2" x2="412.6" y2="404.6" stroke="#111" stroke-width="0.9"/>
<line x1="429.2" y1="402.2" x2="429.2" y2="404.6" stroke="#111" stroke-width="0.9"/>
<line x1="445.4" y1="402.2" x2="445.4" y2="404.6" stroke="#111" stroke-width="0.9"/>
<rect x="407.0" y="394.2" width="11.4" height="8.0" fill="#fff" stroke="#222" stroke-width="0.8"/>
<rect x="423.6" y="379.2" width="11.4" height="23.0" fill="#fff" stroke="#222" stroke-width="0.8"/>
<rect x="439.8" y="370.4" width="11.5" height="31.8" fill="#fff" stroke="#222" stroke-width="0.8"/>
<line x1="412.6" y1="391.8" x2="412.6" y2="396.5" stroke="#222" stroke-width="0.8"/>
<line x1="410.4" y1="391.8" x2="414.8" y2="391.8" stroke="#222" stroke-width="0.8"/>
<line x1="410.4" y1="396.5" x2="414.8" y2="396.5" stroke="#222" stroke-width="0.8"/>
<line x1="429.2" y1="372.8" x2="429.2" y2="385.8" stroke="#222" stroke-width="0.8"/>
<line x1="427.0" y1="372.8" x2="431.4" y2="372.8" stroke="#222" stroke-width="0.8"/>
<line x1="427.0" y1="385.8" x2="431.4" y2="385.8" stroke="#222" stroke-width="0.8"/>
<line x1="445.4" y1="365.0" x2="445.4" y2="377.5" stroke="#222" stroke-width="0.8"/>
<line x1="443.2" y1="365.0" x2="447.6" y2="365.0" stroke="#222" stroke-width="0.8"/>
<line x1="443.2" y1="377.5" x2="447.6" y2="377.5" stroke="#222" stroke-width="0.8"/>
<circle cx="412.6" cy="383.5" r="1.20" fill="#E8A02C" stroke="#7a4c10" stroke-width="0.5"/>
<circle cx="412.6" cy="390.6" r="1.20" fill="#E8A02C" stroke="#7a4c10" stroke-width="0.5"/>
<circle cx="410.7" cy="394.6" r="1.20" fill="#E8A02C" stroke="#7a4c10" stroke-width="0.5"/>
<circle cx="415.0" cy="395.2" r="1.20" fill="#E8A02C" stroke="#7a4c10" stroke-width="0.5"/>
<circle cx="409.7" cy="398.2" r="1.05" fill="#fff8f0" stroke="#C8822C" stroke-width="0.85"/>
<circle cx="412.6" cy="397.4" r="1.05" fill="#fff8f0" stroke="#C8822C" stroke-width="0.85"/>
<circle cx="416.2" cy="398.2" r="1.05" fill="#fff8f0" stroke="#C8822C" stroke-width="0.85"/>
<circle cx="410.7" cy="400.2" r="1.20" fill="#E8A02C" stroke="#7a4c10" stroke-width="0.5"/>
<circle cx="415.0" cy="400.6" r="1.20" fill="#E8A02C" stroke="#7a4c10" stroke-width="0.5"/>
<circle cx="429.2" cy="347.4" r="1.20" fill="#2C8C3C" stroke="#184c22" stroke-width="0.5"/>
<circle cx="429.2" cy="353.4" r="1.20" fill="#2C8C3C" stroke="#184c22" stroke-width="0.5"/>
<circle cx="429.2" cy="361.0" r="1.20" fill="#2C8C3C" stroke="#184c22" stroke-width="0.5"/>
<circle cx="429.2" cy="365.7" r="1.20" fill="#2C8C3C" stroke="#184c22" stroke-width="0.5"/>
<circle cx="429.2" cy="373.0" r="1.20" fill="#2C8C3C" stroke="#184c22" stroke-width="0.5"/>
<circle cx="429.2" cy="375.4" r="1.20" fill="#2C8C3C" stroke="#184c22" stroke-width="0.5"/>
<circle cx="426.8" cy="381.2" r="1.20" fill="#2C8C3C" stroke="#184c22" stroke-width="0.5"/>
<circle cx="431.6" cy="380.6" r="1.20" fill="#2C8C3C" stroke="#184c22" stroke-width="0.5"/>
<circle cx="429.2" cy="385.8" r="1.20" fill="#2C8C3C" stroke="#184c22" stroke-width="0.5"/>
<circle cx="426.8" cy="390.6" r="1.20" fill="#2C8C3C" stroke="#184c22" stroke-width="0.5"/>
<circle cx="431.6" cy="390.2" r="1.20" fill="#2C8C3C" stroke="#184c22" stroke-width="0.5"/>
<circle cx="426.8" cy="398.2" r="1.20" fill="#2C8C3C" stroke="#184c22" stroke-width="0.5"/>
<circle cx="431.6" cy="398.2" r="1.20" fill="#2C8C3C" stroke="#184c22" stroke-width="0.5"/>
<circle cx="445.3" cy="330.9" r="1.20" fill="#86182E" stroke="#480a18" stroke-width="0.5"/>
<circle cx="445.3" cy="355.0" r="1.20" fill="#86182E" stroke="#480a18" stroke-width="0.5"/>
<circle cx="443.0" cy="359.3" r="1.20" fill="#86182E" stroke="#480a18" stroke-width="0.5"/>
<circle cx="447.7" cy="359.3" r="1.20" fill="#86182E" stroke="#480a18" stroke-width="0.5"/>
<circle cx="445.3" cy="363.3" r="1.20" fill="#86182E" stroke="#480a18" stroke-width="0.5"/>
<circle cx="445.3" cy="378.7" r="1.20" fill="#4894C0" stroke="#205068" stroke-width="0.5"/>
<circle cx="445.3" cy="385.4" r="1.20" fill="#4894C0" stroke="#205068" stroke-width="0.5"/>
<circle cx="445.3" cy="390.6" r="1.20" fill="#4894C0" stroke="#205068" stroke-width="0.5"/>
<circle cx="445.3" cy="396.5" r="1.20" fill="#86182E" stroke="#480a18" stroke-width="0.5"/>
<circle cx="445.3" cy="399.6" r="1.20" fill="#86182E" stroke="#480a18" stroke-width="0.5"/>
<line x1="408.4" y1="324.3" x2="446.2" y2="324.3" stroke="#111" stroke-width="0.8"/>
<text x="427.6" y="322.5" font-size="6.0" font-family="Liberation Sans, Arial, sans-serif" text-anchor="middle" fill="#222" font-weight="normal" >0.0309</text>
<line x1="408.4" y1="335.5" x2="432.2" y2="335.5" stroke="#111" stroke-width="0.8"/>
<text x="421.0" y="333.7" font-size="6.0" font-family="Liberation Sans, Arial, sans-serif" text-anchor="middle" fill="#222" font-weight="normal" >0.0309</text>
<text transform="translate(376.9,395.8) rotate(-90)" x="0" y="0" font-size="7.5" font-family="Liberation Sans, Arial, sans-serif" fill="#1a1a1a" stroke="#1a1a1a" stroke-width="0.3" textLength="69.7" lengthAdjust="spacingAndGlyphs"><tspan dy="0">CD8</tspan><tspan dy="-2.7" font-size="5.1">high</tspan><tspan dy="2.7">CXCR3</tspan><tspan dy="-2.7" font-size="5.1">high</tspan><tspan dy="2.7"> cells/mm</tspan><tspan dy="-2.7" font-size="5.1">2</tspan></text>
<rect x="0" y="0" width="520" height="1" fill="#565656"/><rect x="0" y="0" width="1" height="422" fill="#606060"/><rect x="518.9" y="0" width="1.1" height="422" fill="#4a4a4a"/><rect x="0" y="420.7" width="520" height="1.3" fill="#383838"/>
</svg></body></html>
